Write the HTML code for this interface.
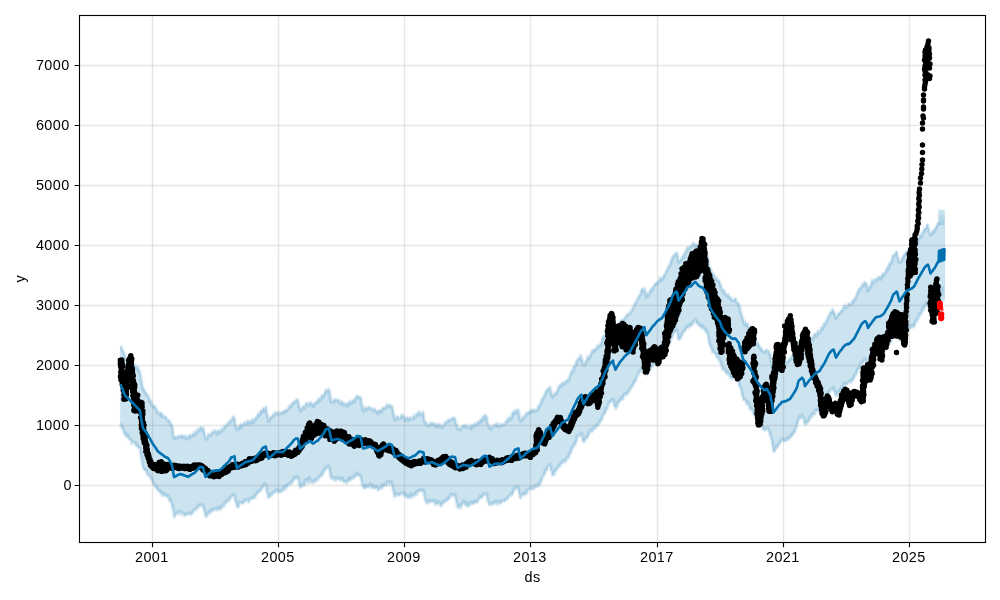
<!DOCTYPE html><html><head><meta charset="utf-8"><title>forecast</title><style>
html,body{margin:0;padding:0;background:#fff}svg{display:block;will-change:transform}text{font-family:"Liberation Sans",sans-serif;font-size:14.4px;fill:#000;letter-spacing:0.4px}
</style></head><body>
<svg width="1000" height="600" viewBox="0 0 1000 600">
<rect width="1000" height="600" fill="#fff"/>
<clipPath id="c"><rect x="79.5" y="15.5" width="906.0" height="527.0"/></clipPath>
<g clip-path="url(#c)">
<path d="M120.5,347.4 120.8,345.4 121,346.3 121.2,344.9 121.5,349.7 121.8,349.5 122,348.1 122.2,350 122.5,351.5 122.8,351.2 123,351.5 123.2,350.7 123.5,351.6 123.8,353.2 124,355 124.2,353.5 124.5,353.9 124.8,358.1 125,356.9 125.2,360.4 125.5,359.2 125.8,359.5 126,360.1 126.2,358.7 126.5,359 126.8,357.1 127,357.7 127.2,359.6 127.5,360.9 127.8,361 128,362.5 128.2,360.4 128.5,360.6 128.8,362.1 129,361.3 129.2,361.7 129.5,360.7 129.8,363.3 130,360.9 130.2,363.4 130.5,361.7 130.8,365.7 131,363.4 131.2,365.4 131.5,362.1 131.8,363.5 132,366.1 132.2,364.2 132.5,365.9 132.8,365.1 133,362.8 133.2,365.9 133.5,366.4 133.8,364.8 134,367.2 134.2,365.5 134.5,364.9 134.8,365.8 135,365 135.2,369.3 135.5,365.1 135.8,368.6 136,369.1 136.2,365.7 136.5,366.3 136.8,369.3 137,368.2 137.2,369.5 137.5,370.3 137.8,368.1 138,366.9 138.2,365.4 138.5,370.2 138.8,369.9 139,372 139.2,371.8 139.5,369.7 139.8,373.6 140,373 140.2,374.6 140.5,373.9 140.8,376.8 141,378.5 141.2,380 141.5,380.4 141.8,383.6 142,384.6 142.2,386.1 142.5,386.4 142.8,390.1 143,389.9 143.2,386.1 143.5,388.6 143.8,389.4 144,391.1 144.2,389.9 144.5,390.4 144.8,390.6 145,393 145.2,392.3 145.5,392.5 145.8,392.6 146,394.5 146.2,393.4 146.5,392.2 146.8,395.3 147,393.9 147.2,395.5 147.5,395.8 147.8,397.1 148,397.2 148.2,395.6 148.5,396.5 148.8,395.8 149,400.2 149.2,399.3 149.5,401.3 149.8,400 150,398.6 150.2,403.3 150.5,401.4 150.8,401.2 151,401.5 151.2,403.5 151.5,404.5 151.8,402.9 152,406.5 152.2,404.7 152.5,404.9 152.8,407.7 153,406.7 153.2,405.1 153.5,403.8 153.8,407 154,408.2 154.2,407.6 154.5,405.9 154.8,406.2 155,405.6 155.2,407.7 155.5,408.8 155.8,409.4 156,407.7 156.2,409.4 156.5,410.3 156.8,409.6 157,410.6 157.2,414.1 157.5,412.2 157.8,413.4 158,412.2 158.2,412.9 158.5,410.9 158.8,413.1 159,414.8 159.2,416.3 159.5,415.6 159.8,415.1 160,413.9 160.2,412.6 160.5,412.7 160.8,414.6 161,413.8 161.2,416.9 161.5,414.4 161.8,413 162,413.6 162.2,412.9 162.5,413.7 162.8,417.2 163,415.9 163.2,416.7 163.5,418.1 163.8,418.4 164,416.2 164.2,418.5 164.5,417.3 164.8,416.9 165,417.6 165.2,415.3 165.5,416.3 165.8,417.3 166,418.4 166.2,417.5 166.5,418.2 166.8,420 167,420.9 167.2,420.4 167.5,421.3 167.8,419.4 168,419.6 168.2,420.9 168.5,420.5 168.8,420.2 169,422.9 169.2,420.6 169.5,420.1 169.8,422.4 170,424.6 170.2,422.8 170.5,424.6 170.8,423 171,423.5 171.2,424 171.5,425.5 171.8,428.6 172,424.6 172.2,428.9 172.5,426.4 172.8,429.8 173,433.6 173.2,435.7 173.5,436.6 173.8,435.2 174,438.7 174.2,436.6 174.5,440.9 174.8,437.2 175,437.7 175.2,436.2 175.5,437.2 175.8,436.4 176,439.3 176.2,437.8 176.5,438.9 176.8,437 177,436.9 177.2,438.8 177.5,436 177.8,435 178,437.9 178.2,435.7 178.5,436.2 178.8,437.5 179,435.2 179.2,437.5 179.5,435.8 179.8,438.6 180,438.3 180.2,436.1 180.5,436.5 180.8,435.5 181,436.5 181.2,437.3 181.5,434.5 181.8,437.9 182,435.6 182.2,436.3 182.5,434.8 182.8,439.4 183,436.7 183.2,437 183.5,435.9 183.8,438.1 184,434 184.2,436.4 184.5,438.9 184.8,436 185,436.7 185.2,437.8 185.5,436.3 185.8,437.7 186,439.3 186.2,438.2 186.5,437.9 186.8,436.5 187,437.3 187.2,437.6 187.5,440 187.8,439.6 188,438.4 188.2,435.4 188.5,439.1 188.8,439 189,436.7 189.2,435.2 189.5,435.6 189.8,437.3 190,434 190.2,434.6 190.5,435.9 190.8,437.6 191,436.4 191.2,436.3 191.5,435.8 191.8,438.5 192,437.2 192.2,435.2 192.5,433.1 192.8,433.9 193,435.7 193.2,434.2 193.5,435.5 193.8,434 194,433.1 194.2,433.6 194.5,434.2 194.8,433.2 195,434 195.2,436.7 195.5,431.6 195.8,432.1 196,434.2 196.2,432.8 196.5,432.1 196.8,430.4 197,431.7 197.2,431.3 197.5,431.9 197.8,430.7 198,432.3 198.2,429.4 198.5,430.3 198.8,428.6 199,429.4 199.2,430.3 199.5,430.8 199.8,428.2 200,430.2 200.2,427.6 200.5,426.5 200.8,427.7 201,426.2 201.2,428.1 201.5,429.2 201.8,429.4 202,431.2 202.2,430 202.5,429.6 202.8,426.9 203,428.3 203.2,427.2 203.5,429.7 203.8,431.1 204,432.5 204.2,431.3 204.5,432.5 204.8,434.8 205,436.5 205.2,437.1 205.5,439.2 205.8,440.1 206,439.5 206.2,438.9 206.5,437.6 206.8,437.6 207,437.8 207.2,437.8 207.5,436.8 207.8,435.7 208,435 208.2,435.5 208.5,434.4 208.8,435.1 209,435.7 209.2,435.2 209.5,434.6 209.8,436.2 210,435.9 210.2,434.8 210.5,434.2 210.8,437.3 211,433.3 211.2,433.8 211.5,434.3 211.8,432.2 212,433 212.2,434.5 212.5,432.8 212.8,432.6 213,432.7 213.2,432.3 213.5,433.1 213.8,431.3 214,430.6 214.2,431.1 214.5,432.1 214.8,431.3 215,432 215.2,429.2 215.5,433.9 215.8,435.7 216,434 216.2,431.4 216.5,430.3 216.8,432.5 217,431.7 217.2,434.6 217.5,432.7 217.8,433.9 218,433.8 218.2,429.1 218.5,431.8 218.8,430.3 219,429.4 219.2,430.8 219.5,431.7 219.8,433.6 220,430.7 220.2,433.9 220.5,435.2 220.8,432.8 221,432.1 221.2,430.8 221.5,428.6 221.8,430.1 222,429.2 222.2,429.4 222.5,431.9 222.8,429.8 223,429.6 223.2,431.1 223.5,427.5 223.8,427.6 224,427.8 224.2,426.7 224.5,427.6 224.8,426 225,428.3 225.2,427.7 225.5,426.9 225.8,425.7 226,427.2 226.2,427.3 226.5,424.4 226.8,425.7 227,425.6 227.2,424.4 227.5,425.5 227.8,424.6 228,422 228.2,423.2 228.5,421.9 228.8,423.4 229,421.2 229.2,423.1 229.5,422.4 229.8,422.9 230,421.2 230.2,419.1 230.5,422.6 230.8,419.7 231,421.4 231.2,420.1 231.5,420.5 231.8,422.1 232,420 232.2,421.1 232.5,417.3 232.8,419.6 233,417.5 233.2,416.9 233.5,417.3 233.8,418.2 234,420.2 234.2,416.2 234.5,418.6 234.8,417.7 235,424 235.2,422.9 235.5,424.8 235.8,424.7 236,427.1 236.2,428.7 236.5,428 236.8,429.1 237,427.8 237.2,429.3 237.5,429.6 237.8,427.6 238,429.4 238.2,425.5 238.5,426.1 238.8,427.1 239,428.1 239.2,428 239.5,427.2 239.8,426.5 240,427 240.2,425 240.5,423.6 240.8,424.3 241,429.2 241.2,424.4 241.5,426.7 241.8,428.1 242,426.2 242.2,424.3 242.5,425.3 242.8,426.3 243,426.5 243.2,423.4 243.5,425 243.8,423.9 244,424.8 244.2,425 244.5,422.7 244.8,421.2 245,423.4 245.2,425.1 245.5,423.8 245.8,423.4 246,426.3 246.2,422.1 246.5,424.7 246.8,422.9 247,423.5 247.2,422.7 247.5,423.6 247.8,420.1 248,421.4 248.2,420.8 248.5,424.2 248.8,422.4 249,422.9 249.2,420.4 249.5,421.1 249.8,422.8 250,421.2 250.2,422.5 250.5,422.8 250.8,422.1 251,420.7 251.2,423.6 251.5,422.3 251.8,423 252,418.7 252.2,418.7 252.5,417.6 252.8,420.1 253,423.3 253.2,423.4 253.5,421.9 253.8,421.1 254,420.8 254.2,419.1 254.5,420 254.8,419.7 255,416.7 255.2,418.7 255.5,420.5 255.8,418.1 256,418.5 256.2,418 256.5,418.2 256.8,419.4 257,416.8 257.2,415.1 257.5,412.4 257.8,415.7 258,414.1 258.2,413.8 258.5,416.3 258.8,415.4 259,411.8 259.2,415.5 259.5,415.2 259.8,413.7 260,414.8 260.2,411.1 260.5,410.8 260.8,410.4 261,410.7 261.2,412.8 261.5,410 261.8,410.3 262,410.7 262.2,411.7 262.5,410.2 262.8,411 263,408.4 263.2,407.6 263.5,408.4 263.8,409.1 264,408.4 264.2,410.5 264.5,412.9 264.8,409.3 265,409.5 265.2,410.5 265.5,407.4 265.8,406.9 266,406.2 266.2,408.1 266.5,412.8 266.8,413.4 267,414.7 267.2,416.7 267.5,416.6 267.8,414.5 268,417.9 268.2,419.7 268.5,422.1 268.8,420.7 269,420 269.2,420 269.5,417.7 269.8,419.2 270,417.8 270.2,418.7 270.5,416.6 270.8,417.1 271,416.2 271.2,416.1 271.5,418.3 271.8,416.8 272,417.7 272.2,415.5 272.5,416.7 272.8,414 273,415 273.2,414.5 273.5,415.9 273.8,415.6 274,415.4 274.2,416.1 274.5,414.4 274.8,413.8 275,413.6 275.2,412.8 275.5,412.8 275.8,413.7 276,412.5 276.2,413.6 276.5,414.5 276.8,414.2 277,412.7 277.2,411.6 277.5,413.3 277.8,413.3 278,415 278.2,413 278.5,412.8 278.8,413.5 279,411.9 279.2,412.9 279.5,415.7 279.8,415.8 280,414.5 280.2,413.8 280.5,412.1 280.8,413.8 281,413.1 281.2,413.2 281.5,412 281.8,412.5 282,412.1 282.2,412.6 282.5,414.1 282.8,412.8 283,410.5 283.2,411.5 283.5,410.9 283.8,411.9 284,413 284.2,412.1 284.5,410.3 284.8,411.4 285,410.1 285.2,409.3 285.5,409.4 285.8,410.1 286,412.9 286.2,409.3 286.5,412.3 286.8,412.1 287,410 287.2,410.1 287.5,409.3 287.8,409.8 288,409.8 288.2,408.2 288.5,408.7 288.8,408.4 289,406.9 289.2,406.4 289.5,406.1 289.8,406.9 290,405.4 290.2,407.2 290.5,406.5 290.8,404.7 291,408.2 291.2,404.2 291.5,404.3 291.8,405.6 292,402.3 292.2,403.1 292.5,401.7 292.8,402.3 293,403.2 293.2,403.7 293.5,404.3 293.8,403.5 294,403.6 294.2,402.5 294.5,401 294.8,402.9 295,400.7 295.2,400.4 295.5,402.9 295.8,401.6 296,400.6 296.2,401.3 296.5,401.5 296.8,398.7 297,400.2 297.2,398.8 297.5,400.3 297.8,399.2 298,402.3 298.2,402.6 298.5,402.4 298.8,404.8 299,404.5 299.2,406.8 299.5,408.3 299.8,408.9 300,408 300.2,410.4 300.5,411.9 300.8,410.9 301,411.2 301.2,407.4 301.5,409.6 301.8,408.3 302,409.4 302.2,409.4 302.5,409.2 302.8,407.1 303,407.7 303.2,405.7 303.5,405.1 303.8,407.5 304,407.1 304.2,405.6 304.5,407 304.8,407.2 305,408.2 305.2,406.7 305.5,405.9 305.8,402.1 306,403.8 306.2,404.3 306.5,404.2 306.8,404.2 307,403.4 307.2,405.9 307.5,405.5 307.8,403.6 308,403 308.2,407.3 308.5,404.6 308.8,406.1 309,406.3 309.2,402 309.5,403.5 309.8,402.7 310,403.8 310.2,403.6 310.5,405.2 310.8,403.2 311,402.5 311.2,404.5 311.5,403.3 311.8,403.8 312,407.3 312.2,403.8 312.5,404.5 312.8,405.7 313,404.8 313.2,403.7 313.5,407 313.8,403.9 314,403.3 314.2,403.3 314.5,402.8 314.8,402.9 315,404.4 315.2,407 315.5,404.7 315.8,404.4 316,401.1 316.2,402.4 316.5,400.4 316.8,403 317,401.9 317.2,402.4 317.5,402 317.8,401.2 318,399.8 318.2,401.8 318.5,398.4 318.8,397.8 319,398.6 319.2,398.6 319.5,400.3 319.8,401.6 320,400.3 320.2,399.9 320.5,399.4 320.8,399.9 321,395.9 321.2,398.1 321.5,395.9 321.8,395 322,396 322.2,395.6 322.5,397.3 322.8,398.4 323,394.1 323.2,396.3 323.5,398.2 323.8,396.3 324,396.9 324.2,394.9 324.5,392.5 324.8,392.4 325,394.3 325.2,394.3 325.5,391.3 325.8,391 326,390.8 326.2,388.2 326.5,390.3 326.8,393 327,393.8 327.2,390.6 327.5,392.6 327.8,389.4 328,389 328.2,387.2 328.5,391.2 328.8,389.5 329,392.8 329.2,390.2 329.5,392.5 329.8,391.2 330,396.6 330.2,395.7 330.5,397.4 330.8,396.4 331,401.6 331.2,402.6 331.5,401.5 331.8,402.1 332,402.3 332.2,402.9 332.5,401.6 332.8,403.6 333,401 333.2,400.5 333.5,400.7 333.8,398.2 334,400.5 334.2,402.5 334.5,401.2 334.8,399.4 335,400.7 335.2,397.7 335.5,399.9 335.8,401 336,401.3 336.2,399.5 336.5,401.7 336.8,402.6 337,399.6 337.2,401 337.5,398.2 337.8,397.9 338,401.3 338.2,400.7 338.5,400.8 338.8,399.8 339,400.4 339.2,402.6 339.5,404.5 339.8,402.8 340,400.8 340.2,404.4 340.5,403.4 340.8,403.4 341,402.6 341.2,405.1 341.5,402.2 341.8,402.7 342,399.6 342.2,401.7 342.5,402.4 342.8,404.1 343,404.9 343.2,403.2 343.5,405.9 343.8,402.2 344,403 344.2,404 344.5,402.2 344.8,404.7 345,405.1 345.2,404.3 345.5,407.2 345.8,405.1 346,405.6 346.2,404.1 346.5,403.3 346.8,404.8 347,405.1 347.2,404.3 347.5,405.3 347.8,401 348,403 348.2,402.6 348.5,407 348.8,403.7 349,402.8 349.2,401 349.5,403.6 349.8,402.2 350,403.3 350.2,400.3 350.5,403.6 350.8,402 351,402.1 351.2,403.6 351.5,402.5 351.8,402.9 352,403.2 352.2,402.1 352.5,400.5 352.8,400.8 353,400 353.2,401.4 353.5,401.8 353.8,400.7 354,403.2 354.2,398.9 354.5,400.5 354.8,402.8 355,399.8 355.2,397.5 355.5,400.4 355.8,398.5 356,396.2 356.2,398.5 356.5,396.2 356.8,395.3 357,396.4 357.2,395.6 357.5,395.1 357.8,396.5 358,396.2 358.2,397.7 358.5,397.6 358.8,398.6 359,397.1 359.2,396 359.5,396 359.8,397.3 360,399.5 360.2,398.6 360.5,396.7 360.8,398.8 361,398.6 361.2,402.6 361.5,402 361.8,404.6 362,405.5 362.2,405.7 362.5,408.1 362.8,407.9 363,410.6 363.2,412.3 363.5,416.3 363.8,412 364,410.1 364.2,407.7 364.5,409.3 364.8,406.3 365,407.8 365.2,409.7 365.5,407.7 365.8,411 366,410.2 366.2,408.2 366.5,408.4 366.8,407.6 367,407.4 367.2,409.2 367.5,409 367.8,408.3 368,408.3 368.2,407.4 368.5,408.7 368.8,406.1 369,407.6 369.2,409.1 369.5,409.2 369.8,407.4 370,408 370.2,410.3 370.5,410.8 370.8,406.7 371,408 371.2,408.9 371.5,410.2 371.8,407.8 372,409.9 372.2,409 372.5,412.7 372.8,410.2 373,409.4 373.2,409.2 373.5,410.7 373.8,410 374,407.6 374.2,409.6 374.5,408.4 374.8,409.8 375,409.6 375.2,409.6 375.5,410.5 375.8,410.2 376,412.1 376.2,412.4 376.5,411.2 376.8,410.5 377,413.4 377.2,410.3 377.5,410.7 377.8,414.2 378,414.3 378.2,414.2 378.5,411.9 378.8,409.8 379,410.3 379.2,411.6 379.5,409.9 379.8,410 380,409.6 380.2,410.4 380.5,413.5 380.8,412.8 381,410.6 381.2,410.5 381.5,410.5 381.8,411.2 382,408.3 382.2,409.1 382.5,406.3 382.8,407.2 383,409.1 383.2,409.7 383.5,407.2 383.8,407.6 384,409.5 384.2,407.9 384.5,407.6 384.8,408.5 385,407.6 385.2,408.3 385.5,408 385.8,406.6 386,407.4 386.2,407.2 386.5,405.1 386.8,405 387,407 387.2,403.6 387.5,406.5 387.8,405.4 388,405.3 388.2,406.6 388.5,407 388.8,407.5 389,404.9 389.2,404.7 389.5,404.8 389.8,407.8 390,406.8 390.2,404.8 390.5,405.8 390.8,405.6 391,406.7 391.2,407.1 391.5,409.8 391.8,404.7 392,408.1 392.2,407.1 392.5,407.7 392.8,409.7 393,410.5 393.2,412.5 393.5,414.8 393.8,412.5 394,417.1 394.2,416.5 394.5,420.8 394.8,420 395,421.3 395.2,420.1 395.5,420.3 395.8,418.6 396,416.9 396.2,418.3 396.5,417.7 396.8,419.7 397,414.8 397.2,417.3 397.5,419 397.8,416.3 398,417.7 398.2,420.6 398.5,419.5 398.8,416.5 399,419.4 399.2,419.4 399.5,419.2 399.8,418.9 400,418.6 400.2,417 400.5,417.2 400.8,418.2 401,416.8 401.2,418.3 401.5,415.5 401.8,413 402,415.6 402.2,416.4 402.5,416.3 402.8,415.8 403,414.8 403.2,418.3 403.5,416.2 403.8,418.4 404,417.3 404.2,416.3 404.5,419.7 404.8,415.6 405,418.6 405.2,421.1 405.5,419.8 405.8,420.6 406,419 406.2,418 406.5,420.8 406.8,417.4 407,417.4 407.2,416.8 407.5,417.8 407.8,420.1 408,420.3 408.2,419.7 408.5,419 408.8,420.2 409,416.7 409.2,418 409.5,418 409.8,417.2 410,418.5 410.2,417.5 410.5,417.3 410.8,420.6 411,419.4 411.2,420 411.5,418.7 411.8,419.9 412,419.4 412.2,419.7 412.5,420.9 412.8,417.3 413,417.6 413.2,416.9 413.5,412.8 413.8,415.8 414,418 414.2,418.6 414.5,416.6 414.8,418.3 415,418.1 415.2,415.8 415.5,417.8 415.8,418 416,415.9 416.2,413.6 416.5,416.2 416.8,414.1 417,413.7 417.2,414.3 417.5,413.6 417.8,415.7 418,415.5 418.2,415.6 418.5,414 418.8,411.3 419,411.7 419.2,413.4 419.5,412.3 419.8,416.9 420,413.2 420.2,413 420.5,415.4 420.8,414.7 421,413.5 421.2,412.9 421.5,413.9 421.8,414.6 422,414.8 422.2,413.3 422.5,413.9 422.8,414.1 423,414.1 423.2,410 423.5,413.5 423.8,414.2 424,418.6 424.2,419.9 424.5,421.7 424.8,422.1 425,421.8 425.2,422.7 425.5,425.3 425.8,422.7 426,424.2 426.2,425.6 426.5,424.2 426.8,421.4 427,424.7 427.2,424.2 427.5,425.1 427.8,426.9 428,426.3 428.2,425.6 428.5,427.1 428.8,426.1 429,425.2 429.2,425 429.5,425 429.8,424.5 430,424.5 430.2,424.8 430.5,423 430.8,422 431,424.9 431.2,423 431.5,423.3 431.8,423.2 432,423.4 432.2,423.6 432.5,423.8 432.8,423 433,425.4 433.2,423.6 433.5,425.5 433.8,421.4 434,422 434.2,424.9 434.5,424.3 434.8,424.5 435,426.4 435.2,424.8 435.5,426.5 435.8,423.7 436,425.3 436.2,424.5 436.5,425.4 436.8,425.9 437,423.8 437.2,426.9 437.5,424.7 437.8,423.4 438,423.6 438.2,428.6 438.5,426.3 438.8,425.3 439,424.8 439.2,423.9 439.5,426.4 439.8,424.4 440,427.7 440.2,426.1 440.5,424.3 440.8,428.1 441,426.4 441.2,426.2 441.5,428.1 441.8,425.5 442,426.9 442.2,425.6 442.5,425.2 442.8,427.3 443,426 443.2,427.5 443.5,426.5 443.8,424.7 444,424.9 444.2,424.4 444.5,423 444.8,424.5 445,423.2 445.2,424.3 445.5,421.9 445.8,422.7 446,422.6 446.2,420.9 446.5,421.2 446.8,421 447,422.6 447.2,420.8 447.5,422.4 447.8,423.7 448,421.8 448.2,418.8 448.5,420.5 448.8,421.4 449,419.6 449.2,421.1 449.5,420.7 449.8,420.9 450,420.4 450.2,419.9 450.5,419.6 450.8,419.5 451,419.7 451.2,419.5 451.5,418.5 451.8,418.9 452,419.2 452.2,416.6 452.5,417.7 452.8,417.7 453,418.4 453.2,418.4 453.5,418.6 453.8,418.2 454,420.4 454.2,419.8 454.5,417 454.8,418.7 455,417.3 455.2,421.4 455.5,421.4 455.8,422.8 456,423.7 456.2,423.7 456.5,424.2 456.8,427.5 457,427.1 457.2,429.2 457.5,430.4 457.8,427.4 458,430.2 458.2,428.9 458.5,429.4 458.8,427.3 459,429.5 459.2,429.1 459.5,428 459.8,431.7 460,429.6 460.2,428.8 460.5,429.4 460.8,429.6 461,429.1 461.2,427.7 461.5,428.4 461.8,428.8 462,425.5 462.2,426.3 462.5,425.5 462.8,426.5 463,428 463.2,426.9 463.5,424.7 463.8,425.6 464,427.1 464.2,425.1 464.5,425.5 464.8,426.4 465,424.2 465.2,427.8 465.5,427 465.8,426.8 466,424.4 466.2,424.8 466.5,425.5 466.8,427.2 467,427.3 467.2,427.4 467.5,429.4 467.8,428.8 468,426.1 468.2,426.1 468.5,428.9 468.8,426.3 469,428.3 469.2,428.5 469.5,425.8 469.8,426.1 470,426.4 470.2,425.6 470.5,426.2 470.8,427.7 471,429.3 471.2,426.7 471.5,425.9 471.8,424.9 472,424.4 472.2,428.7 472.5,424.6 472.8,426.3 473,427.4 473.2,424.5 473.5,426.6 473.8,427 474,423.9 474.2,424.9 474.5,422.9 474.8,424.5 475,424 475.2,424.6 475.5,426.5 475.8,425.8 476,426.9 476.2,426.1 476.5,423.9 476.8,424.8 477,424.2 477.2,420.8 477.5,424.1 477.8,422.5 478,422.8 478.2,421.3 478.5,422.7 478.8,423.2 479,422.3 479.2,422.4 479.5,419.3 479.8,423.3 480,420.5 480.2,419.4 480.5,421.2 480.8,420.4 481,421.2 481.2,418.5 481.5,419.9 481.8,418.4 482,422.2 482.2,419.6 482.5,420.5 482.8,416.1 483,418 483.2,416.8 483.5,419.5 483.8,420.2 484,416.6 484.2,416.3 484.5,415.5 484.8,414.6 485,415.2 485.2,414.5 485.5,414.2 485.8,416.7 486,417.9 486.2,415.8 486.5,416.7 486.8,417.4 487,419.1 487.2,420 487.5,423.4 487.8,424.6 488,424.7 488.2,423.8 488.5,426.8 488.8,427.5 489,425.8 489.2,427.1 489.5,429.8 489.8,427.4 490,428.9 490.2,428.6 490.5,427.8 490.8,428.5 491,426.7 491.2,427.4 491.5,424.9 491.8,429.8 492,429 492.2,428.9 492.5,427.9 492.8,428.5 493,428.5 493.2,427.9 493.5,427.5 493.8,424.8 494,426.1 494.2,424.7 494.5,423.9 494.8,423.9 495,425.8 495.2,426.6 495.5,423.5 495.8,427.4 496,426.7 496.2,424.2 496.5,423.8 496.8,424.9 497,426.8 497.2,425.7 497.5,424.3 497.8,425.4 498,421.7 498.2,424.6 498.5,426.6 498.8,426.2 499,427.2 499.2,426.8 499.5,427 499.8,426.2 500,424.7 500.2,425.1 500.5,425 500.8,426.5 501,426.8 501.2,425.1 501.5,423.7 501.8,423.9 502,424.7 502.2,426.7 502.5,425.3 502.8,424.9 503,423.9 503.2,425.9 503.5,425 503.8,424.4 504,424.3 504.2,425.9 504.5,423.3 504.8,425.6 505,425.1 505.2,423.6 505.5,424.1 505.8,422.2 506,420.7 506.2,421.2 506.5,420.4 506.8,422.2 507,421.3 507.2,421.3 507.5,420.9 507.8,415.5 508,420.3 508.2,418 508.5,420.9 508.8,419.1 509,419.9 509.2,421 509.5,416.8 509.8,418.7 510,417.9 510.2,415.6 510.5,418.9 510.8,418.3 511,417.6 511.2,416.9 511.5,421.5 511.8,416.4 512,413.4 512.2,413.2 512.5,412.6 512.8,413.1 513,414.1 513.2,413.3 513.5,414.5 513.8,412.1 514,410 514.2,410.5 514.5,411.3 514.8,413.1 515,412.9 515.2,412 515.5,412.8 515.8,413.2 516,414.5 516.2,410.3 516.5,410.7 516.8,411.2 517,409.2 517.2,410.7 517.5,410.6 517.8,409.6 518,410.7 518.2,411.3 518.5,411.6 518.8,413.1 519,414.7 519.2,418.5 519.5,415.2 519.8,418 520,419.9 520.2,420.2 520.5,422 520.8,420.5 521,420.4 521.2,420.2 521.5,418.5 521.8,419.5 522,419.7 522.2,418.9 522.5,418.4 522.8,416.1 523,417.9 523.2,419.2 523.5,419.3 523.8,418.9 524,416.1 524.2,419.2 524.5,416.5 524.8,416.9 525,418.9 525.2,414.9 525.5,416.7 525.8,415.3 526,414.1 526.2,412.8 526.5,414.3 526.8,413 527,414.7 527.2,414.8 527.5,411.5 527.8,412.5 528,412.7 528.2,411.6 528.5,411.6 528.8,413.3 529,413.1 529.2,411.5 529.5,412.2 529.8,412.7 530,409.7 530.2,409.9 530.5,413.4 530.8,413.4 531,409.9 531.2,410.1 531.5,412.1 531.8,410 532,411 532.2,410.6 532.5,411.7 532.8,407.7 533,407.9 533.2,409 533.5,412 533.8,410.8 534,409.1 534.2,411.8 534.5,411.7 534.8,410.2 535,409.9 535.2,410.9 535.5,412 535.8,410.7 536,411 536.2,410.2 536.5,409.6 536.8,409.3 537,411 537.2,410.3 537.5,409.2 537.8,409.3 538,407.3 538.2,407.5 538.5,405 538.8,408.2 539,406.7 539.2,405.7 539.5,404.8 539.8,406.7 540,405.8 540.2,403.5 540.5,402.6 540.8,403.4 541,402.3 541.2,404.2 541.5,399.5 541.8,398.3 542,399.5 542.2,399.5 542.5,399.5 542.8,400.2 543,401.5 543.2,397.9 543.5,397 543.8,395 544,397.3 544.2,397.9 544.5,396.3 544.8,397 545,394 545.2,394.5 545.5,392.8 545.8,391.2 546,391.9 546.2,390.5 546.5,389.5 546.8,391.3 547,391.7 547.2,392.7 547.5,389.9 547.8,389.3 548,387.9 548.2,390.2 548.5,389.2 548.8,387.7 549,389.1 549.2,388.8 549.5,385.5 549.8,388.5 550,387.4 550.2,388 550.5,389 550.8,392.8 551,393.6 551.2,395 551.5,392.3 551.8,394 552,396.8 552.2,395 552.5,396.4 552.8,394.4 553,398.3 553.2,396.6 553.5,395.7 553.8,395.4 554,394.6 554.2,394.3 554.5,395 554.8,392.8 555,394.9 555.2,392.7 555.5,392.2 555.8,394.9 556,393.3 556.2,394.3 556.5,393.2 556.8,390.2 557,393 557.2,390 557.5,392.4 557.8,388.5 558,387.5 558.2,389.5 558.5,389 558.8,387.9 559,385.7 559.2,388 559.5,384.8 559.8,385.7 560,384.9 560.2,385 560.5,386.1 560.8,384.6 561,386.4 561.2,386.9 561.5,383.4 561.8,383.3 562,383.5 562.2,383.1 562.5,384.3 562.8,381.6 563,384.8 563.2,384.5 563.5,383 563.8,381.2 564,383 564.2,382.4 564.5,383.8 564.8,383.2 565,384.5 565.2,383.3 565.5,385.1 565.8,379.6 566,380.5 566.2,382.1 566.5,379.5 566.8,382.3 567,379.7 567.2,381.1 567.5,379.5 567.8,380 568,381.1 568.2,380.6 568.5,380.2 568.8,382.3 569,378.5 569.2,376.2 569.5,377.8 569.8,377.1 570,377 570.2,377.1 570.5,373.1 570.8,374.9 571,374.4 571.2,372.4 571.5,372.2 571.8,367.6 572,370.6 572.2,373.6 572.5,369.2 572.8,370.8 573,372 573.2,372.4 573.5,372.5 573.8,366.8 574,367.6 574.2,368 574.5,365.3 574.8,367 575,369.1 575.2,367.7 575.5,366.1 575.8,361.4 576,363.6 576.2,363.4 576.5,361.4 576.8,361.3 577,364.8 577.2,360.5 577.5,359.1 577.8,360.3 578,359.2 578.2,358.8 578.5,358.7 578.8,359.4 579,358.7 579.2,357.3 579.5,359.2 579.8,360 580,357.5 580.2,358.2 580.5,356.4 580.8,354.5 581,356.5 581.2,359.1 581.5,358.4 581.8,359.4 582,361.5 582.2,360.3 582.5,360 582.8,363.1 583,363.6 583.2,365 583.5,365.4 583.8,365.7 584,364.4 584.2,365.5 584.5,365.7 584.8,364 585,364.5 585.2,360.6 585.5,361.5 585.8,363.9 586,364 586.2,361.8 586.5,361 586.8,359.2 587,360.6 587.2,360 587.5,356 587.8,357.7 588,358.2 588.2,358.7 588.5,357.3 588.8,359.3 589,356.5 589.2,360.1 589.5,357.7 589.8,355.3 590,357.7 590.2,357.1 590.5,354.6 590.8,357.9 591,353.4 591.2,354.1 591.5,354.3 591.8,349.2 592,353.4 592.2,352.2 592.5,352.4 592.8,350.6 593,351.9 593.2,349.7 593.5,349.6 593.8,350.1 594,348.9 594.2,352.4 594.5,349 594.8,349.9 595,350.3 595.2,349.9 595.5,350.2 595.8,349.6 596,348.1 596.2,348 596.5,348.6 596.8,348.8 597,348 597.2,345.8 597.5,344 597.8,349.5 598,348.3 598.2,347.5 598.5,347.5 598.8,346.3 599,345.5 599.2,345.9 599.5,345.6 599.8,344.8 600,343.5 600.2,344.4 600.5,344.9 600.8,343.7 601,344.4 601.2,342 601.5,343.1 601.8,341.8 602,338.9 602.2,337.4 602.5,339.5 602.8,337.4 603,338.5 603.2,336.8 603.5,337.6 603.8,336 604,334.5 604.2,336.2 604.5,335.9 604.8,336.8 605,335 605.2,334.9 605.5,335.6 605.8,335 606,333.6 606.2,333.1 606.5,331.6 606.8,331.2 607,330.7 607.2,329.8 607.5,328.9 607.8,328.7 608,331.4 608.2,328.3 608.5,328 608.8,326.8 609,326.3 609.2,325.8 609.5,324.2 609.8,323.5 610,326.8 610.2,324.4 610.5,326.4 610.8,326 611,326.8 611.2,326.8 611.5,324.5 611.8,322.8 612,321.9 612.2,322.2 612.5,323.1 612.8,320.4 613,322.9 613.2,325.3 613.5,327 613.8,326.7 614,328.2 614.2,327.5 614.5,327.8 614.8,326.2 615,329 615.2,332.2 615.5,331.8 615.8,332 616,329.5 616.2,331.6 616.5,328 616.8,329.5 617,328.1 617.2,326.2 617.5,328.5 617.8,327 618,327.1 618.2,327 618.5,325.9 618.8,325 619,325.5 619.2,323.7 619.5,323.7 619.8,322.2 620,320.5 620.2,321.1 620.5,320.8 620.8,321.4 621,322.7 621.2,319 621.5,321.6 621.8,319 622,320.8 622.2,321.6 622.5,319.2 622.8,319.6 623,321.7 623.2,320.9 623.5,320 623.8,318.6 624,322.2 624.2,319.1 624.5,318.1 624.8,320.5 625,318.4 625.2,316.5 625.5,318.2 625.8,316.9 626,317.4 626.2,316.8 626.5,315.1 626.8,317.5 627,316.2 627.2,314.2 627.5,313.9 627.8,315.5 628,313.7 628.2,314 628.5,314.6 628.8,314.1 629,312.1 629.2,314.9 629.5,315.1 629.8,314.7 630,315.3 630.2,313.1 630.5,312.9 630.8,313.2 631,310.4 631.2,312.9 631.5,312.8 631.8,311.5 632,312.1 632.2,310.2 632.5,307.4 632.8,309.8 633,308.7 633.2,308.7 633.5,307.7 633.8,308.5 634,306.7 634.2,304.5 634.5,305.4 634.8,305.2 635,302.9 635.2,302.9 635.5,302.6 635.8,301.9 636,302.5 636.2,302.8 636.5,303.4 636.8,301.9 637,301 637.2,300.6 637.5,300.4 637.8,297.8 638,298.8 638.2,298.1 638.5,297.3 638.8,296.8 639,296.4 639.2,296.2 639.5,294.4 639.8,296 640,294.9 640.2,294.9 640.5,294.9 640.8,294.2 641,291.3 641.2,290.7 641.5,288.7 641.8,288 642,288.5 642.2,292.7 642.5,288.2 642.8,290.8 643,291.9 643.2,289.3 643.5,291.7 643.8,291.8 644,290.1 644.2,291.7 644.5,289 644.8,289.9 645,292.2 645.2,291.7 645.5,291.7 645.8,292.9 646,298.5 646.2,295.7 646.5,296.9 646.8,295.6 647,296 647.2,294.8 647.5,293.9 647.8,292.4 648,292.5 648.2,293.7 648.5,295.4 648.8,297.1 649,295.4 649.2,296 649.5,293.6 649.8,292.1 650,289.8 650.2,291.1 650.5,288.5 650.8,290.9 651,293 651.2,290.6 651.5,290.8 651.8,288.3 652,287.3 652.2,288.6 652.5,288.9 652.8,290.3 653,290.6 653.2,286.5 653.5,286.5 653.8,286.3 654,285.5 654.2,284.1 654.5,285.6 654.8,285.8 655,285.5 655.2,283.1 655.5,284.1 655.8,281.7 656,285 656.2,282.6 656.5,283.5 656.8,282.9 657,282.5 657.2,281.7 657.5,280.6 657.8,284.8 658,282.7 658.2,282.4 658.5,284.4 658.8,281.3 659,281.5 659.2,279.8 659.5,280.2 659.8,278.7 660,279.3 660.2,279.5 660.5,281 660.8,281.4 661,276.6 661.2,278.3 661.5,278.1 661.8,278.7 662,277 662.2,280.4 662.5,278.3 662.8,278.9 663,278.2 663.2,276.1 663.5,276.9 663.8,274.5 664,275.1 664.2,275.2 664.5,275 664.8,274.7 665,274.1 665.2,276.5 665.5,273.9 665.8,271.4 666,271.7 666.2,271 666.5,271 666.8,269.9 667,269 667.2,271.6 667.5,269.1 667.8,268.1 668,267.6 668.2,267 668.5,268.5 668.8,267.4 669,268.3 669.2,263.1 669.5,266.7 669.8,266.8 670,267.1 670.2,264.3 670.5,261.9 670.8,264.6 671,262.3 671.2,259.5 671.5,259.7 671.8,260.7 672,260.2 672.2,259 672.5,256.2 672.8,259.9 673,255 673.2,256 673.5,254.2 673.8,257.5 674,256.3 674.2,256.7 674.5,255.6 674.8,255.2 675,255.2 675.2,252.2 675.5,255.4 675.8,254.8 676,252.7 676.2,253.8 676.5,253.7 676.8,255.1 677,253.4 677.2,254.3 677.5,255.6 677.8,256.5 678,259.7 678.2,261.9 678.5,262.4 678.8,261.9 679,262.1 679.2,261.3 679.5,260.8 679.8,261 680,260.6 680.2,260.5 680.5,261.3 680.8,258.1 681,261.4 681.2,257.8 681.5,260 681.8,258.4 682,259.3 682.2,257.4 682.5,255.6 682.8,257.5 683,256.2 683.2,256.6 683.5,256.9 683.8,258.2 684,257 684.2,255.4 684.5,252.2 684.8,253.3 685,253.6 685.2,255.4 685.5,253.1 685.8,252 686,253 686.2,250.7 686.5,250.1 686.8,249.6 687,246.9 687.2,249.6 687.5,248.6 687.8,247.5 688,246.5 688.2,248.6 688.5,250.5 688.8,247.9 689,247.3 689.2,249 689.5,246.3 689.8,245.2 690,247.2 690.2,246.6 690.5,246.8 690.8,246.1 691,246.9 691.2,245.9 691.5,245 691.8,245 692,246.4 692.2,246.8 692.5,246.8 692.8,245.9 693,240.4 693.2,242.7 693.5,243.7 693.8,244.8 694,242.9 694.2,246.7 694.5,245.1 694.8,243.8 695,244.7 695.2,244.8 695.5,245 695.8,247.1 696,245.7 696.2,244.2 696.5,244.9 696.8,245.4 697,244 697.2,246.8 697.5,244 697.8,247.8 698,246.9 698.2,244.4 698.5,245.3 698.8,246.1 699,244.6 699.2,244.2 699.5,246.8 699.8,249.9 700,245.8 700.2,248.6 700.5,248.2 700.8,248.5 701,248.6 701.2,249.1 701.5,250.9 701.8,250.4 702,248.4 702.2,251.7 702.5,248.3 702.8,250.8 703,250.3 703.2,251.8 703.5,251.1 703.8,252.2 704,251.4 704.2,253.1 704.5,252.9 704.8,255.7 705,252.8 705.2,255.7 705.5,254.7 705.8,254 706,252.7 706.2,254.2 706.5,252.3 706.8,253 707,255.9 707.2,252.9 707.5,256.4 707.8,257.2 708,259.7 708.2,261.3 708.5,263.6 708.8,263.9 709,264.9 709.2,266.4 709.5,268.9 709.8,270.2 710,271.4 710.2,270.4 710.5,269.6 710.8,267.6 711,270.8 711.2,271.9 711.5,271.2 711.8,273.4 712,274.4 712.2,273.2 712.5,274.8 712.8,274.4 713,272.4 713.2,274.4 713.5,274.7 713.8,276.1 714,274.6 714.2,275.6 714.5,275.4 714.8,277.1 715,277.5 715.2,278.7 715.5,278.6 715.8,278 716,278.7 716.2,279.2 716.5,279.9 716.8,281.8 717,276.9 717.2,280 717.5,280.8 717.8,282 718,279.4 718.2,281.5 718.5,282.5 718.8,281.2 719,279.7 719.2,281.9 719.5,281.1 719.8,283.8 720,282.6 720.2,287 720.5,286 720.8,285.3 721,286.1 721.2,285.8 721.5,288.5 721.8,290.8 722,289.5 722.2,291.2 722.5,289 722.8,290.7 723,293.3 723.2,288.7 723.5,292 723.8,292.2 724,289.4 724.2,290.9 724.5,292.5 724.8,294.7 725,292.8 725.2,292.8 725.5,294.4 725.8,294.4 726,295.3 726.2,295 726.5,297 726.8,294.8 727,297.8 727.2,295 727.5,294.1 727.8,295.7 728,295.9 728.2,293.3 728.5,296.5 728.8,294.9 729,295.9 729.2,298.3 729.5,296.5 729.8,298.2 730,297.4 730.2,300.5 730.5,298.1 730.8,296.9 731,297.4 731.2,298.2 731.5,300.2 731.8,300.5 732,301.5 732.2,300.3 732.5,300.1 732.8,300.6 733,300.3 733.2,301.1 733.5,301.7 733.8,301.5 734,299.5 734.2,297.8 734.5,299 734.8,300.5 735,297 735.2,299.3 735.5,300.2 735.8,298.9 736,298.8 736.2,302.9 736.5,303 736.8,301.5 737,304 737.2,304.5 737.5,301.7 737.8,306.7 738,302.4 738.2,303.5 738.5,302.6 738.8,304.3 739,302.8 739.2,306.7 739.5,308.5 739.8,307.9 740,308.2 740.2,311.7 740.5,309.9 740.8,313.2 741,312.6 741.2,314.2 741.5,314.8 741.8,315.7 742,316.3 742.2,316.3 742.5,317.4 742.8,319.5 743,319.9 743.2,319.3 743.5,320.5 743.8,321.3 744,322.9 744.2,324.1 744.5,324.9 744.8,323.5 745,323.8 745.2,321.7 745.5,320.1 745.8,324.1 746,322.6 746.2,323.9 746.5,323.9 746.8,326.5 747,324.2 747.2,325.6 747.5,324.1 747.8,323 748,323.7 748.2,327.3 748.5,328.4 748.8,329 749,330.5 749.2,328.7 749.5,329.5 749.8,329.9 750,331.2 750.2,330.9 750.5,330.2 750.8,333.7 751,328.9 751.2,331.8 751.5,332.2 751.8,332.2 752,331.3 752.2,333 752.5,333.3 752.8,333.2 753,335.1 753.2,335.3 753.5,335.5 753.8,337.4 754,335.5 754.2,337.9 754.5,337.3 754.8,339.2 755,339.3 755.2,339.6 755.5,338.3 755.8,338.8 756,339.6 756.2,341.5 756.5,342.9 756.8,344 757,342.6 757.2,344 757.5,342.5 757.8,342.4 758,344.8 758.2,345.3 758.5,344.2 758.8,343.9 759,346.9 759.2,345.4 759.5,344.5 759.8,349.8 760,347.8 760.2,347.7 760.5,349.5 760.8,347.9 761,351.1 761.2,347.4 761.5,348.1 761.8,350 762,349.7 762.2,352.7 762.5,349 762.8,350.2 763,351.5 763.2,351.8 763.5,352.3 763.8,351.5 764,354.2 764.2,351.1 764.5,352 764.8,352.9 765,351.5 765.2,351.6 765.5,351.1 765.8,350.5 766,349.6 766.2,350.1 766.5,348.7 766.8,351.1 767,348.6 767.2,353.1 767.5,352.8 767.8,352.3 768,350.7 768.2,350.4 768.5,352.7 768.8,352.3 769,353.6 769.2,352.9 769.5,355.4 769.8,353.2 770,354.4 770.2,352.8 770.5,355.2 770.8,360 771,360.2 771.2,361.2 771.5,363.8 771.8,363.7 772,365.9 772.2,362.4 772.5,367.1 772.8,369.2 773,368.8 773.2,371.3 773.5,375.7 773.8,373 774,373.2 774.2,374.3 774.5,372.6 774.8,373.1 775,371.1 775.2,372.7 775.5,373.8 775.8,372.9 776,369.4 776.2,372.7 776.5,371.7 776.8,369.3 777,371 777.2,365.9 777.5,370.4 777.8,367.5 778,370.6 778.2,368.4 778.5,366.4 778.8,367.7 779,367.6 779.2,367.6 779.5,367.9 779.8,365.3 780,366.8 780.2,367 780.5,365.6 780.8,364 781,363.3 781.2,364.7 781.5,364.4 781.8,362.1 782,361.2 782.2,364.3 782.5,360.7 782.8,362.7 783,361.4 783.2,360.2 783.5,362.5 783.8,362.1 784,364.3 784.2,365.4 784.5,362.5 784.8,363.5 785,363.1 785.2,360.7 785.5,360.3 785.8,363.4 786,361 786.2,361.6 786.5,361.6 786.8,362.1 787,361.6 787.2,363 787.5,363.3 787.8,361.1 788,359.8 788.2,361.6 788.5,359.7 788.8,360 789,361.5 789.2,362.1 789.5,359.7 789.8,358.1 790,360.6 790.2,356.6 790.5,358.2 790.8,360.7 791,359.4 791.2,356.6 791.5,356 791.8,358.9 792,357.2 792.2,356 792.5,356.7 792.8,355.5 793,353.9 793.2,357.3 793.5,355 793.8,353.9 794,352.8 794.2,354.3 794.5,352.7 794.8,354.1 795,352.6 795.2,353.8 795.5,351.5 795.8,350.7 796,348.7 796.2,349.5 796.5,351.5 796.8,353.5 797,347.1 797.2,345.8 797.5,346.7 797.8,346.4 798,344.4 798.2,344.6 798.5,341.5 798.8,342.2 799,343.3 799.2,343.9 799.5,341.4 799.8,341 800,341.6 800.2,342.2 800.5,341.2 800.8,339.6 801,340.9 801.2,341.5 801.5,339.4 801.8,338.5 802,340.8 802.2,341 802.5,342 802.8,341.2 803,340.4 803.2,340.8 803.5,340.1 803.8,341.2 804,342.9 804.2,344.2 804.5,347.4 804.8,345.4 805,347.7 805.2,346.5 805.5,349 805.8,347.5 806,346.7 806.2,347.7 806.5,346.1 806.8,344.8 807,346.5 807.2,344.6 807.5,344.9 807.8,343.6 808,343.8 808.2,343.6 808.5,342.7 808.8,344.3 809,342.8 809.2,342.9 809.5,341.4 809.8,339.9 810,338.8 810.2,340.6 810.5,341.3 810.8,339.3 811,340.1 811.2,340.7 811.5,337.5 811.8,337.8 812,337.4 812.2,340.8 812.5,340.2 812.8,338.5 813,336.3 813.2,337.4 813.5,338 813.8,335.5 814,334.4 814.2,335.6 814.5,333.6 814.8,335.4 815,336.1 815.2,334 815.5,333.5 815.8,334.6 816,334.6 816.2,335 816.5,336 816.8,335.1 817,332.7 817.2,332 817.5,332.8 817.8,333.1 818,332.9 818.2,330.3 818.5,333.2 818.8,333.3 819,332.5 819.2,332.9 819.5,333.1 819.8,334 820,330.3 820.2,331.9 820.5,330.6 820.8,329.6 821,330.3 821.2,329 821.5,326.8 821.8,328 822,328.9 822.2,327 822.5,329.7 822.8,328.5 823,328.2 823.2,326.9 823.5,327.3 823.8,324.1 824,324 824.2,327.1 824.5,324.7 824.8,323.8 825,321.8 825.2,323.9 825.5,322.9 825.8,323.5 826,323.5 826.2,322.6 826.5,320.7 826.8,319.7 827,320.3 827.2,319.3 827.5,320.5 827.8,316.9 828,317.1 828.2,316.3 828.5,319.1 828.8,315.1 829,316.8 829.2,317.2 829.5,314.6 829.8,315 830,310.8 830.2,312.8 830.5,311.3 830.8,313.7 831,313.4 831.2,311.8 831.5,313.4 831.8,312.1 832,310.4 832.2,309.9 832.5,308.1 832.8,310.5 833,314.2 833.2,311.6 833.5,312.4 833.8,311.5 834,313.4 834.2,313.4 834.5,313.3 834.8,312.2 835,314.6 835.2,317.8 835.5,317.1 835.8,319.1 836,318 836.2,315.4 836.5,317.3 836.8,316.9 837,315.5 837.2,315.4 837.5,316.1 837.8,314.8 838,315.9 838.2,314.9 838.5,311.8 838.8,314.2 839,313.3 839.2,312.8 839.5,314.1 839.8,312.9 840,314.1 840.2,314.7 840.5,313.5 840.8,310.6 841,310.9 841.2,312.1 841.5,310.5 841.8,309.8 842,310.6 842.2,311.1 842.5,310.5 842.8,310.7 843,308.4 843.2,308.3 843.5,307.5 843.8,307.2 844,304.7 844.2,307 844.5,305.7 844.8,308.4 845,307.9 845.2,307.7 845.5,306.9 845.8,305.8 846,308.1 846.2,306.7 846.5,307.4 846.8,305.3 847,305.4 847.2,306.5 847.5,307.9 847.8,305.4 848,307.8 848.2,308 848.5,302.5 848.8,304.4 849,303.6 849.2,304.9 849.5,304.2 849.8,304.4 850,305.4 850.2,305.2 850.5,304.5 850.8,304.3 851,304.3 851.2,303.7 851.5,303.8 851.8,302.5 852,302.7 852.2,299.9 852.5,302 852.8,303.4 853,301.7 853.2,299.9 853.5,303 853.8,300.6 854,297 854.2,299.8 854.5,300.2 854.8,299.2 855,300 855.2,299.2 855.5,298.5 855.8,295.7 856,295.9 856.2,296.5 856.5,296.2 856.8,293.6 857,293.6 857.2,294.4 857.5,291 857.8,290.5 858,292.3 858.2,292.3 858.5,290.7 858.8,287.8 859,290.1 859.2,288.1 859.5,290.2 859.8,288.9 860,288.9 860.2,288.8 860.5,286.9 860.8,288.4 861,288.9 861.2,287.9 861.5,288.8 861.8,286 862,287.6 862.2,286.3 862.5,284 862.8,284.4 863,283.5 863.2,283.8 863.5,284.9 863.8,286.2 864,283.8 864.2,283.6 864.5,280.9 864.8,282.8 865,284 865.2,284.1 865.5,284 865.8,283.2 866,283 866.2,284.3 866.5,282.9 866.8,283.7 867,287.5 867.2,286.7 867.5,291.6 867.8,288.9 868,291.5 868.2,288.5 868.5,289.2 868.8,286.9 869,287.4 869.2,286.4 869.5,286.2 869.8,287.7 870,289.2 870.2,286.3 870.5,287.2 870.8,285.4 871,284.6 871.2,287 871.5,281.3 871.8,282.6 872,280.1 872.2,280.8 872.5,279.9 872.8,285.7 873,282.2 873.2,284.8 873.5,284.1 873.8,281.6 874,282.3 874.2,283.5 874.5,281.3 874.8,281 875,281.1 875.2,278.3 875.5,278.9 875.8,280.1 876,280.3 876.2,278.6 876.5,279.5 876.8,279.3 877,278.7 877.2,279.2 877.5,278.6 877.8,278.9 878,277.2 878.2,277.5 878.5,278.7 878.8,275.8 879,277.8 879.2,276.7 879.5,276.6 879.8,278.6 880,277.3 880.2,277.3 880.5,277.7 880.8,278.3 881,281.2 881.2,274.8 881.5,276.8 881.8,275.8 882,276.7 882.2,274.9 882.5,272.6 882.8,277.6 883,274.6 883.2,275.6 883.5,273.6 883.8,273.6 884,274 884.2,275 884.5,274.4 884.8,272.5 885,273.8 885.2,272.6 885.5,272.7 885.8,272.1 886,272 886.2,269.7 886.5,269.5 886.8,269.2 887,268.5 887.2,267.1 887.5,269.9 887.8,267 888,268.9 888.2,268.5 888.5,270.1 888.8,264.5 889,268.4 889.2,264.2 889.5,262.7 889.8,264.4 890,267 890.2,264.6 890.5,262.1 890.8,262.7 891,264.5 891.2,260.7 891.5,261.7 891.8,260.5 892,262.2 892.2,257.8 892.5,258.6 892.8,255.7 893,255.2 893.2,257.1 893.5,256.5 893.8,253.5 894,256.3 894.2,256.3 894.5,254.7 894.8,255.7 895,255.5 895.2,253.9 895.5,253.2 895.8,252.5 896,252.7 896.2,251 896.5,252.2 896.8,250.8 897,253.7 897.2,255.1 897.5,255 897.8,258.3 898,260.6 898.2,260.7 898.5,258.1 898.8,262.1 899,261.6 899.2,261.9 899.5,261.9 899.8,262.1 900,263.7 900.2,262.5 900.5,261.2 900.8,260.4 901,260.3 901.2,261.1 901.5,262.4 901.8,258.6 902,259.7 902.2,258.6 902.5,257.1 902.8,257.6 903,257.2 903.2,254.8 903.5,255.3 903.8,258 904,256.5 904.2,256.3 904.5,254.6 904.8,254.2 905,254.6 905.2,252.8 905.5,251.9 905.8,253.3 906,254.5 906.2,251.9 906.5,254.1 906.8,253.2 907,250.9 907.2,251.7 907.5,251.4 907.8,252.1 908,252.3 908.2,250 908.5,250.1 908.8,252.4 909,250.7 909.2,250.5 909.5,250.5 909.8,252.2 910,249.1 910.2,252.1 910.5,249.8 910.8,251.8 911,252.5 911.2,248.9 911.5,250.8 911.8,249.8 912,249.8 912.2,250.2 912.5,248.9 912.8,248.1 913,249.3 913.2,248.7 913.5,246.5 913.8,245.1 914,249.5 914.2,247.8 914.5,246.9 914.8,245.2 915,245.6 915.2,246.2 915.5,244.3 915.8,247.2 916,245.3 916.2,245.7 916.5,243.9 916.8,243.2 917,242.4 917.2,242.8 917.5,241.3 917.8,240.4 918,240.2 918.2,239.8 918.5,241.4 918.8,239.3 919,238 919.2,238.3 919.5,239.2 919.8,235.9 920,236 920.2,234.9 920.5,235.2 920.8,235.8 921,235.2 921.2,236.6 921.5,237.3 921.8,236.4 922,235.1 922.2,234.5 922.5,232.8 922.8,232.5 923,233.7 923.2,230.5 923.5,231.3 923.8,228.6 924,230.4 924.2,229.9 924.5,229.3 924.8,230.7 925,228.4 925.2,228.2 925.5,228.2 925.8,227.7 926,230.2 926.2,227.4 926.5,227.4 926.8,224.7 927,225.2 927.2,225.1 927.5,224.7 927.8,224.3 928,225.7 928.2,228 928.5,228.9 928.8,229.8 929,230.4 929.2,234.9 929.5,234.5 929.8,233.8 930,234.6 930.2,233.6 930.5,235.1 930.8,235.1 931,234.6 931.2,233.1 931.5,232.8 931.8,234 932,233.2 932.2,229.7 932.5,231.8 932.8,233.5 933,231.5 933.2,232.8 933.5,230.4 933.8,232.6 934,229.6 934.2,229 934.5,229.8 934.8,232.7 935,228.7 935.2,227.4 935.5,229 935.8,228.2 936,229.7 936.2,225.8 936.5,225.2 936.8,226.1 937,226.3 937.2,225.7 937.5,226.2 937.8,222.6 938,223 938.2,223.1 938.5,223.3 938.5,208.6 938.7,224.6 938.9,209.3 939.1,224.6 939.3,210 939.5,224.3 939.7,209.6 939.9,223.8 940.1,210.1 940.3,224.1 940.5,210.1 940.7,223.6 940.9,210.6 941.1,223.9 941.3,210.5 941.5,224.2 941.7,210.1 941.9,224.4 942.1,210.2 942.3,224.5 942.5,210.6 942.7,224.9 942.9,210.2 943.1,225.5 943.3,209.4 943.5,225.3 943.7,209.8 943.9,223.6 944.1,210.1 944.3,224.4 944.5,210.8 944.7,224.2 L944.7,287.1 944.5,301.1 944.3,287.5 944.1,301.2 943.9,286.2 943.7,301.8 943.5,287.8 943.3,301.3 943.1,286.7 942.9,301.4 942.7,286.7 942.5,300.7 942.3,287 942.1,301.1 941.9,286.6 941.7,302.6 941.5,286.4 941.3,301.4 941.1,286.3 940.9,301.3 940.7,287.4 940.5,301.6 940.3,287.1 940.1,300.5 939.9,287 939.7,302.5 939.5,287.9 939.3,300.9 939.1,287.3 938.9,300.3 938.7,287.1 938.5,301.5 938.5,300.4 938.2,300.2 938,300.9 937.8,302.4 937.5,301.6 937.2,305 937,303 936.8,305.7 936.5,303.1 936.2,305.6 936,305 935.8,304.2 935.5,304.3 935.2,301.7 935,301.8 934.8,304.4 934.5,303.8 934.2,306.9 934,307.6 933.8,308.6 933.5,306 933.2,307.5 933,309.5 932.8,308.9 932.5,309.2 932.2,308.9 932,311.2 931.8,310.6 931.5,310.1 931.2,308.1 931,308.6 930.8,311.4 930.5,313.3 930.2,312.3 930,312.6 929.8,310.9 929.5,308.3 929.2,309.2 929,306.8 928.8,309.2 928.5,309.4 928.2,305.6 928,303.1 927.8,302.8 927.5,302.5 927.2,303.5 927,302.4 926.8,305.6 926.5,303.8 926.2,303.2 926,303 925.8,304.5 925.5,305.2 925.2,306.2 925,306.2 924.8,305.9 924.5,309.1 924.2,305.6 924,310.6 923.8,307.8 923.5,308 923.2,307.6 923,309.6 922.8,309.2 922.5,310.9 922.2,311.3 922,307.8 921.8,311.5 921.5,310.2 921.2,314.7 921,312.1 920.8,313.8 920.5,313.3 920.2,313.5 920,313.9 919.8,313.4 919.5,315 919.2,315 919,314.8 918.8,316.6 918.5,318.4 918.2,319.1 918,318.8 917.8,316.6 917.5,316.6 917.2,316.2 917,317.5 916.8,319.5 916.5,320 916.2,322.2 916,322.2 915.8,321.7 915.5,319.8 915.2,321.4 915,321.7 914.8,325.7 914.5,326.4 914.2,325.3 914,327.8 913.8,327 913.5,323.8 913.2,325.9 913,328.7 912.8,326.7 912.5,326.7 912.2,325.2 912,324.8 911.8,327.1 911.5,325.6 911.2,326.8 911,328 910.8,329 910.5,327.1 910.2,328.1 910,327.5 909.8,324.4 909.5,328.4 909.2,326.7 909,328 908.8,330.5 908.5,329.4 908.2,329.1 908,328.1 907.8,328 907.5,326.5 907.2,328.9 907,327 906.8,329.3 906.5,330.1 906.2,329.7 906,330.2 905.8,330.6 905.5,332 905.2,330.9 905,332.3 904.8,335.1 904.5,331.8 904.2,334.6 904,335.1 903.8,334 903.5,332.8 903.2,333.6 903,334 902.8,336.1 902.5,334.4 902.2,336.2 902,335.2 901.8,338.8 901.5,335.7 901.2,335.1 901,337.8 900.8,339.1 900.5,338.2 900.2,338.7 900,338.1 899.8,340.5 899.5,340.5 899.2,339 899,339.1 898.8,338.5 898.5,337.1 898.2,332 898,332.4 897.8,332.6 897.5,331.7 897.2,330.4 897,331.8 896.8,332.7 896.5,329.5 896.2,329.8 896,331.9 895.8,329.4 895.5,331.4 895.2,332.9 895,333.1 894.8,332.6 894.5,331.3 894.2,333.2 894,330.5 893.8,330.9 893.5,333.3 893.2,332.7 893,333.2 892.8,332 892.5,336.2 892.2,337.5 892,336.7 891.8,338.5 891.5,339.3 891.2,340.9 891,339.9 890.8,340.9 890.5,343.8 890.2,341.9 890,340.8 889.8,342.6 889.5,341.7 889.2,343.1 889,341.4 888.8,343.7 888.5,342.7 888.2,344.6 888,347.5 887.8,346.7 887.5,345.7 887.2,346.6 887,347.5 886.8,347.7 886.5,347.4 886.2,345.8 886,347.8 885.8,349.6 885.5,348.2 885.2,348.7 885,350.3 884.8,349.8 884.5,350.2 884.2,351.4 884,351.6 883.8,350.9 883.5,352.3 883.2,351.9 883,353 882.8,353.4 882.5,351.2 882.2,353 882,354.1 881.8,355.7 881.5,352.1 881.2,353.1 881,352.7 880.8,352 880.5,356.3 880.2,355.2 880,354.3 879.8,357.2 879.5,355.4 879.2,354.1 879,352.3 878.8,355.3 878.5,356.2 878.2,352.5 878,353.2 877.8,353.7 877.5,354.6 877.2,355 877,354.6 876.8,354.6 876.5,354.9 876.2,351.8 876,351.5 875.8,352.1 875.5,355 875.2,356.4 875,357.1 874.8,357.3 874.5,358.1 874.2,358.4 874,357 873.8,357.6 873.5,356.9 873.2,361.3 873,356.4 872.8,359.9 872.5,357.2 872.2,360.2 872,360.4 871.8,360.9 871.5,362.8 871.2,360.9 871,362.2 870.8,364.7 870.5,365.1 870.2,362.3 870,360.7 869.8,364.5 869.5,362.3 869.2,365.1 869,364.4 868.8,365.5 868.5,367.6 868.2,362.9 868,366.6 867.8,367.1 867.5,363.1 867.2,364.3 867,362.1 866.8,361.6 866.5,361.1 866.2,363.4 866,363.6 865.8,362.6 865.5,357.5 865.2,359.4 865,358.9 864.8,357.4 864.5,360.8 864.2,361.2 864,357.2 863.8,360.7 863.5,363.5 863.2,362.5 863,360.5 862.8,361.6 862.5,360.7 862.2,365.4 862,363.2 861.8,362.8 861.5,363.6 861.2,363.3 861,364.7 860.8,363.6 860.5,364.9 860.2,365 860,367.3 859.8,367.9 859.5,367.4 859.2,367.4 859,368 858.8,368.7 858.5,369.7 858.2,369.4 858,368.5 857.8,369 857.5,369.2 857.2,368.6 857,371.3 856.8,372.7 856.5,372.2 856.2,375.1 856,370.8 855.8,372.2 855.5,372.6 855.2,374.5 855,374.8 854.8,377.1 854.5,375.9 854.2,380.6 854,375.3 853.8,380.4 853.5,378.6 853.2,375.6 853,378.6 852.8,382.1 852.5,378.9 852.2,379.3 852,378.9 851.8,381.1 851.5,380.8 851.2,380.6 851,381.8 850.8,383.8 850.5,380.5 850.2,381.3 850,378.6 849.8,381.5 849.5,379.9 849.2,381.6 849,381.7 848.8,381.8 848.5,383.4 848.2,380.4 848,381.8 847.8,383.6 847.5,384.9 847.2,384 847,384.3 846.8,383.4 846.5,383 846.2,384.4 846,383.9 845.8,383.3 845.5,383.6 845.2,386.3 845,385.8 844.8,383.7 844.5,384.5 844.2,381.7 844,384.6 843.8,384.8 843.5,384 843.2,386.6 843,387.1 842.8,389.1 842.5,385.5 842.2,387.2 842,389.9 841.8,385.9 841.5,385.3 841.2,390.8 841,388.1 840.8,390.4 840.5,388.7 840.2,390.7 840,390.2 839.8,393 839.5,391.3 839.2,390.3 839,388.4 838.8,394.2 838.5,392.9 838.2,390.9 838,393.8 837.8,391.2 837.5,393.2 837.2,392.7 837,394.7 836.8,394.2 836.5,394.5 836.2,395.4 836,394.3 835.8,395.9 835.5,392.3 835.2,393 835,390.7 834.8,392.3 834.5,391.7 834.2,393.1 834,391.3 833.8,390.2 833.5,387.1 833.2,388.2 833,385.6 832.8,389.1 832.5,390 832.2,390.3 832,389.9 831.8,387.6 831.5,387.2 831.2,386.5 831,389.7 830.8,389.9 830.5,388.5 830.2,392.6 830,389.9 829.8,391.4 829.5,392.1 829.2,390 829,394.1 828.8,392.7 828.5,393.4 828.2,393.8 828,391.6 827.8,394.4 827.5,395.9 827.2,397.7 827,395.5 826.8,395.7 826.5,398 826.2,396.5 826,400 825.8,397.9 825.5,398.8 825.2,401.5 825,402.2 824.8,401.1 824.5,399.7 824.2,403.3 824,400.9 823.8,403.6 823.5,402.3 823.2,402.8 823,402.9 822.8,405.4 822.5,404.3 822.2,406.6 822,405.8 821.8,404.8 821.5,406.1 821.2,405.4 821,407.1 820.8,406.7 820.5,407.7 820.2,408.3 820,409.3 819.8,408 819.5,410.8 819.2,412.8 819,411.4 818.8,408.8 818.5,411.8 818.2,411.3 818,412.3 817.8,408.8 817.5,409.8 817.2,409.7 817,409.2 816.8,410.1 816.5,411.6 816.2,411.3 816,409.5 815.8,410.5 815.5,409.3 815.2,411.1 815,411.2 814.8,414 814.5,413.3 814.2,411.8 814,416.2 813.8,414 813.5,413.7 813.2,415.4 813,414.1 812.8,413.6 812.5,414.1 812.2,412.7 812,416.4 811.8,417.8 811.5,415.8 811.2,414.8 811,419.2 810.8,415.6 810.5,415.3 810.2,415.9 810,417.7 809.8,415.1 809.5,419 809.2,420.9 809,419.8 808.8,422.6 808.5,420.5 808.2,419.8 808,419.5 807.8,420.6 807.5,422.7 807.2,421.8 807,422.9 806.8,423.4 806.5,422.4 806.2,423.4 806,422.3 805.8,421.3 805.5,423.6 805.2,425.1 805,424.7 804.8,424.2 804.5,423.5 804.2,422 804,421.5 803.8,418.8 803.5,415.8 803.2,414.5 803,419 802.8,417.6 802.5,415.1 802.2,415.9 802,413.6 801.8,415.3 801.5,416.6 801.2,418.8 801,417.7 800.8,418.3 800.5,417.2 800.2,419.2 800,415.7 799.8,417.1 799.5,416.9 799.2,418.6 799,418.1 798.8,417.8 798.5,420.4 798.2,420.4 798,422.2 797.8,422.4 797.5,423.6 797.2,423.9 797,425.4 796.8,425.9 796.5,427.7 796.2,426.1 796,428.4 795.8,427.8 795.5,428.4 795.2,430.1 795,430.5 794.8,432.1 794.5,432.3 794.2,432 794,433.5 793.8,434.7 793.5,431.8 793.2,431.4 793,434.3 792.8,435.7 792.5,433.5 792.2,436.5 792,433.8 791.8,436.1 791.5,436.5 791.2,437.6 791,433.8 790.8,436.6 790.5,436.3 790.2,437 790,436.4 789.8,436.5 789.5,437.9 789.2,437.4 789,436.9 788.8,438.6 788.5,440.6 788.2,439.8 788,437.1 787.8,440.4 787.5,439 787.2,436.9 787,438.1 786.8,437.4 786.5,439.2 786.2,442 786,439.3 785.8,440.6 785.5,441.3 785.2,440.8 785,441.7 784.8,441.6 784.5,440.2 784.2,438.2 784,438.5 783.8,442.2 783.5,441.5 783.2,437.3 783,437.1 782.8,437.3 782.5,440.6 782.2,439.6 782,438.8 781.8,438.8 781.5,438.5 781.2,438.5 781,439 780.8,444.1 780.5,443.5 780.2,441.6 780,442.4 779.8,440.7 779.5,443.3 779.2,444.1 779,444 778.8,444.6 778.5,447.3 778.2,445.1 778,445.8 777.8,443.2 777.5,445.8 777.2,447.5 777,446.2 776.8,447.9 776.5,449.3 776.2,446.6 776,447 775.8,448.8 775.5,448.4 775.2,448.6 775,451.9 774.8,451.8 774.5,449.5 774.2,450.8 774,449.9 773.8,452.8 773.5,451.6 773.2,450.2 773,447.3 772.8,445.8 772.5,445.2 772.2,444.7 772,439.5 771.8,439.3 771.5,440 771.2,439.5 771,437.1 770.8,436.5 770.5,434.7 770.2,432.9 770,435.7 769.8,431.3 769.5,435.4 769.2,431.1 769,431.3 768.8,429.5 768.5,430.2 768.2,430.1 768,427.3 767.8,427 767.5,428.9 767.2,428 767,428.7 766.8,428 766.5,429.1 766.2,428.9 766,429.9 765.8,429.6 765.5,429.7 765.2,431.5 765,429.1 764.8,430.4 764.5,428.5 764.2,427.9 764,430.7 763.8,429.9 763.5,429.9 763.2,428.2 763,425.6 762.8,430.6 762.5,426.7 762.2,426.2 762,426.6 761.8,424.1 761.5,425.8 761.2,426.2 761,426.8 760.8,427.2 760.5,426.6 760.2,425.7 760,424.9 759.8,425.7 759.5,421.7 759.2,423.6 759,422.5 758.8,422.5 758.5,421.6 758.2,421.8 758,420 757.8,420.8 757.5,420.4 757.2,420.3 757,419 756.8,418.6 756.5,420.2 756.2,420.8 756,419 755.8,417.8 755.5,418.2 755.2,416.8 755,417 754.8,416.5 754.5,413.6 754.2,415.1 754,412.2 753.8,415.4 753.5,410.5 753.2,409.7 753,413.8 752.8,411.8 752.5,409.4 752.2,409.3 752,408.4 751.8,408.5 751.5,410 751.2,409.5 751,408.5 750.8,407 750.5,408.5 750.2,408.1 750,410.5 749.8,407.9 749.5,406.5 749.2,407 749,404 748.8,403.8 748.5,401.4 748.2,401.9 748,404.9 747.8,404.4 747.5,402.2 747.2,403.9 747,400.8 746.8,404.5 746.5,404.5 746.2,402.2 746,401.7 745.8,400.6 745.5,399.4 745.2,399.6 745,400.9 744.8,398.5 744.5,400.7 744.2,398.6 744,400.7 743.8,398.2 743.5,401.2 743.2,397.8 743,398.1 742.8,394.5 742.5,396 742.2,394.8 742,393.7 741.8,393.1 741.5,391.7 741.2,387.2 741,386.1 740.8,387.8 740.5,385.1 740.2,386.8 740,388.4 739.8,387.5 739.5,386.4 739.2,385.5 739,381.4 738.8,381.2 738.5,380.9 738.2,380 738,378.7 737.8,378 737.5,379.1 737.2,378.7 737,381.1 736.8,378.8 736.5,380.8 736.2,378.5 736,378.7 735.8,377.6 735.5,377.9 735.2,377.6 735,376.6 734.8,376.1 734.5,376.2 734.2,376 734,377.2 733.8,377.4 733.5,376.8 733.2,376 733,376 732.8,378.8 732.5,378.7 732.2,375.6 732,377.7 731.8,375.9 731.5,377.9 731.2,377.9 731,376.7 730.8,378.3 730.5,378.3 730.2,377.7 730,376.9 729.8,372.9 729.5,374.6 729.2,376.7 729,372.7 728.8,374.3 728.5,374.1 728.2,372.4 728,372.7 727.8,374.7 727.5,370 727.2,373.4 727,371.2 726.8,374.3 726.5,373.6 726.2,372.3 726,369.8 725.8,370.9 725.5,373.7 725.2,370.5 725,368.8 724.8,372.5 724.5,368.8 724.2,370.2 724,368.6 723.8,370.2 723.5,367.6 723.2,368.9 723,367 722.8,369.2 722.5,368.9 722.2,369.3 722,367 721.8,364.6 721.5,365.6 721.2,363.8 721,365.5 720.8,363.1 720.5,363.2 720.2,361.1 720,356 719.8,359 719.5,361.1 719.2,357.3 719,359.1 718.8,361.3 718.5,357.3 718.2,356.8 718,358.1 717.8,356.4 717.5,357.7 717.2,356.8 717,356.9 716.8,356.7 716.5,353.9 716.2,356.1 716,353.7 715.8,352.5 715.5,354.4 715.2,353.9 715,355.1 714.8,352.3 714.5,353.1 714.2,352.7 714,351 713.8,351.9 713.5,352.3 713.2,350.4 713,351.3 712.8,350.8 712.5,352.5 712.2,350.4 712,349.7 711.8,348.6 711.5,346.7 711.2,349 711,347 710.8,347.9 710.5,344.6 710.2,347.3 710,343.7 709.8,343.5 709.5,344.5 709.2,343.5 709,340.9 708.8,340 708.5,337.5 708.2,336.2 708,333.5 707.8,335.2 707.5,331.6 707.2,332.4 707,329.9 706.8,328.7 706.5,333.4 706.2,328.9 706,332.1 705.8,331.2 705.5,331.6 705.2,328 705,330.7 704.8,328.7 704.5,328.9 704.2,328.8 704,328.3 703.8,326.8 703.5,327.4 703.2,327.5 703,326.1 702.8,328.1 702.5,329.8 702.2,326.9 702,326.4 701.8,327.5 701.5,329.9 701.2,326.6 701,326.8 700.8,326.4 700.5,324.5 700.2,325.8 700,326.4 699.8,324.8 699.5,324.8 699.2,327 699,326.2 698.8,323.9 698.5,323.4 698.2,325.2 698,323.4 697.8,321.8 697.5,323.7 697.2,322.5 697,322.9 696.8,323.3 696.5,323.1 696.2,323.7 696,320.3 695.8,318.3 695.5,319.9 695.2,318 695,319.8 694.8,320.9 694.5,318.3 694.2,323.1 694,322.2 693.8,320.7 693.5,320.3 693.2,322.8 693,324.4 692.8,321.8 692.5,323 692.2,324.7 692,322.3 691.8,321.8 691.5,327.1 691.2,324.8 691,325.1 690.8,326.7 690.5,323.9 690.2,326.5 690,326.9 689.8,323.6 689.5,325.1 689.2,325.9 689,325.8 688.8,327.3 688.5,327.5 688.2,326.2 688,325.8 687.8,326.9 687.5,326.4 687.2,327.9 687,327.5 686.8,325.1 686.5,329.8 686.2,329.1 686,327.2 685.8,328.4 685.5,328.6 685.2,330.7 685,330.3 684.8,329.5 684.5,331.7 684.2,332 684,331.7 683.8,332.3 683.5,330.5 683.2,331.1 683,333.4 682.8,333.4 682.5,332.5 682.2,335.9 682,335.2 681.8,335.8 681.5,337 681.2,336.8 681,337.7 680.8,335.4 680.5,338.4 680.2,338.1 680,340.4 679.8,339.6 679.5,339.1 679.2,339.1 679,336.8 678.8,338.7 678.5,339.4 678.2,338.7 678,337.6 677.8,334.7 677.5,332.6 677.2,332.3 677,330 676.8,331.3 676.5,330.6 676.2,328.9 676,329.1 675.8,331.6 675.5,330.5 675.2,330.6 675,331.7 674.8,332.1 674.5,331.7 674.2,332.2 674,330.8 673.8,333.3 673.5,332.7 673.2,333.5 673,334 672.8,335 672.5,337.1 672.2,336.2 672,336.7 671.8,338.7 671.5,336.6 671.2,336.7 671,338 670.8,340.1 670.5,341.2 670.2,337.9 670,340.4 669.8,341.1 669.5,343.1 669.2,341.9 669,345.5 668.8,344.4 668.5,345.7 668.2,343.8 668,344.2 667.8,346.4 667.5,345 667.2,349.4 667,349.6 666.8,350.6 666.5,352.2 666.2,349.7 666,349.5 665.8,348.3 665.5,350.7 665.2,350.2 665,353.1 664.8,352.5 664.5,352.1 664.2,353.3 664,353.3 663.8,350.8 663.5,353.4 663.2,354.1 663,354.8 662.8,353.6 662.5,357.1 662.2,355 662,359.2 661.8,354.9 661.5,354.9 661.2,356.1 661,355.5 660.8,357 660.5,359.2 660.2,357.2 660,359.2 659.8,359.9 659.5,357.6 659.2,356.8 659,356.7 658.8,357.6 658.5,358.9 658.2,357.9 658,360.6 657.8,359 657.5,357.8 657.2,360.1 657,360.1 656.8,357.2 656.5,359.8 656.2,359.6 656,360.1 655.8,361 655.5,359.3 655.2,362.4 655,362 654.8,362.6 654.5,362.1 654.2,362.4 654,362.7 653.8,366 653.5,364.1 653.2,364.4 653,365.1 652.8,365.2 652.5,365.8 652.2,365.6 652,368.2 651.8,367.1 651.5,368.3 651.2,366.4 651,366.7 650.8,370.3 650.5,366.3 650.2,367.8 650,368.3 649.8,367.8 649.5,368.7 649.2,370.6 649,368.5 648.8,371.4 648.5,370.9 648.2,368.2 648,372.5 647.8,372.5 647.5,370.8 647.2,371.5 647,377.2 646.8,372.8 646.5,374 646.2,370.8 646,372 645.8,370.2 645.5,371.7 645.2,367.8 645,367.7 644.8,368 644.5,365.4 644.2,366.1 644,366.2 643.8,367 643.5,366.9 643.2,365.8 643,367.7 642.8,368.5 642.5,367 642.2,366.8 642,368.1 641.8,369.4 641.5,368.9 641.2,371.5 641,368.7 640.8,369.7 640.5,371.3 640.2,371 640,369 639.8,372.5 639.5,370.7 639.2,373 639,372.6 638.8,373.1 638.5,373.7 638.2,374.1 638,373.2 637.8,374.3 637.5,373.4 637.2,374.9 637,376.7 636.8,377.3 636.5,376.7 636.2,380.5 636,380.8 635.8,380.1 635.5,380 635.2,379 635,380.7 634.8,381 634.5,382.8 634.2,381.9 634,383.9 633.8,384.4 633.5,384.7 633.2,381.1 633,383.6 632.8,383.5 632.5,386.6 632.2,386.6 632,386.4 631.8,385.9 631.5,386.5 631.2,387 631,388.7 630.8,387.8 630.5,387.5 630.2,388.4 630,391 629.8,389.2 629.5,389.9 629.2,390.4 629,391.3 628.8,392 628.5,391.3 628.2,392.1 628,391.6 627.8,392 627.5,393.4 627.2,393.2 627,394.3 626.8,394.3 626.5,395.4 626.2,392.6 626,395.1 625.8,392.9 625.5,393.6 625.2,396 625,395.2 624.8,394.2 624.5,392.5 624.2,393.1 624,395.1 623.8,397.9 623.5,396.1 623.2,396.7 623,399.7 622.8,395 622.5,399.8 622.2,400.2 622,399.1 621.8,398.6 621.5,398.1 621.2,396.4 621,399.2 620.8,401.8 620.5,401.1 620.2,398 620,399.5 619.8,397.9 619.5,401.3 619.2,400.6 619,403.1 618.8,402.5 618.5,403 618.2,403.2 618,403.5 617.8,404.6 617.5,405.5 617.2,404 617,401.7 616.8,407.5 616.5,407.3 616.2,405 616,407.7 615.8,406.9 615.5,407.2 615.2,407.2 615,405.6 614.8,405.6 614.5,405.6 614.2,406.3 614,401.8 613.8,405.4 613.5,401 613.2,400.3 613,399.3 612.8,400.4 612.5,401.4 612.2,399.5 612,399.7 611.8,399.2 611.5,400.1 611.2,401 611,401.9 610.8,400.5 610.5,402.3 610.2,402.6 610,399.6 609.8,401.6 609.5,401.6 609.2,402.6 609,404.2 608.8,402.9 608.5,403 608.2,404.1 608,405.7 607.8,406 607.5,405.8 607.2,409.6 607,409 606.8,408.2 606.5,411.9 606.2,407.6 606,408.6 605.8,408.8 605.5,410.6 605.2,411.8 605,413.1 604.8,412.8 604.5,414.4 604.2,413.1 604,414.2 603.8,413.5 603.5,413.9 603.2,414.9 603,416.5 602.8,415 602.5,415.9 602.2,418.5 602,417.7 601.8,418.5 601.5,420.3 601.2,419.1 601,422.1 600.8,420.9 600.5,420.1 600.2,420.9 600,423.8 599.8,423.2 599.5,422.2 599.2,422.5 599,419.5 598.8,421.3 598.5,422 598.2,425.3 598,425.2 597.8,426.2 597.5,423.5 597.2,425 597,425.1 596.8,424.5 596.5,427.9 596.2,425.5 596,424.7 595.8,426 595.5,428.3 595.2,425.9 595,427.2 594.8,425.4 594.5,426.1 594.2,429.2 594,428.4 593.8,426.8 593.5,428.6 593.2,429.9 593,429.5 592.8,428.5 592.5,431.9 592.2,430.7 592,432.8 591.8,429.7 591.5,432.5 591.2,430.7 591,430.5 590.8,428.9 590.5,429.9 590.2,430.7 590,431.5 589.8,432.9 589.5,429.2 589.2,432.3 589,433.6 588.8,435.7 588.5,435.2 588.2,434.4 588,436.7 587.8,436.5 587.5,435 587.2,435.9 587,438.6 586.8,438.2 586.5,437.9 586.2,437.3 586,436.1 585.8,436.9 585.5,438.3 585.2,439.8 585,439.4 584.8,440.9 584.5,442 584.2,440.9 584,440.6 583.8,441.5 583.5,441.5 583.2,440.8 583,439.8 582.8,440 582.5,441.4 582.2,436.1 582,435.6 581.8,434.1 581.5,432.6 581.2,432.7 581,433.3 580.8,430.4 580.5,435.1 580.2,436 580,436.4 579.8,435.2 579.5,433.7 579.2,434 579,435.8 578.8,436.1 578.5,434.3 578.2,435.1 578,434.2 577.8,435.7 577.5,436 577.2,436.8 577,435.7 576.8,439.8 576.5,442 576.2,441.6 576,441.4 575.8,443.1 575.5,445.7 575.2,441.6 575,441.5 574.8,442.1 574.5,444.9 574.2,445.1 574,443.8 573.8,444.3 573.5,446.6 573.2,446.7 573,445.9 572.8,446.3 572.5,448.3 572.2,448.6 572,448.6 571.8,445.7 571.5,451.9 571.2,449.7 571,452.3 570.8,452.2 570.5,454.4 570.2,453.4 570,452.5 569.8,453.6 569.5,454.6 569.2,454.7 569,459.4 568.8,456.6 568.5,455.6 568.2,456.1 568,457.6 567.8,455 567.5,457.9 567.2,457.4 567,457.2 566.8,459.7 566.5,456 566.2,461.2 566,459.4 565.8,457.1 565.5,462 565.2,462.6 565,460.7 564.8,464.6 564.5,458.7 564.2,461.5 564,460.5 563.8,460.5 563.5,459.5 563.2,460.9 563,460.7 562.8,462.7 562.5,462.7 562.2,463.8 562,462.9 561.8,464 561.5,462.2 561.2,463.6 561,463.5 560.8,463.8 560.5,464 560.2,466.3 560,466.7 559.8,467.2 559.5,465.6 559.2,464 559,465.8 558.8,463.9 558.5,467.7 558.2,464.8 558,468.1 557.8,466.1 557.5,467.2 557.2,466.9 557,468.4 556.8,470.4 556.5,469.2 556.2,469.2 556,471.9 555.8,470.8 555.5,468.3 555.2,471.9 555,471.7 554.8,470.4 554.5,472.5 554.2,474.6 554,471.1 553.8,472.2 553.5,475.3 553.2,474.4 553,473.5 552.8,474.4 552.5,473.7 552.2,475.8 552,472.1 551.8,470.3 551.5,468.9 551.2,470.7 551,470.5 550.8,469.4 550.5,466.1 550.2,466.2 550,465 549.8,462.4 549.5,464.2 549.2,465.2 549,465.8 548.8,465.8 548.5,466.2 548.2,466.1 548,465.7 547.8,465.7 547.5,468.5 547.2,469.3 547,470.7 546.8,471.3 546.5,470 546.2,469.8 546,469.5 545.8,471.7 545.5,468.5 545.2,470 545,473.2 544.8,473.7 544.5,473.4 544.2,473.9 544,473 543.8,474.9 543.5,474.1 543.2,476.5 543,475.1 542.8,476.9 542.5,475.1 542.2,476.4 542,478.7 541.8,480.9 541.5,480.2 541.2,480.6 541,482.2 540.8,479 540.5,481.1 540.2,485.7 540,484.6 539.8,483.3 539.5,483.2 539.2,484.1 539,485.3 538.8,484.6 538.5,484.8 538.2,485.2 538,487.6 537.8,487.7 537.5,485 537.2,483.5 537,484.8 536.8,485.8 536.5,485 536.2,485.8 536,486 535.8,485.3 535.5,487.4 535.2,485.1 535,485.7 534.8,488.5 534.5,489.4 534.2,486.8 534,490 533.8,487.2 533.5,487.7 533.2,486 533,487.6 532.8,488.8 532.5,485.4 532.2,489.3 532,486 531.8,488.2 531.5,489.7 531.2,488.1 531,488.3 530.8,489.6 530.5,487 530.2,489.3 530,486.8 529.8,488.3 529.5,487.6 529.2,489.2 529,488.6 528.8,489.9 528.5,489.4 528.2,489.9 528,489.3 527.8,488.1 527.5,491.3 527.2,489.1 527,495.1 526.8,492.5 526.5,491.6 526.2,494 526,491.1 525.8,493.5 525.5,493.8 525.2,494.5 525,496.3 524.8,497.5 524.5,493.5 524.2,492.3 524,494.2 523.8,494 523.5,495 523.2,494.6 523,495.1 522.8,495.1 522.5,494.4 522.2,493.3 522,492.4 521.8,495.4 521.5,493.9 521.2,495.6 521,494.6 520.8,499.2 520.5,497.7 520.2,494.4 520,497.6 519.8,495.5 519.5,492.9 519.2,493.6 519,493.1 518.8,489.2 518.5,487.6 518.2,486 518,487.3 517.8,488.6 517.5,487.8 517.2,488.8 517,489.2 516.8,488.5 516.5,486 516.2,487.7 516,489 515.8,488.7 515.5,487.1 515.2,485.6 515,485.5 514.8,488.8 514.5,490.1 514.2,486.9 514,487.9 513.8,490.3 513.5,490.9 513.2,491 513,491.4 512.8,494.7 512.5,495.7 512.2,492.6 512,492.8 511.8,492.2 511.5,493.4 511.2,494.9 511,495.2 510.8,495.2 510.5,496.2 510.2,492.6 510,495.6 509.8,496 509.5,492.9 509.2,495.8 509,496 508.8,495.6 508.5,497.3 508.2,496.9 508,498.3 507.8,496.9 507.5,499.7 507.2,498.9 507,496.1 506.8,497.7 506.5,498.8 506.2,499.5 506,499.7 505.8,499.3 505.5,500.1 505.2,498.9 505,501.3 504.8,502.1 504.5,500.7 504.2,500.7 504,500.7 503.8,501.1 503.5,501.1 503.2,500.1 503,500.2 502.8,499.7 502.5,500.2 502.2,501.1 502,502 501.8,502 501.5,501.5 501.2,502.3 501,503.6 500.8,502.9 500.5,504 500.2,502.4 500,503.3 499.8,502.3 499.5,500.3 499.2,502.7 499,502.5 498.8,499.7 498.5,502.8 498.2,504 498,502.6 497.8,503.1 497.5,500.8 497.2,501.7 497,501.1 496.8,503.3 496.5,504.4 496.2,503.6 496,503.3 495.8,502.2 495.5,500.1 495.2,500 495,502.1 494.8,504.6 494.5,502.8 494.2,503.2 494,503.2 493.8,504 493.5,503.7 493.2,501 493,503.1 492.8,503 492.5,504.6 492.2,504 492,504.1 491.8,505.1 491.5,505.7 491.2,503.1 491,502.8 490.8,502.1 490.5,503.5 490.2,503.3 490,502.8 489.8,502 489.5,505.3 489.2,504.5 489,505.4 488.8,505.1 488.5,502.1 488.2,502.3 488,499.8 487.8,498.7 487.5,500.9 487.2,495.9 487,494.9 486.8,491.9 486.5,495.1 486.2,493 486,495.3 485.8,493.4 485.5,494.2 485.2,495.3 485,494.9 484.8,496 484.5,492.7 484.2,493.6 484,494.9 483.8,496.1 483.5,491.7 483.2,496.3 483,495.2 482.8,492.3 482.5,495.9 482.2,495.5 482,497.9 481.8,495.4 481.5,497.8 481.2,497.8 481,497.3 480.8,496.7 480.5,497.7 480.2,498.2 480,495.8 479.8,495.2 479.5,497.6 479.2,499 479,498.7 478.8,499.4 478.5,498.7 478.2,499.9 478,500 477.8,502.9 477.5,504.3 477.2,501.4 477,502.7 476.8,500.2 476.5,502.4 476.2,503.1 476,500.4 475.8,501.4 475.5,503.3 475.2,501.3 475,502.6 474.8,501.5 474.5,504 474.2,502.6 474,500.8 473.8,504.2 473.5,501.5 473.2,503 473,503.6 472.8,503.2 472.5,503.7 472.2,504.5 472,500.9 471.8,503 471.5,502.8 471.2,504.2 471,503 470.8,502.9 470.5,504.1 470.2,501.9 470,502.9 469.8,503.7 469.5,504.5 469.2,505.2 469,506.2 468.8,506.6 468.5,505.2 468.2,505.4 468,505.1 467.8,507 467.5,506.5 467.2,504.8 467,501.7 466.8,503.2 466.5,504.2 466.2,505.7 466,502.6 465.8,506.3 465.5,505 465.2,504.4 465,504.7 464.8,503.4 464.5,502.7 464.2,502.4 464,500 463.8,501 463.5,500.9 463.2,502.5 463,503.1 462.8,503.5 462.5,504.6 462.2,504.6 462,503.8 461.8,505.2 461.5,503.4 461.2,508 461,506 460.8,506.2 460.5,506.4 460.2,508.1 460,506 459.8,505.5 459.5,504 459.2,507 459,506 458.8,507.2 458.5,505.8 458.2,508.6 458,503.3 457.8,506 457.5,506.8 457.2,506.5 457,503.5 456.8,502.4 456.5,501.6 456.2,500.8 456,498.6 455.8,499.5 455.5,497.5 455.2,493 455,493.3 454.8,496 454.5,495.8 454.2,492.8 454,494.8 453.8,497.4 453.5,495.6 453.2,496 453,494.5 452.8,493.3 452.5,494.7 452.2,494.9 452,495.1 451.8,495.8 451.5,495.3 451.2,494.6 451,494.4 450.8,492.2 450.5,494.8 450.2,497.1 450,496.1 449.8,497.2 449.5,498.6 449.2,496.6 449,496.5 448.8,500.8 448.5,499.8 448.2,498.8 448,497.4 447.8,500.4 447.5,500.7 447.2,500.2 447,501.1 446.8,499.6 446.5,499.3 446.2,500.2 446,500.1 445.8,500.4 445.5,502.4 445.2,499.6 445,501.2 444.8,501.2 444.5,502.9 444.2,501.9 444,500.8 443.8,502.1 443.5,503 443.2,502.8 443,503.1 442.8,503.9 442.5,501.5 442.2,504.7 442,501.8 441.8,505.6 441.5,504.1 441.2,503.5 441,503.2 440.8,505.4 440.5,507.2 440.2,505.5 440,504 439.8,501.7 439.5,502.2 439.2,501.5 439,503.3 438.8,502.5 438.5,501.3 438.2,505 438,504 437.8,504 437.5,503.7 437.2,503.7 437,503.4 436.8,502.4 436.5,503.4 436.2,503 436,502.9 435.8,505.3 435.5,503.4 435.2,503.1 435,503.5 434.8,502.3 434.5,498.4 434.2,501.2 434,500 433.8,500.5 433.5,502.2 433.2,501.8 433,502.9 432.8,501.7 432.5,502.1 432.2,500.4 432,500.2 431.8,502.1 431.5,500.9 431.2,500.9 431,502.1 430.8,502.4 430.5,500.1 430.2,500.4 430,500 429.8,499.1 429.5,503.2 429.2,503.4 429,502.3 428.8,501.6 428.5,500.6 428.2,500.2 428,500.4 427.8,501.4 427.5,502 427.2,503.1 427,503.3 426.8,502.5 426.5,500.3 426.2,502.4 426,500.5 425.8,503.2 425.5,500.9 425.2,500.3 425,497 424.8,498.1 424.5,496.1 424.2,493.8 424,494 423.8,492.1 423.5,489.8 423.2,490.4 423,491.2 422.8,490.1 422.5,491.3 422.2,490.2 422,492.7 421.8,490 421.5,488.6 421.2,491.4 421,487.5 420.8,489.7 420.5,490.3 420.2,491 420,491.4 419.8,490.4 419.5,490.8 419.2,489.1 419,491.9 418.8,491 418.5,490.5 418.2,490.9 418,495.1 417.8,490 417.5,490.2 417.2,493.2 417,492.3 416.8,492.8 416.5,491.3 416.2,492.3 416,496.2 415.8,494 415.5,494 415.2,494.2 415,494.9 414.8,494.9 414.5,493 414.2,495.1 414,493 413.8,494.7 413.5,495.5 413.2,496.1 413,495.1 412.8,496.3 412.5,496.8 412.2,496.2 412,496.4 411.8,497 411.5,495.1 411.2,494.7 411,492.9 410.8,494.2 410.5,494.9 410.2,498.3 410,497.4 409.8,497.2 409.5,499.6 409.2,495.3 409,496.8 408.8,496.6 408.5,498.3 408.2,497.4 408,498.3 407.8,498.1 407.5,497.1 407.2,499.1 407,496.9 406.8,495.3 406.5,496.6 406.2,496.1 406,498 405.8,495.3 405.5,495.4 405.2,496.3 405,496.2 404.8,494.4 404.5,494.5 404.2,495 404,492.1 403.8,492.8 403.5,493.6 403.2,493.7 403,493.8 402.8,493.6 402.5,492.9 402.2,493.4 402,493.9 401.8,492.5 401.5,494.1 401.2,493.4 401,493.2 400.8,493.8 400.5,493.2 400.2,494 400,494 399.8,493.6 399.5,495.3 399.2,495.6 399,494.5 398.8,494.1 398.5,494.4 398.2,493.5 398,496.4 397.8,493.8 397.5,494.7 397.2,496.9 397,494 396.8,492.8 396.5,494 396.2,494.7 396,491.4 395.8,494 395.5,494.4 395.2,495.1 395,496 394.8,496 394.5,497.4 394.2,492.1 394,494.3 393.8,492.7 393.5,491.8 393.2,489.6 393,491.1 392.8,487.3 392.5,487 392.2,482.1 392,483.3 391.8,483.3 391.5,485.5 391.2,482.5 391,481.8 390.8,482.6 390.5,482.6 390.2,481.7 390,481.6 389.8,484.5 389.5,484 389.2,483.4 389,481.1 388.8,480.8 388.5,481.5 388.2,481.6 388,481.2 387.8,481.2 387.5,482.7 387.2,482.3 387,486.1 386.8,485.5 386.5,484.4 386.2,484 386,486.5 385.8,484.9 385.5,483.6 385.2,484.8 385,484.2 384.8,485 384.5,486.3 384.2,483.3 384,482.6 383.8,488.3 383.5,485.9 383.2,484.3 383,488.1 382.8,483.7 382.5,487.9 382.2,483.8 382,484.8 381.8,486.5 381.5,486 381.2,489.8 381,487.3 380.8,488.2 380.5,487.3 380.2,487.7 380,488.7 379.8,487.6 379.5,488.5 379.2,488.7 379,491.2 378.8,488.3 378.5,489.6 378.2,487.4 378,489 377.8,490.5 377.5,488.7 377.2,486.3 377,487.8 376.8,487.9 376.5,486.5 376.2,488.1 376,487.6 375.8,485.9 375.5,487.4 375.2,487.4 375,488.6 374.8,487.7 374.5,489.3 374.2,488.5 374,487.7 373.8,488.1 373.5,486.1 373.2,486.6 373,486.2 372.8,487.1 372.5,485 372.2,487.8 372,487.8 371.8,488.7 371.5,486.2 371.2,488 371,486 370.8,482.7 370.5,485.1 370.2,482.6 370,484.1 369.8,485.7 369.5,483.5 369.2,486.8 369,487.2 368.8,487.5 368.5,486.7 368.2,487.4 368,486.6 367.8,487.3 367.5,485.1 367.2,488.2 367,488.2 366.8,485.9 366.5,486.1 366.2,486.4 366,486.4 365.8,487.6 365.5,488.5 365.2,486 365,488.3 364.8,489 364.5,489.7 364.2,488.8 364,487.7 363.8,485.7 363.5,488.2 363.2,486.1 363,487 362.8,485.4 362.5,486.5 362.2,481.5 362,482.7 361.8,481.5 361.5,480.7 361.2,479.2 361,478.1 360.8,476.5 360.5,475.7 360.2,476.9 360,474.9 359.8,476 359.5,474.3 359.2,475 359,474.4 358.8,476.3 358.5,475.6 358.2,476 358,475.8 357.8,472.9 357.5,474.8 357.2,474.7 357,474.4 356.8,474.2 356.5,477.3 356.2,473.6 356,473.6 355.8,474.3 355.5,477.5 355.2,476.2 355,475.1 354.8,476.2 354.5,477.4 354.2,476.5 354,473.4 353.8,475.6 353.5,479.1 353.2,478 353,479.2 352.8,477.9 352.5,476.9 352.2,476.5 352,476.1 351.8,478.8 351.5,479.7 351.2,477.3 351,479.7 350.8,477.9 350.5,479.1 350.2,479.1 350,477.4 349.8,481.3 349.5,480.3 349.2,479.7 349,476.2 348.8,481.2 348.5,481.5 348.2,480.9 348,479.1 347.8,483 347.5,479.8 347.2,481.9 347,482.3 346.8,481 346.5,482.4 346.2,481.6 346,482.5 345.8,481.6 345.5,482.2 345.2,481 345,481.8 344.8,482.2 344.5,482.4 344.2,479.4 344,479.2 343.8,482.1 343.5,482 343.2,481.4 343,476.3 342.8,478.4 342.5,479.5 342.2,479.5 342,476.9 341.8,479.9 341.5,481 341.2,480.3 341,478 340.8,479 340.5,481 340.2,478.8 340,480.1 339.8,480.3 339.5,478.9 339.2,477.6 339,480.2 338.8,478.6 338.5,480 338.2,478.1 338,480 337.8,475.4 337.5,476 337.2,479.1 337,478.3 336.8,478 336.5,478.9 336.2,481 336,482.3 335.8,479.9 335.5,477.4 335.2,477.8 335,478.9 334.8,477.3 334.5,480.3 334.2,482 334,478.3 333.8,477.3 333.5,478 333.2,479 333,475.4 332.8,477 332.5,475.6 332.2,477.8 332,479 331.8,480 331.5,477.8 331.2,477.7 331,477.8 330.8,477.3 330.5,475.8 330.2,473.1 330,470.6 329.8,471.3 329.5,470 329.2,467.8 329,468.5 328.8,463.8 328.5,466.3 328.2,466.7 328,466.2 327.8,466.6 327.5,468 327.2,467.6 327,465.8 326.8,466.5 326.5,464.3 326.2,467.9 326,471.1 325.8,469.6 325.5,468.5 325.2,469.9 325,468.6 324.8,469.9 324.5,470.7 324.2,470.3 324,470.3 323.8,470.6 323.5,474.3 323.2,470.3 323,472.8 322.8,473.4 322.5,471.8 322.2,474.3 322,475.6 321.8,474 321.5,476.9 321.2,475.9 321,475.8 320.8,474.2 320.5,475.2 320.2,476.3 320,475.5 319.8,476 319.5,477.9 319.2,478.1 319,476.5 318.8,477 318.5,478.5 318.2,476.7 318,476.6 317.8,477.1 317.5,478.8 317.2,479.8 317,480 316.8,479.7 316.5,478.2 316.2,479.3 316,478.7 315.8,481.5 315.5,480.6 315.2,480.1 315,483.5 314.8,482.6 314.5,480 314.2,480.1 314,481 313.8,482.1 313.5,479.8 313.2,483.1 313,481.3 312.8,481.2 312.5,481.2 312.2,484.2 312,481.8 311.8,482.5 311.5,479.6 311.2,481 311,480.2 310.8,483.3 310.5,481.9 310.2,480 310,479.5 309.8,479.4 309.5,480 309.2,475.7 309,479 308.8,479.9 308.5,482.4 308.2,482.8 308,481.8 307.8,477.7 307.5,480.8 307.2,480.1 307,480.4 306.8,483.7 306.5,479.7 306.2,481.1 306,480.4 305.8,480.4 305.5,480.4 305.2,478.8 305,481.1 304.8,484.1 304.5,486.4 304.2,486.5 304,484.5 303.8,484.4 303.5,485 303.2,482.5 303,483.1 302.8,482 302.5,484.8 302.2,484.6 302,487.5 301.8,485.8 301.5,486.5 301.2,485.3 301,485.2 300.8,486.3 300.5,486.2 300.2,486.1 300,488.9 299.8,486.4 299.5,485.2 299.2,484.9 299,480.8 298.8,480.8 298.5,479.7 298.2,478.5 298,476.4 297.8,478.6 297.5,479.1 297.2,477.2 297,477.6 296.8,478.9 296.5,478.3 296.2,476.5 296,477.7 295.8,479 295.5,476.4 295.2,479.3 295,478 294.8,477.2 294.5,478.1 294.2,479.4 294,477.1 293.8,478.7 293.5,480.3 293.2,479.1 293,483 292.8,480.5 292.5,481.9 292.2,480.7 292,481.6 291.8,483.2 291.5,483.4 291.2,483 291,481.8 290.8,482.5 290.5,481.8 290.2,484.3 290,485.8 289.8,481.4 289.5,483.8 289.2,485.4 289,483.5 288.8,483.7 288.5,483.6 288.2,484.4 288,486.4 287.8,483.3 287.5,487.1 287.2,488 287,484.7 286.8,485.6 286.5,486.4 286.2,487.4 286,484.5 285.8,487.9 285.5,486.9 285.2,489.1 285,489 284.8,486.7 284.5,487.8 284.2,486.2 284,488.6 283.8,491.4 283.5,487.1 283.2,489.5 283,487 282.8,490.1 282.5,491.5 282.2,490.1 282,487.9 281.8,489.9 281.5,490.6 281.2,490.8 281,491.1 280.8,490.4 280.5,491.8 280.2,493.4 280,492.4 279.8,491.2 279.5,490.9 279.2,491.3 279,492.7 278.8,491.4 278.5,491.6 278.2,490.6 278,490.6 277.8,490.4 277.5,492.2 277.2,490 277,491.6 276.8,490.5 276.5,489.2 276.2,490.7 276,489.4 275.8,490.5 275.5,489.8 275.2,492.4 275,491.3 274.8,491.8 274.5,491.9 274.2,490.6 274,492.6 273.8,492.1 273.5,492.2 273.2,492.8 273,493.6 272.8,493.7 272.5,493.7 272.2,494.4 272,496.1 271.8,494.5 271.5,495.5 271.2,492.7 271,495.6 270.8,497 270.5,493.9 270.2,494.5 270,495.4 269.8,494.7 269.5,497.3 269.2,496.9 269,497 268.8,498.2 268.5,496.9 268.2,497.1 268,496.6 267.8,494.8 267.5,492.7 267.2,492.2 267,492.2 266.8,491.6 266.5,489 266.2,486.1 266,485.3 265.8,484.5 265.5,485.4 265.2,484.7 265,483.6 264.8,484.2 264.5,484.8 264.2,482.8 264,486.3 263.8,487.7 263.5,485.1 263.2,485.3 263,484.3 262.8,486.1 262.5,486.7 262.2,488.1 262,488.9 261.8,487.6 261.5,489.4 261.2,487 261,490.2 260.8,490.3 260.5,489.3 260.2,490.9 260,489.7 259.8,489.4 259.5,491.8 259.2,490.3 259,492.3 258.8,491.1 258.5,491.4 258.2,492.9 258,493 257.8,489.6 257.5,492.4 257.2,493.7 257,494.8 256.8,494.1 256.5,493.2 256.2,494.4 256,494.6 255.8,494.5 255.5,496.1 255.2,495.1 255,497.7 254.8,498.4 254.5,499.6 254.2,496.7 254,497.2 253.8,497.3 253.5,494.8 253.2,499.7 253,497 252.8,496.9 252.5,496.8 252.2,499.2 252,498.3 251.8,499.1 251.5,499.2 251.2,497.6 251,497.1 250.8,497.4 250.5,498.3 250.2,499.4 250,499.8 249.8,499.1 249.5,499.2 249.2,501.2 249,501.3 248.8,500.6 248.5,501.8 248.2,502.3 248,498.3 247.8,500.6 247.5,498.6 247.2,498.5 247,500.7 246.8,499.2 246.5,499.7 246.2,500.9 246,499.4 245.8,500.6 245.5,499.5 245.2,502.1 245,500.2 244.8,502.4 244.5,499.7 244.2,501.1 244,501 243.8,505.2 243.5,501.3 243.2,503.2 243,503.3 242.8,503.6 242.5,501.4 242.2,503.5 242,501.6 241.8,503.1 241.5,502.4 241.2,503 241,503 240.8,502 240.5,503.5 240.2,502.5 240,503 239.8,503.9 239.5,502.2 239.2,504.5 239,502.3 238.8,506.1 238.5,507.3 238.2,506.1 238,508 237.8,506.2 237.5,507 237.2,506 237,506 236.8,505.2 236.5,504.8 236.2,503.2 236,502 235.8,503 235.5,501.8 235.2,500.3 235,501.4 234.8,497.5 234.5,495.8 234.2,494.3 234,494.8 233.8,492.1 233.5,493.4 233.2,495.3 233,496 232.8,495.9 232.5,495.4 232.2,496.4 232,496.2 231.8,495.2 231.5,495.8 231.2,497.6 231,498 230.8,499.5 230.5,494.4 230.2,497.4 230,494.6 229.8,497.7 229.5,499.4 229.2,498.4 229,498.7 228.8,500.9 228.5,501.2 228.2,501.3 228,500.6 227.8,500.9 227.5,500.8 227.2,501 227,501.6 226.8,501.7 226.5,499.7 226.2,501.3 226,503 225.8,503.5 225.5,503.5 225.2,505.1 225,503.2 224.8,500.4 224.5,502.6 224.2,504.2 224,504.4 223.8,506.1 223.5,505.3 223.2,505.6 223,506 222.8,506 222.5,506.5 222.2,505.8 222,507.7 221.8,505.7 221.5,506.6 221.2,504.8 221,506.7 220.8,509.7 220.5,508.8 220.2,509.6 220,507.2 219.8,509 219.5,509.1 219.2,510.5 219,507.2 218.8,509.1 218.5,508.5 218.2,508.1 218,505.3 217.8,507.3 217.5,510.2 217.2,508 217,509 216.8,508.9 216.5,510.1 216.2,508.2 216,508.1 215.8,508.1 215.5,509.6 215.2,507.9 215,507.1 214.8,509.6 214.5,508.2 214.2,508.5 214,510.1 213.8,509.4 213.5,509.9 213.2,508.6 213,511.1 212.8,509.2 212.5,512.2 212.2,509.5 212,508.2 211.8,511.2 211.5,508.9 211.2,512 211,512.7 210.8,512 210.5,511.4 210.2,512.1 210,510.6 209.8,513.3 209.5,509.9 209.2,511.5 209,513.4 208.8,512.9 208.5,513.2 208.2,514.3 208,513.8 207.8,516.8 207.5,514.6 207.2,513.6 207,514.4 206.8,512.9 206.5,513.1 206.2,516.7 206,516.5 205.8,516.9 205.5,515.3 205.2,515.1 205,514.7 204.8,511.6 204.5,508.9 204.2,510.2 204,510.9 203.8,508.9 203.5,508.2 203.2,506 203,507 202.8,508 202.5,503.7 202.2,505.6 202,504.7 201.8,506.3 201.5,504.3 201.2,502.5 201,506.1 200.8,504.2 200.5,506.6 200.2,504.6 200,505.9 199.8,505.5 199.5,506.3 199.2,504.4 199,505.6 198.8,506 198.5,506 198.2,508.3 198,508.1 197.8,508.6 197.5,508 197.2,507 197,506.3 196.8,509.9 196.5,509.1 196.2,505.4 196,507.6 195.8,509.7 195.5,509.4 195.2,509.4 195,509.1 194.8,508.7 194.5,508.6 194.2,509.4 194,511.4 193.8,511.4 193.5,510 193.2,511.8 193,511.3 192.8,512.7 192.5,513 192.2,513.2 192,510.6 191.8,515.3 191.5,514.2 191.2,512.1 191,514.9 190.8,512.4 190.5,513.8 190.2,514.3 190,513.6 189.8,511.6 189.5,514.5 189.2,513.9 189,512.5 188.8,512.4 188.5,513.3 188.2,513.8 188,513.1 187.8,514.4 187.5,515.5 187.2,514.4 187,513 186.8,515.1 186.5,512.5 186.2,515.4 186,513.4 185.8,514.6 185.5,515.4 185.2,513.8 185,516.1 184.8,514.9 184.5,515.4 184.2,515.9 184,512.7 183.8,512.4 183.5,512.7 183.2,512.8 183,512.7 182.8,514.7 182.5,512.1 182.2,514.4 182,513.5 181.8,512.5 181.5,510.9 181.2,512.8 181,510.9 180.8,510.5 180.5,511.2 180.2,511.2 180,509.6 179.8,513.1 179.5,511.7 179.2,512.3 179,514.5 178.8,514.8 178.5,513 178.2,511.7 178,511.1 177.8,511.3 177.5,511.7 177.2,512.3 177,514.1 176.8,512.5 176.5,511.3 176.2,514.3 176,512.3 175.8,512.7 175.5,516.3 175.2,514.6 175,514.7 174.8,515 174.5,515.5 174.2,518.2 174,515.5 173.8,512.5 173.5,511.7 173.2,507.8 173,509.9 172.8,506.2 172.5,507.8 172.2,507.7 172,503.9 171.8,503.7 171.5,502.5 171.2,501.5 171,502.1 170.8,499.2 170.5,500.9 170.2,498.4 170,498.4 169.8,501.9 169.5,500.3 169.2,501.3 169,496.5 168.8,497.1 168.5,495.2 168.2,496 168,496.2 167.8,494.9 167.5,497 167.2,496.3 167,496.3 166.8,495.1 166.5,497.1 166.2,495.8 166,494.5 165.8,495.7 165.5,494.1 165.2,495.8 165,492.6 164.8,496.3 164.5,495.1 164.2,495.6 164,493.8 163.8,493.4 163.5,493.2 163.2,494.8 163,495.5 162.8,495.9 162.5,493.8 162.2,492.7 162,490.9 161.8,494.1 161.5,492.9 161.2,491.2 161,493.5 160.8,493.1 160.5,492.4 160.2,489.5 160,492.4 159.8,490.3 159.5,490.7 159.2,489.5 159,492.2 158.8,491.3 158.5,490.6 158.2,489.6 158,487.2 157.8,491.2 157.5,490.4 157.2,489.6 157,487.9 156.8,485.7 156.5,487.7 156.2,487.9 156,487 155.8,488.2 155.5,486.9 155.2,484.4 155,485.6 154.8,485.6 154.5,482.6 154.2,484 154,484.4 153.8,485.1 153.5,484.5 153.2,482.7 153,483.1 152.8,483.4 152.5,482.4 152.2,482.1 152,481.5 151.8,478.3 151.5,480 151.2,478.7 151,478.4 150.8,475.6 150.5,476.2 150.2,477.3 150,474 149.8,476.1 149.5,475.9 149.2,474 149,476.3 148.8,474.7 148.5,475.4 148.2,474.9 148,473.8 147.8,474 147.5,474.2 147.2,474 147,469.8 146.8,472.4 146.5,469.7 146.2,472.3 146,472.4 145.8,469.7 145.5,470.1 145.2,468.1 145,470.6 144.8,470 144.5,470.1 144.2,470.3 144,468.4 143.8,468 143.5,468.9 143.2,466.9 143,465.3 142.8,464.1 142.5,464.9 142.2,461.6 142,460.1 141.8,459.2 141.5,456.7 141.2,459.1 141,458 140.8,453.7 140.5,452.5 140.2,449.7 140,447.3 139.8,448.3 139.5,447.7 139.2,447.1 139,446.8 138.8,447.4 138.5,448.5 138.2,448.2 138,447.6 137.8,446.9 137.5,443.3 137.2,445.2 137,446.9 136.8,441.9 136.5,446.8 136.2,444.7 136,446.8 135.8,444.5 135.5,442.5 135.2,445.7 135,444.1 134.8,443 134.5,441.6 134.2,442.6 134,442.9 133.8,440.5 133.5,440.9 133.2,442.5 133,442.2 132.8,441.1 132.5,442.5 132.2,442.1 132,443.5 131.8,441.5 131.5,440.5 131.2,440.7 131,440.3 130.8,440.6 130.5,438.1 130.2,440.2 130,440.1 129.8,438 129.5,440.6 129.2,438.3 129,437.8 128.8,438.4 128.5,436.9 128.2,435.8 128,434.1 127.8,435.1 127.5,437.2 127.2,437.9 127,437.6 126.8,434.8 126.5,435.7 126.2,434.2 126,433.7 125.8,434.3 125.5,434.9 125.2,436.6 125,434.6 124.8,434 124.5,434.4 124.2,432.4 124,432.2 123.8,431 123.5,429.7 123.2,429.3 123,428.1 122.8,427.5 122.5,425.9 122.2,428.6 122,426 121.8,429.7 121.5,427.7 121.2,427.5 121,424.1 120.8,423.7 120.5,423.7Z" fill="#0072B2" fill-opacity="0.2" stroke="#0072B2" stroke-opacity="0.08" stroke-width="1.2" stroke-linejoin="round"/>
<path d="M938.7,210H944.7V225H938.7Z M938.7,287H944.7V301H938.7Z" fill="#0072B2" fill-opacity="0.13"/>
<path d="M120.5,346.7 120.9,347 121.3,347.3 121.7,348.6 122.1,349.9 122.5,350.3 122.9,350.8 123.3,351.9 123.7,353 124.1,354.1 124.5,355.3 124.9,357.5 125.3,359.3 125.7,358.5 126.1,357.7 126.5,358.1 126.9,358.4 127.3,358.8 127.7,359.2 128.1,359.8 128.5,360.4 128.9,361.1 129.3,361.9 129.7,362.1 130.1,362.3 130.5,363.5 130.9,364.8 131.3,364.3 131.7,363.9 132.1,364.8 132.5,365.8 132.9,365.7 133.3,365.5 133.7,366.1 134.1,366.6 134.5,366.1 134.9,365.6 135.3,366.6 135.7,367.6 136.1,368 136.5,368.4 136.9,368.8 137.3,369.1 137.7,368.6 138.1,368.2 138.5,369.9 138.9,371.7 139.3,371.5 139.7,371.4 140.1,372.4 140.5,375.4 140.9,378.4 141.3,380.8 141.7,382.8 142.1,384.8 142.5,387.1 142.9,389.4 143.3,389.5 143.7,389.3 144.1,390 144.5,390.8 144.9,391.9 145.3,393 145.7,393.5 146.1,394 146.5,394.3 146.9,394.6 147.3,395.1 147.7,395.6 148.1,396.1 148.5,396.7 148.9,397.8 149.3,398.9 149.7,400.2 150.1,401.5 150.5,401.2 150.9,401 151.3,402.9 151.7,404.8 152.1,405.2 152.5,405.5 152.9,405.5 153.3,405.5 153.7,406.7 154.1,407.9 154.5,407.4 154.9,407 155.3,407.5 155.7,408 156.1,408.8 156.5,409.6 156.9,410.6 157.3,411.6 157.7,412.2 158.1,412.8 158.5,413 158.9,413.2 159.3,413.8 159.7,414.4 160.1,413.6 160.5,412.9 160.9,414.4 161.3,415.9 161.7,415.3 162.1,414.8 162.5,415.4 162.9,416 163.3,416.5 163.7,416.9 164.1,416.8 164.5,416.8 164.9,417 165.3,417.1 165.7,417.4 166.1,417.8 166.5,418.4 166.9,419 167.3,419.5 167.7,419.9 168.1,420.2 168.5,420.9 168.9,420.9 169.3,420.9 169.7,421.7 170.1,422.5 170.5,423.1 170.9,423.7 171.3,425.1 171.7,426.4 172.1,426.4 172.5,427.7 172.9,431.5 173.3,435.4 173.7,437 174.1,438 174.5,437.7 174.9,437.3 175.3,437.7 175.7,438 176.1,438.1 176.5,438.2 176.9,437.7 177.3,437.2 177.7,437.3 178.1,437.4 178.5,436.8 178.9,436.2 179.3,436.5 179.7,436.8 180.1,436.6 180.5,436.8 180.9,436.3 181.3,435.8 181.7,436.7 182.1,437.5 182.5,437.1 182.9,436.6 183.3,436.7 183.7,436.8 184.1,436.5 184.5,436.2 184.9,436.6 185.3,437 185.7,437.6 186.1,438.3 186.5,437.5 186.9,436.6 187.3,437.7 187.7,438.7 188.1,438.6 188.5,438.2 188.9,437.9 189.3,437.7 189.7,436.3 190.1,435 190.5,435.7 190.9,436.4 191.3,436.5 191.7,436.6 192.1,435.7 192.5,434.8 192.9,435 193.3,435.1 193.7,433.8 194.1,432.4 194.5,433.5 194.9,434.7 195.3,433.7 195.7,432.6 196.1,432.9 196.5,433.1 196.9,431.5 197.3,429.8 197.7,430.5 198.1,431.1 198.5,430.1 198.9,429.2 199.3,429.3 199.7,429.6 200.1,428.5 200.5,427.8 200.9,428 201.3,428.2 201.7,429.5 202.1,430.9 202.5,429.6 202.9,428.2 203.3,428.3 203.7,431 204.1,432.7 204.5,434.5 204.9,435.6 205.3,436.8 205.7,438.4 206.1,439 206.5,438.9 206.9,438.8 207.3,437.3 207.7,435.8 208.1,435 208.5,434.2 208.9,435.1 209.3,436 209.7,435.6 210.1,435.3 210.5,434.8 210.9,434.3 211.3,434 211.7,433.8 212.1,432.6 212.5,431.7 212.9,431.9 213.3,432.2 213.7,431.6 214.1,431 214.5,430.9 214.9,430.9 215.3,431.9 215.7,432.9 216.1,432.1 216.5,431.3 216.9,432.6 217.3,433.9 217.7,432.8 218.1,431.8 218.5,431.4 218.9,431.1 219.3,431.7 219.7,432.3 220.1,432.6 220.5,432.6 220.9,431.7 221.3,430.7 221.7,429.5 222.1,428.4 222.5,428.7 222.9,429 223.3,429.1 223.7,429.2 224.1,428 224.5,426.7 224.9,426.2 225.3,425.7 225.7,426.1 226.1,426.5 226.5,425.8 226.9,425 227.3,424 227.7,423.1 228.1,423 228.5,423 228.9,422.4 229.3,421.9 229.7,421.7 230.1,421.3 230.5,420.4 230.9,419.7 231.3,419.6 231.7,419.8 232.1,419.5 232.5,419.2 232.9,418.1 233.3,416.9 233.7,417.7 234.1,418.5 234.5,418.6 234.9,422.3 235.3,423.6 235.7,424.9 236.1,426.7 236.5,428.5 236.9,429.3 237.3,428.8 237.7,428.3 238.1,427.9 238.5,428.5 238.9,429 239.3,427.9 239.7,426.7 240.1,425.9 240.5,425.2 240.9,426.3 241.3,427.5 241.7,426.4 242.1,425.3 242.5,425.3 242.9,425.2 243.3,424.4 243.7,423.6 244.1,423.4 244.5,423.2 244.9,423 245.3,422.9 245.7,423.1 246.1,423.3 246.5,423.5 246.9,423.7 247.3,422.4 247.7,421.1 248.1,422.3 248.5,423.6 248.9,422.6 249.3,421.6 249.7,421.5 250.1,421.4 250.5,422.1 250.9,422.8 251.3,422.3 251.7,421.8 252.1,421.1 252.5,420.3 252.9,421.7 253.3,422.8 253.7,421.1 254.1,419.5 254.5,419.5 254.9,419.6 255.3,419.1 255.7,418.6 256.1,418.7 256.5,418.8 256.9,417.5 257.3,416.2 257.7,416.4 258.1,416.6 258.5,415.3 258.9,414.1 259.3,414.5 259.7,414.9 260.1,413.6 260.5,412.3 260.9,412.1 261.3,411.6 261.7,411.7 262.1,412 262.5,410.7 262.9,409.4 263.3,409.2 263.7,409 264.1,409.8 264.5,410.6 264.9,409.7 265.3,408.7 265.7,408.1 266.1,407.4 266.5,412.2 266.9,414.5 267.3,415.2 267.7,415.9 268.1,418.6 268.5,421.2 268.9,420.9 269.3,420.6 269.7,419.4 270.1,418.3 270.5,417.9 270.9,417.5 271.3,417.5 271.7,417.5 272.1,417.1 272.5,416.6 272.9,415.8 273.3,415 273.7,415.4 274.1,415.7 274.5,414.2 274.9,412.6 275.3,413 275.7,413.4 276.1,413.1 276.5,413.1 276.9,413.2 277.3,413.3 277.7,413.5 278.1,413.8 278.5,413.1 278.9,412.4 279.3,413.2 279.7,414 280.1,413.7 280.5,413.3 280.9,413.1 281.3,412.9 281.7,412.6 282.1,412.3 282.5,412.4 282.9,412.4 283.3,412.8 283.7,413.1 284.1,412.1 284.5,411.1 284.9,411.1 285.3,411.2 285.7,411.2 286.1,411.2 286.5,410.8 286.9,410.4 287.3,410.2 287.7,410 288.1,408.8 288.5,407.5 288.9,406.7 289.3,406 289.7,406.5 290.1,407 290.5,406.3 290.9,405.5 291.3,405.5 291.7,405.5 292.1,404.5 292.5,403.6 292.9,403.5 293.3,403.3 293.7,402.6 294.1,402 294.5,401.6 294.9,401.5 295.3,401.2 295.7,400.8 296.1,400.4 296.5,400.5 296.9,400.5 297.3,400.3 297.7,400.1 298.1,401.2 298.5,403.5 298.9,405.8 299.3,407 299.7,408.3 300.1,410.7 300.5,411.3 300.9,410.2 301.3,409 301.7,409.1 302.1,409.3 302.5,408.4 302.9,407.6 303.3,407.2 303.7,406.8 304.1,407.5 304.5,408.1 304.9,406.7 305.3,405.3 305.7,404.5 306.1,403.8 306.5,403.8 306.9,403.8 307.3,403.7 307.7,403.7 308.1,404.5 308.5,405.4 308.9,404.3 309.3,403.1 309.7,403.2 310.1,403.4 310.5,402.9 310.9,402.3 311.3,403.3 311.7,404.2 312.1,404.7 312.5,405.2 312.9,406 313.3,406.4 313.7,405.1 314.1,403.7 314.5,404.1 314.9,404.4 315.3,404 315.7,403.7 316.1,402.8 316.5,402 316.9,402.2 317.3,402.4 317.7,402.1 318.1,401.6 318.5,400.2 318.9,398.8 319.3,399.6 319.7,400.5 320.1,400 320.5,399.5 320.9,398.5 321.3,397.6 321.7,396.7 322.1,395.8 322.5,396.6 322.9,397.4 323.3,396.3 323.7,395.3 324.1,395.2 324.5,394.4 324.9,393.6 325.3,393.1 325.7,391.6 326.1,390.3 326.5,390.8 326.9,391.3 327.3,390.7 327.7,390.1 328.1,390.1 328.5,390.1 328.9,390 329.3,389.8 329.7,393.3 330.1,395.3 330.5,397.7 330.9,400.1 331.3,401.6 331.7,402.1 332.1,401.8 332.5,401.6 332.9,401.4 333.3,401.3 333.7,401.4 334.1,401.6 334.5,400.9 334.9,400.3 335.3,400.3 335.7,400.4 336.1,400.5 336.5,400.6 336.9,400.2 337.3,400.1 337.7,400.4 338.1,400.7 338.5,400.6 338.9,400.5 339.3,401.8 339.7,403.1 340.1,402.9 340.5,402.7 340.9,402.5 341.3,402.2 341.7,402.1 342.1,402 342.5,403.3 342.9,404.6 343.3,404.1 343.7,403.6 344.1,403.7 344.5,403.8 344.9,404.3 345.3,404.7 345.7,405 346.1,405.2 346.5,405.5 346.9,405.7 347.3,404.9 347.7,404 348.1,404.7 348.5,405.4 348.9,403.9 349.3,402.3 349.7,402.8 350.1,403.2 350.5,402.2 350.9,401.2 351.3,402.3 351.7,403.3 352.1,402.1 352.5,400.9 352.9,400.7 353.3,400.6 353.7,400.8 354.1,400.9 354.5,400.8 354.9,400.7 355.3,399.4 355.7,398 356.1,397.7 356.5,397.6 356.9,396.8 357.3,396.2 357.7,396.9 358.1,397.7 358.5,397.7 358.9,397.7 359.3,397.7 359.7,397.7 360.1,397.6 360.5,397.6 360.9,397.8 361.3,401.7 361.7,403.5 362.1,405.2 362.5,407.7 362.9,410.2 363.3,411 363.7,411.3 364.1,409.7 364.5,408 364.9,408.7 365.3,409.4 365.7,409.1 366.1,408.8 366.5,409.1 366.9,409.4 367.3,408.6 367.7,407.9 368.1,408.1 368.5,408.3 368.9,407.8 369.3,407.3 369.7,407.9 370.1,408.7 370.5,408.6 370.9,408.6 371.3,408.7 371.7,408.8 372.1,409.3 372.5,409.7 372.9,409.7 373.3,409.6 373.7,409.3 374.1,408.9 374.5,410.1 374.9,411.3 375.3,411.4 375.7,411.5 376.1,411.5 376.5,411.5 376.9,412.3 377.3,413 377.7,413.3 378.1,413.5 378.5,412.3 378.9,411 379.3,410.9 379.7,410.8 380.1,411.6 380.5,412.5 380.9,412.2 381.3,411.9 381.7,410.7 382.1,409.5 382.5,409.1 382.9,408.6 383.3,408.7 383.7,408.7 384.1,408.5 384.5,408.3 384.9,407.6 385.3,406.8 385.7,407.3 386.1,407.7 386.5,406.8 386.9,405.9 387.3,405.5 387.7,405.1 388.1,405.7 388.5,406.5 388.9,405.7 389.3,405 389.7,405.4 390.1,405.8 390.5,406.3 390.9,406.7 391.3,406.9 391.7,407.1 392.1,406.7 392.5,408.6 392.9,410.7 393.3,412.8 393.7,414.3 394.1,415.8 394.5,418.9 394.9,419.9 395.3,419.3 395.7,418.7 396.1,417.8 396.5,416.9 396.9,417.3 397.3,417.6 397.7,417.8 398.1,418 398.5,417.8 398.9,417.6 399.3,418.1 399.7,418.6 400.1,418.2 400.5,417.9 400.9,416.9 401.3,415.9 401.7,416 402.1,416.2 402.5,415.9 402.9,415.6 403.3,416.6 403.7,417.5 404.1,417.7 404.5,417.9 404.9,419.3 405.3,420.7 405.7,419.8 406.1,418.9 406.5,418.2 406.9,417.4 407.3,418.3 407.7,419.2 408.1,419.7 408.5,419.9 408.9,419.1 409.3,418.3 409.7,418.3 410.1,418.3 410.5,418.4 410.9,418.4 411.3,418.6 411.7,418.7 412.1,418.3 412.5,417.9 412.9,417.4 413.3,416.9 413.7,417.5 414.1,418.1 414.5,417.3 414.9,416.6 415.3,416.2 415.7,415.9 416.1,415.1 416.5,414.3 416.9,414.2 417.3,414.1 417.7,414.4 418.1,414.6 418.5,413.2 418.9,411.8 419.3,412.4 419.7,413.2 420.1,413.6 420.5,414 420.9,413.6 421.3,413.2 421.7,413.5 422.1,413.9 422.5,413.4 422.9,412.9 423.3,414 423.7,415.2 424.1,419.2 424.5,420.6 424.9,421.7 425.3,422.8 425.7,423.4 426.1,423.6 426.5,423.8 426.9,424 427.3,424.8 427.7,425.6 428.1,425.8 428.5,426 428.9,425.3 429.3,424.5 429.7,424.8 430.1,425.2 430.5,424.2 430.9,423.3 431.3,423.3 431.7,423.4 432.1,423.5 432.5,423.8 432.9,424.1 433.3,424.5 433.7,423.9 434.1,423.2 434.5,424.5 434.9,425.8 435.3,426.2 435.7,426.5 436.1,425.6 436.5,424.7 436.9,424.8 437.3,424.9 437.7,425.9 438.1,426.8 438.5,426.4 438.9,425.9 439.3,425.1 439.7,424.4 440.1,425.8 440.5,427.2 440.9,426.9 441.3,426.4 441.7,425.9 442.1,425.3 442.5,426.2 442.9,427 443.3,425.9 443.7,424.7 444.1,424 444.5,423.3 444.9,423.4 445.3,423.5 445.7,422.7 446.1,421.9 446.5,421.7 446.9,421.6 447.3,421.8 447.7,421.9 448.1,421.1 448.5,420.3 448.9,420 449.3,419.7 449.7,420.3 450.1,420.8 450.5,419.9 450.9,419.1 451.3,418.9 451.7,418.9 452.1,418.7 452.5,418.6 452.9,418.7 453.3,418.7 453.7,419.2 454.1,419.7 454.5,419.1 454.9,418.5 455.3,419.4 455.7,423.2 456.1,423.7 456.5,424.2 456.9,426.3 457.3,428.4 457.7,428.7 458.1,427.9 458.5,428.2 458.9,428.4 459.3,428.6 459.7,428.8 460.1,429 460.5,429.2 460.9,428 461.3,426.8 461.7,426.9 462.1,427 462.5,426.6 462.9,426.2 463.3,426 463.7,425.9 464.1,425.8 464.5,425.6 464.9,426.3 465.3,426.9 465.7,426.1 466.1,425.4 466.5,426.3 466.9,427.2 467.3,427.2 467.7,427.2 468.1,426.9 468.5,426.7 468.9,426.6 469.3,426.5 469.7,426.4 470.1,426.2 470.5,427.4 470.9,428.7 471.3,427 471.7,425.3 472.1,426.4 472.5,427.5 472.9,426.8 473.3,426.2 473.7,425.5 474.1,424.8 474.5,424.2 474.9,423.7 475.3,424.4 475.7,425.2 476.1,425.3 476.5,425.3 476.9,423.9 477.3,422.4 477.7,422.4 478.1,422.3 478.5,422.6 478.9,422.9 479.3,422.2 479.7,421.6 480.1,422 480.5,422.4 480.9,420.9 481.3,419.4 481.7,419.6 482.1,419.4 482.5,418.1 482.9,416.9 483.3,418.1 483.7,419.5 484.1,418.2 484.5,416.9 484.9,416.2 485.3,415.6 485.7,416.5 486.1,417.4 486.5,417.4 486.9,417.4 487.3,421.2 487.7,423.5 488.1,423.9 488.5,424.3 488.9,425.9 489.3,427.5 489.7,428.4 490.1,428.4 490.5,428.6 490.9,428.9 491.3,427.9 491.7,426.9 492.1,427.2 492.5,427.5 492.9,427 493.3,426.6 493.7,426 494.1,425.4 494.5,425.4 494.9,425.3 495.3,425.2 495.7,425.2 496.1,424.8 496.5,424.4 496.9,425.3 497.3,426.3 497.7,425.1 498.1,424 498.5,425.1 498.9,426.3 499.3,426.2 499.7,426.1 500.1,425.6 500.5,425.1 500.9,424.8 501.3,424.5 501.7,424.8 502.1,424.9 502.5,424.9 502.9,424.9 503.3,424.7 503.7,424.5 504.1,424 504.5,423.5 504.9,423.5 505.3,423.5 505.7,422.5 506.1,421.5 506.5,421.5 506.9,421.6 507.3,420.4 507.7,419.3 508.1,420 508.5,420.6 508.9,419.9 509.3,419.2 509.7,418.5 510.1,417.9 510.5,418.1 510.9,418.4 511.3,417.8 511.7,417.1 512.1,415.1 512.5,413.1 512.9,413.9 513.3,414.7 513.7,412.9 514.1,411.4 514.5,411.7 514.9,412.2 515.3,412.5 515.7,413.1 516.1,411.6 516.5,410.2 516.9,410.3 517.3,410.5 517.7,410.2 518.1,410 518.5,410.1 518.9,414 519.3,415.7 519.7,417.4 520.1,419.3 520.5,421.2 520.9,419.8 521.3,418.4 521.7,419.2 522.1,419.9 522.5,418.4 522.9,416.9 523.3,417.1 523.7,417.3 524.1,417.3 524.5,417.4 524.9,416.8 525.3,416.2 525.7,415.1 526.1,414 526.5,413.7 526.9,413.5 527.3,413.3 527.7,413.1 528.1,413.1 528.5,413 528.9,413.3 529.3,413.6 529.7,412.2 530.1,410.9 530.5,411.4 530.9,412 531.3,411.8 531.7,411.6 532.1,411.3 532.5,411 532.9,410.7 533.3,410.6 533.7,411 534.1,411.4 534.5,410.8 534.9,410.3 535.3,410.4 535.7,410.5 536.1,410.3 536.5,410.1 536.9,410.6 537.3,410.7 537.7,408.4 538.1,406.1 538.5,407 538.9,407.8 539.3,406.5 539.7,405.2 540.1,404.6 540.5,404 540.9,403.1 541.3,402 541.7,400.8 542.1,399.5 542.5,399.3 542.9,399.2 543.3,398.2 543.7,397.2 544.1,396.9 544.5,396.6 544.9,394.6 545.3,392.3 545.7,392.4 546.1,392.8 546.5,391.6 546.9,390.7 547.3,390.2 547.7,389.7 548.1,389.2 548.5,388.7 548.9,388.4 549.3,388 549.7,387.6 550.1,387.8 550.5,389.5 550.9,391.3 551.3,392.9 551.7,394.6 552.1,396 552.5,397.3 552.9,396.2 553.3,395.1 553.7,395.1 554.1,395.1 554.5,394.3 554.9,393.4 555.3,393.4 555.7,393.3 556.1,393.5 556.5,393.7 556.9,392.6 557.3,391.5 557.7,390.5 558.1,389.6 558.5,388.4 558.9,387.3 559.3,386.8 559.7,386.4 560.1,385.7 560.5,385 560.9,385.6 561.3,386.1 561.7,384.9 562.1,383.8 562.5,383.9 562.9,384 563.3,383.5 563.7,382.9 564.1,383 564.5,383.1 564.9,383.5 565.3,383.8 565.7,382.7 566.1,381.5 566.5,381.4 566.9,381.3 567.3,380.9 567.7,380.4 568.1,380.8 568.5,380.7 568.9,378.9 569.3,377.2 569.7,376.2 570.1,375.3 570.5,374.2 570.9,373.2 571.3,372.3 571.7,371.4 572.1,371.4 572.5,371.4 572.9,371.6 573.3,371.7 573.7,369.3 574.1,366.9 574.5,367 574.9,367.1 575.3,365.9 575.7,364.8 576.1,363.4 576.5,361.8 576.9,361.1 577.3,360.7 577.7,360 578.1,359.4 578.5,358.8 578.9,358.2 579.3,358.9 579.7,359.7 580.1,357.6 580.5,355.5 580.9,356 581.3,356.7 581.7,359.3 582.1,360.8 582.5,361.8 582.9,362.8 583.3,364.6 583.7,365.3 584.1,365 584.5,364.7 584.9,363.7 585.3,362.7 585.7,362.2 586.1,361.7 586.5,361.2 586.9,360.6 587.3,358.8 587.7,356.9 588.1,357.8 588.5,358.8 588.9,358.5 589.3,358.2 589.7,357 590.1,355.8 590.5,355.4 590.9,355 591.3,353.5 591.7,352 592.1,352.2 592.5,352.4 592.9,351.7 593.3,351 593.7,350.7 594.1,350.4 594.5,350.7 594.9,351 595.3,349.8 595.7,348.6 596.1,348.5 596.5,348.5 596.9,347.4 597.3,346.3 597.7,346.8 598.1,347.3 598.5,347.1 598.9,346.9 599.3,346.2 599.7,345.6 600.1,345.1 600.5,344.2 600.9,344.4 601.3,344.6 601.7,342.2 602.1,339.9 602.5,339 602.9,338.1 603.3,337.2 603.7,336.4 604.1,336.3 604.5,336.3 604.9,335.7 605.3,335.3 605.7,333.8 606.1,332.2 606.5,331 606.9,329.8 607.3,329.2 607.7,328.6 608.1,328.4 608.5,328.3 608.9,326.7 609.3,325.3 609.7,325.9 610.1,326.6 610.5,326.1 610.9,325.6 611.3,324.5 611.7,323.5 612.1,323.3 612.5,323.1 612.9,322.9 613.3,325.4 613.7,326.9 614.1,328.4 614.5,328.4 614.9,328.4 615.3,330.5 615.7,331.7 616.1,330.4 616.5,329 616.9,328.2 617.3,327.3 617.7,327 618.1,326.8 618.5,325.9 618.9,325.1 619.3,324.1 619.7,323.1 620.1,322.2 620.5,321.5 620.9,321.3 621.3,321.1 621.7,321.7 622.1,322.3 622.5,322 622.9,321.8 623.3,320.7 623.7,319.6 624.1,319.4 624.5,319.2 624.9,317.9 625.3,316.8 625.7,316.7 626.1,316.6 626.5,316.4 626.9,316.2 627.3,315.3 627.7,314.4 628.1,314.1 628.5,313.8 628.9,314 629.3,314.1 629.7,313.6 630.1,313 630.5,311.9 630.9,310.8 631.3,310.7 631.7,310.6 632.1,309.6 632.5,308.5 632.9,308.3 633.3,308.1 633.7,306.9 634.1,305.7 634.5,304.8 634.9,303.9 635.3,303.4 635.7,302.8 636.1,301.9 636.5,301 636.9,300 637.3,299 637.7,298.4 638.1,297.7 638.5,297.5 638.9,297.3 639.3,296.5 639.7,295.4 640.1,294.9 640.5,294.5 640.9,292.5 641.3,290.7 641.7,290.8 642.1,290.9 642.5,290.5 642.9,290 643.3,289.9 643.7,289.6 644.1,289 644.5,288.3 644.9,291.3 645.3,292.4 645.7,294.2 646.1,296 646.5,296.9 646.9,296.1 647.3,295 647.7,293.8 648.1,294.4 648.5,295 648.9,294.3 649.3,293.6 649.7,292.3 650.1,291.1 650.5,291.2 650.9,291.2 651.3,290 651.7,288.7 652.1,289.1 652.5,289.4 652.9,288.3 653.3,287.2 653.7,286.5 654.1,285.8 654.5,285.5 654.9,285.2 655.3,284.5 655.7,283.9 656.1,283.8 656.5,283.8 656.9,283.3 657.3,282.9 657.7,282.6 658.1,282.3 658.5,281.7 658.9,281.2 659.3,279.5 659.7,277.8 660.1,279.2 660.5,280.6 660.9,279.5 661.3,278.3 661.7,279 662.1,279.6 662.5,279.3 662.9,279 663.3,278 663.7,276.9 664.1,275.9 664.5,275 664.9,274.4 665.3,273.7 665.7,273 666.1,272.2 666.5,271.2 666.9,270.2 667.3,269.4 667.7,268.6 668.1,267.6 668.5,266.7 668.9,266.8 669.3,267 669.7,265.6 670.1,264.3 670.5,264 670.9,263.5 671.3,261.5 671.7,259.5 672.1,258.4 672.5,257.4 672.9,256.5 673.3,256 673.7,255.8 674.1,255.7 674.5,255.4 674.9,255.1 675.3,254.4 675.7,253.7 676.1,252.9 676.5,253.3 676.9,252.9 677.3,254.5 677.7,257.9 678.1,261.2 678.5,262.6 678.9,261.2 679.3,260.7 679.7,260.1 680.1,260.4 680.5,260.7 680.9,259.9 681.3,259.2 681.7,258.5 682.1,257.7 682.5,256.7 682.9,255.8 683.3,256.4 683.7,257.1 684.1,255.6 684.5,254.1 684.9,253.6 685.3,253 685.7,252.1 686.1,251.2 686.5,250 686.9,248.9 687.3,248.3 687.7,247.7 688.1,248 688.5,248.7 688.9,248.6 689.3,248.4 689.7,248 690.1,247.6 690.5,247 690.9,246.5 691.3,246 691.7,245.5 692.1,245.5 692.5,245.6 692.9,244.7 693.3,243.7 693.7,244.3 694.1,245 694.5,244.7 694.9,244.3 695.3,245.3 695.7,246.5 696.1,246.1 696.5,245.6 696.9,245.4 697.3,245.1 697.7,245.4 698.1,245.7 698.5,245 698.9,244.3 699.3,245.8 699.7,247.3 700.1,247.7 700.5,248.1 700.9,248.8 701.3,249.5 701.7,249.6 702.1,249.6 702.5,249.8 702.9,250 703.3,250.3 703.7,250.7 704.1,251.5 704.5,252.3 704.9,253.3 705.3,254.3 705.7,253.7 706.1,253.2 706.5,254.1 706.9,254.9 707.3,254.7 707.7,257.1 708.1,260 708.5,263 708.9,264.8 709.3,266.7 709.7,268.4 710.1,269.9 710.5,269.7 710.9,269.6 711.3,270.9 711.7,272.3 712.1,272.8 712.5,273.4 712.9,274.2 713.3,274.9 713.7,275.3 714.1,275.7 714.5,276.5 714.9,277.3 715.3,277.4 715.7,277.5 716.1,278.6 716.5,279.6 716.9,279.9 717.3,280.1 717.7,280.4 718.1,280.7 718.5,281.3 718.9,281.9 719.3,282.3 719.7,282.7 720.1,284 720.5,285.7 720.9,286.4 721.3,287.2 721.7,288.6 722.1,289.9 722.5,290.1 722.9,290.3 723.3,290.4 723.7,290.4 724.1,292 724.5,293.6 724.9,293.3 725.3,292.8 725.7,294 726.1,295.2 726.5,295.5 726.9,295.8 727.3,295.2 727.7,294.7 728.1,295.4 728.5,296.1 728.9,296.7 729.3,297.3 729.7,297.6 730.1,297.9 730.5,298.1 730.9,298.3 731.3,299.4 731.7,300.4 732.1,300.1 732.5,299.8 732.9,300.3 733.3,300.7 733.7,300.5 734.1,299.9 734.5,299.9 734.9,300.1 735.3,299.8 735.7,299.5 736.1,300.3 736.5,301.2 736.9,302.1 737.3,302.9 737.7,303.3 738.1,303.6 738.5,303.9 738.9,304.3 739.3,306.7 739.7,307.3 740.1,309 740.5,311 740.9,312.5 741.3,314.1 741.7,315.3 742.1,316.7 742.5,318 742.9,319.4 743.3,320.8 743.7,321.9 744.1,323.3 744.5,324.7 744.9,324 745.3,323.2 745.7,324 746.1,324.8 746.5,325.4 746.9,325.9 747.3,325.1 747.7,324.3 748.1,326.1 748.5,327.9 748.9,328.1 749.3,328.3 749.7,329.9 750.1,331.4 750.5,331.3 750.9,331.1 751.3,331.5 751.7,331.9 752.1,332.8 752.5,333.9 752.9,334.9 753.3,335.9 753.7,336.4 754.1,337 754.5,338 754.9,339.1 755.3,339.4 755.7,339.6 756.1,340.9 756.5,342 756.9,343 757.3,344 757.7,345.1 758.1,346.2 758.5,346.1 758.9,346.1 759.3,346.5 759.7,346.8 760.1,347.8 760.5,348.6 760.9,349 761.3,349.4 761.7,350.1 762.1,350.9 762.5,351 762.9,351.2 763.3,351.1 763.7,351.1 764.1,351.6 764.5,351.8 764.9,351.9 765.3,352 765.7,351.4 766.1,351 766.5,350.7 766.9,350.7 767.3,350.6 767.7,350.9 768.1,351.1 768.5,351.2 768.9,352.6 769.3,354 769.7,354.2 770.1,354.3 770.5,356 770.9,360.4 771.3,362.1 771.7,363.7 772.1,364.8 772.5,366.5 772.9,370 773.3,373.4 773.7,374.4 774.1,374 774.5,373.1 774.9,372.2 775.3,372.4 775.7,372.6 776.1,372.1 776.5,371.7 776.9,369.8 777.3,367.8 777.7,368.3 778.1,368.8 778.5,368.1 778.9,367.4 779.3,366.9 779.7,366.5 780.1,366.2 780.5,366 780.9,364.8 781.3,363.6 781.7,363.2 782.1,362.9 782.5,362.7 782.9,362.5 783.3,362.5 783.7,362.4 784.1,362.6 784.5,362.8 784.9,362.1 785.3,361.4 785.7,361.5 786.1,361.5 786.5,362 786.9,362.6 787.3,362.1 787.7,361.6 788.1,361.6 788.5,361.6 788.9,360.4 789.3,359.1 789.7,359.4 790.1,359.6 790.5,359.1 790.9,358.7 791.3,358.3 791.7,358 792.1,357.1 792.5,356.2 792.9,356.3 793.3,356.4 793.7,355.3 794.1,354.3 794.5,353.7 794.9,353.2 795.3,352.4 795.7,351.6 796.1,351.1 796.5,350.6 796.9,349.3 797.3,346.9 797.7,345.9 798.1,345.2 798.5,343.6 798.9,342.4 799.3,341.9 799.7,341.4 800.1,341 800.5,340.6 800.9,340.5 801.3,340.4 801.7,340.3 802.1,340.2 802.5,340.9 802.9,341.3 803.3,341.4 803.7,342.2 804.1,344.2 804.5,346.1 804.9,347.5 805.3,347.2 805.7,347.2 806.1,347.2 806.5,346.1 806.9,345 807.3,343.6 807.7,342.1 808.1,343.1 808.5,344.2 808.9,343.1 809.3,342 809.7,340.9 810.1,339.8 810.5,339.8 810.9,339.7 811.3,339 811.7,338.2 812.1,339 812.5,339.9 812.9,338.7 813.3,337.5 813.7,336.1 814.1,334.7 814.5,335.1 814.9,335.6 815.3,334.9 815.7,334.2 816.1,335 816.5,335.8 816.9,334.2 817.3,332.7 817.7,331.9 818.1,331.1 818.5,331.9 818.9,332.7 819.3,332.3 819.7,331.9 820.1,331.5 820.5,330.8 820.9,329.3 821.3,327.9 821.7,328.3 822.1,328.8 822.5,328.7 822.9,328.6 823.3,326.3 823.7,324 824.1,324.7 824.5,325.4 824.9,323.9 825.3,322.4 825.7,322.9 826.1,323.4 826.5,321.8 826.9,320.1 827.3,319 827.7,317.9 828.1,317.7 828.5,317.4 828.9,316.2 829.3,315.3 829.7,314.3 830.1,313.3 830.5,313.4 830.9,313.6 831.3,312.7 831.7,311.8 832.1,310.9 832.5,309.9 832.9,311.3 833.3,312.6 833.7,311.2 834.1,312.5 834.5,313.6 834.9,314.8 835.3,316.6 835.7,318.3 836.1,318.3 836.5,316.8 836.9,316.3 837.3,315.8 837.7,315.6 838.1,315.4 838.5,314.8 838.9,314.2 839.3,313.8 839.7,313.5 840.1,313.4 840.5,313.4 840.9,312.1 841.3,310.9 841.7,310.8 842.1,310.7 842.5,310.2 842.9,309.8 843.3,308.5 843.7,307.2 844.1,307.3 844.5,307.4 844.9,306.3 845.3,305.5 845.7,306.3 846.1,307.1 846.5,306.7 846.9,306.3 847.3,305.9 847.7,305.6 848.1,304.9 848.5,304.1 848.9,304.6 849.3,305.1 849.7,304.6 850.1,304 850.5,304.2 850.9,304.4 851.3,303.5 851.7,302.7 852.1,301.9 852.5,301.1 852.9,301.4 853.3,301.7 853.7,301.1 854.1,300.5 854.5,299.5 854.9,298.4 855.3,298.4 855.7,298.4 856.1,296.9 856.5,295.4 856.9,294.5 857.3,293.7 857.7,293 858.1,292.4 858.5,291.3 858.9,290.2 859.3,289.7 859.7,289.1 860.1,288.4 860.5,287.5 860.9,287.4 861.3,287.4 861.7,286.8 862.1,286.4 862.5,285.2 862.9,284.1 863.3,284.5 863.7,285 864.1,283.9 864.5,282.8 864.9,282.6 865.3,283.1 865.7,283.8 866.1,284.4 866.5,284.5 866.9,285.7 867.3,288.2 867.7,290.6 868.1,290.5 868.5,289 868.9,287.7 869.3,286.5 869.7,287 870.1,287.5 870.5,286.2 870.9,284.8 871.3,284.2 871.7,283.7 872.1,281.9 872.5,280.2 872.9,281.5 873.3,282.8 873.7,282.2 874.1,281.6 874.5,281.1 874.9,280.6 875.3,280.2 875.7,279.8 876.1,279.7 876.5,280 876.9,279.1 877.3,278.3 877.7,278.7 878.1,279.1 878.5,278.3 878.9,277.5 879.3,277.6 879.7,277.7 880.1,278.2 880.5,278.6 880.9,278 881.3,277.4 881.7,276.3 882.1,275.2 882.5,275.7 882.9,276.2 883.3,275.6 883.7,275.1 884.1,274.4 884.5,273.4 884.9,273.3 885.3,273.1 885.7,272 886.1,271 886.5,269.7 886.9,268.5 887.3,268 887.7,267.5 888.1,268.1 888.5,268.7 888.9,266.4 889.3,264.2 889.7,264.2 890.1,264.3 890.5,263.7 890.9,263.1 891.3,262.4 891.7,261.2 892.1,259 892.5,257 892.9,256.4 893.3,255.9 893.7,255.7 894.1,255.5 894.5,255.5 894.9,255.4 895.3,254.5 895.7,253.5 896.1,252.9 896.5,252.3 896.9,253.6 897.3,255.5 897.7,257.1 898.1,258.7 898.5,259.9 898.9,261.1 899.3,262.1 899.7,262.1 900.1,262 900.5,261.8 900.9,261 901.3,260.3 901.7,260 902.1,259.7 902.5,258.1 902.9,256.5 903.3,256.6 903.7,256.6 904.1,256 904.5,255.3 904.9,254.3 905.3,253.3 905.7,253.4 906.1,253.4 906.5,252.8 906.9,252.2 907.3,251.7 907.7,251.4 908.1,251.6 908.5,251.8 908.9,250.8 909.3,249.9 909.7,250.3 910.1,250.8 910.5,250.9 910.9,250.9 911.3,250.6 911.7,250.2 912.1,250.2 912.5,250.2 912.9,248.9 913.3,247.5 913.7,247 914.1,246.5 914.5,246.5 914.9,246.5 915.3,245.9 915.7,245.2 916.1,245.2 916.5,245.2 916.9,243.8 917.3,242.4 917.7,240.9 918.1,239.5 918.5,239.6 918.9,239.7 919.3,238.2 919.7,236.8 920.1,235.8 920.5,234.8 920.9,235.9 921.3,237.1 921.7,235.3 922.1,233.6 922.5,233.2 922.9,232.8 923.3,231.9 923.7,231 924.1,230.8 924.5,230.8 924.9,229.6 925.3,228.5 925.7,228.6 926.1,228.5 926.5,227.2 926.9,225.9 927.3,225.4 927.7,224.9 928.1,225.8 928.5,229.1 928.9,230.5 929.3,232 929.7,233 930.1,234 930.5,235.3 930.9,234.7 931.3,234.1 931.7,233.5 932.1,232.6 932.5,231.7 932.9,232.2 933.3,232.7 933.7,231.7 934.1,230.8 934.5,230.2 934.9,229.6 935.3,228.8 935.7,228 936.1,227.6 936.5,227.2 936.9,226.2 937.3,225.2 937.7,224.5 938.1,223.9 938.5,222.3 M120.5,423.2 120.9,424.9 121.3,426.7 121.7,426.5 122.1,426.3 122.5,427.4 122.9,428.6 123.3,430.1 123.7,431.5 124.1,432.6 124.5,433.6 124.9,434.5 125.3,434.9 125.7,434.3 126.1,433.6 126.5,435 126.9,436.4 127.3,436 127.7,435.6 128.1,436.2 128.5,436.8 128.9,437.8 129.3,438.8 129.7,438.8 130.1,438.8 130.5,439.7 130.9,440.6 131.3,442.1 131.7,443.5 132.1,442.9 132.5,442.2 132.9,442.6 133.3,443 133.7,442.6 134.1,442.3 134.5,442.8 134.9,443.3 135.3,443.5 135.7,443.7 136.1,444.4 136.5,445 136.9,445.2 137.3,445.3 137.7,445.9 138.1,446.5 138.5,447.1 138.9,447.7 139.3,447.8 139.7,447.8 140.1,448.7 140.5,451.5 140.9,454.5 141.3,456.8 141.7,459.6 142.1,462.4 142.5,464.2 142.9,466.1 143.3,467.4 143.7,468.4 144.1,469 144.5,469.5 144.9,469.5 145.3,469.4 145.7,470.4 146.1,471.4 146.5,471.1 146.9,470.7 147.3,472.9 147.7,475.1 148.1,475.3 148.5,475.5 148.9,475.6 149.3,475.7 149.7,476.1 150.1,476.4 150.5,477.8 150.9,479.3 151.3,479 151.7,478.8 152.1,480 152.5,481 152.9,482.3 153.3,483.6 153.7,483.9 154.1,484.2 154.5,484.6 154.9,484.9 155.3,486.2 155.7,487.4 156.1,487.1 156.5,486.8 156.9,488 157.3,489.2 157.7,489.5 158.1,489.6 158.5,489.8 158.9,489.9 159.3,490.8 159.7,491.7 160.1,491.3 160.5,491 160.9,492.6 161.3,494.2 161.7,493.3 162.1,492.5 162.5,494 162.9,495.4 163.3,494.3 163.7,493.2 164.1,494.3 164.5,495.4 164.9,494.9 165.3,494.3 165.7,494.4 166.1,494.5 166.5,495.3 166.9,496.2 167.3,496.6 167.7,497 168.1,496.4 168.5,496.2 168.9,498 169.3,499.8 169.7,499.6 170.1,499.5 170.5,500.6 170.9,501.7 171.3,502.5 171.7,503.3 172.1,504.5 172.5,507 172.9,508.4 173.3,509.7 173.7,513.6 174.1,516.9 174.5,516.2 174.9,515.6 175.3,514.9 175.7,514.3 176.1,513.8 176.5,513.3 176.9,512.8 177.3,512.3 177.7,512.3 178.1,512.2 178.5,512.9 178.9,513.5 179.3,512.9 179.7,512.3 180.1,511.9 180.5,511.7 180.9,512.1 181.3,512.5 181.7,513.5 182.1,514.6 182.5,513.9 182.9,513.2 183.3,513.2 183.7,513.2 184.1,514.2 184.5,515.2 184.9,515 185.3,514.7 185.7,514.7 186.1,514.6 186.5,514.4 186.9,514.3 187.3,514 187.7,513.7 188.1,513.9 188.5,513.8 188.9,513.9 189.3,514 189.7,513.9 190.1,513.7 190.5,513.8 190.9,513.8 191.3,513.6 191.7,513.5 192.1,513.1 192.5,512.7 192.9,512.5 193.3,512.2 193.7,511.4 194.1,510.6 194.5,509.9 194.9,509.1 195.3,509.5 195.7,509.8 196.1,509.1 196.5,508.5 196.9,508.2 197.3,507.9 197.7,507.6 198.1,507.3 198.5,506.2 198.9,505.3 199.3,505 199.7,504.8 200.1,505 200.5,505.5 200.9,505.7 201.3,505.8 201.7,505.5 202.1,505.3 202.5,505.8 202.9,506.4 203.3,506.1 203.7,508.5 204.1,509.6 204.5,510.8 204.9,512.8 205.3,514.8 205.7,516.2 206.1,516.6 206.5,515.1 206.9,513.6 207.3,514.1 207.7,514.5 208.1,514.2 208.5,514 208.9,513.7 209.3,513.3 209.7,511.9 210.1,510.5 210.5,511.4 210.9,512.3 211.3,511.1 211.7,509.9 212.1,509.4 212.5,509.2 212.9,509.2 213.3,509.1 213.7,509.5 214.1,509.8 214.5,509.5 214.9,509.2 215.3,509 215.7,508.9 216.1,509.5 216.5,510.1 216.9,509.1 217.3,508.2 217.7,508 218.1,507.8 218.5,508.6 218.9,509.4 219.3,509.3 219.7,509.2 220.1,509.2 220.5,509 220.9,507.6 221.3,506.3 221.7,506.9 222.1,507.5 222.5,506.8 222.9,506.1 223.3,506.3 223.7,506.5 224.1,504.8 224.5,503 224.9,503.3 225.3,503.6 225.7,503 226.1,502.4 226.5,501.4 226.9,500.4 227.3,500.4 227.7,500.4 228.1,500.9 228.5,501.3 228.9,500.2 229.3,499.1 229.7,498.4 230.1,497.4 230.5,497.3 230.9,497.4 231.3,496.9 231.7,496.7 232.1,496.6 232.5,496.4 232.9,495.5 233.3,494.6 233.7,494.8 234.1,495 234.5,495.4 234.9,499.4 235.3,500.2 235.7,500.9 236.1,502.4 236.5,503.9 236.9,506.2 237.3,507 237.7,507.1 238.1,507.1 238.5,505.7 238.9,504.2 239.3,503.2 239.7,502.3 240.1,502.5 240.5,502.8 240.9,502.7 241.3,502.6 241.7,502.8 242.1,502.9 242.5,502.9 242.9,503 243.3,502.4 243.7,501.8 244.1,501.2 244.5,500.7 244.9,500.8 245.3,501 245.7,500.4 246.1,499.8 246.5,500.1 246.9,500.4 247.3,500 247.7,499.6 248.1,500.9 248.5,502.3 248.9,501.4 249.3,500.4 249.7,499.5 250.1,498.7 250.5,498.5 250.9,498.3 251.3,498.4 251.7,498.5 252.1,497.8 252.5,497.2 252.9,497.5 253.3,497.5 253.7,497 254.1,496.6 254.5,496.9 254.9,497.1 255.3,496.1 255.7,495 256.1,494.4 256.5,493.8 256.9,493.1 257.3,492.4 257.7,492 258.1,491.6 258.5,491.7 258.9,491.7 259.3,491.2 259.7,490.6 260.1,490.8 260.5,491 260.9,489.9 261.3,488.3 261.7,488.2 262.1,488.3 262.5,487.3 262.9,486.4 263.3,486.1 263.7,485.9 264.1,484.8 264.5,483.8 264.9,484 265.3,484.2 265.7,485 266.1,485.8 266.5,490.2 266.9,492.1 267.3,493.1 267.7,494.2 268.1,496 268.5,497.9 268.9,497 269.3,496.1 269.7,495.8 270.1,495.4 270.5,494.9 270.9,494.5 271.3,494.8 271.7,495.2 272.1,494.6 272.5,493.9 272.9,493.3 273.3,492.7 273.7,492.3 274.1,491.9 274.5,491.9 274.9,492 275.3,491.5 275.7,491.1 276.1,490.3 276.5,489.8 276.9,490.9 277.3,492 277.7,491.4 278.1,490.7 278.5,490.6 278.9,490.5 279.3,491.2 279.7,491.8 280.1,491.6 280.5,491.4 280.9,490.9 281.3,490.4 281.7,490.7 282.1,491 282.5,490.3 282.9,489.5 283.3,489.4 283.7,489.2 284.1,488 284.5,486.9 284.9,488.1 285.3,489.2 285.7,487.4 286.1,485.6 286.5,486.3 286.9,487 287.3,485.9 287.7,484.9 288.1,484.4 288.5,483.9 288.9,483.8 289.3,483.8 289.7,483.5 290.1,483.3 290.5,483.1 290.9,482.8 291.3,482.9 291.7,483 292.1,482 292.5,480.9 292.9,480.5 293.3,480 293.7,478.8 294.1,477.7 294.5,478 294.9,478.5 295.3,478.1 295.7,477.4 296.1,476.9 296.5,476.7 296.9,476.9 297.3,477 297.7,476.9 298.1,477.9 298.5,480 298.9,482 299.3,484.1 299.7,486.1 300.1,487.1 300.5,486.3 300.9,485.9 301.3,485.4 301.7,485.7 302.1,486.1 302.5,484.6 302.9,483.2 303.3,483.3 303.7,483.4 304.1,484.1 304.5,484.7 304.9,482.4 305.3,480.2 305.7,480.7 306.1,481.3 306.5,481.7 306.9,482.1 307.3,480.8 307.7,479.5 308.1,481.1 308.5,482.8 308.9,480.2 309.3,477.6 309.7,479.2 310.1,480.9 310.5,481.3 310.9,481.7 311.3,481.7 311.7,481.7 312.1,481.6 312.5,481.4 312.9,482 313.3,482.1 313.7,481.3 314.1,480.5 314.5,481.1 314.9,481.6 315.3,480.5 315.7,479.4 316.1,479.5 316.5,479.7 316.9,480 317.3,480.3 317.7,479.1 318.1,477.9 318.5,477.7 318.9,477.6 319.3,477.3 319.7,477.1 320.1,475.9 320.5,474.8 320.9,475.4 321.3,476 321.7,475.2 322.1,474.3 322.5,473 322.9,471.7 323.3,471.9 323.7,472 324.1,471.2 324.5,469.8 324.9,468.9 325.3,468.2 325.7,467.9 326.1,467.8 326.5,467.4 326.9,466.9 327.3,467.6 327.7,468.2 328.1,467.4 328.5,466.5 328.9,467.2 329.3,467.8 329.7,470.8 330.1,472.2 330.5,474.6 330.9,476.9 331.3,478.2 331.7,478.5 332.1,478.4 332.5,478.3 332.9,477.9 333.3,477.5 333.7,478.1 334.1,478.8 334.5,478.9 334.9,478.9 335.3,479.3 335.7,479.8 336.1,479.3 336.5,478.8 336.9,478.2 337.3,477.8 337.7,477.7 338.1,477.6 338.5,478 338.9,478.4 339.3,478.4 339.7,478.3 340.1,479.1 340.5,479.9 340.9,479.8 341.3,479.6 341.7,479 342.1,478.3 342.5,478.7 342.9,479.1 343.3,480.3 343.7,481.5 344.1,481.3 344.5,481.2 344.9,481.2 345.3,481.3 345.7,482.2 346.1,483 346.5,482.1 346.9,481.1 347.3,480.9 347.7,480.8 348.1,480.4 348.5,480.1 348.9,479.2 349.3,478.3 349.7,479.3 350.1,480.4 350.5,479.2 350.9,478.1 351.3,478.1 351.7,478.2 352.1,477.8 352.5,477.5 352.9,477.9 353.3,478.3 353.7,477.7 354.1,477.1 354.5,476.8 354.9,476.6 355.3,475.6 355.7,474.5 356.1,474.6 356.5,474.8 356.9,473.9 357.3,473.1 357.7,473.9 358.1,474.8 358.5,475 358.9,475.1 359.3,475 359.7,475 360.1,476 360.5,477 360.9,476.5 361.3,479.5 361.7,481.5 362.1,483.4 362.5,485.1 362.9,486.8 363.3,487.1 363.7,486.8 364.1,487.2 364.5,487.6 364.9,487.5 365.3,487.5 365.7,486.3 366.1,485.1 366.5,486 366.9,486.9 367.3,486.6 367.7,486.2 368.1,486.3 368.5,486.3 368.9,486 369.3,485.6 369.7,484.7 370.1,483.9 370.5,484.2 370.9,484.5 371.3,486 371.7,487.6 372.1,487.1 372.5,486.6 372.9,486.1 373.3,485.6 373.7,486.6 374.1,487.6 374.5,487.5 374.9,487.4 375.3,487 375.7,486.5 376.1,486.6 376.5,486.6 376.9,487.1 377.3,487.7 377.7,488.7 378.1,489.7 378.5,489.3 378.9,488.9 379.3,488.6 379.7,488.3 380.1,488.3 380.5,488.3 380.9,488.2 381.3,488.2 381.7,486.7 382.1,485.3 382.5,485.8 382.9,486.4 383.3,486 383.7,485.5 384.1,485.1 384.5,484.7 384.9,484.8 385.3,484.8 385.7,484.7 386.1,484.6 386.5,484.2 386.9,483.8 387.3,482.9 387.7,481.8 388.1,481.9 388.5,482.2 388.9,483.3 389.3,484.4 389.7,483.2 390.1,481.9 390.5,481.8 390.9,481.6 391.3,482.6 391.7,483.6 392.1,483.9 392.5,486.4 392.9,488.3 393.3,490.2 393.7,491.4 394.1,492.6 394.5,495.4 394.9,496.3 395.3,495.4 395.7,494.4 396.1,494.1 396.5,493.9 396.9,494 397.3,494.1 397.7,494.2 398.1,494.3 398.5,494.5 398.9,494.8 399.3,494.6 399.7,494.5 400.1,494.1 400.5,493.6 400.9,493.9 401.3,494.3 401.7,493.7 402.1,493.3 402.5,494 402.9,494.6 403.3,493.8 403.7,493 404.1,493.2 404.5,493.4 404.9,494.7 405.3,496 405.7,495.3 406.1,494.5 406.5,495.3 406.9,496 407.3,496.4 407.7,496.7 408.1,496.7 408.5,496.3 408.9,496.2 409.3,496 409.7,496.7 410.1,497.4 410.5,495.4 410.9,493.5 411.3,494.8 411.7,496.2 412.1,496.7 412.5,497.1 412.9,495.9 413.3,494.7 413.7,494.6 414.1,494.4 414.5,494.5 414.9,494.7 415.3,494.9 415.7,495 416.1,493.2 416.5,491.5 416.9,491.7 417.3,491.9 417.7,491.4 418.1,490.9 418.5,490.8 418.9,490.8 419.3,490.5 419.7,490.4 420.1,490.7 420.5,490.9 420.9,490.5 421.3,490.1 421.7,490.4 422.1,490.7 422.5,490.5 422.9,490.3 423.3,490.3 423.7,490.4 424.1,494.7 424.5,496.5 424.9,498 425.3,499.5 425.7,500.5 426.1,501.1 426.5,502.2 426.9,503.4 427.3,502.5 427.7,501.6 428.1,500.9 428.5,500.2 428.9,501.3 429.3,502.3 429.7,501.3 430.1,500.4 430.5,500.8 430.9,501.3 431.3,500.9 431.7,500.6 432.1,500.7 432.5,501 432.9,501.1 433.3,501.3 433.7,501.2 434.1,501 434.5,501.5 434.9,502 435.3,503.1 435.7,504.2 436.1,502.5 436.5,500.7 436.9,502 437.3,503.2 437.7,503.6 438.1,503.9 438.5,503.2 438.9,502.6 439.3,502.4 439.7,502.3 440.1,503.9 440.5,505.4 440.9,504.3 441.3,503 441.7,503.8 442.1,504.6 442.5,503.6 442.9,502.6 443.3,502.1 443.7,501.6 444.1,501.5 444.5,501.4 444.9,501.2 445.3,501 445.7,500.9 446.1,500.9 446.5,500.3 446.9,499.7 447.3,499.2 447.7,498.7 448.1,498.3 448.5,498 448.9,498.1 449.3,498.3 449.7,497.7 450.1,497.1 450.5,495.7 450.9,494.4 451.3,494.5 451.7,494.6 452.1,495 452.5,495.4 452.9,495.1 453.3,494.7 453.7,494.9 454.1,495 454.5,494.8 454.9,494.6 455.3,495 455.7,498.3 456.1,500.4 456.5,502.5 456.9,504.5 457.3,506.5 457.7,506.8 458.1,506.2 458.5,506.9 458.9,507.6 459.3,506.4 459.7,505.2 460.1,506.5 460.5,507.7 460.9,506.5 461.3,505.3 461.7,504.9 462.1,504.4 462.5,503.8 462.9,503.1 463.3,502 463.7,501.1 464.1,502.3 464.5,503.6 464.9,503.8 465.3,504 465.7,504.8 466.1,505.7 466.5,504.2 466.9,502.8 467.3,504.4 467.7,505.9 468.1,505 468.5,504.1 468.9,504.6 469.3,505.1 469.7,503.6 470.1,502.2 470.5,503.1 470.9,504.1 471.3,503.7 471.7,503.2 472.1,503.5 472.5,503.7 472.9,503.2 473.3,502.7 473.7,501.9 474.1,501.1 474.5,501.8 474.9,502.6 475.3,502.2 475.7,501.9 476.1,501.6 476.5,501.3 476.9,501.3 477.3,501.2 477.7,500.9 478.1,500.6 478.5,499.7 478.9,498.9 479.3,498 479.7,497 480.1,496.7 480.5,496.3 480.9,497.2 481.3,498.1 481.7,497.5 482.1,496.6 482.5,495.8 482.9,495.1 483.3,494.6 483.7,494.2 484.1,494.4 484.5,494.6 484.9,494.6 485.3,494.6 485.7,494.4 486.1,494.2 486.5,494 486.9,493.9 487.3,498 487.7,500.7 488.1,501.3 488.5,501.8 488.9,502.9 489.3,503.9 489.7,504.2 490.1,503.7 490.5,503.7 490.9,503.8 491.3,504.2 491.7,504.6 492.1,504.4 492.5,504.2 492.9,503.6 493.3,502.9 493.7,502.8 494.1,502.7 494.5,502.4 494.9,502 495.3,501.6 495.7,501.2 496.1,502.3 496.5,503.4 496.9,503 497.3,502.5 497.7,503.5 498.1,504.4 498.5,503 498.9,501.5 499.3,501.8 499.7,502.1 500.1,502.5 500.5,503 500.9,502.5 501.3,502 501.7,501.5 502.1,500.9 502.5,500.8 502.9,500.6 503.3,500.8 503.7,501 504.1,500.8 504.5,500.6 504.9,500 505.3,499.5 505.7,499.7 506.1,499.9 506.5,499.6 506.9,499.3 507.3,498.6 507.7,498 508.1,497.5 508.5,497 508.9,496.4 509.3,495.9 509.7,495.8 510.1,495.7 510.5,495.5 510.9,495.2 511.3,494.4 511.7,493.5 512.1,493.3 512.5,493 512.9,492.2 513.3,491.3 513.7,489.8 514.1,488.4 514.5,487.8 514.9,487.4 515.3,487.8 515.7,488.5 516.1,488.3 516.5,488 516.9,488.4 517.3,488.8 517.7,488.1 518.1,487.3 518.5,487.5 518.9,491.5 519.3,493.3 519.7,495.1 520.1,496.5 520.5,497.9 520.9,496.8 521.3,495.7 521.7,495.5 522.1,495.4 522.5,495.1 522.9,494.9 523.3,494 523.7,493.2 524.1,493.4 524.5,493.7 524.9,493.6 525.3,493.5 525.7,492.4 526.1,491.4 526.5,492.1 526.9,492.9 527.3,491.6 527.7,490.3 528.1,490.1 528.5,489.9 528.9,489.6 529.3,489.3 529.7,488.9 530.1,488.4 530.5,488.7 530.9,488.9 531.3,488.5 531.7,488 532.1,488.5 532.5,489 532.9,488.3 533.3,487.7 533.7,487.6 534.1,487.5 534.5,487.1 534.9,486.7 535.3,486.1 535.7,485.5 536.1,486 536.5,486.5 536.9,486.1 537.3,485.3 537.7,485.5 538.1,485.7 538.5,484.7 538.9,483.6 539.3,483.8 539.7,483.9 540.1,482.9 540.5,481.9 540.9,481.4 541.3,480.6 541.7,479.5 542.1,478.4 542.5,477.5 542.9,476.7 543.3,476.1 543.7,475.4 544.1,474.7 544.5,474 544.9,472.1 545.3,470 545.7,469.4 546.1,469 546.5,469.3 546.9,469.8 547.3,468.3 547.7,466.8 548.1,466.4 548.5,466.1 548.9,465.6 549.3,465.1 549.7,464.5 550.1,464.6 550.5,467.2 550.9,469.8 551.3,470.7 551.7,471.7 552.1,473.2 552.5,474.8 552.9,474.9 553.3,475.1 553.7,474.8 554.1,474.6 554.5,472.5 554.9,470.4 555.3,470.8 555.7,471.1 556.1,470.3 556.5,469.6 556.9,469 557.3,468.3 557.7,467.8 558.1,467.3 558.5,466.5 558.9,465.7 559.3,465.9 559.7,466.1 560.1,465.1 560.5,464.1 560.9,463.4 561.3,462.8 561.7,462.6 562.1,462.6 562.5,462.2 562.9,461.8 563.3,461.4 563.7,460.9 564.1,460.6 564.5,460.3 564.9,460.7 565.3,461.2 565.7,460.4 566.1,459.6 566.5,459.1 566.9,458.6 567.3,458 567.7,457.4 568.1,457.2 568.5,456.6 568.9,455.4 569.3,454.1 569.7,453.8 570.1,453.4 570.5,452.5 570.9,451.7 571.3,449.8 571.7,447.8 572.1,447.9 572.5,448 572.9,447.5 573.3,447 573.7,446 574.1,445 574.5,443.6 574.9,442.3 575.3,442.5 575.7,442.7 576.1,441.1 576.5,439.2 576.9,437.9 577.3,436.8 577.7,436.2 578.1,435.7 578.5,435.7 578.9,435.8 579.3,435.8 579.7,435.9 580.1,435.5 580.5,435.2 580.9,434.3 581.3,433.5 581.7,435.6 582.1,436.4 582.5,438.1 582.9,439.8 583.3,441.1 583.7,441.4 584.1,441 584.5,440.7 584.9,439.4 585.3,438 585.7,438.2 586.1,438.4 586.5,438 586.9,437.6 587.3,436.6 587.7,435.6 588.1,435.2 588.5,434.8 588.9,433.6 589.3,432.3 589.7,431.4 590.1,430.6 590.5,430.6 590.9,430.5 591.3,430.9 591.7,431.3 592.1,430.9 592.5,430.4 592.9,429.4 593.3,428.3 593.7,428.6 594.1,429 594.5,427.9 594.9,426.8 595.3,427.2 595.7,427.7 596.1,426.8 596.5,426.1 596.9,425.3 597.3,424.6 597.7,424.9 598.1,425.1 598.5,424.1 598.9,423.1 599.3,422.8 599.7,422.4 600.1,421.7 600.5,420.5 600.9,420.3 601.3,420.1 601.7,419 602.1,417.9 602.5,416.9 602.9,416 603.3,414.9 603.7,413.8 604.1,413.6 604.5,413.5 604.9,411.7 605.3,410.1 605.7,409.2 606.1,408.3 606.5,408.4 606.9,408.6 607.3,407.9 607.7,407.2 608.1,405.9 608.5,404.6 608.9,403 609.3,401.6 609.7,401.6 610.1,401.7 610.5,401.8 610.9,401.9 611.3,401.2 611.7,400.4 612.1,400.7 612.5,400.9 612.9,399.3 613.3,400.5 613.7,402.6 614.1,404.6 614.5,405.2 614.9,405.7 615.3,407.7 615.7,408.9 616.1,407.6 616.5,406.3 616.9,406.1 617.3,405.9 617.7,404.5 618.1,403.1 618.5,402.1 618.9,401.1 619.3,400.5 619.7,400 620.1,399.6 620.5,399.4 620.9,398.7 621.3,398 621.7,398.5 622.1,399.1 622.5,398.6 622.9,398.2 623.3,397.3 623.7,396.3 624.1,395.2 624.5,394.2 624.9,394.1 625.3,394.2 625.7,393.6 626.1,393 626.5,393.6 626.9,394.3 627.3,393.5 627.7,392.6 628.1,392.4 628.5,392.1 628.9,391.4 629.3,390.7 629.7,389.7 630.1,388.5 630.5,388.3 630.9,388.1 631.3,387.2 631.7,386.3 632.1,386.2 632.5,386.1 632.9,385.2 633.3,384.3 633.7,383.2 634.1,382 634.5,381.4 634.9,380.8 635.3,381 635.7,381.1 636.1,379.2 636.5,377.3 636.9,376.5 637.3,375.8 637.7,375.4 638.1,374.9 638.5,373.9 638.9,373 639.3,372.3 639.7,371.4 640.1,371 640.5,370.8 640.9,370.7 641.3,370.7 641.7,368.7 642.1,366.7 642.5,367.1 642.9,367.4 643.3,367 643.7,366.4 644.1,366.1 644.5,365.6 644.9,368.6 645.3,369.7 645.7,370.9 646.1,372 646.5,373.8 646.9,373.9 647.3,372.7 647.7,371.4 648.1,371.1 648.5,370.7 648.9,370.2 649.3,369.7 649.7,369.2 650.1,368.7 650.5,368 650.9,367.3 651.3,367.3 651.7,367.3 652.1,366.3 652.5,365.4 652.9,365 653.3,364.6 653.7,364 654.1,363.4 654.5,362.5 654.9,361.6 655.3,361.2 655.7,360.8 656.1,360.2 656.5,359.7 656.9,359.7 657.3,360 657.7,359.3 658.1,358.6 658.5,358.2 658.9,357.7 659.3,358 659.7,358.3 660.1,358.2 660.5,358 660.9,356.7 661.3,355.4 661.7,356.7 662.1,357.9 662.5,356.4 662.9,355 663.3,354.3 663.7,353.6 664.1,353.4 664.5,353.3 664.9,352.2 665.3,351 665.7,349.9 666.1,348.8 666.5,349.2 666.9,349.7 667.3,347.4 667.7,345.1 668.1,344.8 668.5,344.4 668.9,344 669.3,343.7 669.7,342 670.1,340.4 670.5,340 670.9,339.6 671.3,338.3 671.7,337.1 672.1,336.7 672.5,336.5 672.9,334.3 673.3,332.3 673.7,332.3 674.1,332.2 674.5,332.1 674.9,332 675.3,331.3 675.7,330.6 676.1,329.6 676.5,329.8 676.9,330.2 677.3,332.6 677.7,334.7 678.1,336.8 678.5,339.2 678.9,338.9 679.3,338.6 679.7,338.4 680.1,337.8 680.5,337.2 680.9,336.4 681.3,335.6 681.7,335.1 682.1,334.5 682.5,333.3 682.9,332.1 683.3,332 683.7,331.8 684.1,331.4 684.5,330.9 684.9,330.1 685.3,329.2 685.7,328.8 686.1,328.4 686.5,327.4 686.9,326.4 687.3,326.9 687.7,327.3 688.1,327.1 688.5,327.3 688.9,326 689.3,324.7 689.7,324.9 690.1,325.2 690.5,324.7 690.9,324.3 691.3,324.6 691.7,324.9 692.1,324.1 692.5,323.3 692.9,322.7 693.3,322.1 693.7,321.5 694.1,321 694.5,320.7 694.9,320.4 695.3,320.1 695.7,320.1 696.1,321.2 696.5,322.4 696.9,322.2 697.3,322 697.7,323 698.1,324 698.5,324.3 698.9,324.5 699.3,325.2 699.7,325.8 700.1,325.5 700.5,325.2 700.9,325.9 701.3,326.6 701.7,325.9 702.1,325.2 702.5,326.1 702.9,327 703.3,327.1 703.7,327.3 704.1,328.1 704.5,328.9 704.9,329.5 705.3,330 705.7,331 706.1,332 706.5,331.3 706.9,330.5 707.3,331.7 707.7,335.6 708.1,336.4 708.5,337.2 708.9,340.4 709.3,343.6 709.7,344.2 710.1,344.4 710.5,345.6 710.9,346.7 711.3,347.2 711.7,347.6 712.1,349.8 712.5,352.1 712.9,351.5 713.3,350.7 713.7,351.8 714.1,353 714.5,353.2 714.9,353.4 715.3,353.3 715.7,353.3 716.1,354.4 716.5,355.6 716.9,356.5 717.3,357.5 717.7,357.6 718.1,357.8 718.5,358.8 718.9,359.9 719.3,359.8 719.7,359.8 720.1,360.6 720.5,362 720.9,363 721.3,364.1 721.7,365.6 722.1,366.9 722.5,368.2 722.9,369.4 723.3,369.3 723.7,369.1 724.1,369.6 724.5,370 724.9,370.2 725.3,370.2 725.7,370.6 726.1,370.9 726.5,372.3 726.9,373.7 727.3,373 727.7,372.2 728.1,372.7 728.5,373.2 728.9,373.9 729.3,374.7 729.7,375 730.1,375.2 730.5,376.7 730.9,378.2 731.3,376.4 731.7,374.6 732.1,376 732.5,377.4 732.9,377.7 733.3,378 733.7,377.3 734.1,376.3 734.5,376.2 734.9,376.3 735.3,376.9 735.7,377.5 736.1,378.6 736.5,379.7 736.9,379.1 737.3,378.6 737.7,378.8 738.1,379.1 738.5,380.9 738.9,382.6 739.3,385.5 739.7,386.7 740.1,386.9 740.5,387.5 740.9,388.2 741.3,388.8 741.7,392 742.1,395.2 742.5,396.1 742.9,396.9 743.3,398.3 743.7,399.4 744.1,399.4 744.5,399.4 744.9,399.8 745.3,400.2 745.7,400.6 746.1,401.1 746.5,402.5 746.9,403.9 747.3,404.4 747.7,404.9 748.1,403.8 748.5,402.8 748.9,404 749.3,405.1 749.7,406.9 750.1,408.7 750.5,408.4 750.9,408 751.3,408.2 751.7,408.3 752.1,409.6 752.5,411.1 752.9,411.9 753.3,412.7 753.7,413.5 754.1,414.4 754.5,415.1 754.9,415.7 755.3,416.7 755.7,417.6 756.1,418.3 756.5,418.8 756.9,419.7 757.3,420.6 757.7,420.6 758.1,420.7 758.5,421.4 758.9,422.2 759.3,422.8 759.7,423.5 760.1,424.6 760.5,425.7 760.9,425.8 761.3,425.8 761.7,426 762.1,426.3 762.5,427 762.9,427.7 763.3,428.1 763.7,428.5 764.1,429.2 764.5,429.6 764.9,429.4 765.3,429.3 765.7,429.3 766.1,429.3 766.5,428.9 766.9,428.7 767.3,428.5 767.7,428.6 768.1,429.2 768.5,429.8 768.9,431.1 769.3,432.4 769.7,433 770.1,433.6 770.5,434.1 770.9,437.2 771.3,438.3 771.7,439.4 772.1,441.1 772.5,443.4 772.9,446.7 773.3,450.1 773.7,451.2 774.1,450.9 774.5,450.4 774.9,449.9 775.3,448.4 775.7,446.9 776.1,447.4 776.5,447.9 776.9,446.7 777.3,445.5 777.7,445.3 778.1,445.2 778.5,444.8 778.9,444.4 779.3,443.4 779.7,442.4 780.1,442 780.5,441.7 780.9,440.5 781.3,439.4 781.7,439.5 782.1,439.6 782.5,439.2 782.9,438.7 783.3,439.6 783.7,440.5 784.1,440.2 784.5,439.9 784.9,440.2 785.3,440.5 785.7,440.1 786.1,439.8 786.5,439.1 786.9,438.5 787.3,438.7 787.7,439 788.1,438.4 788.5,437.9 788.9,438.1 789.3,438.4 789.7,438.1 790.1,437.6 790.5,436.4 790.9,435.3 791.3,435.1 791.7,435 792.1,434.4 792.5,433.8 792.9,433 793.3,432.3 793.7,432.2 794.1,432.2 794.5,431.9 794.9,431.7 795.3,430 795.7,428.3 796.1,427.5 796.5,426.7 796.9,425 797.3,422.3 797.7,421.6 798.1,421 798.5,419.6 798.9,418.5 799.3,417.4 799.7,416.3 800.1,417.1 800.5,417.9 800.9,417.7 801.3,417.5 801.7,416.5 802.1,415.6 802.5,416.5 802.9,417.1 803.3,417.2 803.7,418 804.1,420.5 804.5,423 804.9,423.7 805.3,422.7 805.7,422.8 806.1,422.8 806.5,423.3 806.9,423.8 807.3,422.4 807.7,421 808.1,420.7 808.5,420.4 808.9,419.6 809.3,418.8 809.7,417.8 810.1,416.8 810.5,416.9 810.9,416.9 811.3,416.6 811.7,416.3 812.1,415.2 812.5,414.1 812.9,414.2 813.3,414.3 813.7,414.3 814.1,414.2 814.5,413.6 814.9,413.1 815.3,411.6 815.7,410.2 816.1,410.2 816.5,410.2 816.9,409.7 817.3,409.2 817.7,410.1 818.1,411.1 818.5,410.7 818.9,410.2 819.3,410 819.7,409.8 820.1,408.8 820.5,407.4 820.9,406.5 821.3,405.7 821.7,405.6 822.1,405.5 822.5,404.8 822.9,404.2 823.3,403.1 823.7,401.9 824.1,401.7 824.5,401.5 824.9,401 825.3,400.5 825.7,399.5 826.1,398.5 826.5,397.1 826.9,395.8 827.3,394.5 827.7,393.2 828.1,393.2 828.5,393.2 828.9,392.4 829.3,392 829.7,391.3 830.1,390.6 830.5,390 830.9,389.6 831.3,389.1 831.7,388.6 832.1,388.9 832.5,389.2 832.9,388.5 833.3,387.8 833.7,387.5 834.1,389.9 834.5,390.7 834.9,391.5 835.3,393 835.7,394.5 836.1,395.6 836.5,395.4 836.9,394.3 837.3,393.1 837.7,392.4 838.1,391.7 838.5,391.5 838.9,391.4 839.3,391.4 839.7,391.5 840.1,390.5 840.5,389.5 840.9,389.6 841.3,389.6 841.7,388.4 842.1,387.2 842.5,386.6 842.9,386 843.3,384.9 843.7,383.9 844.1,383.8 844.5,383.6 844.9,384 845.3,384.7 845.7,384.1 846.1,383.4 846.5,383.5 846.9,383.5 847.3,383.4 847.7,383.2 848.1,382.8 848.5,382.3 848.9,382.1 849.3,381.9 849.7,381.9 850.1,381.8 850.5,381.6 850.9,381.3 851.3,380.7 851.7,380.2 852.1,379.7 852.5,379.2 852.9,378.6 853.3,378 853.7,377.1 854.1,376.2 854.5,375.9 854.9,375.7 855.3,374.6 855.7,373.5 856.1,373.5 856.5,373.6 856.9,371.3 857.3,369.1 857.7,369.1 858.1,369.1 858.5,369.6 858.9,370.1 859.3,368.1 859.7,366.2 860.1,365 860.5,363.6 860.9,363.3 861.3,363.1 861.7,363.1 862.1,363.2 862.5,362.2 862.9,361.2 863.3,361.1 863.7,361.1 864.1,360.5 864.5,359.9 864.9,359.3 865.3,359.5 865.7,361.4 866.1,363.4 866.5,362.4 866.9,362.5 867.3,363.7 867.7,364.9 868.1,365.9 868.5,365.3 868.9,365.1 869.3,364.9 869.7,364.3 870.1,363.7 870.5,363.3 870.9,362.8 871.3,362 871.7,361.1 872.1,359.8 872.5,358.6 872.9,359 873.3,359.4 873.7,358.5 874.1,357.6 874.5,357.1 874.9,356.6 875.3,355.6 875.7,354.5 876.1,354.6 876.5,354.9 876.9,354.8 877.3,354.7 877.7,354.9 878.1,355.2 878.5,354.5 878.9,353.8 879.3,354.5 879.7,355.1 880.1,355 880.5,354.7 880.9,353.9 881.3,353 881.7,352.9 882.1,352.9 882.5,352.5 882.9,352.1 883.3,352.5 883.7,353 884.1,351.1 884.5,348.8 884.9,349.1 885.3,349.4 885.7,348.1 886.1,346.8 886.5,346.7 886.9,346.5 887.3,346.4 887.7,346.3 888.1,344.9 888.5,343.5 888.9,343.1 889.3,342.7 889.7,341.5 890.1,340.3 890.5,340.8 890.9,341.3 891.3,340.1 891.7,338.4 892.1,337.2 892.5,336.1 892.9,334 893.3,332 893.7,331.6 894.1,331.4 894.5,332.1 894.9,332.7 895.3,331.8 895.7,330.9 896.1,330.5 896.5,330.2 896.9,330.7 897.3,331.9 897.7,332.7 898.1,333.6 898.5,336 898.9,338.4 899.3,339.6 899.7,339.7 900.1,339.3 900.5,338.9 900.9,337.7 901.3,336.6 901.7,336.5 902.1,336.4 902.5,335.2 902.9,334 903.3,334.2 903.7,334.4 904.1,333.9 904.5,333.5 904.9,332.8 905.3,332.2 905.7,331.4 906.1,330.7 906.5,330.2 906.9,329.7 907.3,328 907.7,326.3 908.1,327.7 908.5,329.2 908.9,328.5 909.3,327.9 909.7,327.9 910.1,327.9 910.5,327.6 910.9,327.3 911.3,326.5 911.7,325.7 912.1,325.7 912.5,325.8 912.9,326 913.3,326.2 913.7,326.2 914.1,326.1 914.5,324.4 914.9,322.8 915.3,321.9 915.7,321 916.1,321.3 916.5,321.6 916.9,319.8 917.3,318 917.7,318.6 918.1,319.2 918.5,317.6 918.9,316 919.3,314.9 919.7,313.7 920.1,313.9 920.5,314 920.9,313.6 921.3,313.2 921.7,311.1 922.1,309.1 922.5,309.8 922.9,310.6 923.3,308.9 923.7,307.2 924.1,307.3 924.5,307.5 924.9,306.1 925.3,304.9 925.7,304.1 926.1,303 926.5,303.6 926.9,304.3 927.3,304.2 927.7,304 928.1,304.2 928.5,306.7 928.9,308 929.3,309.2 929.7,310.2 930.1,311.2 930.5,312.2 930.9,311.3 931.3,310.6 931.7,309.9 932.1,309.5 932.5,309.1 932.9,308.3 933.3,307.5 933.7,307.2 934.1,307 934.5,305.4 934.9,303.8 935.3,304.4 935.7,304.9 936.1,304 936.5,303.2 936.9,303.6 937.3,304 937.7,302.5 938.1,300.9 938.5,299.6" fill="none" stroke="#0072B2" stroke-opacity="0.08" stroke-width="4.4" stroke-linejoin="round"/>
<path d="M120.5,346.7 120.9,347 121.3,347.3 121.7,348.6 122.1,349.9 122.5,350.3 122.9,350.8 123.3,351.9 123.7,353 124.1,354.1 124.5,355.3 124.9,357.5 125.3,359.3 125.7,358.5 126.1,357.7 126.5,358.1 126.9,358.4 127.3,358.8 127.7,359.2 128.1,359.8 128.5,360.4 128.9,361.1 129.3,361.9 129.7,362.1 130.1,362.3 130.5,363.5 130.9,364.8 131.3,364.3 131.7,363.9 132.1,364.8 132.5,365.8 132.9,365.7 133.3,365.5 133.7,366.1 134.1,366.6 134.5,366.1 134.9,365.6 135.3,366.6 135.7,367.6 136.1,368 136.5,368.4 136.9,368.8 137.3,369.1 137.7,368.6 138.1,368.2 138.5,369.9 138.9,371.7 139.3,371.5 139.7,371.4 140.1,372.4 140.5,375.4 140.9,378.4 141.3,380.8 141.7,382.8 142.1,384.8 142.5,387.1 142.9,389.4 143.3,389.5 143.7,389.3 144.1,390 144.5,390.8 144.9,391.9 145.3,393 145.7,393.5 146.1,394 146.5,394.3 146.9,394.6 147.3,395.1 147.7,395.6 148.1,396.1 148.5,396.7 148.9,397.8 149.3,398.9 149.7,400.2 150.1,401.5 150.5,401.2 150.9,401 151.3,402.9 151.7,404.8 152.1,405.2 152.5,405.5 152.9,405.5 153.3,405.5 153.7,406.7 154.1,407.9 154.5,407.4 154.9,407 155.3,407.5 155.7,408 156.1,408.8 156.5,409.6 156.9,410.6 157.3,411.6 157.7,412.2 158.1,412.8 158.5,413 158.9,413.2 159.3,413.8 159.7,414.4 160.1,413.6 160.5,412.9 160.9,414.4 161.3,415.9 161.7,415.3 162.1,414.8 162.5,415.4 162.9,416 163.3,416.5 163.7,416.9 164.1,416.8 164.5,416.8 164.9,417 165.3,417.1 165.7,417.4 166.1,417.8 166.5,418.4 166.9,419 167.3,419.5 167.7,419.9 168.1,420.2 168.5,420.9 168.9,420.9 169.3,420.9 169.7,421.7 170.1,422.5 170.5,423.1 170.9,423.7 171.3,425.1 171.7,426.4 172.1,426.4 172.5,427.7 172.9,431.5 173.3,435.4 173.7,437 174.1,438 174.5,437.7 174.9,437.3 175.3,437.7 175.7,438 176.1,438.1 176.5,438.2 176.9,437.7 177.3,437.2 177.7,437.3 178.1,437.4 178.5,436.8 178.9,436.2 179.3,436.5 179.7,436.8 180.1,436.6 180.5,436.8 180.9,436.3 181.3,435.8 181.7,436.7 182.1,437.5 182.5,437.1 182.9,436.6 183.3,436.7 183.7,436.8 184.1,436.5 184.5,436.2 184.9,436.6 185.3,437 185.7,437.6 186.1,438.3 186.5,437.5 186.9,436.6 187.3,437.7 187.7,438.7 188.1,438.6 188.5,438.2 188.9,437.9 189.3,437.7 189.7,436.3 190.1,435 190.5,435.7 190.9,436.4 191.3,436.5 191.7,436.6 192.1,435.7 192.5,434.8 192.9,435 193.3,435.1 193.7,433.8 194.1,432.4 194.5,433.5 194.9,434.7 195.3,433.7 195.7,432.6 196.1,432.9 196.5,433.1 196.9,431.5 197.3,429.8 197.7,430.5 198.1,431.1 198.5,430.1 198.9,429.2 199.3,429.3 199.7,429.6 200.1,428.5 200.5,427.8 200.9,428 201.3,428.2 201.7,429.5 202.1,430.9 202.5,429.6 202.9,428.2 203.3,428.3 203.7,431 204.1,432.7 204.5,434.5 204.9,435.6 205.3,436.8 205.7,438.4 206.1,439 206.5,438.9 206.9,438.8 207.3,437.3 207.7,435.8 208.1,435 208.5,434.2 208.9,435.1 209.3,436 209.7,435.6 210.1,435.3 210.5,434.8 210.9,434.3 211.3,434 211.7,433.8 212.1,432.6 212.5,431.7 212.9,431.9 213.3,432.2 213.7,431.6 214.1,431 214.5,430.9 214.9,430.9 215.3,431.9 215.7,432.9 216.1,432.1 216.5,431.3 216.9,432.6 217.3,433.9 217.7,432.8 218.1,431.8 218.5,431.4 218.9,431.1 219.3,431.7 219.7,432.3 220.1,432.6 220.5,432.6 220.9,431.7 221.3,430.7 221.7,429.5 222.1,428.4 222.5,428.7 222.9,429 223.3,429.1 223.7,429.2 224.1,428 224.5,426.7 224.9,426.2 225.3,425.7 225.7,426.1 226.1,426.5 226.5,425.8 226.9,425 227.3,424 227.7,423.1 228.1,423 228.5,423 228.9,422.4 229.3,421.9 229.7,421.7 230.1,421.3 230.5,420.4 230.9,419.7 231.3,419.6 231.7,419.8 232.1,419.5 232.5,419.2 232.9,418.1 233.3,416.9 233.7,417.7 234.1,418.5 234.5,418.6 234.9,422.3 235.3,423.6 235.7,424.9 236.1,426.7 236.5,428.5 236.9,429.3 237.3,428.8 237.7,428.3 238.1,427.9 238.5,428.5 238.9,429 239.3,427.9 239.7,426.7 240.1,425.9 240.5,425.2 240.9,426.3 241.3,427.5 241.7,426.4 242.1,425.3 242.5,425.3 242.9,425.2 243.3,424.4 243.7,423.6 244.1,423.4 244.5,423.2 244.9,423 245.3,422.9 245.7,423.1 246.1,423.3 246.5,423.5 246.9,423.7 247.3,422.4 247.7,421.1 248.1,422.3 248.5,423.6 248.9,422.6 249.3,421.6 249.7,421.5 250.1,421.4 250.5,422.1 250.9,422.8 251.3,422.3 251.7,421.8 252.1,421.1 252.5,420.3 252.9,421.7 253.3,422.8 253.7,421.1 254.1,419.5 254.5,419.5 254.9,419.6 255.3,419.1 255.7,418.6 256.1,418.7 256.5,418.8 256.9,417.5 257.3,416.2 257.7,416.4 258.1,416.6 258.5,415.3 258.9,414.1 259.3,414.5 259.7,414.9 260.1,413.6 260.5,412.3 260.9,412.1 261.3,411.6 261.7,411.7 262.1,412 262.5,410.7 262.9,409.4 263.3,409.2 263.7,409 264.1,409.8 264.5,410.6 264.9,409.7 265.3,408.7 265.7,408.1 266.1,407.4 266.5,412.2 266.9,414.5 267.3,415.2 267.7,415.9 268.1,418.6 268.5,421.2 268.9,420.9 269.3,420.6 269.7,419.4 270.1,418.3 270.5,417.9 270.9,417.5 271.3,417.5 271.7,417.5 272.1,417.1 272.5,416.6 272.9,415.8 273.3,415 273.7,415.4 274.1,415.7 274.5,414.2 274.9,412.6 275.3,413 275.7,413.4 276.1,413.1 276.5,413.1 276.9,413.2 277.3,413.3 277.7,413.5 278.1,413.8 278.5,413.1 278.9,412.4 279.3,413.2 279.7,414 280.1,413.7 280.5,413.3 280.9,413.1 281.3,412.9 281.7,412.6 282.1,412.3 282.5,412.4 282.9,412.4 283.3,412.8 283.7,413.1 284.1,412.1 284.5,411.1 284.9,411.1 285.3,411.2 285.7,411.2 286.1,411.2 286.5,410.8 286.9,410.4 287.3,410.2 287.7,410 288.1,408.8 288.5,407.5 288.9,406.7 289.3,406 289.7,406.5 290.1,407 290.5,406.3 290.9,405.5 291.3,405.5 291.7,405.5 292.1,404.5 292.5,403.6 292.9,403.5 293.3,403.3 293.7,402.6 294.1,402 294.5,401.6 294.9,401.5 295.3,401.2 295.7,400.8 296.1,400.4 296.5,400.5 296.9,400.5 297.3,400.3 297.7,400.1 298.1,401.2 298.5,403.5 298.9,405.8 299.3,407 299.7,408.3 300.1,410.7 300.5,411.3 300.9,410.2 301.3,409 301.7,409.1 302.1,409.3 302.5,408.4 302.9,407.6 303.3,407.2 303.7,406.8 304.1,407.5 304.5,408.1 304.9,406.7 305.3,405.3 305.7,404.5 306.1,403.8 306.5,403.8 306.9,403.8 307.3,403.7 307.7,403.7 308.1,404.5 308.5,405.4 308.9,404.3 309.3,403.1 309.7,403.2 310.1,403.4 310.5,402.9 310.9,402.3 311.3,403.3 311.7,404.2 312.1,404.7 312.5,405.2 312.9,406 313.3,406.4 313.7,405.1 314.1,403.7 314.5,404.1 314.9,404.4 315.3,404 315.7,403.7 316.1,402.8 316.5,402 316.9,402.2 317.3,402.4 317.7,402.1 318.1,401.6 318.5,400.2 318.9,398.8 319.3,399.6 319.7,400.5 320.1,400 320.5,399.5 320.9,398.5 321.3,397.6 321.7,396.7 322.1,395.8 322.5,396.6 322.9,397.4 323.3,396.3 323.7,395.3 324.1,395.2 324.5,394.4 324.9,393.6 325.3,393.1 325.7,391.6 326.1,390.3 326.5,390.8 326.9,391.3 327.3,390.7 327.7,390.1 328.1,390.1 328.5,390.1 328.9,390 329.3,389.8 329.7,393.3 330.1,395.3 330.5,397.7 330.9,400.1 331.3,401.6 331.7,402.1 332.1,401.8 332.5,401.6 332.9,401.4 333.3,401.3 333.7,401.4 334.1,401.6 334.5,400.9 334.9,400.3 335.3,400.3 335.7,400.4 336.1,400.5 336.5,400.6 336.9,400.2 337.3,400.1 337.7,400.4 338.1,400.7 338.5,400.6 338.9,400.5 339.3,401.8 339.7,403.1 340.1,402.9 340.5,402.7 340.9,402.5 341.3,402.2 341.7,402.1 342.1,402 342.5,403.3 342.9,404.6 343.3,404.1 343.7,403.6 344.1,403.7 344.5,403.8 344.9,404.3 345.3,404.7 345.7,405 346.1,405.2 346.5,405.5 346.9,405.7 347.3,404.9 347.7,404 348.1,404.7 348.5,405.4 348.9,403.9 349.3,402.3 349.7,402.8 350.1,403.2 350.5,402.2 350.9,401.2 351.3,402.3 351.7,403.3 352.1,402.1 352.5,400.9 352.9,400.7 353.3,400.6 353.7,400.8 354.1,400.9 354.5,400.8 354.9,400.7 355.3,399.4 355.7,398 356.1,397.7 356.5,397.6 356.9,396.8 357.3,396.2 357.7,396.9 358.1,397.7 358.5,397.7 358.9,397.7 359.3,397.7 359.7,397.7 360.1,397.6 360.5,397.6 360.9,397.8 361.3,401.7 361.7,403.5 362.1,405.2 362.5,407.7 362.9,410.2 363.3,411 363.7,411.3 364.1,409.7 364.5,408 364.9,408.7 365.3,409.4 365.7,409.1 366.1,408.8 366.5,409.1 366.9,409.4 367.3,408.6 367.7,407.9 368.1,408.1 368.5,408.3 368.9,407.8 369.3,407.3 369.7,407.9 370.1,408.7 370.5,408.6 370.9,408.6 371.3,408.7 371.7,408.8 372.1,409.3 372.5,409.7 372.9,409.7 373.3,409.6 373.7,409.3 374.1,408.9 374.5,410.1 374.9,411.3 375.3,411.4 375.7,411.5 376.1,411.5 376.5,411.5 376.9,412.3 377.3,413 377.7,413.3 378.1,413.5 378.5,412.3 378.9,411 379.3,410.9 379.7,410.8 380.1,411.6 380.5,412.5 380.9,412.2 381.3,411.9 381.7,410.7 382.1,409.5 382.5,409.1 382.9,408.6 383.3,408.7 383.7,408.7 384.1,408.5 384.5,408.3 384.9,407.6 385.3,406.8 385.7,407.3 386.1,407.7 386.5,406.8 386.9,405.9 387.3,405.5 387.7,405.1 388.1,405.7 388.5,406.5 388.9,405.7 389.3,405 389.7,405.4 390.1,405.8 390.5,406.3 390.9,406.7 391.3,406.9 391.7,407.1 392.1,406.7 392.5,408.6 392.9,410.7 393.3,412.8 393.7,414.3 394.1,415.8 394.5,418.9 394.9,419.9 395.3,419.3 395.7,418.7 396.1,417.8 396.5,416.9 396.9,417.3 397.3,417.6 397.7,417.8 398.1,418 398.5,417.8 398.9,417.6 399.3,418.1 399.7,418.6 400.1,418.2 400.5,417.9 400.9,416.9 401.3,415.9 401.7,416 402.1,416.2 402.5,415.9 402.9,415.6 403.3,416.6 403.7,417.5 404.1,417.7 404.5,417.9 404.9,419.3 405.3,420.7 405.7,419.8 406.1,418.9 406.5,418.2 406.9,417.4 407.3,418.3 407.7,419.2 408.1,419.7 408.5,419.9 408.9,419.1 409.3,418.3 409.7,418.3 410.1,418.3 410.5,418.4 410.9,418.4 411.3,418.6 411.7,418.7 412.1,418.3 412.5,417.9 412.9,417.4 413.3,416.9 413.7,417.5 414.1,418.1 414.5,417.3 414.9,416.6 415.3,416.2 415.7,415.9 416.1,415.1 416.5,414.3 416.9,414.2 417.3,414.1 417.7,414.4 418.1,414.6 418.5,413.2 418.9,411.8 419.3,412.4 419.7,413.2 420.1,413.6 420.5,414 420.9,413.6 421.3,413.2 421.7,413.5 422.1,413.9 422.5,413.4 422.9,412.9 423.3,414 423.7,415.2 424.1,419.2 424.5,420.6 424.9,421.7 425.3,422.8 425.7,423.4 426.1,423.6 426.5,423.8 426.9,424 427.3,424.8 427.7,425.6 428.1,425.8 428.5,426 428.9,425.3 429.3,424.5 429.7,424.8 430.1,425.2 430.5,424.2 430.9,423.3 431.3,423.3 431.7,423.4 432.1,423.5 432.5,423.8 432.9,424.1 433.3,424.5 433.7,423.9 434.1,423.2 434.5,424.5 434.9,425.8 435.3,426.2 435.7,426.5 436.1,425.6 436.5,424.7 436.9,424.8 437.3,424.9 437.7,425.9 438.1,426.8 438.5,426.4 438.9,425.9 439.3,425.1 439.7,424.4 440.1,425.8 440.5,427.2 440.9,426.9 441.3,426.4 441.7,425.9 442.1,425.3 442.5,426.2 442.9,427 443.3,425.9 443.7,424.7 444.1,424 444.5,423.3 444.9,423.4 445.3,423.5 445.7,422.7 446.1,421.9 446.5,421.7 446.9,421.6 447.3,421.8 447.7,421.9 448.1,421.1 448.5,420.3 448.9,420 449.3,419.7 449.7,420.3 450.1,420.8 450.5,419.9 450.9,419.1 451.3,418.9 451.7,418.9 452.1,418.7 452.5,418.6 452.9,418.7 453.3,418.7 453.7,419.2 454.1,419.7 454.5,419.1 454.9,418.5 455.3,419.4 455.7,423.2 456.1,423.7 456.5,424.2 456.9,426.3 457.3,428.4 457.7,428.7 458.1,427.9 458.5,428.2 458.9,428.4 459.3,428.6 459.7,428.8 460.1,429 460.5,429.2 460.9,428 461.3,426.8 461.7,426.9 462.1,427 462.5,426.6 462.9,426.2 463.3,426 463.7,425.9 464.1,425.8 464.5,425.6 464.9,426.3 465.3,426.9 465.7,426.1 466.1,425.4 466.5,426.3 466.9,427.2 467.3,427.2 467.7,427.2 468.1,426.9 468.5,426.7 468.9,426.6 469.3,426.5 469.7,426.4 470.1,426.2 470.5,427.4 470.9,428.7 471.3,427 471.7,425.3 472.1,426.4 472.5,427.5 472.9,426.8 473.3,426.2 473.7,425.5 474.1,424.8 474.5,424.2 474.9,423.7 475.3,424.4 475.7,425.2 476.1,425.3 476.5,425.3 476.9,423.9 477.3,422.4 477.7,422.4 478.1,422.3 478.5,422.6 478.9,422.9 479.3,422.2 479.7,421.6 480.1,422 480.5,422.4 480.9,420.9 481.3,419.4 481.7,419.6 482.1,419.4 482.5,418.1 482.9,416.9 483.3,418.1 483.7,419.5 484.1,418.2 484.5,416.9 484.9,416.2 485.3,415.6 485.7,416.5 486.1,417.4 486.5,417.4 486.9,417.4 487.3,421.2 487.7,423.5 488.1,423.9 488.5,424.3 488.9,425.9 489.3,427.5 489.7,428.4 490.1,428.4 490.5,428.6 490.9,428.9 491.3,427.9 491.7,426.9 492.1,427.2 492.5,427.5 492.9,427 493.3,426.6 493.7,426 494.1,425.4 494.5,425.4 494.9,425.3 495.3,425.2 495.7,425.2 496.1,424.8 496.5,424.4 496.9,425.3 497.3,426.3 497.7,425.1 498.1,424 498.5,425.1 498.9,426.3 499.3,426.2 499.7,426.1 500.1,425.6 500.5,425.1 500.9,424.8 501.3,424.5 501.7,424.8 502.1,424.9 502.5,424.9 502.9,424.9 503.3,424.7 503.7,424.5 504.1,424 504.5,423.5 504.9,423.5 505.3,423.5 505.7,422.5 506.1,421.5 506.5,421.5 506.9,421.6 507.3,420.4 507.7,419.3 508.1,420 508.5,420.6 508.9,419.9 509.3,419.2 509.7,418.5 510.1,417.9 510.5,418.1 510.9,418.4 511.3,417.8 511.7,417.1 512.1,415.1 512.5,413.1 512.9,413.9 513.3,414.7 513.7,412.9 514.1,411.4 514.5,411.7 514.9,412.2 515.3,412.5 515.7,413.1 516.1,411.6 516.5,410.2 516.9,410.3 517.3,410.5 517.7,410.2 518.1,410 518.5,410.1 518.9,414 519.3,415.7 519.7,417.4 520.1,419.3 520.5,421.2 520.9,419.8 521.3,418.4 521.7,419.2 522.1,419.9 522.5,418.4 522.9,416.9 523.3,417.1 523.7,417.3 524.1,417.3 524.5,417.4 524.9,416.8 525.3,416.2 525.7,415.1 526.1,414 526.5,413.7 526.9,413.5 527.3,413.3 527.7,413.1 528.1,413.1 528.5,413 528.9,413.3 529.3,413.6 529.7,412.2 530.1,410.9 530.5,411.4 530.9,412 531.3,411.8 531.7,411.6 532.1,411.3 532.5,411 532.9,410.7 533.3,410.6 533.7,411 534.1,411.4 534.5,410.8 534.9,410.3 535.3,410.4 535.7,410.5 536.1,410.3 536.5,410.1 536.9,410.6 537.3,410.7 537.7,408.4 538.1,406.1 538.5,407 538.9,407.8 539.3,406.5 539.7,405.2 540.1,404.6 540.5,404 540.9,403.1 541.3,402 541.7,400.8 542.1,399.5 542.5,399.3 542.9,399.2 543.3,398.2 543.7,397.2 544.1,396.9 544.5,396.6 544.9,394.6 545.3,392.3 545.7,392.4 546.1,392.8 546.5,391.6 546.9,390.7 547.3,390.2 547.7,389.7 548.1,389.2 548.5,388.7 548.9,388.4 549.3,388 549.7,387.6 550.1,387.8 550.5,389.5 550.9,391.3 551.3,392.9 551.7,394.6 552.1,396 552.5,397.3 552.9,396.2 553.3,395.1 553.7,395.1 554.1,395.1 554.5,394.3 554.9,393.4 555.3,393.4 555.7,393.3 556.1,393.5 556.5,393.7 556.9,392.6 557.3,391.5 557.7,390.5 558.1,389.6 558.5,388.4 558.9,387.3 559.3,386.8 559.7,386.4 560.1,385.7 560.5,385 560.9,385.6 561.3,386.1 561.7,384.9 562.1,383.8 562.5,383.9 562.9,384 563.3,383.5 563.7,382.9 564.1,383 564.5,383.1 564.9,383.5 565.3,383.8 565.7,382.7 566.1,381.5 566.5,381.4 566.9,381.3 567.3,380.9 567.7,380.4 568.1,380.8 568.5,380.7 568.9,378.9 569.3,377.2 569.7,376.2 570.1,375.3 570.5,374.2 570.9,373.2 571.3,372.3 571.7,371.4 572.1,371.4 572.5,371.4 572.9,371.6 573.3,371.7 573.7,369.3 574.1,366.9 574.5,367 574.9,367.1 575.3,365.9 575.7,364.8 576.1,363.4 576.5,361.8 576.9,361.1 577.3,360.7 577.7,360 578.1,359.4 578.5,358.8 578.9,358.2 579.3,358.9 579.7,359.7 580.1,357.6 580.5,355.5 580.9,356 581.3,356.7 581.7,359.3 582.1,360.8 582.5,361.8 582.9,362.8 583.3,364.6 583.7,365.3 584.1,365 584.5,364.7 584.9,363.7 585.3,362.7 585.7,362.2 586.1,361.7 586.5,361.2 586.9,360.6 587.3,358.8 587.7,356.9 588.1,357.8 588.5,358.8 588.9,358.5 589.3,358.2 589.7,357 590.1,355.8 590.5,355.4 590.9,355 591.3,353.5 591.7,352 592.1,352.2 592.5,352.4 592.9,351.7 593.3,351 593.7,350.7 594.1,350.4 594.5,350.7 594.9,351 595.3,349.8 595.7,348.6 596.1,348.5 596.5,348.5 596.9,347.4 597.3,346.3 597.7,346.8 598.1,347.3 598.5,347.1 598.9,346.9 599.3,346.2 599.7,345.6 600.1,345.1 600.5,344.2 600.9,344.4 601.3,344.6 601.7,342.2 602.1,339.9 602.5,339 602.9,338.1 603.3,337.2 603.7,336.4 604.1,336.3 604.5,336.3 604.9,335.7 605.3,335.3 605.7,333.8 606.1,332.2 606.5,331 606.9,329.8 607.3,329.2 607.7,328.6 608.1,328.4 608.5,328.3 608.9,326.7 609.3,325.3 609.7,325.9 610.1,326.6 610.5,326.1 610.9,325.6 611.3,324.5 611.7,323.5 612.1,323.3 612.5,323.1 612.9,322.9 613.3,325.4 613.7,326.9 614.1,328.4 614.5,328.4 614.9,328.4 615.3,330.5 615.7,331.7 616.1,330.4 616.5,329 616.9,328.2 617.3,327.3 617.7,327 618.1,326.8 618.5,325.9 618.9,325.1 619.3,324.1 619.7,323.1 620.1,322.2 620.5,321.5 620.9,321.3 621.3,321.1 621.7,321.7 622.1,322.3 622.5,322 622.9,321.8 623.3,320.7 623.7,319.6 624.1,319.4 624.5,319.2 624.9,317.9 625.3,316.8 625.7,316.7 626.1,316.6 626.5,316.4 626.9,316.2 627.3,315.3 627.7,314.4 628.1,314.1 628.5,313.8 628.9,314 629.3,314.1 629.7,313.6 630.1,313 630.5,311.9 630.9,310.8 631.3,310.7 631.7,310.6 632.1,309.6 632.5,308.5 632.9,308.3 633.3,308.1 633.7,306.9 634.1,305.7 634.5,304.8 634.9,303.9 635.3,303.4 635.7,302.8 636.1,301.9 636.5,301 636.9,300 637.3,299 637.7,298.4 638.1,297.7 638.5,297.5 638.9,297.3 639.3,296.5 639.7,295.4 640.1,294.9 640.5,294.5 640.9,292.5 641.3,290.7 641.7,290.8 642.1,290.9 642.5,290.5 642.9,290 643.3,289.9 643.7,289.6 644.1,289 644.5,288.3 644.9,291.3 645.3,292.4 645.7,294.2 646.1,296 646.5,296.9 646.9,296.1 647.3,295 647.7,293.8 648.1,294.4 648.5,295 648.9,294.3 649.3,293.6 649.7,292.3 650.1,291.1 650.5,291.2 650.9,291.2 651.3,290 651.7,288.7 652.1,289.1 652.5,289.4 652.9,288.3 653.3,287.2 653.7,286.5 654.1,285.8 654.5,285.5 654.9,285.2 655.3,284.5 655.7,283.9 656.1,283.8 656.5,283.8 656.9,283.3 657.3,282.9 657.7,282.6 658.1,282.3 658.5,281.7 658.9,281.2 659.3,279.5 659.7,277.8 660.1,279.2 660.5,280.6 660.9,279.5 661.3,278.3 661.7,279 662.1,279.6 662.5,279.3 662.9,279 663.3,278 663.7,276.9 664.1,275.9 664.5,275 664.9,274.4 665.3,273.7 665.7,273 666.1,272.2 666.5,271.2 666.9,270.2 667.3,269.4 667.7,268.6 668.1,267.6 668.5,266.7 668.9,266.8 669.3,267 669.7,265.6 670.1,264.3 670.5,264 670.9,263.5 671.3,261.5 671.7,259.5 672.1,258.4 672.5,257.4 672.9,256.5 673.3,256 673.7,255.8 674.1,255.7 674.5,255.4 674.9,255.1 675.3,254.4 675.7,253.7 676.1,252.9 676.5,253.3 676.9,252.9 677.3,254.5 677.7,257.9 678.1,261.2 678.5,262.6 678.9,261.2 679.3,260.7 679.7,260.1 680.1,260.4 680.5,260.7 680.9,259.9 681.3,259.2 681.7,258.5 682.1,257.7 682.5,256.7 682.9,255.8 683.3,256.4 683.7,257.1 684.1,255.6 684.5,254.1 684.9,253.6 685.3,253 685.7,252.1 686.1,251.2 686.5,250 686.9,248.9 687.3,248.3 687.7,247.7 688.1,248 688.5,248.7 688.9,248.6 689.3,248.4 689.7,248 690.1,247.6 690.5,247 690.9,246.5 691.3,246 691.7,245.5 692.1,245.5 692.5,245.6 692.9,244.7 693.3,243.7 693.7,244.3 694.1,245 694.5,244.7 694.9,244.3 695.3,245.3 695.7,246.5 696.1,246.1 696.5,245.6 696.9,245.4 697.3,245.1 697.7,245.4 698.1,245.7 698.5,245 698.9,244.3 699.3,245.8 699.7,247.3 700.1,247.7 700.5,248.1 700.9,248.8 701.3,249.5 701.7,249.6 702.1,249.6 702.5,249.8 702.9,250 703.3,250.3 703.7,250.7 704.1,251.5 704.5,252.3 704.9,253.3 705.3,254.3 705.7,253.7 706.1,253.2 706.5,254.1 706.9,254.9 707.3,254.7 707.7,257.1 708.1,260 708.5,263 708.9,264.8 709.3,266.7 709.7,268.4 710.1,269.9 710.5,269.7 710.9,269.6 711.3,270.9 711.7,272.3 712.1,272.8 712.5,273.4 712.9,274.2 713.3,274.9 713.7,275.3 714.1,275.7 714.5,276.5 714.9,277.3 715.3,277.4 715.7,277.5 716.1,278.6 716.5,279.6 716.9,279.9 717.3,280.1 717.7,280.4 718.1,280.7 718.5,281.3 718.9,281.9 719.3,282.3 719.7,282.7 720.1,284 720.5,285.7 720.9,286.4 721.3,287.2 721.7,288.6 722.1,289.9 722.5,290.1 722.9,290.3 723.3,290.4 723.7,290.4 724.1,292 724.5,293.6 724.9,293.3 725.3,292.8 725.7,294 726.1,295.2 726.5,295.5 726.9,295.8 727.3,295.2 727.7,294.7 728.1,295.4 728.5,296.1 728.9,296.7 729.3,297.3 729.7,297.6 730.1,297.9 730.5,298.1 730.9,298.3 731.3,299.4 731.7,300.4 732.1,300.1 732.5,299.8 732.9,300.3 733.3,300.7 733.7,300.5 734.1,299.9 734.5,299.9 734.9,300.1 735.3,299.8 735.7,299.5 736.1,300.3 736.5,301.2 736.9,302.1 737.3,302.9 737.7,303.3 738.1,303.6 738.5,303.9 738.9,304.3 739.3,306.7 739.7,307.3 740.1,309 740.5,311 740.9,312.5 741.3,314.1 741.7,315.3 742.1,316.7 742.5,318 742.9,319.4 743.3,320.8 743.7,321.9 744.1,323.3 744.5,324.7 744.9,324 745.3,323.2 745.7,324 746.1,324.8 746.5,325.4 746.9,325.9 747.3,325.1 747.7,324.3 748.1,326.1 748.5,327.9 748.9,328.1 749.3,328.3 749.7,329.9 750.1,331.4 750.5,331.3 750.9,331.1 751.3,331.5 751.7,331.9 752.1,332.8 752.5,333.9 752.9,334.9 753.3,335.9 753.7,336.4 754.1,337 754.5,338 754.9,339.1 755.3,339.4 755.7,339.6 756.1,340.9 756.5,342 756.9,343 757.3,344 757.7,345.1 758.1,346.2 758.5,346.1 758.9,346.1 759.3,346.5 759.7,346.8 760.1,347.8 760.5,348.6 760.9,349 761.3,349.4 761.7,350.1 762.1,350.9 762.5,351 762.9,351.2 763.3,351.1 763.7,351.1 764.1,351.6 764.5,351.8 764.9,351.9 765.3,352 765.7,351.4 766.1,351 766.5,350.7 766.9,350.7 767.3,350.6 767.7,350.9 768.1,351.1 768.5,351.2 768.9,352.6 769.3,354 769.7,354.2 770.1,354.3 770.5,356 770.9,360.4 771.3,362.1 771.7,363.7 772.1,364.8 772.5,366.5 772.9,370 773.3,373.4 773.7,374.4 774.1,374 774.5,373.1 774.9,372.2 775.3,372.4 775.7,372.6 776.1,372.1 776.5,371.7 776.9,369.8 777.3,367.8 777.7,368.3 778.1,368.8 778.5,368.1 778.9,367.4 779.3,366.9 779.7,366.5 780.1,366.2 780.5,366 780.9,364.8 781.3,363.6 781.7,363.2 782.1,362.9 782.5,362.7 782.9,362.5 783.3,362.5 783.7,362.4 784.1,362.6 784.5,362.8 784.9,362.1 785.3,361.4 785.7,361.5 786.1,361.5 786.5,362 786.9,362.6 787.3,362.1 787.7,361.6 788.1,361.6 788.5,361.6 788.9,360.4 789.3,359.1 789.7,359.4 790.1,359.6 790.5,359.1 790.9,358.7 791.3,358.3 791.7,358 792.1,357.1 792.5,356.2 792.9,356.3 793.3,356.4 793.7,355.3 794.1,354.3 794.5,353.7 794.9,353.2 795.3,352.4 795.7,351.6 796.1,351.1 796.5,350.6 796.9,349.3 797.3,346.9 797.7,345.9 798.1,345.2 798.5,343.6 798.9,342.4 799.3,341.9 799.7,341.4 800.1,341 800.5,340.6 800.9,340.5 801.3,340.4 801.7,340.3 802.1,340.2 802.5,340.9 802.9,341.3 803.3,341.4 803.7,342.2 804.1,344.2 804.5,346.1 804.9,347.5 805.3,347.2 805.7,347.2 806.1,347.2 806.5,346.1 806.9,345 807.3,343.6 807.7,342.1 808.1,343.1 808.5,344.2 808.9,343.1 809.3,342 809.7,340.9 810.1,339.8 810.5,339.8 810.9,339.7 811.3,339 811.7,338.2 812.1,339 812.5,339.9 812.9,338.7 813.3,337.5 813.7,336.1 814.1,334.7 814.5,335.1 814.9,335.6 815.3,334.9 815.7,334.2 816.1,335 816.5,335.8 816.9,334.2 817.3,332.7 817.7,331.9 818.1,331.1 818.5,331.9 818.9,332.7 819.3,332.3 819.7,331.9 820.1,331.5 820.5,330.8 820.9,329.3 821.3,327.9 821.7,328.3 822.1,328.8 822.5,328.7 822.9,328.6 823.3,326.3 823.7,324 824.1,324.7 824.5,325.4 824.9,323.9 825.3,322.4 825.7,322.9 826.1,323.4 826.5,321.8 826.9,320.1 827.3,319 827.7,317.9 828.1,317.7 828.5,317.4 828.9,316.2 829.3,315.3 829.7,314.3 830.1,313.3 830.5,313.4 830.9,313.6 831.3,312.7 831.7,311.8 832.1,310.9 832.5,309.9 832.9,311.3 833.3,312.6 833.7,311.2 834.1,312.5 834.5,313.6 834.9,314.8 835.3,316.6 835.7,318.3 836.1,318.3 836.5,316.8 836.9,316.3 837.3,315.8 837.7,315.6 838.1,315.4 838.5,314.8 838.9,314.2 839.3,313.8 839.7,313.5 840.1,313.4 840.5,313.4 840.9,312.1 841.3,310.9 841.7,310.8 842.1,310.7 842.5,310.2 842.9,309.8 843.3,308.5 843.7,307.2 844.1,307.3 844.5,307.4 844.9,306.3 845.3,305.5 845.7,306.3 846.1,307.1 846.5,306.7 846.9,306.3 847.3,305.9 847.7,305.6 848.1,304.9 848.5,304.1 848.9,304.6 849.3,305.1 849.7,304.6 850.1,304 850.5,304.2 850.9,304.4 851.3,303.5 851.7,302.7 852.1,301.9 852.5,301.1 852.9,301.4 853.3,301.7 853.7,301.1 854.1,300.5 854.5,299.5 854.9,298.4 855.3,298.4 855.7,298.4 856.1,296.9 856.5,295.4 856.9,294.5 857.3,293.7 857.7,293 858.1,292.4 858.5,291.3 858.9,290.2 859.3,289.7 859.7,289.1 860.1,288.4 860.5,287.5 860.9,287.4 861.3,287.4 861.7,286.8 862.1,286.4 862.5,285.2 862.9,284.1 863.3,284.5 863.7,285 864.1,283.9 864.5,282.8 864.9,282.6 865.3,283.1 865.7,283.8 866.1,284.4 866.5,284.5 866.9,285.7 867.3,288.2 867.7,290.6 868.1,290.5 868.5,289 868.9,287.7 869.3,286.5 869.7,287 870.1,287.5 870.5,286.2 870.9,284.8 871.3,284.2 871.7,283.7 872.1,281.9 872.5,280.2 872.9,281.5 873.3,282.8 873.7,282.2 874.1,281.6 874.5,281.1 874.9,280.6 875.3,280.2 875.7,279.8 876.1,279.7 876.5,280 876.9,279.1 877.3,278.3 877.7,278.7 878.1,279.1 878.5,278.3 878.9,277.5 879.3,277.6 879.7,277.7 880.1,278.2 880.5,278.6 880.9,278 881.3,277.4 881.7,276.3 882.1,275.2 882.5,275.7 882.9,276.2 883.3,275.6 883.7,275.1 884.1,274.4 884.5,273.4 884.9,273.3 885.3,273.1 885.7,272 886.1,271 886.5,269.7 886.9,268.5 887.3,268 887.7,267.5 888.1,268.1 888.5,268.7 888.9,266.4 889.3,264.2 889.7,264.2 890.1,264.3 890.5,263.7 890.9,263.1 891.3,262.4 891.7,261.2 892.1,259 892.5,257 892.9,256.4 893.3,255.9 893.7,255.7 894.1,255.5 894.5,255.5 894.9,255.4 895.3,254.5 895.7,253.5 896.1,252.9 896.5,252.3 896.9,253.6 897.3,255.5 897.7,257.1 898.1,258.7 898.5,259.9 898.9,261.1 899.3,262.1 899.7,262.1 900.1,262 900.5,261.8 900.9,261 901.3,260.3 901.7,260 902.1,259.7 902.5,258.1 902.9,256.5 903.3,256.6 903.7,256.6 904.1,256 904.5,255.3 904.9,254.3 905.3,253.3 905.7,253.4 906.1,253.4 906.5,252.8 906.9,252.2 907.3,251.7 907.7,251.4 908.1,251.6 908.5,251.8 908.9,250.8 909.3,249.9 909.7,250.3 910.1,250.8 910.5,250.9 910.9,250.9 911.3,250.6 911.7,250.2 912.1,250.2 912.5,250.2 912.9,248.9 913.3,247.5 913.7,247 914.1,246.5 914.5,246.5 914.9,246.5 915.3,245.9 915.7,245.2 916.1,245.2 916.5,245.2 916.9,243.8 917.3,242.4 917.7,240.9 918.1,239.5 918.5,239.6 918.9,239.7 919.3,238.2 919.7,236.8 920.1,235.8 920.5,234.8 920.9,235.9 921.3,237.1 921.7,235.3 922.1,233.6 922.5,233.2 922.9,232.8 923.3,231.9 923.7,231 924.1,230.8 924.5,230.8 924.9,229.6 925.3,228.5 925.7,228.6 926.1,228.5 926.5,227.2 926.9,225.9 927.3,225.4 927.7,224.9 928.1,225.8 928.5,229.1 928.9,230.5 929.3,232 929.7,233 930.1,234 930.5,235.3 930.9,234.7 931.3,234.1 931.7,233.5 932.1,232.6 932.5,231.7 932.9,232.2 933.3,232.7 933.7,231.7 934.1,230.8 934.5,230.2 934.9,229.6 935.3,228.8 935.7,228 936.1,227.6 936.5,227.2 936.9,226.2 937.3,225.2 937.7,224.5 938.1,223.9 938.5,222.3 M120.5,423.2 120.9,424.9 121.3,426.7 121.7,426.5 122.1,426.3 122.5,427.4 122.9,428.6 123.3,430.1 123.7,431.5 124.1,432.6 124.5,433.6 124.9,434.5 125.3,434.9 125.7,434.3 126.1,433.6 126.5,435 126.9,436.4 127.3,436 127.7,435.6 128.1,436.2 128.5,436.8 128.9,437.8 129.3,438.8 129.7,438.8 130.1,438.8 130.5,439.7 130.9,440.6 131.3,442.1 131.7,443.5 132.1,442.9 132.5,442.2 132.9,442.6 133.3,443 133.7,442.6 134.1,442.3 134.5,442.8 134.9,443.3 135.3,443.5 135.7,443.7 136.1,444.4 136.5,445 136.9,445.2 137.3,445.3 137.7,445.9 138.1,446.5 138.5,447.1 138.9,447.7 139.3,447.8 139.7,447.8 140.1,448.7 140.5,451.5 140.9,454.5 141.3,456.8 141.7,459.6 142.1,462.4 142.5,464.2 142.9,466.1 143.3,467.4 143.7,468.4 144.1,469 144.5,469.5 144.9,469.5 145.3,469.4 145.7,470.4 146.1,471.4 146.5,471.1 146.9,470.7 147.3,472.9 147.7,475.1 148.1,475.3 148.5,475.5 148.9,475.6 149.3,475.7 149.7,476.1 150.1,476.4 150.5,477.8 150.9,479.3 151.3,479 151.7,478.8 152.1,480 152.5,481 152.9,482.3 153.3,483.6 153.7,483.9 154.1,484.2 154.5,484.6 154.9,484.9 155.3,486.2 155.7,487.4 156.1,487.1 156.5,486.8 156.9,488 157.3,489.2 157.7,489.5 158.1,489.6 158.5,489.8 158.9,489.9 159.3,490.8 159.7,491.7 160.1,491.3 160.5,491 160.9,492.6 161.3,494.2 161.7,493.3 162.1,492.5 162.5,494 162.9,495.4 163.3,494.3 163.7,493.2 164.1,494.3 164.5,495.4 164.9,494.9 165.3,494.3 165.7,494.4 166.1,494.5 166.5,495.3 166.9,496.2 167.3,496.6 167.7,497 168.1,496.4 168.5,496.2 168.9,498 169.3,499.8 169.7,499.6 170.1,499.5 170.5,500.6 170.9,501.7 171.3,502.5 171.7,503.3 172.1,504.5 172.5,507 172.9,508.4 173.3,509.7 173.7,513.6 174.1,516.9 174.5,516.2 174.9,515.6 175.3,514.9 175.7,514.3 176.1,513.8 176.5,513.3 176.9,512.8 177.3,512.3 177.7,512.3 178.1,512.2 178.5,512.9 178.9,513.5 179.3,512.9 179.7,512.3 180.1,511.9 180.5,511.7 180.9,512.1 181.3,512.5 181.7,513.5 182.1,514.6 182.5,513.9 182.9,513.2 183.3,513.2 183.7,513.2 184.1,514.2 184.5,515.2 184.9,515 185.3,514.7 185.7,514.7 186.1,514.6 186.5,514.4 186.9,514.3 187.3,514 187.7,513.7 188.1,513.9 188.5,513.8 188.9,513.9 189.3,514 189.7,513.9 190.1,513.7 190.5,513.8 190.9,513.8 191.3,513.6 191.7,513.5 192.1,513.1 192.5,512.7 192.9,512.5 193.3,512.2 193.7,511.4 194.1,510.6 194.5,509.9 194.9,509.1 195.3,509.5 195.7,509.8 196.1,509.1 196.5,508.5 196.9,508.2 197.3,507.9 197.7,507.6 198.1,507.3 198.5,506.2 198.9,505.3 199.3,505 199.7,504.8 200.1,505 200.5,505.5 200.9,505.7 201.3,505.8 201.7,505.5 202.1,505.3 202.5,505.8 202.9,506.4 203.3,506.1 203.7,508.5 204.1,509.6 204.5,510.8 204.9,512.8 205.3,514.8 205.7,516.2 206.1,516.6 206.5,515.1 206.9,513.6 207.3,514.1 207.7,514.5 208.1,514.2 208.5,514 208.9,513.7 209.3,513.3 209.7,511.9 210.1,510.5 210.5,511.4 210.9,512.3 211.3,511.1 211.7,509.9 212.1,509.4 212.5,509.2 212.9,509.2 213.3,509.1 213.7,509.5 214.1,509.8 214.5,509.5 214.9,509.2 215.3,509 215.7,508.9 216.1,509.5 216.5,510.1 216.9,509.1 217.3,508.2 217.7,508 218.1,507.8 218.5,508.6 218.9,509.4 219.3,509.3 219.7,509.2 220.1,509.2 220.5,509 220.9,507.6 221.3,506.3 221.7,506.9 222.1,507.5 222.5,506.8 222.9,506.1 223.3,506.3 223.7,506.5 224.1,504.8 224.5,503 224.9,503.3 225.3,503.6 225.7,503 226.1,502.4 226.5,501.4 226.9,500.4 227.3,500.4 227.7,500.4 228.1,500.9 228.5,501.3 228.9,500.2 229.3,499.1 229.7,498.4 230.1,497.4 230.5,497.3 230.9,497.4 231.3,496.9 231.7,496.7 232.1,496.6 232.5,496.4 232.9,495.5 233.3,494.6 233.7,494.8 234.1,495 234.5,495.4 234.9,499.4 235.3,500.2 235.7,500.9 236.1,502.4 236.5,503.9 236.9,506.2 237.3,507 237.7,507.1 238.1,507.1 238.5,505.7 238.9,504.2 239.3,503.2 239.7,502.3 240.1,502.5 240.5,502.8 240.9,502.7 241.3,502.6 241.7,502.8 242.1,502.9 242.5,502.9 242.9,503 243.3,502.4 243.7,501.8 244.1,501.2 244.5,500.7 244.9,500.8 245.3,501 245.7,500.4 246.1,499.8 246.5,500.1 246.9,500.4 247.3,500 247.7,499.6 248.1,500.9 248.5,502.3 248.9,501.4 249.3,500.4 249.7,499.5 250.1,498.7 250.5,498.5 250.9,498.3 251.3,498.4 251.7,498.5 252.1,497.8 252.5,497.2 252.9,497.5 253.3,497.5 253.7,497 254.1,496.6 254.5,496.9 254.9,497.1 255.3,496.1 255.7,495 256.1,494.4 256.5,493.8 256.9,493.1 257.3,492.4 257.7,492 258.1,491.6 258.5,491.7 258.9,491.7 259.3,491.2 259.7,490.6 260.1,490.8 260.5,491 260.9,489.9 261.3,488.3 261.7,488.2 262.1,488.3 262.5,487.3 262.9,486.4 263.3,486.1 263.7,485.9 264.1,484.8 264.5,483.8 264.9,484 265.3,484.2 265.7,485 266.1,485.8 266.5,490.2 266.9,492.1 267.3,493.1 267.7,494.2 268.1,496 268.5,497.9 268.9,497 269.3,496.1 269.7,495.8 270.1,495.4 270.5,494.9 270.9,494.5 271.3,494.8 271.7,495.2 272.1,494.6 272.5,493.9 272.9,493.3 273.3,492.7 273.7,492.3 274.1,491.9 274.5,491.9 274.9,492 275.3,491.5 275.7,491.1 276.1,490.3 276.5,489.8 276.9,490.9 277.3,492 277.7,491.4 278.1,490.7 278.5,490.6 278.9,490.5 279.3,491.2 279.7,491.8 280.1,491.6 280.5,491.4 280.9,490.9 281.3,490.4 281.7,490.7 282.1,491 282.5,490.3 282.9,489.5 283.3,489.4 283.7,489.2 284.1,488 284.5,486.9 284.9,488.1 285.3,489.2 285.7,487.4 286.1,485.6 286.5,486.3 286.9,487 287.3,485.9 287.7,484.9 288.1,484.4 288.5,483.9 288.9,483.8 289.3,483.8 289.7,483.5 290.1,483.3 290.5,483.1 290.9,482.8 291.3,482.9 291.7,483 292.1,482 292.5,480.9 292.9,480.5 293.3,480 293.7,478.8 294.1,477.7 294.5,478 294.9,478.5 295.3,478.1 295.7,477.4 296.1,476.9 296.5,476.7 296.9,476.9 297.3,477 297.7,476.9 298.1,477.9 298.5,480 298.9,482 299.3,484.1 299.7,486.1 300.1,487.1 300.5,486.3 300.9,485.9 301.3,485.4 301.7,485.7 302.1,486.1 302.5,484.6 302.9,483.2 303.3,483.3 303.7,483.4 304.1,484.1 304.5,484.7 304.9,482.4 305.3,480.2 305.7,480.7 306.1,481.3 306.5,481.7 306.9,482.1 307.3,480.8 307.7,479.5 308.1,481.1 308.5,482.8 308.9,480.2 309.3,477.6 309.7,479.2 310.1,480.9 310.5,481.3 310.9,481.7 311.3,481.7 311.7,481.7 312.1,481.6 312.5,481.4 312.9,482 313.3,482.1 313.7,481.3 314.1,480.5 314.5,481.1 314.9,481.6 315.3,480.5 315.7,479.4 316.1,479.5 316.5,479.7 316.9,480 317.3,480.3 317.7,479.1 318.1,477.9 318.5,477.7 318.9,477.6 319.3,477.3 319.7,477.1 320.1,475.9 320.5,474.8 320.9,475.4 321.3,476 321.7,475.2 322.1,474.3 322.5,473 322.9,471.7 323.3,471.9 323.7,472 324.1,471.2 324.5,469.8 324.9,468.9 325.3,468.2 325.7,467.9 326.1,467.8 326.5,467.4 326.9,466.9 327.3,467.6 327.7,468.2 328.1,467.4 328.5,466.5 328.9,467.2 329.3,467.8 329.7,470.8 330.1,472.2 330.5,474.6 330.9,476.9 331.3,478.2 331.7,478.5 332.1,478.4 332.5,478.3 332.9,477.9 333.3,477.5 333.7,478.1 334.1,478.8 334.5,478.9 334.9,478.9 335.3,479.3 335.7,479.8 336.1,479.3 336.5,478.8 336.9,478.2 337.3,477.8 337.7,477.7 338.1,477.6 338.5,478 338.9,478.4 339.3,478.4 339.7,478.3 340.1,479.1 340.5,479.9 340.9,479.8 341.3,479.6 341.7,479 342.1,478.3 342.5,478.7 342.9,479.1 343.3,480.3 343.7,481.5 344.1,481.3 344.5,481.2 344.9,481.2 345.3,481.3 345.7,482.2 346.1,483 346.5,482.1 346.9,481.1 347.3,480.9 347.7,480.8 348.1,480.4 348.5,480.1 348.9,479.2 349.3,478.3 349.7,479.3 350.1,480.4 350.5,479.2 350.9,478.1 351.3,478.1 351.7,478.2 352.1,477.8 352.5,477.5 352.9,477.9 353.3,478.3 353.7,477.7 354.1,477.1 354.5,476.8 354.9,476.6 355.3,475.6 355.7,474.5 356.1,474.6 356.5,474.8 356.9,473.9 357.3,473.1 357.7,473.9 358.1,474.8 358.5,475 358.9,475.1 359.3,475 359.7,475 360.1,476 360.5,477 360.9,476.5 361.3,479.5 361.7,481.5 362.1,483.4 362.5,485.1 362.9,486.8 363.3,487.1 363.7,486.8 364.1,487.2 364.5,487.6 364.9,487.5 365.3,487.5 365.7,486.3 366.1,485.1 366.5,486 366.9,486.9 367.3,486.6 367.7,486.2 368.1,486.3 368.5,486.3 368.9,486 369.3,485.6 369.7,484.7 370.1,483.9 370.5,484.2 370.9,484.5 371.3,486 371.7,487.6 372.1,487.1 372.5,486.6 372.9,486.1 373.3,485.6 373.7,486.6 374.1,487.6 374.5,487.5 374.9,487.4 375.3,487 375.7,486.5 376.1,486.6 376.5,486.6 376.9,487.1 377.3,487.7 377.7,488.7 378.1,489.7 378.5,489.3 378.9,488.9 379.3,488.6 379.7,488.3 380.1,488.3 380.5,488.3 380.9,488.2 381.3,488.2 381.7,486.7 382.1,485.3 382.5,485.8 382.9,486.4 383.3,486 383.7,485.5 384.1,485.1 384.5,484.7 384.9,484.8 385.3,484.8 385.7,484.7 386.1,484.6 386.5,484.2 386.9,483.8 387.3,482.9 387.7,481.8 388.1,481.9 388.5,482.2 388.9,483.3 389.3,484.4 389.7,483.2 390.1,481.9 390.5,481.8 390.9,481.6 391.3,482.6 391.7,483.6 392.1,483.9 392.5,486.4 392.9,488.3 393.3,490.2 393.7,491.4 394.1,492.6 394.5,495.4 394.9,496.3 395.3,495.4 395.7,494.4 396.1,494.1 396.5,493.9 396.9,494 397.3,494.1 397.7,494.2 398.1,494.3 398.5,494.5 398.9,494.8 399.3,494.6 399.7,494.5 400.1,494.1 400.5,493.6 400.9,493.9 401.3,494.3 401.7,493.7 402.1,493.3 402.5,494 402.9,494.6 403.3,493.8 403.7,493 404.1,493.2 404.5,493.4 404.9,494.7 405.3,496 405.7,495.3 406.1,494.5 406.5,495.3 406.9,496 407.3,496.4 407.7,496.7 408.1,496.7 408.5,496.3 408.9,496.2 409.3,496 409.7,496.7 410.1,497.4 410.5,495.4 410.9,493.5 411.3,494.8 411.7,496.2 412.1,496.7 412.5,497.1 412.9,495.9 413.3,494.7 413.7,494.6 414.1,494.4 414.5,494.5 414.9,494.7 415.3,494.9 415.7,495 416.1,493.2 416.5,491.5 416.9,491.7 417.3,491.9 417.7,491.4 418.1,490.9 418.5,490.8 418.9,490.8 419.3,490.5 419.7,490.4 420.1,490.7 420.5,490.9 420.9,490.5 421.3,490.1 421.7,490.4 422.1,490.7 422.5,490.5 422.9,490.3 423.3,490.3 423.7,490.4 424.1,494.7 424.5,496.5 424.9,498 425.3,499.5 425.7,500.5 426.1,501.1 426.5,502.2 426.9,503.4 427.3,502.5 427.7,501.6 428.1,500.9 428.5,500.2 428.9,501.3 429.3,502.3 429.7,501.3 430.1,500.4 430.5,500.8 430.9,501.3 431.3,500.9 431.7,500.6 432.1,500.7 432.5,501 432.9,501.1 433.3,501.3 433.7,501.2 434.1,501 434.5,501.5 434.9,502 435.3,503.1 435.7,504.2 436.1,502.5 436.5,500.7 436.9,502 437.3,503.2 437.7,503.6 438.1,503.9 438.5,503.2 438.9,502.6 439.3,502.4 439.7,502.3 440.1,503.9 440.5,505.4 440.9,504.3 441.3,503 441.7,503.8 442.1,504.6 442.5,503.6 442.9,502.6 443.3,502.1 443.7,501.6 444.1,501.5 444.5,501.4 444.9,501.2 445.3,501 445.7,500.9 446.1,500.9 446.5,500.3 446.9,499.7 447.3,499.2 447.7,498.7 448.1,498.3 448.5,498 448.9,498.1 449.3,498.3 449.7,497.7 450.1,497.1 450.5,495.7 450.9,494.4 451.3,494.5 451.7,494.6 452.1,495 452.5,495.4 452.9,495.1 453.3,494.7 453.7,494.9 454.1,495 454.5,494.8 454.9,494.6 455.3,495 455.7,498.3 456.1,500.4 456.5,502.5 456.9,504.5 457.3,506.5 457.7,506.8 458.1,506.2 458.5,506.9 458.9,507.6 459.3,506.4 459.7,505.2 460.1,506.5 460.5,507.7 460.9,506.5 461.3,505.3 461.7,504.9 462.1,504.4 462.5,503.8 462.9,503.1 463.3,502 463.7,501.1 464.1,502.3 464.5,503.6 464.9,503.8 465.3,504 465.7,504.8 466.1,505.7 466.5,504.2 466.9,502.8 467.3,504.4 467.7,505.9 468.1,505 468.5,504.1 468.9,504.6 469.3,505.1 469.7,503.6 470.1,502.2 470.5,503.1 470.9,504.1 471.3,503.7 471.7,503.2 472.1,503.5 472.5,503.7 472.9,503.2 473.3,502.7 473.7,501.9 474.1,501.1 474.5,501.8 474.9,502.6 475.3,502.2 475.7,501.9 476.1,501.6 476.5,501.3 476.9,501.3 477.3,501.2 477.7,500.9 478.1,500.6 478.5,499.7 478.9,498.9 479.3,498 479.7,497 480.1,496.7 480.5,496.3 480.9,497.2 481.3,498.1 481.7,497.5 482.1,496.6 482.5,495.8 482.9,495.1 483.3,494.6 483.7,494.2 484.1,494.4 484.5,494.6 484.9,494.6 485.3,494.6 485.7,494.4 486.1,494.2 486.5,494 486.9,493.9 487.3,498 487.7,500.7 488.1,501.3 488.5,501.8 488.9,502.9 489.3,503.9 489.7,504.2 490.1,503.7 490.5,503.7 490.9,503.8 491.3,504.2 491.7,504.6 492.1,504.4 492.5,504.2 492.9,503.6 493.3,502.9 493.7,502.8 494.1,502.7 494.5,502.4 494.9,502 495.3,501.6 495.7,501.2 496.1,502.3 496.5,503.4 496.9,503 497.3,502.5 497.7,503.5 498.1,504.4 498.5,503 498.9,501.5 499.3,501.8 499.7,502.1 500.1,502.5 500.5,503 500.9,502.5 501.3,502 501.7,501.5 502.1,500.9 502.5,500.8 502.9,500.6 503.3,500.8 503.7,501 504.1,500.8 504.5,500.6 504.9,500 505.3,499.5 505.7,499.7 506.1,499.9 506.5,499.6 506.9,499.3 507.3,498.6 507.7,498 508.1,497.5 508.5,497 508.9,496.4 509.3,495.9 509.7,495.8 510.1,495.7 510.5,495.5 510.9,495.2 511.3,494.4 511.7,493.5 512.1,493.3 512.5,493 512.9,492.2 513.3,491.3 513.7,489.8 514.1,488.4 514.5,487.8 514.9,487.4 515.3,487.8 515.7,488.5 516.1,488.3 516.5,488 516.9,488.4 517.3,488.8 517.7,488.1 518.1,487.3 518.5,487.5 518.9,491.5 519.3,493.3 519.7,495.1 520.1,496.5 520.5,497.9 520.9,496.8 521.3,495.7 521.7,495.5 522.1,495.4 522.5,495.1 522.9,494.9 523.3,494 523.7,493.2 524.1,493.4 524.5,493.7 524.9,493.6 525.3,493.5 525.7,492.4 526.1,491.4 526.5,492.1 526.9,492.9 527.3,491.6 527.7,490.3 528.1,490.1 528.5,489.9 528.9,489.6 529.3,489.3 529.7,488.9 530.1,488.4 530.5,488.7 530.9,488.9 531.3,488.5 531.7,488 532.1,488.5 532.5,489 532.9,488.3 533.3,487.7 533.7,487.6 534.1,487.5 534.5,487.1 534.9,486.7 535.3,486.1 535.7,485.5 536.1,486 536.5,486.5 536.9,486.1 537.3,485.3 537.7,485.5 538.1,485.7 538.5,484.7 538.9,483.6 539.3,483.8 539.7,483.9 540.1,482.9 540.5,481.9 540.9,481.4 541.3,480.6 541.7,479.5 542.1,478.4 542.5,477.5 542.9,476.7 543.3,476.1 543.7,475.4 544.1,474.7 544.5,474 544.9,472.1 545.3,470 545.7,469.4 546.1,469 546.5,469.3 546.9,469.8 547.3,468.3 547.7,466.8 548.1,466.4 548.5,466.1 548.9,465.6 549.3,465.1 549.7,464.5 550.1,464.6 550.5,467.2 550.9,469.8 551.3,470.7 551.7,471.7 552.1,473.2 552.5,474.8 552.9,474.9 553.3,475.1 553.7,474.8 554.1,474.6 554.5,472.5 554.9,470.4 555.3,470.8 555.7,471.1 556.1,470.3 556.5,469.6 556.9,469 557.3,468.3 557.7,467.8 558.1,467.3 558.5,466.5 558.9,465.7 559.3,465.9 559.7,466.1 560.1,465.1 560.5,464.1 560.9,463.4 561.3,462.8 561.7,462.6 562.1,462.6 562.5,462.2 562.9,461.8 563.3,461.4 563.7,460.9 564.1,460.6 564.5,460.3 564.9,460.7 565.3,461.2 565.7,460.4 566.1,459.6 566.5,459.1 566.9,458.6 567.3,458 567.7,457.4 568.1,457.2 568.5,456.6 568.9,455.4 569.3,454.1 569.7,453.8 570.1,453.4 570.5,452.5 570.9,451.7 571.3,449.8 571.7,447.8 572.1,447.9 572.5,448 572.9,447.5 573.3,447 573.7,446 574.1,445 574.5,443.6 574.9,442.3 575.3,442.5 575.7,442.7 576.1,441.1 576.5,439.2 576.9,437.9 577.3,436.8 577.7,436.2 578.1,435.7 578.5,435.7 578.9,435.8 579.3,435.8 579.7,435.9 580.1,435.5 580.5,435.2 580.9,434.3 581.3,433.5 581.7,435.6 582.1,436.4 582.5,438.1 582.9,439.8 583.3,441.1 583.7,441.4 584.1,441 584.5,440.7 584.9,439.4 585.3,438 585.7,438.2 586.1,438.4 586.5,438 586.9,437.6 587.3,436.6 587.7,435.6 588.1,435.2 588.5,434.8 588.9,433.6 589.3,432.3 589.7,431.4 590.1,430.6 590.5,430.6 590.9,430.5 591.3,430.9 591.7,431.3 592.1,430.9 592.5,430.4 592.9,429.4 593.3,428.3 593.7,428.6 594.1,429 594.5,427.9 594.9,426.8 595.3,427.2 595.7,427.7 596.1,426.8 596.5,426.1 596.9,425.3 597.3,424.6 597.7,424.9 598.1,425.1 598.5,424.1 598.9,423.1 599.3,422.8 599.7,422.4 600.1,421.7 600.5,420.5 600.9,420.3 601.3,420.1 601.7,419 602.1,417.9 602.5,416.9 602.9,416 603.3,414.9 603.7,413.8 604.1,413.6 604.5,413.5 604.9,411.7 605.3,410.1 605.7,409.2 606.1,408.3 606.5,408.4 606.9,408.6 607.3,407.9 607.7,407.2 608.1,405.9 608.5,404.6 608.9,403 609.3,401.6 609.7,401.6 610.1,401.7 610.5,401.8 610.9,401.9 611.3,401.2 611.7,400.4 612.1,400.7 612.5,400.9 612.9,399.3 613.3,400.5 613.7,402.6 614.1,404.6 614.5,405.2 614.9,405.7 615.3,407.7 615.7,408.9 616.1,407.6 616.5,406.3 616.9,406.1 617.3,405.9 617.7,404.5 618.1,403.1 618.5,402.1 618.9,401.1 619.3,400.5 619.7,400 620.1,399.6 620.5,399.4 620.9,398.7 621.3,398 621.7,398.5 622.1,399.1 622.5,398.6 622.9,398.2 623.3,397.3 623.7,396.3 624.1,395.2 624.5,394.2 624.9,394.1 625.3,394.2 625.7,393.6 626.1,393 626.5,393.6 626.9,394.3 627.3,393.5 627.7,392.6 628.1,392.4 628.5,392.1 628.9,391.4 629.3,390.7 629.7,389.7 630.1,388.5 630.5,388.3 630.9,388.1 631.3,387.2 631.7,386.3 632.1,386.2 632.5,386.1 632.9,385.2 633.3,384.3 633.7,383.2 634.1,382 634.5,381.4 634.9,380.8 635.3,381 635.7,381.1 636.1,379.2 636.5,377.3 636.9,376.5 637.3,375.8 637.7,375.4 638.1,374.9 638.5,373.9 638.9,373 639.3,372.3 639.7,371.4 640.1,371 640.5,370.8 640.9,370.7 641.3,370.7 641.7,368.7 642.1,366.7 642.5,367.1 642.9,367.4 643.3,367 643.7,366.4 644.1,366.1 644.5,365.6 644.9,368.6 645.3,369.7 645.7,370.9 646.1,372 646.5,373.8 646.9,373.9 647.3,372.7 647.7,371.4 648.1,371.1 648.5,370.7 648.9,370.2 649.3,369.7 649.7,369.2 650.1,368.7 650.5,368 650.9,367.3 651.3,367.3 651.7,367.3 652.1,366.3 652.5,365.4 652.9,365 653.3,364.6 653.7,364 654.1,363.4 654.5,362.5 654.9,361.6 655.3,361.2 655.7,360.8 656.1,360.2 656.5,359.7 656.9,359.7 657.3,360 657.7,359.3 658.1,358.6 658.5,358.2 658.9,357.7 659.3,358 659.7,358.3 660.1,358.2 660.5,358 660.9,356.7 661.3,355.4 661.7,356.7 662.1,357.9 662.5,356.4 662.9,355 663.3,354.3 663.7,353.6 664.1,353.4 664.5,353.3 664.9,352.2 665.3,351 665.7,349.9 666.1,348.8 666.5,349.2 666.9,349.7 667.3,347.4 667.7,345.1 668.1,344.8 668.5,344.4 668.9,344 669.3,343.7 669.7,342 670.1,340.4 670.5,340 670.9,339.6 671.3,338.3 671.7,337.1 672.1,336.7 672.5,336.5 672.9,334.3 673.3,332.3 673.7,332.3 674.1,332.2 674.5,332.1 674.9,332 675.3,331.3 675.7,330.6 676.1,329.6 676.5,329.8 676.9,330.2 677.3,332.6 677.7,334.7 678.1,336.8 678.5,339.2 678.9,338.9 679.3,338.6 679.7,338.4 680.1,337.8 680.5,337.2 680.9,336.4 681.3,335.6 681.7,335.1 682.1,334.5 682.5,333.3 682.9,332.1 683.3,332 683.7,331.8 684.1,331.4 684.5,330.9 684.9,330.1 685.3,329.2 685.7,328.8 686.1,328.4 686.5,327.4 686.9,326.4 687.3,326.9 687.7,327.3 688.1,327.1 688.5,327.3 688.9,326 689.3,324.7 689.7,324.9 690.1,325.2 690.5,324.7 690.9,324.3 691.3,324.6 691.7,324.9 692.1,324.1 692.5,323.3 692.9,322.7 693.3,322.1 693.7,321.5 694.1,321 694.5,320.7 694.9,320.4 695.3,320.1 695.7,320.1 696.1,321.2 696.5,322.4 696.9,322.2 697.3,322 697.7,323 698.1,324 698.5,324.3 698.9,324.5 699.3,325.2 699.7,325.8 700.1,325.5 700.5,325.2 700.9,325.9 701.3,326.6 701.7,325.9 702.1,325.2 702.5,326.1 702.9,327 703.3,327.1 703.7,327.3 704.1,328.1 704.5,328.9 704.9,329.5 705.3,330 705.7,331 706.1,332 706.5,331.3 706.9,330.5 707.3,331.7 707.7,335.6 708.1,336.4 708.5,337.2 708.9,340.4 709.3,343.6 709.7,344.2 710.1,344.4 710.5,345.6 710.9,346.7 711.3,347.2 711.7,347.6 712.1,349.8 712.5,352.1 712.9,351.5 713.3,350.7 713.7,351.8 714.1,353 714.5,353.2 714.9,353.4 715.3,353.3 715.7,353.3 716.1,354.4 716.5,355.6 716.9,356.5 717.3,357.5 717.7,357.6 718.1,357.8 718.5,358.8 718.9,359.9 719.3,359.8 719.7,359.8 720.1,360.6 720.5,362 720.9,363 721.3,364.1 721.7,365.6 722.1,366.9 722.5,368.2 722.9,369.4 723.3,369.3 723.7,369.1 724.1,369.6 724.5,370 724.9,370.2 725.3,370.2 725.7,370.6 726.1,370.9 726.5,372.3 726.9,373.7 727.3,373 727.7,372.2 728.1,372.7 728.5,373.2 728.9,373.9 729.3,374.7 729.7,375 730.1,375.2 730.5,376.7 730.9,378.2 731.3,376.4 731.7,374.6 732.1,376 732.5,377.4 732.9,377.7 733.3,378 733.7,377.3 734.1,376.3 734.5,376.2 734.9,376.3 735.3,376.9 735.7,377.5 736.1,378.6 736.5,379.7 736.9,379.1 737.3,378.6 737.7,378.8 738.1,379.1 738.5,380.9 738.9,382.6 739.3,385.5 739.7,386.7 740.1,386.9 740.5,387.5 740.9,388.2 741.3,388.8 741.7,392 742.1,395.2 742.5,396.1 742.9,396.9 743.3,398.3 743.7,399.4 744.1,399.4 744.5,399.4 744.9,399.8 745.3,400.2 745.7,400.6 746.1,401.1 746.5,402.5 746.9,403.9 747.3,404.4 747.7,404.9 748.1,403.8 748.5,402.8 748.9,404 749.3,405.1 749.7,406.9 750.1,408.7 750.5,408.4 750.9,408 751.3,408.2 751.7,408.3 752.1,409.6 752.5,411.1 752.9,411.9 753.3,412.7 753.7,413.5 754.1,414.4 754.5,415.1 754.9,415.7 755.3,416.7 755.7,417.6 756.1,418.3 756.5,418.8 756.9,419.7 757.3,420.6 757.7,420.6 758.1,420.7 758.5,421.4 758.9,422.2 759.3,422.8 759.7,423.5 760.1,424.6 760.5,425.7 760.9,425.8 761.3,425.8 761.7,426 762.1,426.3 762.5,427 762.9,427.7 763.3,428.1 763.7,428.5 764.1,429.2 764.5,429.6 764.9,429.4 765.3,429.3 765.7,429.3 766.1,429.3 766.5,428.9 766.9,428.7 767.3,428.5 767.7,428.6 768.1,429.2 768.5,429.8 768.9,431.1 769.3,432.4 769.7,433 770.1,433.6 770.5,434.1 770.9,437.2 771.3,438.3 771.7,439.4 772.1,441.1 772.5,443.4 772.9,446.7 773.3,450.1 773.7,451.2 774.1,450.9 774.5,450.4 774.9,449.9 775.3,448.4 775.7,446.9 776.1,447.4 776.5,447.9 776.9,446.7 777.3,445.5 777.7,445.3 778.1,445.2 778.5,444.8 778.9,444.4 779.3,443.4 779.7,442.4 780.1,442 780.5,441.7 780.9,440.5 781.3,439.4 781.7,439.5 782.1,439.6 782.5,439.2 782.9,438.7 783.3,439.6 783.7,440.5 784.1,440.2 784.5,439.9 784.9,440.2 785.3,440.5 785.7,440.1 786.1,439.8 786.5,439.1 786.9,438.5 787.3,438.7 787.7,439 788.1,438.4 788.5,437.9 788.9,438.1 789.3,438.4 789.7,438.1 790.1,437.6 790.5,436.4 790.9,435.3 791.3,435.1 791.7,435 792.1,434.4 792.5,433.8 792.9,433 793.3,432.3 793.7,432.2 794.1,432.2 794.5,431.9 794.9,431.7 795.3,430 795.7,428.3 796.1,427.5 796.5,426.7 796.9,425 797.3,422.3 797.7,421.6 798.1,421 798.5,419.6 798.9,418.5 799.3,417.4 799.7,416.3 800.1,417.1 800.5,417.9 800.9,417.7 801.3,417.5 801.7,416.5 802.1,415.6 802.5,416.5 802.9,417.1 803.3,417.2 803.7,418 804.1,420.5 804.5,423 804.9,423.7 805.3,422.7 805.7,422.8 806.1,422.8 806.5,423.3 806.9,423.8 807.3,422.4 807.7,421 808.1,420.7 808.5,420.4 808.9,419.6 809.3,418.8 809.7,417.8 810.1,416.8 810.5,416.9 810.9,416.9 811.3,416.6 811.7,416.3 812.1,415.2 812.5,414.1 812.9,414.2 813.3,414.3 813.7,414.3 814.1,414.2 814.5,413.6 814.9,413.1 815.3,411.6 815.7,410.2 816.1,410.2 816.5,410.2 816.9,409.7 817.3,409.2 817.7,410.1 818.1,411.1 818.5,410.7 818.9,410.2 819.3,410 819.7,409.8 820.1,408.8 820.5,407.4 820.9,406.5 821.3,405.7 821.7,405.6 822.1,405.5 822.5,404.8 822.9,404.2 823.3,403.1 823.7,401.9 824.1,401.7 824.5,401.5 824.9,401 825.3,400.5 825.7,399.5 826.1,398.5 826.5,397.1 826.9,395.8 827.3,394.5 827.7,393.2 828.1,393.2 828.5,393.2 828.9,392.4 829.3,392 829.7,391.3 830.1,390.6 830.5,390 830.9,389.6 831.3,389.1 831.7,388.6 832.1,388.9 832.5,389.2 832.9,388.5 833.3,387.8 833.7,387.5 834.1,389.9 834.5,390.7 834.9,391.5 835.3,393 835.7,394.5 836.1,395.6 836.5,395.4 836.9,394.3 837.3,393.1 837.7,392.4 838.1,391.7 838.5,391.5 838.9,391.4 839.3,391.4 839.7,391.5 840.1,390.5 840.5,389.5 840.9,389.6 841.3,389.6 841.7,388.4 842.1,387.2 842.5,386.6 842.9,386 843.3,384.9 843.7,383.9 844.1,383.8 844.5,383.6 844.9,384 845.3,384.7 845.7,384.1 846.1,383.4 846.5,383.5 846.9,383.5 847.3,383.4 847.7,383.2 848.1,382.8 848.5,382.3 848.9,382.1 849.3,381.9 849.7,381.9 850.1,381.8 850.5,381.6 850.9,381.3 851.3,380.7 851.7,380.2 852.1,379.7 852.5,379.2 852.9,378.6 853.3,378 853.7,377.1 854.1,376.2 854.5,375.9 854.9,375.7 855.3,374.6 855.7,373.5 856.1,373.5 856.5,373.6 856.9,371.3 857.3,369.1 857.7,369.1 858.1,369.1 858.5,369.6 858.9,370.1 859.3,368.1 859.7,366.2 860.1,365 860.5,363.6 860.9,363.3 861.3,363.1 861.7,363.1 862.1,363.2 862.5,362.2 862.9,361.2 863.3,361.1 863.7,361.1 864.1,360.5 864.5,359.9 864.9,359.3 865.3,359.5 865.7,361.4 866.1,363.4 866.5,362.4 866.9,362.5 867.3,363.7 867.7,364.9 868.1,365.9 868.5,365.3 868.9,365.1 869.3,364.9 869.7,364.3 870.1,363.7 870.5,363.3 870.9,362.8 871.3,362 871.7,361.1 872.1,359.8 872.5,358.6 872.9,359 873.3,359.4 873.7,358.5 874.1,357.6 874.5,357.1 874.9,356.6 875.3,355.6 875.7,354.5 876.1,354.6 876.5,354.9 876.9,354.8 877.3,354.7 877.7,354.9 878.1,355.2 878.5,354.5 878.9,353.8 879.3,354.5 879.7,355.1 880.1,355 880.5,354.7 880.9,353.9 881.3,353 881.7,352.9 882.1,352.9 882.5,352.5 882.9,352.1 883.3,352.5 883.7,353 884.1,351.1 884.5,348.8 884.9,349.1 885.3,349.4 885.7,348.1 886.1,346.8 886.5,346.7 886.9,346.5 887.3,346.4 887.7,346.3 888.1,344.9 888.5,343.5 888.9,343.1 889.3,342.7 889.7,341.5 890.1,340.3 890.5,340.8 890.9,341.3 891.3,340.1 891.7,338.4 892.1,337.2 892.5,336.1 892.9,334 893.3,332 893.7,331.6 894.1,331.4 894.5,332.1 894.9,332.7 895.3,331.8 895.7,330.9 896.1,330.5 896.5,330.2 896.9,330.7 897.3,331.9 897.7,332.7 898.1,333.6 898.5,336 898.9,338.4 899.3,339.6 899.7,339.7 900.1,339.3 900.5,338.9 900.9,337.7 901.3,336.6 901.7,336.5 902.1,336.4 902.5,335.2 902.9,334 903.3,334.2 903.7,334.4 904.1,333.9 904.5,333.5 904.9,332.8 905.3,332.2 905.7,331.4 906.1,330.7 906.5,330.2 906.9,329.7 907.3,328 907.7,326.3 908.1,327.7 908.5,329.2 908.9,328.5 909.3,327.9 909.7,327.9 910.1,327.9 910.5,327.6 910.9,327.3 911.3,326.5 911.7,325.7 912.1,325.7 912.5,325.8 912.9,326 913.3,326.2 913.7,326.2 914.1,326.1 914.5,324.4 914.9,322.8 915.3,321.9 915.7,321 916.1,321.3 916.5,321.6 916.9,319.8 917.3,318 917.7,318.6 918.1,319.2 918.5,317.6 918.9,316 919.3,314.9 919.7,313.7 920.1,313.9 920.5,314 920.9,313.6 921.3,313.2 921.7,311.1 922.1,309.1 922.5,309.8 922.9,310.6 923.3,308.9 923.7,307.2 924.1,307.3 924.5,307.5 924.9,306.1 925.3,304.9 925.7,304.1 926.1,303 926.5,303.6 926.9,304.3 927.3,304.2 927.7,304 928.1,304.2 928.5,306.7 928.9,308 929.3,309.2 929.7,310.2 930.1,311.2 930.5,312.2 930.9,311.3 931.3,310.6 931.7,309.9 932.1,309.5 932.5,309.1 932.9,308.3 933.3,307.5 933.7,307.2 934.1,307 934.5,305.4 934.9,303.8 935.3,304.4 935.7,304.9 936.1,304 936.5,303.2 936.9,303.6 937.3,304 937.7,302.5 938.1,300.9 938.5,299.6" fill="none" stroke="#0072B2" stroke-opacity="0.10" stroke-width="2.2" stroke-linejoin="round"/>
<path d="M152.5,15.5V542.5M278.5,15.5V542.5M404.5,15.5V542.5M530.5,15.5V542.5M657.5,15.5V542.5M783.5,15.5V542.5M909.5,15.5V542.5" stroke="#808080" stroke-opacity="0.2" stroke-width="1.39" fill="none"/>
<path d="M79.5,485.5H985.5M79.5,425.5H985.5M79.5,365.5H985.5M79.5,305.5H985.5M79.5,245.5H985.5M79.5,185.5H985.5M79.5,125.5H985.5M79.5,65.5H985.5" stroke="#808080" stroke-opacity="0.2" stroke-width="1.39" fill="none"/>
<path d="M120.3,360.2h0M120.3,363.7h0M120.6,361.5h0M120.6,366.1h0M120.5,364.1h0M121.7,360h0M120.8,367h0M121.5,370.9h0M121.7,363.4h0M121,366.5h0M120.4,376.4h0M121.2,379.8h0M121.1,366.1h0M120.9,372.7h0M120.8,371.7h0M120.9,379.8h0M122.3,364.8h0M122,363.9h0M121.2,370.8h0M121,377.1h0M122.4,376.7h0M121,363h0M121.6,369.8h0M121.8,368.8h0M122.3,375.3h0M122,362.2h0M121.5,362.3h0M121.8,371.6h0M122.2,374.3h0M121.3,364.5h0M122,368.1h0M121.4,376.6h0M121.6,379.6h0M122.5,371.6h0M122.8,366.3h0M122.8,372h0M122.7,379.6h0M122.2,382.9h0M122.6,375.6h0M122.5,377.7h0M122.8,386h0M123.2,389.8h0M122.2,380.5h0M122.3,383.9h0M123.6,390.7h0M123.2,376.9h0M123,376h0M123,383h0M123.5,390h0M123.5,389.3h0M122.6,373.8h0M123,382h0M123.7,380.9h0M123.4,387.7h0M123.3,373h0M123.1,380.3h0M123.9,387.2h0M123.4,386.8h0M123.8,378.2h0M123.4,382h0M124.3,390h0M124.3,391.2h0M123.7,385h0M123.4,386.5h0M123,379.7h0M123.4,382.4h0M124.6,395.1h0M123.5,380.3h0M124.3,388.4h0M124.4,387.9h0M124,395h0M124.8,380.8h0M124.4,379.8h0M124.8,386.4h0M124.4,393.6h0M124.4,392.7h0M123.8,399.3h0M125.1,386h0M125.4,384.9h0M124.5,391.7h0M124.9,399h0M124.8,397.7h0M125.2,383.1h0M124.8,390.7h0M125,389.7h0M125.4,396.7h0M124.8,382.8h0M125.2,381.7h0M124.9,388.7h0M124.8,396.6h0M124.5,394.8h0M124.8,381h0M125.5,387.7h0M125.2,385.5h0M124.8,393.1h0M125.5,377.6h0M125.2,398.9h0M125.9,382.5h0M126.3,391h0M125.8,389.6h0M125.7,399.1h0M125.5,380.6h0M126.1,379.6h0M125.3,388.2h0M125.8,397.1h0M125.5,395.4h0M125.6,378.1h0M125.5,386.9h0M125.5,385.1h0M126.4,393.4h0M125.2,376.8h0M126,374.4h0M126,382.9h0M126.3,390.5h0M126,387.8h0M126.5,394.8h0M126.1,381.2h0M127,387.9h0M126.8,380.3h0M126,381h0M126.1,373.9h0M126.5,372.4h0M126.3,382.2h0M126.6,374.2h0M127,376.8h0M126.9,383.5h0M127.3,386.5h0M126.8,378.4h0M127.2,380h0M126.7,372.2h0M127.2,374.7h0M125.9,382.1h0M127.1,376.2h0M127.4,378h0M126.8,384.5h0M127.7,372.5h0M127.1,379.5h0M127.4,379.3h0M127.6,370.4h0M128,370.9h0M127.5,378.2h0M128,379.9h0M127.6,372h0M128.8,373.8h0M128.4,364.7h0M128.2,368.3h0M127.6,376.1h0M128.3,377.3h0M127.9,370h0M128.4,371.7h0M128.4,379.4h0M128.5,365.9h0M128.9,373.4h0M128.9,375.1h0M128.6,367.8h0M129.1,368.8h0M128.8,376.7h0M128.7,376.2h0M128,368h0M129,367.5h0M129.5,377h0M128.6,360.4h0M130.3,370.9h0M129.4,362.4h0M129.2,363.8h0M130,371.9h0M129.6,374.1h0M129.7,365.5h0M129.9,367.3h0M129.4,359h0M130.3,359.8h0M129.2,369.3h0M129.7,371.6h0M130.1,362.5h0M129.7,364.5h0M130,373.2h0M130.4,356.6h0M131,358.1h0M130.5,359.9h0M129.6,366.1h0M129.9,371.1h0M130.3,362.1h0M130.3,365.3h0M130.9,356.7h0M129.7,359.6h0M131,368.7h0M131,370.9h0M131.3,361.8h0M130.7,363.8h0M130.8,374.4h0M130.8,355.8h0M131.2,366.1h0M130.8,368.3h0M131.8,358.8h0M131.6,360.3h0M131.4,370.3h0M130.9,373.3h0M130.8,364.2h0M131,368.2h0M131.9,376.1h0M131.5,363.9h0M131.4,372.5h0M131.4,377.2h0M131,367.3h0M130.8,372.7h0M132.1,381.7h0M131.7,385.7h0M132.6,372.9h0M132.2,379.8h0M131.6,379.9h0M131.1,387.3h0M132.4,371.9h0M132.1,371.9h0M132.6,379.5h0M132,388.1h0M132.7,386.3h0M132.4,369.8h0M132.3,378.3h0M132.7,376.9h0M134.8,385h0M132.1,369.2h0M132.2,368.3h0M133.2,376h0M133,383.7h0M132.4,382.5h0M132.6,391.5h0M131.6,375.1h0M132.7,374.5h0M133.1,382.1h0M132.7,389.5h0M132.8,388.8h0M134,384.5h0M133.3,375.7h0M133.4,380.5h0M133.5,393.9h0M132.8,385.1h0M133.4,388.6h0M132.9,395.8h0M133.6,382.3h0M134.6,404.2h0M134.3,388.3h0M133.9,395.7h0M134.6,395.9h0M133.7,405.1h0M134.6,387.4h0M133.3,387h0M134.4,395.7h0M133.9,404.3h0M133.3,385.8h0M134.4,395.1h0M134.8,394.4h0M133.7,401.6h0M133.8,410.2h0M134.3,387.5h0M133.9,382.7h0M134.4,390.9h0M133.7,398.8h0M134.6,406h0M134.2,402.5h0M134.2,409.4h0M134.7,387.1h0M133.7,395.2h0M134.9,393h0M133.5,402.2h0M134.2,410.8h0M135.3,410.7h0M134.3,393.9h0M135,402.2h0M135,402.6h0M134.9,409.8h0M135.2,395.8h0M134.6,397.7h0M135.3,405.8h0M135,408.6h0M134.2,401.3h0M134.7,403.3h0M135.1,394.7h0M134.9,404.1h0M134.9,405.6h0M135.5,397.5h0M135.8,398.8h0M135.1,407.8h0M135.2,409.1h0M136.3,401.2h0M134.1,403.4h0M135,411.1h0M135.9,397.3h0M135.6,405.6h0M135.7,406h0M135.7,399.4h0M135.8,406.8h0M136.3,408h0M136,401.6h0M136.2,403.7h0M135.7,396.4h0M136.4,397.3h0M136.7,405.3h0M136.3,406.9h0M136.1,399.8h0M136.7,401.5h0M137,408.6h0M137.8,395.1h0M136.8,403.4h0M137.3,399.1h0M136.9,401.9h0M137.4,407h0M137.9,408.8h0M137,405.2h0M138.1,401.5h0M137.7,407.4h0M137.8,404.1h0M137.6,410.7h0M137.8,405.7h0M138,402h0M138.2,405.7h0M138.2,403.4h0M138.2,401.3h0M138.5,404.8h0M138.4,403.4h0M138.5,406.2h0M138.6,404.6h0M138.7,403h0M139.1,405.2h0M139.1,403.4h0M139.3,402.1h0M139.5,404.2h0M139.8,402.6h0M139.5,404.7h0M139.9,403.4h0M140,402.2h0M140.2,405h0M140.1,403.6h0M140.4,408.2h0M141.1,406.4h0M142.1,403.2h0M139.7,409.9h0M141,406.6h0M140.7,412.5h0M141.5,402.5h0M140.9,408.6h0M140.8,411h0M140.7,404.9h0M139.3,407.2h0M141.6,413.8h0M140.6,417.4h0M141.5,409.2h0M140.9,412.1h0M141.4,404.6h0M141.7,407.3h0M141.6,414.7h0M141.1,418.1h0M141.9,409.9h0M141.6,412.7h0M141.5,421.8h0M142.2,406.7h0M141.5,416.1h0M141.4,419.4h0M142.9,411h0M142.4,413.1h0M141.9,422.4h0M141.3,425.3h0M141.9,416.5h0M142.2,419.9h0M141.4,428.3h0M142.9,414.3h0M142,423.6h0M142.6,426.3h0M142.4,417.7h0M141.6,420.5h0M142.2,429.6h0M142.6,432.2h0M142.6,424.1h0M142.6,427.2h0M142.3,419.1h0M143.1,422.1h0M142.7,430.1h0M142.2,432.7h0M144.1,425.1h0M143.5,428.1h0M143,435.3h0M143.5,423.5h0M143.5,430.9h0M143.6,433.5h0M143.2,427h0M143.8,428.9h0M143.6,436h0M143.2,438.6h0M143.9,431.7h0M143.6,434.4h0M143.6,431.1h0M143.1,436.8h0M144.2,438.8h0M145.1,433.3h0M144.6,435.2h0M144,440.8h0M144.7,443.3h0M144.7,437.3h0M144,439.4h0M144.4,434h0M143.6,435.4h0M144.2,442.7h0M145.1,440h0M145.9,436.3h0M145.2,443.5h0M145.4,440.8h0M145.7,446.6h0M146.1,444.3h0M145.4,441.5h0M145.7,447.7h0M146.7,444.7h0M145.8,442.3h0M146.8,448.1h0M147,445.1h0M145.8,451.4h0M146.4,448.5h0M146.2,445.8h0M147.4,451.7h0M147,448.6h0M147.8,454.8h0M146.9,452.1h0M146.7,449.2h0M147,454.8h0M147.3,452.3h0M147.3,449.8h0M147.7,455.2h0M148,453.1h0M148,457.6h0M148.1,455.6h0M148.2,457.9h0M148.3,456.2h0M148.5,454.4h0M148.8,458.3h0M149,456.5h0M149.1,459.9h0M148.9,456.1h0M149.1,460.8h0M149.3,458.8h0M149.5,462.3h0M149.6,460.9h0M149.5,459.1h0M149.9,462.5h0M149.9,460.7h0M150.1,459.7h0M150.2,461.2h0M150.3,465.2h0M150.5,462.8h0M150.7,461.4h0M150.6,464.3h0M150.9,463.1h0M150.9,465.8h0M151.2,464.8h0M151.4,462.6h0M151.4,466h0M151.4,464.8h0M151.9,466.5h0M152,466.9h0M151.8,466h0M152.1,464.3h0M152.3,467.3h0M152.5,466.3h0M152.5,464.1h0M152.7,467.4h0M152.9,465.7h0M153,467.8h0M153,467.1h0M153.3,466.7h0M153.4,468h0M153.6,468.5h0M153.8,467.3h0M154,466h0M153.9,468.5h0M154.1,466.5h0M154.1,464.6h0M154.2,467.2h0M154.4,465.8h0M154.3,467.9h0M154.6,466.2h0M155,465h0M154.8,466.6h0M155,465.4h0M155,468.1h0M155.4,466h0M155.5,465.2h0M155.4,467h0M155.7,464.8h0M155.8,466.8h0M156.1,465.7h0M156.2,469.1h0M156.3,467h0M156.4,465.8h0M156.7,468.9h0M156.6,465h0M156.8,468.4h0M157.1,467.1h0M157,469.4h0M157,468.4h0M157.4,466.5h0M157.4,469.5h0M157.6,468.4h0M157.6,470.5h0M157.7,469.3h0M158.1,467.6h0M158.1,470.7h0M158.1,468.2h0M158.4,465.1h0M158.5,468.9h0M158.6,466.8h0M158.6,469.8h0M158.7,467.5h0M158.8,464.6h0M159,468.5h0M159.3,465.1h0M159.1,462.5h0M159.4,466.3h0M159.5,463.9h0M159.5,466.8h0M159.6,464.7h0M159.6,462.1h0M160.1,465.3h0M160.2,463.9h0M160.2,466.9h0M160.3,465.5h0M160.7,467.6h0M160.8,465.4h0M161.2,461.7h0M160.9,467.9h0M160.7,470.4h0M161.1,468.2h0M161.4,465.9h0M161.6,469.9h0M161.6,468.1h0M161.7,471.4h0M162.1,469.6h0M162.1,468.2h0M162,470.6h0M162.2,469h0M162.3,466.6h0M162.3,469.8h0M162.8,470.9h0M162.9,468.4h0M163,465.3h0M163.1,469h0M163.3,466.1h0M163.5,463.8h0M163.3,467.1h0M163.5,464.8h0M163.5,467.4h0M163.8,465.7h0M164,463.9h0M164,466.6h0M164.2,464.9h0M164.4,468.3h0M164.5,466.2h0M164.5,464.2h0M164.7,467.8h0M164.8,466.2h0M165,464.4h0M165,466.3h0M165.4,470.9h0M165.2,468h0M165.5,466.7h0M165.8,469.4h0M165.9,468.1h0M165.9,470.7h0M165.9,469.3h0M166.2,467.4h0M166.2,469.8h0M166.5,468.5h0M166.5,466.9h0M166.8,469.3h0M166.7,467.5h0M167,469.8h0M166.8,467.9h0M167.2,465.6h0M167.3,468.6h0M167.2,466.4h0M167.5,464.5h0M167.5,467.1h0M167.8,465.6h0M168,467.2h0M168,466.1h0M168,464.9h0M168.3,466.2h0M168.2,465.4h0M168.4,465.7h0M168.8,464.8h0M168.9,466.4h0M168.8,465.7h0M168.7,465.2h0M169.3,467.3h0M169.5,466.3h0M169.6,465h0M169.9,467.2h0M169.9,466h0M170.1,466.4h0M170.3,467.4h0M170.5,466.9h0M170.6,466.4h0M170.7,467.3h0M170.8,467h0M171,467.6h0M171.1,467.3h0M171.2,466.3h0M171.3,468.3h0M171.7,467.3h0M171.6,466h0M171.8,467.6h0M171.8,467h0M172.2,467.2h0M172.2,466.2h0M172.4,467.6h0M172.7,467h0M172.4,467.9h0M172.7,466.9h0M172.9,468.2h0M173.1,465.4h0M173.5,467.6h0M173.5,466.7h0M173.7,466.6h0M174.2,467.3h0M173.9,466.6h0M174.2,465.2h0M174.2,466.8h0M174.3,466.2h0M174.5,465.7h0M175,466.5h0M175,467.4h0M175.2,466.6h0M175.4,466.3h0M175.3,466.4h0M175.8,466h0M175.7,466.6h0M176,467h0M176.1,466.6h0M176.5,465.8h0M176.5,467.6h0M176.6,466.3h0M176.7,466.2h0M177.1,466.9h0M176.9,466.3h0M176.9,467.7h0M177.5,467.5h0M177.3,466.5h0M177.8,466.9h0M177.9,466.3h0M178,467.2h0M178.1,466.1h0M178.4,467.1h0M178.6,466.5h0M178.4,468.5h0M178.5,466.9h0M178.7,466.7h0M178.9,467.1h0M179.3,467.3h0M179.3,466.3h0M179.6,467.1h0M179.8,466.9h0M179.9,466.4h0M180.3,468.2h0M180.3,467.1h0M180.3,466.4h0M180.7,466.9h0M180.7,466.2h0M180.9,467.2h0M181,466.7h0M181.1,467.3h0M181.4,466.8h0M181.5,467.1h0M181.6,467.8h0M182,466.8h0M182.1,468h0M181.9,467.2h0M182.3,467h0M182.4,467.4h0M182.6,467.2h0M182.5,467.8h0M183,467.3h0M182.9,467h0M183.1,467.6h0M183.3,467.8h0M183.6,467.8h0M183.5,467h0M183.7,467.6h0M184,467.4h0M184,466.2h0M183.8,467.5h0M184.3,468h0M184.4,467.6h0M184.4,467.2h0M184.5,468.6h0M184.6,467.4h0M185,467.6h0M185.3,468.1h0M185.5,467.5h0M185.4,466.8h0M185.8,467h0M185.9,468.5h0M186,466.6h0M186.2,468.6h0M186.4,467.4h0M186.5,468h0M186.8,467.4h0M186.8,467.7h0M187.2,467.9h0M187.2,467.3h0M187.4,466.2h0M187.5,468h0M187.6,467.2h0M187.8,467.7h0M187.8,467.1h0M188.3,467.9h0M188.4,467.5h0M188.5,467.2h0M188.7,467.8h0M188.8,467.4h0M189,467.1h0M189,467.5h0M189.2,467.3h0M189.2,468h0M189.6,467.3h0M189.6,467.6h0M189.9,467.3h0M189.8,469.4h0M190,467.6h0M190.2,467.7h0M190.5,467.3h0M190.8,467.6h0M190.8,467.1h0M191.5,467.6h0M191.2,467.1h0M191.5,466.7h0M191.8,467.3h0M192,466.2h0M192,467.1h0M192.2,466.8h0M192.4,467.4h0M192.4,466.5h0M192.7,467.4h0M192.6,466.8h0M193,468.2h0M193.3,466.8h0M193.1,466.3h0M193.4,467.8h0M193.5,466.8h0M193.8,466.4h0M193.9,466.6h0M194.1,465h0M194.1,466.9h0M194.4,466.2h0M194.5,467.1h0M194.5,466.6h0M194.9,466.7h0M194.9,466.3h0M195.2,466h0M195.4,467h0M195.6,466.4h0M195.6,465.8h0M196,467.5h0M196.3,466.3h0M196.2,464.9h0M196,466.6h0M196.7,465.7h0M196.6,466.3h0M197.1,466h0M197,466.4h0M197.2,465.8h0M197.5,466.2h0M197.9,465.7h0M197.9,467h0M198,465.9h0M198,465h0M198.3,466.2h0M198.3,465.8h0M198.7,466.8h0M198.6,465.1h0M198.9,466h0M199.1,466.1h0M199.3,465.3h0M199.4,466.1h0M199.6,465.6h0M199.6,464.9h0M199.9,466.2h0M200,465.4h0M200.1,466.4h0M200.4,465.9h0M200.4,465.4h0M200.5,466.3h0M200.5,465.7h0M200.8,466.9h0M200.9,466.2h0M200.8,465.4h0M201.1,466.8h0M201.1,466.2h0M201.3,465.5h0M201.5,466.4h0M201.6,467.9h0M201.9,466.8h0M202.1,466.1h0M202.2,467.5h0M202.4,466.1h0M202.6,467.6h0M202.6,466.7h0M202.6,467.9h0M202.6,467.4h0M203,467.1h0M203,468.1h0M203.1,467.3h0M203.1,470h0M203.3,468h0M203.4,467.3h0M203.5,469.1h0M203.6,468h0M203.9,467.4h0M204.1,468.5h0M204.1,470.5h0M204.4,468.6h0M204.3,467.8h0M204.5,469.4h0M204.8,468.7h0M204.7,468.2h0M205,469.6h0M205.3,470.4h0M205.3,469.3h0M205.4,468.7h0M205.6,470.6h0M205.7,468.8h0M205.9,472h0M206.1,470.1h0M205.9,469.3h0M206.1,471h0M206.3,470.2h0M206.3,469.6h0M206.6,471h0M206.6,470.2h0M206.8,471.9h0M207,471.1h0M206.9,470.5h0M207.1,471.8h0M207.1,471.2h0M207.3,472.5h0M207.6,471.9h0M207.6,470.5h0M208,473h0M207.9,470.4h0M208.1,472.9h0M208,472h0M208.5,473.6h0M208.5,472.9h0M208.7,472.1h0M208.6,473.6h0M208.8,472.9h0M208.8,472.5h0M209.2,473.8h0M209.1,472.7h0M209.4,475.5h0M209.5,473.8h0M209.4,472.5h0M209.7,474.9h0M209.8,473.8h0M209.8,474.6h0M210.2,473.8h0M210.1,475.9h0M210.4,474.4h0M210.5,473.6h0M210.7,475h0M210.8,474.5h0M211.2,474.9h0M211.4,474.4h0M211.2,475.1h0M211.5,475.6h0M211.8,474.8h0M211.8,475.8h0M211.9,475.2h0M212.1,474.6h0M212.2,475.5h0M212.5,474.8h0M212.4,475.8h0M212.6,475.6h0M212.7,475.2h0M212.9,475.7h0M213,474.9h0M213.1,476h0M213.4,475.4h0M213.3,476.4h0M213.4,475.8h0M213.8,476.2h0M214.1,475.6h0M213.9,476.7h0M214.1,475.9h0M214.4,476.4h0M214.3,475.8h0M214.6,475h0M214.8,476.1h0M214.8,475h0M214.7,476.4h0M215.1,475.7h0M215.3,475.2h0M215.3,475.8h0M215.4,475.3h0M215.5,474.8h0M215.6,475.8h0M215.9,475.3h0M215.8,475.7h0M216.4,474.9h0M216.5,475.7h0M216.5,475.1h0M216.6,475.4h0M216.6,474.3h0M217.1,475.5h0M217,475.2h0M217.3,474.7h0M217.5,475.8h0M217.6,475.1h0M217.6,474.8h0M217.9,475.3h0M217.8,474.8h0M218.1,476.3h0M218.3,475.1h0M218.4,474.4h0M218.6,475.2h0M218.4,474.8h0M218.6,473.5h0M218.8,474.9h0M219.1,476.5h0M219.2,474.7h0M219.2,474.4h0M219.6,474.4h0M219.7,474.1h0M220,474.6h0M220,473.9h0M220.2,474.3h0M220.3,473.3h0M220.3,474.7h0M220.7,473.6h0M220.7,474.2h0M220.9,472.8h0M221,474.3h0M221.3,473.1h0M221.5,474.1h0M221.5,473.3h0M221.6,474.4h0M221.6,473.4h0M221.9,472.3h0M222,473.5h0M222.3,472.9h0M222.3,470.8h0M222.6,473.4h0M222.5,471.8h0M223.1,473.1h0M223.3,472.3h0M223.6,471.5h0M223.4,472.7h0M223.8,472h0M224,472.3h0M223.9,471.6h0M224.1,472.7h0M224.3,471.8h0M224.4,470.8h0M224.6,471.9h0M224.8,471.4h0M224.7,472.7h0M224.7,470.1h0M225.1,471.8h0M225.1,471.1h0M225.3,470.6h0M225.6,471.3h0M225.5,470.6h0M225.7,472.4h0M225.9,470.9h0M225.9,469.6h0M226.1,471.3h0M226.3,470.3h0M226.3,469.7h0M226.6,470.7h0M226.7,469.9h0M226.9,470.3h0M227.2,469.5h0M227.4,471.4h0M227.5,469.7h0M227.3,468.8h0M227.6,470.8h0M227.7,469.2h0M228,467.4h0M228.3,469.6h0M228.2,468.5h0M228.2,470.9h0M228.2,468.9h0M228.6,468h0M228.7,469.4h0M228.9,468.3h0M229.2,467.3h0M229.3,468.8h0M229.4,468h0M229.7,467.2h0M229.5,468.4h0M229.9,467.5h0M229.8,468.3h0M230.1,466.7h0M230.3,468h0M230.4,467.1h0M230.7,466.6h0M230.8,467.4h0M230.5,466.7h0M231.1,467.9h0M230.8,466.8h0M230.8,466.1h0M231.2,467.8h0M231.3,465.9h0M231.5,467.6h0M231.5,466.9h0M231.7,465.7h0M231.9,467.1h0M232,466.2h0M232,465.3h0M232,466.3h0M232.4,466.9h0M232.5,466.1h0M232.5,464.6h0M232.6,466.4h0M233.1,465.5h0M233.3,466h0M233.2,467.3h0M233.4,465.9h0M233.4,465.4h0M233.8,466.1h0M234.1,465.3h0M234,467.4h0M234.3,465.8h0M234.4,465.6h0M234.3,465.4h0M234.8,466.3h0M234.9,465.8h0M234.9,466.2h0M235,465.8h0M235.2,465.6h0M235.4,465.9h0M235.7,465.6h0M235.9,466.1h0M236.1,465.7h0M236.3,465.4h0M236.5,466.3h0M236.6,465.8h0M237,465.9h0M237.2,465.6h0M237.4,465.7h0M237.3,467.1h0M237.7,464.3h0M237.8,465.9h0M238,465.1h0M238.3,467.1h0M238.1,465.7h0M238.4,465.1h0M238.3,466h0M238.4,465.5h0M238.7,464.9h0M238.7,465.8h0M238.9,465.4h0M239.1,466h0M239.1,465.6h0M239,466.5h0M239.1,465.3h0M239.6,466.2h0M239.7,465.6h0M239.9,465.1h0M240.1,465.9h0M240.2,465.4h0M240.4,464.6h0M240.3,465.6h0M240.5,466h0M240.6,465.3h0M240.9,464.9h0M240.9,465.7h0M241,465.1h0M241.1,464.7h0M241.3,465.6h0M241.6,465.6h0M241.4,465h0M241.9,463.4h0M241.9,465.8h0M242.2,464.5h0M242.1,465.3h0M242.3,464.9h0M242.5,464.5h0M242.6,465h0M242.8,464.5h0M242.7,464.1h0M243,464.8h0M243.2,464.2h0M243,465.1h0M243.3,464.7h0M243.3,463.3h0M243.5,464.6h0M243.6,464.1h0M243.9,462.9h0M243.9,464.9h0M244,463.8h0M244.4,465h0M244.3,464.2h0M244.2,463.6h0M244.4,464.2h0M244.6,463.9h0M244.7,464.4h0M245,463.6h0M244.8,464.8h0M245.4,463.7h0M245.2,461.6h0M245.6,463.9h0M245.3,463.1h0M245.6,464.8h0M245.5,463.4h0M246.1,462.5h0M245.9,463.8h0M246,462.8h0M246.3,463.6h0M246.3,463.1h0M246.5,462.2h0M246.6,463.1h0M247,462.5h0M247.1,461.6h0M246.8,462.8h0M247.2,462.9h0M247.4,462.2h0M247.6,461.6h0M247.7,462.5h0M247.7,461.1h0M248.1,461.9h0M248.1,461h0M248.1,463.2h0M248.5,461.3h0M248.2,460.7h0M248.9,461.5h0M248.7,460.8h0M248.6,462.2h0M248.8,461.1h0M249.1,460.4h0M249.4,461.2h0M249.5,460.6h0M249.4,458.6h0M249.5,460.7h0M249.7,460h0M249.8,461.1h0M250.1,459.8h0M250.1,460.7h0M250.5,459.9h0M250.4,459.7h0M250.7,459.6h0M250.7,460.1h0M251,459.2h0M251.1,459.9h0M251.5,459.7h0M251.4,461.4h0M251.6,459.8h0M252,459.1h0M252.2,459.7h0M252.2,458.7h0M252.4,459.9h0M252.5,459.6h0M252.3,458.9h0M252.7,459.7h0M253.1,460.1h0M253.1,459.6h0M253.2,459.3h0M253.4,458.9h0M253.6,459.6h0M253.8,459.1h0M253.9,460.5h0M254,459.4h0M254.2,458.8h0M254.2,460.1h0M254.2,458.9h0M254.7,458.6h0M254.6,459.5h0M255.1,458.2h0M255,459.4h0M255,459.2h0M255.3,459h0M255.3,459.6h0M255.5,460.8h0M255.6,459.2h0M255.5,458.9h0M256,459.3h0M255.9,458.9h0M256.1,458.4h0M256.3,459.1h0M256.3,458.8h0M256.5,460.4h0M256.6,457.9h0M256.8,459.1h0M256.8,458.7h0M257.1,458.9h0M257.5,458.7h0M257.4,459.2h0M257.6,457.5h0M257.8,459.2h0M257.8,458.2h0M258.1,458.5h0M258.3,457.3h0M258.4,458.8h0M258.4,458.2h0M258.9,457.4h0M258.7,457h0M259,458.8h0M258.9,457.9h0M259,456h0M259.3,458.3h0M259.4,457.5h0M259.8,458.7h0M259.6,457.2h0M259.9,458.8h0M260,457.2h0M260.1,456.3h0M260.4,456.8h0M260.6,458.5h0M260.6,457h0M260.9,456.2h0M261.1,457.4h0M261.1,455.8h0M261.3,457.1h0M261.3,455.2h0M261.7,457h0M261.6,456.2h0M261.6,455.7h0M261.9,457h0M261.9,455.8h0M261.9,457.9h0M262.4,456h0M262.3,455.2h0M262.2,456.3h0M262.6,455.5h0M262.7,455h0M262.9,455.7h0M262.9,454.5h0M263,455.9h0M263.2,455.3h0M263.5,454.8h0M263.3,456.1h0M263.7,455.8h0M263.9,455h0M263.8,454.4h0M263.9,455.5h0M264.3,454.4h0M264.4,453.4h0M264.5,454.7h0M264.8,454.7h0M264.7,454.4h0M265,453.9h0M265.2,454.6h0M265.7,453.3h0M265.3,454.3h0M265.6,453.9h0M265.5,454.7h0M265.9,454.1h0M265.7,453.8h0M265.9,454.5h0M266.3,455h0M266.3,454.5h0M266.2,454h0M266.8,452.8h0M267.1,454.6h0M267,453.8h0M267,454.6h0M267.4,454.4h0M267.6,454h0M268,454.2h0M267.9,454.6h0M268.1,454h0M268.2,455h0M268.3,454.4h0M268.5,454.9h0M268.7,454.3h0M269,454.9h0M268.9,454h0M269.2,454.7h0M269.4,454.4h0M269.4,454h0M269.6,455.1h0M269.5,453.9h0M269.9,455h0M269.8,454.7h0M270,454.2h0M270,455.2h0M270.3,454.7h0M270.4,455.1h0M270.3,454.4h0M270.9,455.6h0M270.9,454.6h0M270.8,454.1h0M270.9,455.2h0M271.4,455.2h0M271.4,454.9h0M271.4,454.4h0M271.6,455.3h0M272,454.8h0M271.9,454.3h0M271.8,455h0M272.2,454.3h0M272.1,455.2h0M272.3,454.9h0M272.7,455h0M272.7,454.8h0M273.1,455.2h0M273.1,454.9h0M273.2,454.3h0M273.4,452.8h0M273.8,455.4h0M273.7,454.5h0M273.7,455.2h0M273.9,454.7h0M274.4,454h0M274.4,454.3h0M274.5,455.4h0M274.7,454.7h0M274.6,454h0M274.9,455.7h0M274.7,454.3h0M275,453.8h0M275.1,454.5h0M275.4,454.2h0M275.3,454.6h0M275.4,453.9h0M275.7,454.4h0M276,454.2h0M275.8,452.9h0M276.3,454.5h0M276.3,454h0M276.4,454.6h0M276.4,453.5h0M276.7,454.2h0M276.8,453.8h0M277,454.1h0M277.2,453.7h0M277.2,455.1h0M277.5,453.7h0M277.9,453.7h0M277.8,454.2h0M278.1,454.3h0M278.2,453.3h0M278.5,454.5h0M278.5,453.7h0M278.5,453h0M278.8,454.2h0M278.8,453.5h0M279,453.9h0M279,453.7h0M279.1,453.1h0M279.7,454.4h0M279.6,453.6h0M280.1,453.3h0M279.7,453.9h0M280.2,452.8h0M280.5,453.8h0M280.4,453.3h0M280.7,453.4h0M280.9,452.1h0M280.8,453.3h0M281.2,455.2h0M281.2,453.4h0M281.4,452.2h0M281.7,453.6h0M281.5,453.2h0M281.8,452.8h0M282,453.8h0M282,452.6h0M282.3,453.2h0M282.4,452.5h0M282.7,452.7h0M282.8,453.1h0M283,452.8h0M283.1,453.3h0M283.1,451.4h0M283.4,452.9h0M283.6,453.7h0M283.8,452.5h0M284.1,454.2h0M284.1,452.7h0M284.4,453.1h0M284.5,452.6h0M284.8,453.4h0M284.5,452.9h0M284.7,452.3h0M285,452.5h0M285.2,453.7h0M285.4,453.2h0M285.4,452.7h0M285.5,454.2h0M285.8,452.9h0M285.7,452.2h0M286,453.4h0M286.2,453.6h0M286.4,453.2h0M286.4,452.7h0M286.7,454.4h0M286.8,453h0M286.6,451.7h0M287,453.4h0M287.1,453.2h0M287,454.5h0M287.3,453.4h0M287.6,454h0M287.5,453.4h0M287.9,453.7h0M287.8,453.4h0M288.1,455.2h0M288.4,453.7h0M288.4,453h0M288.4,454h0M288.6,453.8h0M288.8,455.2h0M289.1,454.1h0M289.1,454.5h0M289.2,453.7h0M289.3,451.9h0M289.5,453.7h0M289.8,455.3h0M289.8,454.2h0M290,453.7h0M290.1,454.6h0M290.1,454.3h0M290.3,454.9h0M290.2,454.6h0M290.5,453.2h0M290.8,455h0M290.7,454.5h0M290.9,453.1h0M291,455h0M291.1,454.5h0M291.3,456.2h0M291.5,454.8h0M291.5,454.2h0M291.8,455.2h0M291.8,455.8h0M292.3,454.4h0M292.4,455.2h0M292.5,454.7h0M292.6,454.2h0M292.8,455.5h0M292.9,454.6h0M293.2,453.9h0M293.3,454.9h0M293.5,453.5h0M293.5,454.2h0M293.6,453h0M293.6,454.8h0M293.8,453.9h0M294.3,453h0M294.2,453.3h0M294.3,454.5h0M294.3,453.9h0M294.6,452.5h0M295,453.2h0M294.9,451.3h0M295.2,453.7h0M295.1,452.3h0M295.3,453.9h0M295.6,453h0M295.6,452.6h0M295.8,453.2h0M295.8,452.5h0M295.7,450.3h0M296,452.8h0M296.3,452h0M296.8,451h0M296.8,452.5h0M297,451.6h0M297.2,452.6h0M297.1,451.8h0M297.1,450.3h0M297.2,452.3h0M297.7,450.9h0M297.5,449.9h0M297.9,451.6h0M297.8,452.4h0M298.2,450.6h0M298.2,449.4h0M298.5,451.1h0M298.7,450.1h0M298.8,448.4h0M299,450.4h0M298.9,449.2h0M299,447.7h0M299.2,449.5h0M299.3,448.3h0M299.7,448.6h0M299.9,446.8h0M299.8,449.4h0M300,447.3h0M300,445.9h0M300.1,448.2h0M300.5,448.3h0M300.6,446.6h0M300.7,444.8h0M300.7,446.9h0M301,445.2h0M301.1,447.7h0M301.1,445.7h0M301.4,443.8h0M301.4,446.1h0M301.5,444.2h0M301.6,442.4h0M301.6,444.7h0M302.1,446.5h0M302.1,443.1h0M302.3,441.2h0M302.4,443.7h0M302.5,441.5h0M302.5,444h0M302.6,441.9h0M302.6,439.4h0M303.1,442.3h0M303.2,439.9h0M303.3,436.5h0M303.3,440.7h0M303.4,438.5h0M303.5,442h0M303.8,439.3h0M303.7,437.4h0M303.9,439.7h0M304.1,438.1h0M304.1,436.5h0M304.4,439h0M304.4,437.1h0M304.7,439.7h0M304.7,438.1h0M304.9,435.5h0M305,439.5h0M305.6,440.1h0M305,436.8h0M305.3,432.9h0M305.2,439.4h0M305.6,435.6h0M305.3,432.4h0M305.9,437h0M306.7,433.6h0M306.3,437.9h0M306.2,434.7h0M306.3,432.2h0M306.4,436.3h0M306.7,433.8h0M306.6,431.7h0M306.9,434.7h0M307.2,431.1h0M306.1,436.1h0M307.2,431.8h0M307.5,436.8h0M307.2,427.9h0M307.9,433h0M307.4,434.5h0M308,428.6h0M307.1,430.1h0M307.9,436.3h0M308.2,437h0M308.2,432.8h0M308.1,427.6h0M308.4,428.4h0M308.1,429.4h0M308.2,427.1h0M308.4,431h0M308.6,428.3h0M308.3,432.9h0M308.7,429.2h0M308.6,424.5h0M308.6,429.5h0M309.3,431.3h0M309,425.6h0M308.3,427h0M309.3,432.4h0M309.3,432.9h0M309.9,428.1h0M309.5,429.3h0M310.1,423.9h0M309.8,425.6h0M309.6,430.8h0M309.2,431.7h0M309.2,426.7h0M308.9,427.8h0M310,433.7h0M309.7,422.9h0M310.3,430.4h0M310.5,425.3h0M310.4,426.4h0M309.6,433.1h0M310.6,435.2h0M310.8,428.7h0M310.2,430.8h0M310.2,423.9h0M310.3,425.9h0M311.6,433.2h0M310.4,436.3h0M310.2,428.2h0M310.5,437.4h0M311,426.7h0M310.7,432.7h0M311.3,434.4h0M311.2,431h0M311,438h0M311.8,433.9h0M311.3,429.3h0M311.6,435.9h0M311.6,432.5h0M311.4,438.4h0M311,434.7h0M311.3,431.5h0M312.2,432.6h0M312.4,429.6h0M312.5,434.2h0M312.5,431.6h0M312.8,436.1h0M313,433.5h0M314.2,429.1h0M313.4,434.6h0M312.5,431h0M313.1,428h0M314.9,429.1h0M313.7,431.5h0M314.1,426.9h0M313.9,432.6h0M314.3,430.1h0M314.4,434.9h0M314.4,432h0M314.7,433.8h0M316.4,431.1h0M314.4,427.1h0M314.9,432.1h0M315.4,427.5h0M315.3,433.1h0M314.7,434.8h0M315.4,428.5h0M315.8,430.1h0M315.6,424.6h0M316,425.6h0M315.4,431.6h0M315.8,433.3h0M315.5,426.6h0M316.2,428.2h0M315.2,434h0M316.9,433.6h0M315.9,429.6h0M316.7,426.3h0M316.5,427.5h0M316.5,424.7h0M316.5,429.2h0M317,426.8h0M316.9,430.6h0M317.5,427.5h0M317.1,422.6h0M316.9,430h0M316.8,423.3h0M317.5,425.3h0M317.6,430.6h0M317.4,421.4h0M317.2,426.4h0M317.1,428h0M317.8,422.6h0M317.6,423.9h0M317.5,428.7h0M317.2,430.3h0M318.2,425.4h0M318.8,422.2h0M318.3,426.5h0M318.2,423.8h0M318.5,429.5h0M318.9,426.4h0M319,422.2h0M319.3,429.6h0M319.8,424.3h0M319.5,426.4h0M319.7,423.7h0M319.7,430h0M319.3,427.1h0M319.5,432.5h0M319.9,429.9h0M319.6,428.1h0M319.7,429.1h0M319.7,433.1h0M320.3,432.3h0M320.4,428.7h0M320.5,425.4h0M320.5,430.7h0M320.4,427.3h0M320.9,431.3h0M320.9,428h0M321.3,425.7h0M321.4,430h0M321.4,427.5h0M321.4,424.5h0M321.6,428.9h0M321.7,426.4h0M322.1,431.7h0M322.1,428.9h0M322.1,426.5h0M322.2,430.2h0M322.7,428.1h0M322.6,431.4h0M322.7,429.2h0M322.8,426.2h0M322.8,430.8h0M323.1,427.7h0M323,425.6h0M323.1,428.3h0M323.3,426.9h0M323.4,431.2h0M323.7,428.7h0M323.9,426.3h0M324.6,431.9h0M324.2,428.7h0M323.9,425.5h0M324.6,431.3h0M324.7,428.1h0M324.6,434.2h0M324.3,430.7h0M324.9,428.5h0M324.9,433.1h0M324.8,431.1h0M325,435.7h0M325.4,432.6h0M325.5,430.9h0M325.3,433.2h0M325.6,431.3h0M325.6,428.5h0M325.9,432.2h0M326,430h0M326,433.1h0M326.2,430.9h0M326.2,429.1h0M326.3,432.3h0M326.5,430.3h0M326.5,433.7h0M326.8,430h0M326.7,435.1h0M327.4,432h0M327.6,428.9h0M327.5,434.6h0M327.8,436.1h0M327.7,433.8h0M328,432.3h0M328,435.6h0M328.3,433.7h0M328.5,431.9h0M328.4,435.1h0M328.4,433.4h0M328.6,435.8h0M328.7,434h0M328.8,431.9h0M329,434.9h0M329.1,432.3h0M329.1,434.8h0M329.6,433.2h0M329.6,430.4h0M329.6,433.6h0M329.8,432.1h0M329.8,430.8h0M330,433.5h0M329.9,432h0M330.3,435.8h0M330.2,433.8h0M330.4,431.2h0M330.7,435.8h0M329.9,439.4h0M329.9,435.7h0M331,432.7h0M331.1,437.6h0M331.1,435.5h0M331.3,432.7h0M331.6,437.2h0M331.5,435.9h0M331.8,437.9h0M332.1,436.4h0M331.9,434.5h0M332.1,437.2h0M332.1,434.9h0M332.5,432.6h0M332.5,436.2h0M332.3,433.9h0M332.5,436.2h0M332.8,434.6h0M332.8,431.9h0M332.9,435.4h0M333.3,434.2h0M333.4,437.1h0M333.4,435.6h0M333.6,433.6h0M333.7,437.2h0M333.9,435.5h0M333.8,433.8h0M334.2,437.9h0M334.2,435.5h0M334.3,441.3h0M334.6,437.8h0M334.5,436h0M334.5,439.5h0M334.7,436.4h0M335.1,439h0M334.9,437.2h0M335.3,439.6h0M335.5,437.5h0M335.6,434h0M335.8,438.6h0M335.4,435.8h0M335.7,439.7h0M335.9,436.7h0M335.8,433.2h0M336,437.2h0M336.2,434.4h0M336.5,431.1h0M336.6,435.2h0M336.9,432.9h0M336.7,435.7h0M337.1,433.8h0M337,430.9h0M337,435.1h0M337.5,433.1h0M337.3,436.2h0M337.7,434.8h0M337.8,432.9h0M337.9,436.4h0M338.1,434.5h0M338,432.6h0M338.1,434.9h0M338.4,438.3h0M338.6,436.5h0M338.4,434.8h0M338.7,438.1h0M338.8,435.8h0M339,433.8h0M339.1,436.7h0M339.4,434h0M339.3,438.2h0M339.5,435h0M339.3,432.1h0M339.8,436.4h0M339.7,433.1h0M340.3,437.6h0M340.1,434.4h0M340,431.8h0M340.3,434.7h0M340.4,432.5h0M340.5,431.2h0M341,434.2h0M340.8,432.5h0M341,436.9h0M341.3,434.4h0M341.7,431.5h0M341.6,436.4h0M341.2,434.1h0M341.6,436.1h0M341.7,433.4h0M341.8,437.8h0M342.1,436h0M342,435h0M342.2,435.8h0M342.6,438.9h0M342.6,436.7h0M342.8,433.7h0M342.9,437.1h0M342.9,435h0M343.2,433.1h0M343.4,435.9h0M343.5,433.6h0M343.4,436.3h0M343.8,434.4h0M343.7,432.1h0M343.9,435.8h0M344,433.9h0M343.9,436.3h0M344.4,435.4h0M344.5,433.7h0M344.6,437.2h0M344.9,435h0M344.5,432.7h0M344.9,437h0M345,435h0M345.1,439.5h0M345.2,437.5h0M345.2,435.4h0M345.6,439.3h0M345.6,437.2h0M345.8,436.2h0M345.8,439h0M345.8,437.6h0M345.8,439.9h0M346.3,438.1h0M346.4,439.7h0M346.5,438.3h0M346.8,440.6h0M346.8,439.2h0M346.7,437.8h0M347.3,438.1h0M347.4,436.8h0M347.3,438.5h0M347.6,437.3h0M347.6,438.8h0M347.9,437.9h0M347.9,437.1h0M347.9,439h0M348.2,440.5h0M348.4,439h0M348.4,437.8h0M348.4,441.7h0M348.9,436.8h0M348.9,441.4h0M349.1,439.1h0M349.2,444h0M349.2,441.1h0M349.4,443.1h0M349.6,441h0M349.8,439.6h0M350,442.1h0M350,441.1h0M350.2,442.8h0M350.3,442.2h0M350.5,439.9h0M350.6,442.9h0M350.6,441.4h0M350.7,443.5h0M350.9,441.9h0M351,440.4h0M351.1,442.3h0M351.3,441h0M351.5,439.1h0M351.4,441.5h0M351.5,440.3h0M351.7,441.5h0M351.6,440.8h0M351.8,440h0M352,442h0M352.2,440.5h0M352.3,439.9h0M352.3,442.3h0M352.7,443.6h0M352.9,441.9h0M352.8,439.6h0M352.9,444.3h0M353.2,441.7h0M353.3,444.9h0M353.6,443.8h0M353.4,442.1h0M353.6,444.5h0M353.9,442.2h0M354,444.4h0M354.3,443.4h0M354.3,446.3h0M354.3,443.9h0M354.5,441.9h0M354.6,444.4h0M354.9,443.1h0M354.7,445.3h0M355,443.6h0M355,441.7h0M355.2,442.2h0M355.8,441.3h0M355.4,442.7h0M355.7,441.4h0M355.9,444.1h0M356,442.2h0M356.2,441.2h0M356.2,442.3h0M356.2,441.6h0M356.4,440.3h0M356.9,443.3h0M356.7,442.3h0M356.9,441.1h0M357.2,443.9h0M357.2,442h0M357.4,444.4h0M357.2,443.3h0M357.6,442.5h0M357.7,443.8h0M357.9,443.2h0M358.1,442h0M358.1,443.6h0M358.5,444h0M358.3,442.8h0M358.6,441.2h0M358.7,443.5h0M359,441.8h0M359.1,445.5h0M359.1,442.6h0M359.3,440.8h0M359.4,443.9h0M359.6,441.2h0M359.6,439.5h0M359.7,441.6h0M360,439.9h0M359.8,442.9h0M359.9,441h0M360.2,439.7h0M360.2,441.4h0M360.2,440.6h0M360.6,439.3h0M360.6,441.5h0M360.6,440.1h0M361.1,442.7h0M361.2,440.3h0M361.4,441.7h0M361.7,443.4h0M361.7,442.3h0M361.7,441.3h0M361.8,443h0M362.1,442.3h0M362,441.4h0M362.2,442.9h0M362.4,442.1h0M362.6,443.1h0M362.3,442.5h0M362.8,441.5h0M362.8,442.7h0M363,442h0M363.1,441.4h0M363.4,442.2h0M363.3,441.5h0M363.5,443.5h0M363.5,441.7h0M363.6,440.6h0M363.8,441.9h0M364,440.6h0M363.9,442.5h0M364.3,441.6h0M364.2,442.2h0M364.5,440.8h0M364.4,440.3h0M364.8,441.2h0M364.9,440.1h0M365,442.2h0M365.2,440.9h0M365.3,439.6h0M365.4,442.1h0M365.4,440.8h0M365.5,442.3h0M365.7,441.3h0M365.7,440.4h0M366.1,442.9h0M366,441.3h0M366.2,440.8h0M366.4,442.2h0M366.4,441.4h0M366.6,442.7h0M366.8,442.1h0M366.8,441.3h0M367,443.3h0M367,441.7h0M367.1,441.1h0M367.5,441.3h0M367.6,443.2h0M367.8,442.5h0M367.9,442.1h0M368,442.4h0M368.1,444.3h0M368.3,442.8h0M368.3,442h0M368.5,444h0M368.6,442.2h0M368.9,440.6h0M368.9,443h0M369,441.5h0M369.4,444h0M369.2,442.2h0M369.5,441.6h0M369.6,442.4h0M369.8,441.9h0M369.9,440.9h0M370.4,442.5h0M370.2,442.1h0M370.4,441.5h0M370.5,443h0M370.7,444h0M370.7,442.8h0M371.1,442.1h0M371.1,443.9h0M371.2,442.7h0M371.2,442.4h0M371.5,443.8h0M371.5,443h0M371.8,445.2h0M371.7,444h0M372,444.6h0M372.3,443.9h0M372.3,445.4h0M372.6,444.6h0M372.6,444h0M372.6,445.3h0M372.8,444.6h0M373,444h0M373.2,445h0M373.2,444.7h0M373.5,445.4h0M373.6,443.9h0M373.6,444.9h0M373.8,444.5h0M374.1,445.2h0M374.2,444.6h0M374.1,446.1h0M374.1,445h0M374.4,444.1h0M374.5,445.6h0M374.6,445.2h0M374.7,446.5h0M374.8,445.9h0M375,445.2h0M375.2,446.7h0M375.3,445.6h0M375.4,444.5h0M375.5,446.7h0M375.8,445.6h0M375.6,447.8h0M376.1,448.5h0M376.4,447h0M376.5,450h0M376.5,448.8h0M376.8,450.1h0M377,448.5h0M377,447.3h0M377.3,448.7h0M377.2,452.1h0M377.4,450.3h0M377.5,448.7h0M377.7,451.8h0M377.7,450.2h0M378,449.4h0M378.1,451.9h0M378.2,450.7h0M378.3,453.6h0M378.3,452h0M378.6,450.4h0M378.6,454.2h0M378.9,451.9h0M378.8,455.4h0M379,453.6h0M379.1,452.2h0M379.3,456.1h0M379.6,453.7h0M379.6,452.1h0M379.7,454.6h0M379.7,455.5h0M379.9,454.3h0M380.1,452.6h0M380.3,454.7h0M380.3,452.9h0M380.7,449.7h0M380.5,453.7h0M380.6,450.8h0M380.8,454.7h0M380.9,452h0M381.1,449h0M381.1,453.3h0M381.4,449.7h0M381.7,450.5h0M381.8,447.2h0M382.1,451h0M382.1,448.1h0M381.9,445.6h0M382.1,448.8h0M382.3,446.3h0M382.6,449.7h0M382.7,447.3h0M382.5,444.9h0M382.6,447.8h0M382.7,446.2h0M383.1,448.1h0M383.2,446.7h0M383.2,444.2h0M383.5,445.5h0M383.4,444h0M383.9,446.1h0M383.9,445.4h0M383.7,447.6h0M384.1,444.9h0M384.2,447.6h0M384.4,446h0M384.5,445.5h0M384.8,447.1h0M384.8,445.8h0M384.8,448.5h0M385.2,446.8h0M385.3,446.2h0M385.5,448.3h0M385.2,448.8h0M385.8,447.8h0M385.7,446.6h0M385.9,448.3h0M386.1,447.6h0M386.1,446.7h0M386.2,447.5h0M386.4,448.8h0M386.7,448.3h0M386.9,446.9h0M386.9,449h0M387,447.7h0M387,449.1h0M387.4,448h0M387.4,450.3h0M387.7,448.9h0M387.9,449.5h0M388,449h0M388.2,450h0M388.4,449.3h0M388.5,449.6h0M388.7,449.1h0M388.9,449.7h0M389.3,449.8h0M389.1,449.5h0M389.2,448h0M389.3,450.4h0M389.6,449.1h0M389.6,451h0M390,449.6h0M389.8,449h0M390.1,450.8h0M390.2,449.4h0M390.2,449.3h0M390.6,449.9h0M390.8,449.5h0M390.8,448.6h0M391.3,450.6h0M391,449.4h0M391.2,448.9h0M391.3,449.7h0M391.5,449.5h0M391.6,449.8h0M391.6,448.1h0M391.9,450.2h0M392,449.5h0M392.2,450.3h0M392.5,450h0M392.6,448.4h0M392.7,450.7h0M392.9,449.9h0M392.8,449.6h0M393,450.6h0M393,449.2h0M393.2,452.2h0M393.4,450.5h0M393.3,449.7h0M393.7,451.5h0M393.7,450.6h0M393.9,453h0M393.9,451.2h0M393.8,449.8h0M394.1,452.5h0M394.4,450.3h0M394.5,452.1h0M394.7,451.1h0M394.7,452.3h0M395,451.8h0M395,452.3h0M395.2,451.7h0M395.4,450.8h0M395.3,452.9h0M395.5,451.6h0M395.6,453.5h0M396,452.5h0M396,450.5h0M396.3,453.3h0M396.2,452h0M396.3,453.9h0M396.7,452.6h0M396.7,454h0M396.8,453.2h0M397,452.1h0M397.1,454.2h0M397.2,453.5h0M397.3,455.9h0M397.4,454.2h0M397.5,453.6h0M397.7,455.1h0M397.8,454.1h0M398.1,455.1h0M398.1,454.4h0M398.3,455.8h0M398.3,455.2h0M398.5,454.4h0M398.5,455.8h0M398.9,454.9h0M398.6,456.9h0M399,456h0M399,454.4h0M399.2,457.4h0M399.4,456.1h0M399.2,454.6h0M399.5,456.9h0M399.7,456.1h0M399.8,458.3h0M399.9,456.9h0M400.2,455.9h0M400.2,457.8h0M400.4,457.1h0M400.3,458.7h0M400.7,457.2h0M400.7,458.6h0M401.2,457.7h0M401.1,455.9h0M401.1,457.2h0M401.2,459.5h0M401.5,458.4h0M401.5,457.2h0M401.8,460.1h0M401.9,457.9h0M402,459.2h0M402.3,460h0M402.7,459.2h0M402.6,458.4h0M402.6,459.8h0M403.1,460.3h0M403.2,459.8h0M403.3,459.1h0M403.4,461.3h0M403.5,458.3h0M403.7,460.6h0M403.8,460h0M404,461.2h0M404.2,460.7h0M404.2,460.2h0M404.5,461.8h0M404.5,460.6h0M404.6,461.3h0M404.9,460.7h0M405,462h0M404.9,461.3h0M404.9,460.1h0M405.1,462.6h0M405.2,461.2h0M405.6,462.9h0M405.6,462h0M405.8,461.6h0M405.8,463.1h0M406.2,462h0M406.1,460.2h0M406.2,462.5h0M406.2,461.6h0M406.4,463h0M406.7,462.5h0M406.8,461.3h0M406.9,463.8h0M407.1,462.2h0M407,463.7h0M407,463h0M407.3,462.7h0M407.6,463h0M407.7,462.4h0M407.8,463.6h0M407.9,462.6h0M408.2,464h0M408.2,463.6h0M408.3,463h0M408.3,464h0M408.5,463.4h0M408.8,462.2h0M408.8,464.1h0M409.2,463.5h0M409.1,464.8h0M409.1,463.9h0M409.2,463.4h0M409.4,465.1h0M409.5,463.9h0M409.5,464.7h0M409.8,464.5h0M409.8,463.7h0M409.9,464.6h0M410.2,465h0M410.5,463.7h0M410.4,464.8h0M410.7,464.3h0M410.7,463.8h0M411,465.3h0M411.2,463.8h0M411.4,465.8h0M411.3,464.2h0M411.4,463.9h0M411.4,464.2h0M411.8,463.9h0M411.7,462.4h0M412.1,463.7h0M412.2,464.6h0M412.5,464h0M412.5,463.5h0M412.4,464.6h0M412.6,463.7h0M412.7,462.7h0M412.8,463.9h0M413,463.5h0M413,463.9h0M413.2,462h0M413.5,463.8h0M413.5,463.2h0M413.7,464.4h0M413.8,462.8h0M414.1,463.8h0M414.1,463.2h0M414.4,461.5h0M414.5,463.3h0M414.6,462.7h0M414.6,463.9h0M414.8,463.2h0M415,462.8h0M415.1,463.5h0M415.1,462.9h0M415.3,462.5h0M415.6,463.2h0M415.7,462.5h0M415.7,462.7h0M416,462.4h0M416,462.8h0M416.4,463.4h0M416.4,462.8h0M416.4,462.4h0M416.7,463.6h0M416.8,462.4h0M416.7,461.9h0M417,463h0M417.1,462.1h0M417.2,462.8h0M417.4,462.3h0M417.7,461.9h0M417.5,461.7h0M417.9,462.7h0M418,462.3h0M418.1,461.6h0M418.2,463.3h0M418.3,461.9h0M418.5,461.6h0M418.5,462.3h0M418.9,462.1h0M419.2,461.1h0M419.1,462.2h0M419.4,461.6h0M419.5,460.9h0M419.6,461.4h0M419.8,462.8h0M420,461.5h0M420.3,461.1h0M420.3,461.6h0M420,461.2h0M420.3,463.4h0M420.7,461.1h0M420.6,461.9h0M420.9,461h0M421,461.8h0M421.1,460.8h0M421.2,461.6h0M421.4,461.1h0M421.6,460.8h0M421.9,461.4h0M421.8,460.4h0M422.2,461.3h0M422.2,460.6h0M422.4,461.3h0M422.6,460.8h0M422.8,460.8h0M422.8,460h0M422.9,461.3h0M423.1,459.7h0M423.1,461h0M423.4,460.4h0M423.7,458.3h0M423.8,460.2h0M423.9,460.6h0M424.1,460h0M424.3,460.5h0M424.4,459.9h0M424.4,462.1h0M424.8,460.3h0M424.7,459.7h0M424.8,460.7h0M425.1,460.1h0M425.1,458.7h0M425,460.6h0M425.4,460h0M425.6,459.7h0M425.7,461h0M426.1,459.9h0M426.3,460.2h0M426.5,459.6h0M426.5,460.5h0M427.1,460.2h0M426.9,459.8h0M426.8,461.1h0M427.4,459.7h0M427.4,460h0M427.8,458.8h0M427.8,460h0M427.9,459.2h0M428,460.3h0M428.1,459.6h0M428.2,460.4h0M428.4,459.8h0M428.8,460.1h0M429,460.2h0M429.2,459.6h0M429.5,459.9h0M429.6,461.5h0M429.9,460.5h0M430.1,459.8h0M430.4,460.6h0M430.1,460.1h0M430.7,461.7h0M430.9,460.5h0M430.9,459.7h0M430.9,461h0M431.2,460.4h0M431,461.7h0M431.2,461.2h0M431.6,461.2h0M431.8,460.2h0M431.8,461.9h0M431.8,460.8h0M432.4,462.5h0M432.5,461.9h0M432.5,461h0M432.6,462.3h0M432.6,461.8h0M432.8,463.1h0M433.1,463.1h0M433.2,462.5h0M433.2,461.9h0M433.5,462.5h0M433.6,464.4h0M433.9,463.1h0M433.8,462.5h0M434,463.7h0M434.3,462.5h0M434.5,463.7h0M434.6,463.3h0M434.6,464h0M434.6,463.6h0M435.3,463.5h0M435.4,465.1h0M435.4,463.9h0M435.6,463.3h0M435.7,464.3h0M435.8,462.7h0M436,464.1h0M436,463h0M436.4,463.2h0M436.5,462.2h0M436.5,464.2h0M436.7,462.5h0M436.8,461.8h0M437,463.2h0M437,462h0M437.2,463.2h0M437.2,462.4h0M437.5,461.6h0M437.5,462.6h0M437.7,461.9h0M437.9,462.1h0M437.8,460.5h0M438,462.2h0M438.3,461.6h0M438.5,460.9h0M438.5,461.8h0M438.7,461h0M438.6,462.3h0M438.8,461.3h0M438.9,460.4h0M439.2,461.7h0M439.2,460.4h0M439.5,461h0M439.6,460.2h0M439.9,460.5h0M439.9,459.6h0M439.8,461.3h0M440.3,460h0M440.4,460.7h0M440.4,460.3h0M440.5,459.5h0M440.9,461.3h0M440.8,459.9h0M441,458.9h0M441.2,459.5h0M441.2,460.4h0M441.5,459.7h0M441.6,458.5h0M441.5,460.1h0M441.8,459.4h0M441.9,460.3h0M441.9,459.5h0M442.2,459h0M442.3,459.9h0M442.6,459h0M442.5,458.3h0M442.7,458.6h0M443,459.7h0M443.1,459h0M442.8,457.1h0M443.4,459.2h0M443.3,458.5h0M443.4,456.6h0M443.7,458.6h0M443.7,458.2h0M444.1,457.7h0M444.2,458.4h0M444.3,457.8h0M444.5,458.5h0M444.8,458.2h0M444.6,457.5h0M444.9,458h0M445.2,457.6h0M445.1,458.5h0M445.3,458h0M445.2,460h0M445.7,458.4h0M445.8,456.5h0M445.6,459.3h0M446,458.4h0M446,460.3h0M446.1,459.2h0M446.4,460.8h0M446.6,459.1h0M446.7,458.1h0M446.7,460.3h0M446.8,460.6h0M447.1,460h0M447.2,458.3h0M447.4,460.7h0M447.5,460.1h0M447.6,459.1h0M447.6,461.2h0M447.9,459.3h0M447.9,462.7h0M448.1,461h0M448.1,459h0M448.4,461.8h0M448.2,460.9h0M448.7,463h0M448.5,461.8h0M448.9,461.2h0M448.9,462.4h0M449.1,461.9h0M449.1,461.3h0M449.3,462.7h0M449.6,461.9h0M449.4,464.2h0M449.6,462.6h0M449.8,464.1h0M449.8,462.6h0M450.2,463.6h0M450.3,463.1h0M450.5,462.1h0M450.7,463.7h0M450.8,461.7h0M450.8,463.9h0M451,463.3h0M451.1,465.3h0M451.3,463.8h0M451.3,462.4h0M451.5,465.2h0M451.7,463.8h0M451.5,462.2h0M451.9,464.7h0M452,463.1h0M452.4,464.3h0M452.4,462.8h0M452.3,464.9h0M452.6,464.3h0M452.6,465.2h0M452.9,464.8h0M453.1,464.2h0M453,466.2h0M453.2,464.8h0M453.1,464.4h0M453.5,465.9h0M453.8,465.3h0M453.8,464.7h0M453.9,465.6h0M454.3,464.4h0M454.3,465.9h0M454.5,465.3h0M454.6,466.6h0M454.6,465.8h0M454.9,464.9h0M455.1,466.1h0M455.3,467.7h0M455.2,466.2h0M455.6,465.7h0M455.6,466.9h0M455.7,465.9h0M455.7,464.9h0M455.9,466.5h0M456.1,465.5h0M456.1,467.1h0M456.3,466.6h0M456.5,465.8h0M456.5,467h0M456.6,466.1h0M456.8,467.3h0M456.7,467h0M457.1,466.5h0M457.2,467.3h0M457.4,466.9h0M457.5,465.8h0M457.5,467.5h0M457.9,467.8h0M457.8,466.8h0M458.1,467.7h0M458.2,467.2h0M458.2,465.6h0M458.6,467.5h0M458.6,467.1h0M458.7,468h0M459.1,467.1h0M459.1,468h0M459.4,468.5h0M459.5,467.3h0M459.9,469h0M459.9,467.8h0M459.9,467h0M459.9,468h0M460.2,467.4h0M460.6,467.3h0M460.6,468.1h0M460.7,467.6h0M461.3,467.1h0M461.3,468.2h0M461.5,467.4h0M461.5,465.8h0M461.7,468.2h0M461.8,467.2h0M461.8,467.6h0M462.2,466.8h0M462.3,467.5h0M462.3,467h0M462.5,465h0M462.7,467.4h0M462.5,466.5h0M463.1,468.6h0M463,466.9h0M463.1,466.1h0M463.1,467h0M463.3,466.5h0M463.4,466.8h0M463.9,466.2h0M464.1,466.8h0M463.8,466.3h0M464,465.6h0M464.3,467.6h0M464.4,466.2h0M464.6,465.3h0M464.9,466.3h0M465,465.4h0M465,465.9h0M465.3,465.3h0M465.3,466.5h0M465.6,465.5h0M465.7,464.4h0M465.7,465.8h0M465.7,464.9h0M466,467.3h0M466,465.3h0M466.1,463.8h0M466.4,465.3h0M466.5,464.6h0M466.5,463.7h0M466.7,465.1h0M466.9,464.1h0M467,464.2h0M467.1,463.4h0M467.3,464.6h0M467.7,463.6h0M467.7,464.8h0M467.6,463.9h0M467.7,462.4h0M468.1,463.9h0M468,463.2h0M468.1,462.5h0M468.3,463.9h0M468.4,462.7h0M468.8,462h0M468.7,463.4h0M469.1,461.6h0M469.3,462.6h0M469.3,461.1h0M469.5,462.5h0M469.4,462.1h0M470,461.2h0M470.1,461.7h0M470.1,462.7h0M470.2,461.9h0M470.2,462.3h0M470.5,461.6h0M470.5,460.9h0M470.6,461.8h0M470.8,461.5h0M471.2,462.7h0M471.2,461.9h0M471.3,460.4h0M471.5,462.1h0M471.8,461.5h0M471.8,462.4h0M471.8,461.9h0M472.2,462.3h0M472.3,463h0M472.5,461.7h0M472.6,462.5h0M472.9,461.8h0M472.7,462.7h0M473.3,462.2h0M473.2,461.7h0M473.4,462.8h0M473.5,462.4h0M473.5,463h0M473.9,462.6h0M473.6,461.9h0M473.8,462.3h0M474,463.4h0M474.2,463h0M474.4,462.5h0M474.6,464.1h0M474.6,462.4h0M475,463.4h0M475.1,462.7h0M475.1,463.4h0M475.5,463h0M475.4,462.5h0M475.5,463.2h0M475.5,462.3h0M475.9,462.7h0M476.1,463.5h0M476.4,462.6h0M476.4,463.3h0M476.6,464.8h0M477.2,463.3h0M477.3,462.9h0M477.3,461.3h0M477.5,463.4h0M477.6,462.8h0M477.9,463h0M477.9,462.7h0M478.2,464.1h0M478.4,463.3h0M478.4,462.8h0M478.7,463.2h0M478.7,463h0M479.1,463h0M479.1,463.2h0M479.5,463h0M479.3,462.5h0M479.5,464.1h0M479.8,462.9h0M479.8,462.3h0M480.2,463.3h0M480.4,462.7h0M480.6,462.1h0M480.9,462.2h0M480.8,464.5h0M481,462.9h0M480.9,461.9h0M481.4,463h0M481.2,462.1h0M481.4,461.7h0M481.5,462.4h0M481.8,461.6h0M481.8,462.7h0M482,462h0M482.2,461.3h0M482.2,461.2h0M482.3,461h0M482.4,461.7h0M482.6,460.9h0M482.9,462.2h0M483,459.4h0M483,461.3h0M483.2,460.9h0M483.4,461.2h0M483.5,459.7h0M483.8,461.5h0M483.8,460.4h0M483.7,459.9h0M484,460.9h0M484.1,459.8h0M484.3,460.9h0M484.6,460.4h0M484.5,459.5h0M484.8,460h0M485,460.8h0M485.1,460.5h0M485.2,459.9h0M485.4,460.2h0M485.6,459.9h0M485.6,459.4h0M485.9,460.2h0M486.2,459.9h0M486.2,458.8h0M486.4,460.7h0M486.3,459.5h0M486.3,459h0M486.9,458.7h0M487,461h0M487.1,459.6h0M487.1,458.8h0M487.2,460h0M487.4,459.4h0M487.7,459.8h0M487.7,459.6h0M487.8,459.1h0M488.1,460h0M488.2,458.9h0M488.2,459.5h0M488.4,459.2h0M488.6,460.6h0M488.6,459.3h0M488.9,458.8h0M488.7,460.2h0M489.4,457.1h0M489.1,459.5h0M489.2,459h0M489.5,459.3h0M489.7,458.4h0M489.9,459h0M490.1,460.6h0M490.3,458.6h0M490.6,459.7h0M490.5,459.3h0M490.6,458.6h0M490.7,459.9h0M490.8,459.1h0M491.1,460.8h0M491.1,459.9h0M491.3,459.5h0M491.4,460.5h0M491.5,459.9h0M491.7,461h0M491.9,459.4h0M492.2,461.1h0M492.2,460.6h0M492.3,458.8h0M492.4,461.1h0M492.6,462h0M492.6,461.2h0M492.7,460.7h0M493,461.2h0M493.2,460.4h0M493.2,461.8h0M493.7,462.4h0M493.8,461.9h0M493.7,461.4h0M494.1,461.6h0M494,463.6h0M494.3,462.5h0M494.4,461.7h0M494.5,462.9h0M495.2,461.9h0M494.6,462.8h0M495.1,462.5h0M494.9,463.4h0M495.4,462.7h0M495.5,463h0M495.8,462.6h0M495.7,462.5h0M496.2,462.9h0M496.4,462.6h0M496.3,462h0M496.7,462.2h0M496.8,462.9h0M496.8,462.5h0M497,461.8h0M497.2,460.3h0M497.6,462.5h0M497.6,461.8h0M497.6,462.8h0M497.8,462.2h0M498,462.6h0M498.4,462.1h0M498.5,461.6h0M498.5,462.5h0M498.7,461.8h0M498.6,461.1h0M499.3,462h0M499.1,461.5h0M499.3,461.2h0M499.6,461.8h0M499.6,461.2h0M499.6,460.6h0M500.1,461.6h0M500.2,461.4h0M500.2,461.9h0M500.6,461.4h0M500.4,460.6h0M500.8,462.8h0M501,460.7h0M501.1,461.4h0M501.4,461h0M501.5,461.4h0M501.7,460.7h0M501.8,461.4h0M502.1,459.7h0M502.2,461.9h0M502.4,460.7h0M502.1,462.6h0M502.4,459.7h0M502.9,461.1h0M502.7,460.6h0M502.7,460.3h0M503.1,461.5h0M503.2,460.2h0M503.3,461.3h0M503.4,460.6h0M503.5,460.2h0M503.7,461.2h0M503.8,460.1h0M503.9,460h0M504.1,460.4h0M504.2,459.6h0M504.3,461.5h0M504.3,460.2h0M504.7,460.3h0M505,459.6h0M505,460.2h0M505.1,459.7h0M505.3,460.6h0M505.5,459.3h0M505.8,460.5h0M505.7,459.7h0M505.9,460.4h0M505.7,459.8h0M506,459.1h0M506.1,460h0M506.3,459.5h0M506.4,458.1h0M506.5,459.9h0M506.9,459.3h0M506.7,460.1h0M506.7,459.6h0M507,460.4h0M507.4,459.3h0M507.5,460.1h0M507.6,459.5h0M507.8,458.9h0M507.8,459.7h0M508.1,457.7h0M508.3,459.6h0M508.5,458.6h0M508.4,460.1h0M508.3,459.3h0M508.7,459h0M508.8,458.6h0M509.1,459.7h0M509.2,458.8h0M509.3,460.1h0M509.5,459h0M509.5,458.6h0M509.6,459.2h0M509.9,459.4h0M510.2,457.5h0M510.3,459.5h0M510.5,458.8h0M510.5,458.1h0M510.7,459.1h0M510.9,458.4h0M510.9,459.9h0M511.1,458.7h0M511.5,458.9h0M511.4,458.6h0M511.5,460.4h0M511.9,458.2h0M511.8,459h0M511.9,458.5h0M512.2,457.1h0M512.2,458.7h0M512.4,457.8h0M512.6,459.4h0M512.6,458.4h0M512.7,458h0M512.9,458.8h0M513.1,458.1h0M513.1,458.5h0M513.5,457.6h0M513.6,458.6h0M513.4,458h0M513.8,457.2h0M513.8,457.7h0M514,458.5h0M514.3,458h0M514.5,457.7h0M514.4,458.2h0M514.6,457h0M514.8,457.8h0M515,457.3h0M515,458.3h0M515.1,457.6h0M515.2,456.9h0M515.6,457.7h0M515.6,457.1h0M516.1,457.1h0M516.1,458.5h0M516.3,457.2h0M516.3,457h0M516.2,457.5h0M516.6,457h0M516.7,457.7h0M516.7,455.5h0M516.9,458h0M517.2,456.9h0M517.2,456.3h0M517.4,457.1h0M517.6,456.5h0M517.7,457.5h0M517.7,456.8h0M518,456.9h0M517.8,456.2h0M518.3,457.5h0M518.3,456.7h0M518.5,455.9h0M518.8,456.3h0M518.7,455.9h0M519.1,455.6h0M519.2,458.1h0M519.3,456.2h0M519.3,454.8h0M519.4,456.4h0M519.6,455.9h0M519.9,457h0M519.8,456.1h0M519.9,455.4h0M520.3,455.8h0M520.4,455.3h0M520.8,455.6h0M520.8,457.1h0M521.1,455.4h0M521.2,455.9h0M521.4,455.7h0M521.4,454.9h0M521.6,455.8h0M521.7,455.3h0M522.2,454.4h0M522,455.6h0M522.3,454.9h0M522.5,455.1h0M522.5,454h0M522.7,455.6h0M522.6,454.9h0M523.1,454.6h0M523.1,455.6h0M523,454h0M523.3,455.9h0M523.2,454.7h0M523.7,454.3h0M523.5,455.3h0M523.8,455.5h0M524.1,454.5h0M524.2,453.4h0M524.2,455.1h0M524.5,454.2h0M524.4,453.5h0M524.8,454.5h0M524.7,454.1h0M524.9,454.6h0M525.2,453.6h0M525.2,454.5h0M525.2,454.1h0M525.4,453.2h0M525.5,454.3h0M525.7,454h0M525.6,455.7h0M526.1,454.3h0M526,453.5h0M526.4,454.8h0M526.3,454h0M526.6,454.5h0M526.9,455.8h0M526.8,454.1h0M526.9,455h0M527.4,454.5h0M527.6,455.4h0M527.4,454.8h0M527.9,454.7h0M527.8,453.5h0M528.2,455h0M528.2,454.2h0M528.4,455.5h0M528.7,454.6h0M528.7,455.2h0M528.9,455h0M528.9,455.6h0M529.2,455.3h0M529.3,454.4h0M529.4,456.6h0M529.5,454.5h0M529.7,455.6h0M529.8,455.1h0M530.1,454.5h0M530.3,455.8h0M530.5,455h0M530.4,457.4h0M530.9,454.5h0M530.9,455.7h0M530.9,454.9h0M531.1,454.2h0M531.3,455.3h0M531.3,454.4h0M531.5,455.1h0M531.6,454.6h0M531.7,453.8h0M532,455h0M532,454h0M532,453.2h0M532.2,454.8h0M532.4,453.7h0M532.7,453.9h0M532.8,453.1h0M533,453.1h0M533.1,454.6h0M533,454h0M533.4,453.7h0M533.6,453.3h0M533.8,452.6h0M533.9,453.6h0M534,453.1h0M534.2,452.3h0M534.4,453.1h0M534.7,451.5h0M534.7,453h0M535.3,451.8h0M535.2,451h0M535.1,452.3h0M535.4,450.5h0M535.6,452.7h0M535.9,451.5h0M535.7,447.5h0M535.8,450.8h0M535.8,445.2h0M536,436.2h0M535.9,445.1h0M536.6,446.8h0M536.3,438.2h0M536.3,440h0M536.7,448.2h0M535.9,449.6h0M536.4,441.4h0M536.5,443.2h0M536.9,433.5h0M536.4,436.5h0M536.8,445.2h0M537.1,447.2h0M538,438.2h0M537.1,439.3h0M537.1,449h0M537.3,450.1h0M538,441.4h0M536.9,443.4h0M536.6,434.1h0M537.7,435.4h0M537.5,443.2h0M537.8,443.1h0M537.2,435.8h0M537.9,435.4h0M537.8,440.9h0M538.1,431.1h0M537.9,435.1h0M537.9,432.3h0M538.1,436.3h0M538.3,433.3h0M538.3,431.2h0M538.5,434.2h0M538.7,431.9h0M538.7,429.7h0M538.9,432.3h0M539.1,431.3h0M539,433.2h0M539.3,431.9h0M539.6,433.2h0M539.6,432.2h0M539.8,436.2h0M539.8,433.8h0M539.9,432h0M540.1,435.6h0M540.4,434h0M540.5,432.6h0M540.3,435.8h0M540.6,434.2h0M540.7,438.3h0M540.8,435.8h0M541.1,438.7h0M541.2,436.2h0M541.1,440.5h0M541.5,436.5h0M541.7,440.2h0M541.7,438.4h0M542,437.1h0M542,440.3h0M542.1,438.6h0M542.4,441.5h0M542.6,440.3h0M542.3,439.3h0M542.4,441.9h0M542.7,440.7h0M543,440h0M542.9,442h0M543.2,443.2h0M543.1,441.9h0M543.7,441.3h0M543.6,442.7h0M543.9,441.8h0M543.8,443.2h0M543.9,442.3h0M544,441.3h0M544.1,442.7h0M544.3,441.4h0M544.4,439.6h0M544.8,442.3h0M544.5,439.9h0M544.7,443.9h0M544.7,440.9h0M544.9,438.1h0M545.3,442.2h0M545.3,439.3h0M545.4,437.2h0M545.5,440h0M545.8,438.2h0M545.7,440.7h0M545.9,438.7h0M545.7,436.3h0M545.9,439.2h0M546.1,437.4h0M546.3,439.7h0M546.5,438h0M546.6,436.9h0M546.6,438.4h0M546.8,437h0M546.9,435.7h0M547.2,437.2h0M547.1,436.1h0M547.3,437.7h0M547.4,436.6h0M547.8,434.5h0M547.8,436.8h0M547.6,435.7h0M547.9,437.6h0M548,436.3h0M548.2,434.6h0M548.4,436.6h0M548.4,435.3h0M548.5,434.1h0M548.9,435.5h0M548.8,434.2h0M549,437.4h0M549,434.6h0M549.3,433.3h0M549.2,435h0M549.5,433.6h0M549.6,431.9h0M549.6,433.9h0M549.7,432.2h0M550,434.1h0M549.8,432.7h0M550.2,430.6h0M550.2,433.7h0M550.2,431.2h0M550.5,435.2h0M550.5,432.1h0M550.6,429.6h0M550.9,433.2h0M551,430.2h0M551.1,428.2h0M551.2,430.9h0M551.4,428.9h0M551.6,431.6h0M551.6,429.4h0M551.6,426.1h0M551.5,430h0M551.9,428h0M552.3,431.3h0M552.1,428.3h0M552.2,426.4h0M552.5,428.8h0M552.3,426.9h0M552.7,425h0M552.6,427.4h0M553,425.9h0M553.1,427.6h0M553.1,426.3h0M553.3,423.5h0M553.4,426.7h0M553.6,424.9h0M553.6,423.1h0M553.8,425.7h0M553.7,423.8h0M554.1,426.2h0M554.1,424.2h0M554.2,422.5h0M554.2,424.6h0M554.5,423.1h0M554.7,423.6h0M554.9,422.1h0M554.9,423.8h0M554.9,422.4h0M555.2,421.3h0M555.3,422.9h0M555.5,421.7h0M555.4,423.4h0M555.5,421.9h0M555.6,420.9h0M555.8,422.4h0M556,421.1h0M556.4,419.8h0M556.4,421.7h0M556.2,419.7h0M556.6,420.5h0M556.8,418.9h0M557,421.6h0M556.9,419.7h0M557,420.8h0M557.2,420.1h0M557.7,418.4h0M557.5,420.5h0M557.7,419.3h0M557.5,417.2h0M557.9,419.9h0M558.2,418.8h0M558.1,420.7h0M558,419.1h0M558.2,418.3h0M558.4,420.2h0M558.6,418.6h0M558.9,421h0M558.9,418.7h0M559.1,419.1h0M559.4,418.4h0M559.3,417.7h0M559.7,419.3h0M559.8,418.9h0M559.7,417.9h0M560.1,420h0M560.3,419h0M560.3,417.5h0M560.4,420.7h0M560.6,418.6h0M560.6,421.9h0M560.7,420.2h0M561.1,420.5h0M561.4,424.8h0M561.3,422.4h0M561.4,420.6h0M561.5,424.1h0M561.6,422.2h0M561.8,423.8h0M562.2,422.5h0M562.3,425h0M562.2,424h0M562.6,422h0M562.6,425.1h0M562.6,424.3h0M562.7,423.2h0M563.1,425.6h0M563,424.6h0M563.1,427.2h0M563.2,425.2h0M563.4,424.7h0M563.5,426.6h0M563.6,425.1h0M563.8,427.9h0M564,426.1h0M563.9,425.5h0M564.2,427.8h0M564.3,426h0M564.3,425.1h0M564.5,427h0M564.7,426.3h0M564.7,427.6h0M564.8,426.9h0M564.7,426.1h0M565.3,427.8h0M565.2,426.9h0M565.3,429.8h0M565.5,427.6h0M565.6,427.1h0M565.8,428.7h0M565.9,427.5h0M565.9,426.7h0M566.2,427.1h0M566.3,429.6h0M566.4,428.5h0M566.5,427.4h0M566.7,429.3h0M566.7,428.5h0M566.9,427h0M567.2,429.3h0M567.2,428.4h0M567.3,429.9h0M567.6,429.3h0M567.6,428.4h0M567.8,429.8h0M567.8,430.7h0M567.9,429.8h0M568.1,429.1h0M568.3,429.3h0M568.4,428.4h0M568.7,429.6h0M568.8,428.6h0M568.8,431.6h0M568.8,429.1h0M568.9,427.1h0M569.4,430h0M569.3,428.2h0M569.3,429.6h0M569.6,428.3h0M569.7,426.7h0M569.8,428.6h0M570,427.2h0M570,425.5h0M570.1,427.8h0M570.5,428.1h0M570.5,426.5h0M570.7,424.2h0M570.7,428.2h0M570.9,424.5h0M571.1,422.3h0M571.1,425.4h0M571.2,422.6h0M571.5,425.9h0M571.7,423.7h0M571.8,421.5h0M571.7,424.4h0M571.9,421.6h0M572.1,424.7h0M572.1,422.6h0M572.3,419.9h0M572.5,423.2h0M572.6,421h0M572.8,419.4h0M572.5,421.2h0M572.7,419.6h0M573.1,422h0M573.1,420h0M573.2,417h0M573.4,420.4h0M573.5,418.7h0M573.5,416.5h0M573.7,419h0M573.9,417.2h0M574,419.5h0M574.1,417.9h0M574.2,416h0M574.3,418.3h0M574.3,416.3h0M574.5,418.9h0M574.7,417h0M574.6,415.1h0M574.9,417.5h0M575.2,415.6h0M575,412.4h0M575.4,416.7h0M575.4,413.9h0M575.3,416.4h0M575.6,415.1h0M575.8,414h0M575.9,415.7h0M576,414.3h0M576.2,415.8h0M576.3,414.9h0M576.3,413.6h0M576.7,414.9h0M576.6,413h0M576.7,414.6h0M577.1,413.1h0M577.1,413.9h0M577.2,413.5h0M577.3,412.7h0M577.4,414.7h0M577.5,412.8h0M577.8,411.5h0M577.6,413.1h0M577.9,411.8h0M578.1,413.6h0M578,411.9h0M578.1,410.3h0M578.4,412.5h0M578.5,410.7h0M578.7,413.4h0M578.5,411.5h0M578.8,409.6h0M579,412.2h0M579,409.8h0M579.3,407.7h0M579.2,410.8h0M579.5,408.3h0M579.7,411.3h0M579.8,408.8h0M579.9,406.7h0M580,409.4h0M580.2,407.2h0M580.3,403.2h0M580.4,408h0M580.4,404.8h0M580.6,407.9h0M580.7,406h0M581,404.2h0M581,406.6h0M581,404.3h0M581.2,407.6h0M581.3,404.8h0M581.5,401.7h0M581.7,406.4h0M581.6,402.9h0M581.9,400.6h0M581.9,404h0M582.1,404.9h0M582.3,402h0M582.3,399.7h0M582.4,403.2h0M582.5,400.9h0M582.5,404.2h0M582.8,401.3h0M582.9,399.7h0M583.2,402h0M583.1,400.1h0M583.4,398.6h0M583.7,401.1h0M583.8,399.4h0M583.7,400.8h0M583.6,399.5h0M583.9,398.5h0M584.2,400h0M584.2,399h0M584.2,397.8h0M584.4,399.8h0M584.6,397.7h0M584.6,399.9h0M584.7,398.8h0M585.3,396.6h0M585.2,399.6h0M585.2,398.1h0M585.2,400.4h0M585.4,398.6h0M585.5,399h0M585.7,398.1h0M585.7,396.7h0M585.9,399h0M586.4,398.2h0M586.2,401.2h0M586.3,399.1h0M586.6,397.8h0M586.5,400h0M586.8,398.8h0M587,402.6h0M587.1,400h0M587.3,398.9h0M587.1,401.4h0M587.4,400.1h0M587.2,398.2h0M587.6,401.9h0M587.9,400.2h0M587.8,403.8h0M587.9,401.4h0M588.2,400.5h0M588,402.5h0M588.3,401.4h0M588.3,399.4h0M588.5,402.2h0M588.7,401h0M588.8,403.2h0M588.9,402.2h0M588.8,399.9h0M589.2,402.5h0M589.4,401.2h0M589.3,403.6h0M589.6,401.8h0M589.7,400.1h0M590.1,402.9h0M589.8,400.7h0M590,398.8h0M590.1,401.4h0M590.2,399.3h0M590.4,401.5h0M590.4,399.8h0M590.6,397.6h0M590.8,400.5h0M590.8,397.8h0M590.9,396.7h0M591,398.7h0M591.1,396.2h0M591.2,399.4h0M591.3,397.4h0M591.6,395.8h0M591.7,397.9h0M591.6,396.5h0M591.9,398.4h0M591.9,397.1h0M592.2,394.8h0M592.3,397.5h0M592.3,396.6h0M592.7,397.4h0M592.8,396.4h0M592.9,398.5h0M593.1,397.4h0M593.2,396.2h0M593.3,399.1h0M593.4,397.3h0M593.4,400.6h0M593.5,398.5h0M593.9,397.6h0M594,399.3h0M594,398.5h0M594,397.1h0M594.2,399.7h0M594.4,400.2h0M594.7,399.3h0M594.6,397.9h0M594.9,399.6h0M594.9,398.2h0M595.1,396.1h0M595.3,398.7h0M595.4,399.7h0M595.6,397.3h0M595.8,394.3h0M595.5,399h0M596.2,394.8h0M595.9,399.4h0M596.8,396h0M596.1,392.8h0M596.4,396.8h0M596.7,394.2h0M596.7,392.3h0M597.4,397.1h0M596.6,394.4h0M597.1,402h0M596.5,396.2h0M597.5,398.3h0M596.6,391.6h0M597.7,393.3h0M597,400.9h0M597.9,395.2h0M597.4,396.6h0M597.4,404.4h0M597.8,407.2h0M597,398.5h0M597.6,400.4h0M599,393.4h0M598.3,395.4h0M597.4,402.2h0M598.5,404.8h0M598.4,398.2h0M598.6,400.2h0M598.1,397.8h0M598.1,403.2h0M598.4,399h0M598.6,404.7h0M598.8,399.8h0M598.5,400.9h0M598.4,395.5h0M599.1,396h0M599.2,401.8h0M598.8,402.1h0M598.8,396.2h0M598.9,397.3h0M599.3,402.4h0M598.5,392.9h0M598.8,397.9h0M598.1,398.5h0M599.2,393.6h0M598.6,394h0M599.2,400.4h0M598.1,394.8h0M600,391h0M600,395.8h0M599.8,391.1h0M600.3,396.5h0M600.1,392.5h0M600.3,388.5h0M601.5,392.9h0M600.3,388.9h0M600.6,384.9h0M600.9,389.8h0M601.1,386.1h0M600.8,391.2h0M601.3,387h0M601.8,382.6h0M601.3,388.5h0M601,383.7h0M601.6,379.1h0M601.8,384.7h0M601.9,379.6h0M602,385.4h0M602.3,381.4h0M603.1,377.4h0M602.6,382.1h0M603.2,378.2h0M603,383.3h0M603.5,379.1h0M603.6,375.1h0M603.3,379.6h0M603.6,375.8h0M603.1,371h0M603.1,376.8h0M604.6,372.6h0M603.3,377.3h0M604.3,373.5h0M603.9,369.7h0M604.6,374.2h0M604.6,370.4h0M605.1,376.7h0M603.9,371.2h0M604.3,367.6h0M605.1,371.8h0M604.6,368.2h0M605.1,364h0M605.7,365.4h0M605.9,370h0M605.4,366.1h0M605.2,362.6h0M605.7,366.7h0M605.6,363h0M605.3,359.9h0M606.6,364.1h0M606.2,359.3h0M606.3,364.6h0M606.1,360.9h0M606.1,356.5h0M606.4,361.8h0M606.7,357.2h0M607.3,362.9h0M606.7,357.5h0M607.5,358.2h0M607,351.2h0M607,352.5h0M606.5,359.4h0M607,360.4h0M607.1,353.2h0M607.1,352.3h0M606.9,360.2h0M608,340.2h0M607.9,347.4h0M607.4,354.3h0M607.5,352.2h0M607.9,334.2h0M606.9,342.9h0M607.7,340.8h0M607.9,349.6h0M607.7,357.9h0M607.9,355.9h0M608.5,338.4h0M608.2,347.4h0M607.6,345.1h0M607.9,354.4h0M607.8,335.7h0M608.2,333.2h0M608.2,342.6h0M608.5,351.9h0M607.6,349.5h0M607.4,331.2h0M608.4,340.2h0M609,337.6h0M608.1,347.5h0M608.4,328.6h0M607.9,325.7h0M608.5,334.6h0M608,344.6h0M608.9,342.1h0M608.6,351.5h0M608.4,331.9h0M607.9,329.4h0M609.2,344.6h0M608.7,351.2h0M608.4,347h0M609,324.4h0M609.9,332.8h0M608.8,333.9h0M609.3,342.6h0M608.6,325.7h0M608.5,322h0M608.8,329.8h0M609.2,336.7h0M609.4,331.3h0M609.2,324.1h0M609.4,325.1h0M608.9,332.1h0M609.3,331.9h0M609,326.3h0M609.4,319.6h0M609.5,320.7h0M609.5,327h0M609.2,327.1h0M610.4,321.5h0M610.8,322h0M609.4,327.1h0M609.9,317.3h0M610.8,322.5h0M610.1,322.6h0M610,318.1h0M609.5,322.1h0M610.3,319h0M610.1,315.5h0M610.4,319.8h0M610.8,316.3h0M610.3,322.1h0M610.9,317.4h0M611.2,314.8h0M611.3,317.8h0M611.2,315.7h0M611.5,313.4h0M611.6,317.9h0M611.5,315.6h0M611.4,322.8h0M612,314.2h0M612.4,321.6h0M612.2,316.5h0M612.4,318.4h0M612.8,324.7h0M612.2,315.2h0M612.6,321h0M612.6,323.9h0M613,317.5h0M612.6,319.3h0M613.1,326.5h0M613.2,329.1h0M613.2,322.1h0M612.3,332.5h0M612.9,320.3h0M613.5,328h0M613.8,332h0M613.1,322.8h0M613.7,325.9h0M612.7,335.9h0M613.2,338.5h0M612.9,329h0M613.4,332.8h0M612.7,339.3h0M614.1,325.7h0M613.9,333h0M614.4,340.3h0M613.1,340.5h0M613.9,326.4h0M613.9,333.3h0M614.9,333.4h0M614.2,341.3h0M614.2,334.4h0M614.6,341.8h0M614.6,342.8h0M614.4,327.4h0M613.9,334.3h0M613.7,334.7h0M613.9,349.8h0M615.2,349.6h0M614.2,341.7h0M614.7,341.5h0M614.1,332.4h0M614.1,335.1h0M614,344.6h0M615.2,347.2h0M615.3,338.7h0M614.9,341h0M614.5,348.4h0M614.3,350.9h0M614.5,344.2h0M615.6,346.4h0M615.5,341.1h0M616.1,341.5h0M614.9,347.2h0M616.2,349.9h0M615.9,342.5h0M616.3,343.5h0M615.8,350.1h0M615.6,336.3h0M615.4,344.8h0M615.7,346.2h0M616,339.6h0M615.4,347.5h0M615.8,340.6h0M616.4,341.2h0M616.3,334.1h0M616.1,334.3h0M615.6,341.9h0M616.5,342.2h0M616,335.6h0M616.4,336.2h0M616.9,342.9h0M616.3,330.4h0M616.8,336.8h0M616.6,337.3h0M616,331.3h0M617.3,338h0M617.5,338.4h0M616.7,332.6h0M616.5,333.6h0M617.6,329.3h0M617.2,334.3h0M617.8,330.5h0M617.5,334.7h0M617.2,331.6h0M618.2,327.2h0M618,332.1h0M618.2,328.7h0M618.1,326.2h0M618.2,329.4h0M618.6,326.5h0M618.5,327.7h0M618.8,326.1h0M618.9,330.1h0M619,327.8h0M619.1,325.6h0M620.3,330.2h0M617.6,333.2h0M619.8,330.1h0M619.5,326.8h0M619.8,332.1h0M620,333.6h0M619.2,328.3h0M619.7,329.8h0M620.2,336.6h0M619.4,340.5h0M620.4,332.9h0M620,335.2h0M620.5,328.4h0M621,331.4h0M620.5,337.7h0M620.5,341h0M620.3,336.2h0M620.7,343.2h0M620,332.1h0M620.1,338.9h0M620.9,340.7h0M620.6,333.8h0M621.4,342.7h0M621.5,344.6h0M620.6,338h0M621,339.9h0M621.5,335.8h0M622,341.5h0M623.1,339.4h0M622.2,346.7h0M622,340h0M621.3,340.9h0M621.8,334.6h0M621,335.4h0M621.6,343.5h0M622.3,336.2h0M621.8,337.2h0M622.3,345.2h0M622.8,329.9h0M622.2,338.4h0M622.6,339.3h0M622.6,330.8h0M622.2,331.5h0M622.5,339.8h0M622.1,342.2h0M622.8,332.4h0M622,333.5h0M622.5,323.4h0M622.7,327.3h0M622.8,334.7h0M622.6,335.7h0M623.1,328.6h0M623,329.7h0M622.8,336.1h0M623,324.4h0M623.4,330.5h0M623.7,331.1h0M623.4,326.1h0M623.7,327h0M624.3,331.3h0M623.6,327.8h0M623.7,324.3h0M623.9,329h0M624.2,326.6h0M624.1,330.5h0M624.4,328.9h0M624.4,326.6h0M624.9,333h0M624.6,330.6h0M623.8,335.4h0M625,326.9h0M624.8,332.7h0M625.3,334.9h0M624.9,329h0M625.3,331.3h0M625.1,338.2h0M625.3,341h0M625.5,333.5h0M625.5,335.9h0M625.8,326.3h0M625.9,329.8h0M625.3,338.5h0M625.4,340.8h0M625.3,332.3h0M625.9,335.3h0M625,343.4h0M625.5,329.9h0M625.3,337.7h0M626.2,340.6h0M627,332.8h0M626.6,343.4h0M626.8,346.9h0M626.8,338.8h0M626.1,341.4h0M625.9,348.5h0M626.7,337.2h0M626.9,343.6h0M626.9,345.6h0M626.4,341.9h0M626.1,349.9h0M626.8,345.2h0M626.9,340.6h0M627.5,346.7h0M627.2,341.6h0M626.9,349.1h0M627.4,336.8h0M627.7,342.9h0M627.9,344h0M627.7,336.8h0M628.3,338.7h0M627.4,339.5h0M627.7,340.8h0M628.1,331.5h0M627.7,334.6h0M627.7,341.5h0M627.8,341.8h0M628.1,334.2h0M628.9,335.6h0M628,342.7h0M628.2,344.5h0M628.5,336.4h0M628.7,336.9h0M628,330.4h0M628.3,331.1h0M628.4,337.3h0M629.3,331.5h0M629.1,332.4h0M628.6,338h0M628.1,328.4h0M628.7,333.9h0M629.2,329.9h0M629.3,335h0M629.4,331.4h0M629.5,328.3h0M629.7,331.8h0M629.8,329.5h0M629.7,327.4h0M629.9,331.3h0M630,329.4h0M630.2,334.2h0M630.5,332h0M630.1,327.8h0M630.6,336h0M630.2,331h0M631.3,333h0M630.9,338.8h0M631.1,341.3h0M629.9,335.1h0M630.9,337.5h0M630.9,331.3h0M630.6,333.6h0M631.3,340.2h0M630.2,342.6h0M631.2,335.7h0M631.5,337.8h0M631.4,345h0M630.8,332.8h0M631.7,340.1h0M632.1,342.8h0M631.4,334.9h0M632.4,337.2h0M630.8,344.5h0M631.5,347.6h0M630.9,339.7h0M631.7,342.4h0M632.6,333.6h0M633.1,338.1h0M632.9,345.1h0M632.3,347.6h0M632.7,340.3h0M631.6,343.1h0M633,348.8h0M633.1,352.1h0M632.7,347.2h0M633.2,344.2h0M632.8,349.7h0M633.1,347.6h0M633.1,345.3h0M633.3,348.8h0M633.2,346h0M632.4,350.6h0M633.9,347h0M634,343.1h0M633.6,344.4h0M634.4,340h0M634.1,345.5h0M634.9,341.2h0M633.8,346.1h0M635.2,342.4h0M634.3,338.2h0M634.3,343.7h0M635,339.3h0M635.4,344.4h0M635.4,339.9h0M634.4,336h0M635.2,340.5h0M635.3,337.3h0M634.6,332.5h0M634.9,337.8h0M635.8,334.9h0M636.6,338.9h0M635.9,335.4h0M636,331.4h0M636.5,337.1h0M636.4,332.8h0M636.5,329.8h0M636.7,333.8h0M636.8,330.7h0M636.9,334.4h0M636.9,331.7h0M637.1,329.5h0M637.3,332.5h0M637.5,330.4h0M637.5,334h0M637.7,330.8h0M637.7,328.9h0M637.9,331.6h0M638.1,329.4h0M638,327.4h0M638.3,328.2h0M638.5,329.9h0M638.5,328.7h0M638.7,328h0M638.9,329.1h0M638.8,328.2h0M638.9,331.1h0M639.3,329.1h0M639.3,327.9h0M639.7,331.2h0M639.6,328.8h0M639.7,328h0M639.7,330.5h0M640,329.1h0M639.8,332h0M640,330.7h0M640.3,328.8h0M640.5,333.2h0M640.5,330.9h0M640.7,328.4h0M640.5,333.4h0M640.7,336.1h0M641.8,333.6h0M641.2,338.3h0M641,332h0M641.9,334.4h0M641.6,340.7h0M641.7,342.8h0M641.4,336.4h0M641.2,338.9h0M641.3,332.8h0M642.2,335.3h0M641.6,341.9h0M641.8,344.2h0M641.8,337.3h0M642.6,339.7h0M641.7,348.2h0M643,342.3h0M642.8,345.2h0M641.8,337.9h0M641.8,340.2h0M642.5,347.8h0M642.9,350.6h0M642,342.1h0M642.4,345.2h0M642.3,337.6h0M642.7,340.2h0M643.2,347.9h0M643.3,351.1h0M643.4,343.2h0M642.5,345.7h0M643.1,354.2h0M642.5,356.6h0M643.8,348.9h0M643.3,351.7h0M643.8,344h0M643.5,347.1h0M643.8,354h0M643.5,356.4h0M643.5,349.8h0M643.8,352.3h0M643.8,358.7h0M642.9,349h0M643.7,355.1h0M644.8,357.6h0M644.5,350.8h0M644.7,352.7h0M644.3,359.6h0M644.2,361.8h0M643.8,355.7h0M644.5,358h0M644.1,352.6h0M644.1,354.9h0M644.2,360.4h0M644.4,363.1h0M644.6,356.4h0M645.3,359.4h0M644.3,367.5h0M644.1,355.2h0M645.2,362.1h0M644.7,364.8h0M645.7,358.2h0M644.5,360.6h0M646.1,369.7h0M644.7,362.9h0M644.6,365.3h0M645.5,357h0M645.4,360.3h0M645.5,368.9h0M645.7,370.9h0M645.3,372h0M646.2,366.5h0M645.9,368.5h0M645.9,363.4h0M646.5,365.2h0M646.2,371h0M646.3,368.6h0M646.4,367.1h0M646.6,370.3h0M647.1,366.7h0M646.6,371.9h0M647.1,367.8h0M647.4,362.3h0M646.8,368.6h0M647.4,369.8h0M646.7,363.5h0M646.8,364.3h0M647.6,369.5h0M647.2,359.3h0M647,364.9h0M647.6,365.8h0M647.4,359.7h0M647,360.4h0M647.1,366.5h0M647.4,368.3h0M647,361.5h0M647.6,355.7h0M648.2,362.9h0M647.4,363.5h0M648.8,357.8h0M648.3,358.6h0M648.2,365.2h0M648,363.8h0M648.9,359h0M648,359.7h0M649.2,355.1h0M648.3,360.2h0M648.7,356.3h0M649.5,353.3h0M649.1,357.1h0M649.1,353.8h0M649.4,354.8h0M649.4,351h0M649.5,355.5h0M649.8,355.7h0M649.9,353.7h0M650.2,352.3h0M650.3,354.8h0M650.4,353.5h0M650.4,350.3h0M650.5,355.8h0M650.7,353.1h0M650.8,356.5h0M651,355.1h0M651.1,352.9h0M651,357.1h0M651.1,353.7h0M651.7,356.8h0M651.7,355.6h0M651.5,358.7h0M651.9,356.2h0M652,352.5h0M652.2,357h0M652.3,354.3h0M653,360h0M652.1,355.2h0M652,351.5h0M653.2,356.9h0M652.7,353.1h0M653,348.3h0M653.4,350.9h0M654,355.7h0M653.4,351.6h0M653.7,347.7h0M653.6,352.4h0M653.8,349.4h0M654,347.2h0M654.2,349.8h0M654.2,347.5h0M654.5,349.8h0M654.4,348.2h0M654.6,346.9h0M654.5,349.2h0M654.8,347.7h0M655,352.8h0M655,349.6h0M655.1,347.1h0M655.2,352.2h0M657.2,349.7h0M654.4,346.6h0M655.7,351.9h0M656.2,349.1h0M655.4,356h0M656.7,352.4h0M655.4,348h0M655.9,355.6h0M656,352.8h0M656.6,360.8h0M657.1,356.2h0M656.3,352.2h0M656.6,360.8h0M656.6,356.8h0M656.6,354h0M656.5,359.9h0M657.6,356.9h0M657.9,363.7h0M657.5,359.6h0M657.7,357.7h0M657.7,361.2h0M658.1,358.9h0M658,354.3h0M658.5,359.9h0M657.7,356.4h0M658.2,362.5h0M658.6,357.3h0M658.4,353.1h0M658.6,358.2h0M659,360.1h0M658.4,352.8h0M659.6,354.6h0M659.2,360.3h0M659,362.2h0M659,355.2h0M659.7,355.9h0M659.1,351.3h0M659.1,357.5h0M659.8,352.7h0M658.4,349.9h0M659.9,353.6h0M659.9,350.5h0M660,354.2h0M660.1,350.8h0M660.3,348.4h0M660.2,351h0M660.6,349.1h0M660.6,351.6h0M660.9,349.7h0M660.7,348.7h0M661,352.6h0M661.1,350.1h0M661.5,347.2h0M661.4,352.7h0M661.9,356.7h0M661.8,352.4h0M661.8,349.3h0M662.2,354.9h0M661.8,352.1h0M662.2,350h0M662.3,354.9h0M662.7,352.1h0M662.4,355.9h0M662.9,354.2h0M662.9,355.9h0M663,352.6h0M663.1,356.7h0M663.3,353.6h0M663.5,350.7h0M663.4,355.7h0M663.7,351.8h0M664,348.5h0M663.9,352.6h0M663.8,351h0M664.4,342.6h0M664.8,348.6h0M664.7,350h0M665,344.3h0M664.4,345.2h0M664.5,351.4h0M665.2,352.7h0M665,345.1h0M665,346.1h0M665,354.5h0M665.2,339.5h0M664.4,348h0M665.8,350.1h0M665.1,342h0M665.6,342.5h0M665.1,350.8h0M665.4,351.3h0M665.4,344.2h0M665.5,337.9h0M666.1,336.3h0M665.5,345.7h0M665.6,347.9h0M666.2,338.8h0M666.3,341.1h0M666.3,350.6h0M665.3,334.4h0M666.7,343.3h0M666.1,342.6h0M666.1,335.4h0M665.1,337.3h0M666.7,344.4h0M666.4,345.1h0M666,331.6h0M666.7,336h0M665.4,343.5h0M666.7,327.3h0M666.4,334.8h0M666.3,342.8h0M667.8,341.8h0M666.4,325.8h0M664.6,333.4h0M667.8,332.2h0M666.4,340.1h0M666.5,325.1h0M666.6,342.6h0M667.2,333.1h0M666.8,335.2h0M667.1,322.2h0M667.4,330.9h0M667.3,339.6h0M667.1,338.5h0M667.6,319.3h0M667.4,328.8h0M667.1,327.4h0M668.6,336.6h0M667.5,318.3h0M667.7,317.3h0M668,325.7h0M668.2,335.6h0M667.8,331.2h0M667.7,315.3h0M667.1,322.6h0M667.9,321.3h0M667.3,329.7h0M666.7,337.5h0M668.3,336h0M667.3,320.6h0M670.1,328.6h0M668,324.9h0M667.9,331.7h0M668.2,310.7h0M667.3,316.8h0M668.6,314h0M668.5,321h0M667.8,328.3h0M668.7,332.6h0M668.3,309.5h0M668.9,317.3h0M668.3,324.4h0M668.8,320.7h0M669.2,328.5h0M667.5,335.8h0M668.5,313.2h0M668.4,307.6h0M668.5,318.1h0M668.9,326.6h0M669.2,325.5h0M668.8,333.9h0M668.7,317h0M669.1,315.4h0M668.3,324.1h0M669.9,331.3h0M669.3,309.3h0M668.6,316.1h0M669.2,324h0M668.7,319.8h0M669.1,326.9h0M668.8,334.3h0M667.8,312.5h0M668.4,309.1h0M668.6,315.5h0M668.9,323.3h0M668.6,331.7h0M669.3,324.7h0M669.1,306.8h0M668.8,316.1h0M668.9,314.3h0M669.3,323.7h0M668.7,306.1h0M669.4,330.3h0M669.3,313.1h0M670.6,321.9h0M669.6,319.3h0M669.1,326.3h0M670,305.1h0M669.8,311.9h0M670.2,307.9h0M669.8,315.3h0M670.1,323.1h0M669.4,329.7h0M670.2,327.5h0M670.2,303.8h0M669.9,311.4h0M670.6,318.8h0M670.3,314.9h0M669.6,330h0M669.8,303.1h0M670.3,312.2h0M670.1,322.6h0M669.8,320.3h0M670.1,329.8h0M670.5,311.2h0M671.2,309.9h0M670.6,319.1h0M670.7,329.4h0M670.7,327.5h0M671.1,305.3h0M671.1,312.3h0M670.9,320.2h0M671.1,316h0M670.9,323.2h0M669.9,300.4h0M670.8,308.8h0M670.9,304h0M670.5,312.2h0M670.4,327.9h0M671.8,301.8h0M671,313h0M670.9,310.9h0M671.2,320.3h0M671.5,327.4h0M670.7,309.7h0M671.3,318.9h0M670.7,317.5h0M670.5,326.3h0M671.5,308.5h0M671.1,306.2h0M671.6,315.8h0M672.3,326.1h0M671,323.6h0M671.5,304.9h0M672.9,314.3h0M672.1,312.9h0M671.5,323.3h0M671.1,303.4h0M671.8,302.5h0M671.8,310.8h0M672,319.7h0M672.3,319.1h0M671.8,300.7h0M671.8,309.5h0M671.5,308.1h0M671.8,316.9h0M672.9,325.8h0M671.9,324.8h0M671.8,306.4h0M671.6,315.3h0M670.9,314.1h0M672.1,305h0M672.2,303.8h0M672.7,312.7h0M672.9,323.1h0M673.5,320.7h0M671.3,302.3h0M672.1,311.3h0M672.7,309.3h0M672.6,317.8h0M673.3,300.8h0M670.7,299.8h0M673,307.9h0M672.6,316.9h0M672.9,315.4h0M673,324.5h0M672.7,306.8h0M672.7,304.6h0M673.1,313.6h0M674,322.9h0M673,321.9h0M672.4,303.3h0M673.3,312.4h0M673.8,311h0M673,321.4h0M672.9,302.2h0M673.2,300.2h0M673.4,309h0M673.7,317.7h0M673.2,316.5h0M674.1,298.7h0M673.1,307.8h0M673.8,305.9h0M673.1,315.3h0M673.5,297.4h0M673.1,322.4h0M673.8,304.8h0M673.7,312h0M673.6,321.5h0M674.2,302.7h0M673.8,302h0M674.1,310.7h0M672.9,319.3h0M674.3,318.1h0M674,300.1h0M673.7,309.3h0M674.4,306.9h0M674.1,316.1h0M674.5,298.7h0M674.1,298.1h0M674.4,305.6h0M673.9,314.2h0M674.5,313.5h0M674.4,296.4h0M674.7,304.6h0M674.6,301.3h0M674.3,310.6h0M675.6,320h0M675,318.7h0M674.1,309.4h0M674.7,308h0M674.9,317h0M675.4,297.5h0M674.5,297.2h0M675.1,316h0M674.7,314h0M675.6,296.3h0M675.6,304.4h0M676,303.2h0M674.9,312.2h0M675.2,293.7h0M675.7,293.7h0M675.9,301.8h0M674.4,311.1h0M675.8,317.6h0M675.7,298.9h0M675.8,296.2h0M675.4,306.8h0M675.3,317.7h0M675.7,314.9h0M675.4,295.8h0M675.8,305.3h0M675,302.8h0M675.7,311.8h0M675.8,294.6h0M675.9,292.9h0M676.2,301.6h0M676.2,311.1h0M675.3,308.9h0M675.6,291.5h0M676.2,300.2h0M676.4,297.1h0M676.2,304.4h0M675.7,311.2h0M675.9,289.1h0M676.8,315h0M676.5,293.6h0M676.5,300.3h0M675.5,307.8h0M676.3,303.9h0M676.6,310.9h0M676.1,289.6h0M676,296.7h0M676.6,293.1h0M676.5,300h0M676.2,307.4h0M676.3,314.2h0M677.8,309.1h0M677.2,289.7h0M677.2,300h0M677.1,298.8h0M676.4,308.4h0M676.5,290.3h0M676.8,288.8h0M677.6,297.5h0M677,306.7h0M676.2,303.8h0M676.6,311h0M676.7,289.2h0M677.2,296.8h0M676.9,293h0M676.4,307.4h0M677.6,285.3h0M677.1,287.9h0M676.6,296.4h0M677.1,303.8h0M676.7,299.1h0M677.9,290h0M676.9,288.5h0M676.1,297.1h0M678.2,306.2h0M677.9,305h0M677.7,285.9h0M677.4,295.9h0M677.5,294h0M677.5,303.1h0M677.4,284.6h0M677.9,311h0M677.2,288.9h0M677.9,296.4h0M677.6,303.8h0M678.2,300.1h0M678.4,307h0M677.1,292h0M678.3,287.7h0M678.2,296h0M678.4,303.1h0M677.9,312.6h0M678.3,304.6h0M678.1,286.9h0M678,294.6h0M678.3,303.5h0M678.5,284.8h0M678.4,284.1h0M679.2,293.3h0M678.1,303.2h0M678.9,300.3h0M678.2,282h0M678.3,291.1h0M679.2,290h0M678.4,299.8h0M679,310h0M678.2,308.1h0M679.2,287.8h0M678.6,298h0M679.2,296.4h0M678.7,305.5h0M678.9,287.3h0M679.8,285.2h0M679,293.8h0M678.7,302h0M678.5,301.9h0M679,283.9h0M678.9,292.6h0M679.2,291.2h0M679.2,300h0M679,281h0M680,280.4h0M678.7,289.3h0M679.4,298.6h0M680.7,297.3h0M679.5,305.3h0M680.1,288h0M678.8,285.7h0M679.4,295.7h0M679.3,304.8h0M679.4,301.6h0M679.7,285h0M678.3,293.1h0M679.7,291.7h0M679.9,299.5h0M679.8,282.1h0M680,282.4h0M679.6,290.6h0M680.4,298.7h0M680.3,296.8h0M680.3,279.2h0M680,288.2h0M679.7,286.9h0M680.8,295.8h0M680.3,278.3h0M680,303.3h0M680,285h0M680.3,294.5h0M680.1,293h0M680.3,301.5h0M681.5,283.1h0M680.4,282.6h0M682,290.2h0M681,299.5h0M681.1,297.8h0M680.3,281.1h0M680.3,289h0M680.7,287.9h0M680.2,295.4h0M681,278.4h0M681.5,276.8h0M680.9,285.2h0M681.2,293.7h0M681.7,292.3h0M681,273.6h0M681.1,283.7h0M681.1,281.8h0M680.6,291.2h0M681.1,301.1h0M681.5,299.4h0M681,281h0M681.9,289.6h0M680.7,287h0M680.6,294.7h0M681.9,278.5h0M681.8,285.9h0M682.1,293.6h0M681.3,276.5h0M681.7,284.6h0M682.1,290.6h0M681.3,273.9h0M682.4,299.5h0M682.1,280.9h0M682.8,289.2h0M682.8,288.1h0M681.6,298h0M681.8,279.8h0M681.7,277.6h0M682,284.9h0M682.3,292.1h0M682.1,291.2h0M682.3,275.4h0M682.3,284h0M681.6,282.7h0M682.3,289.9h0M683.3,271.8h0M681.7,280.2h0M682.6,288.5h0M683,287.3h0M682,268.8h0M682.8,278.9h0M682.2,277.7h0M682.2,286h0M682.7,294.6h0M683,293.7h0M683.1,276.7h0M684.7,284.9h0M683,282.4h0M683.1,290.8h0M682.5,274.7h0M682.7,274h0M681.4,281.1h0M683.2,288.1h0M683.4,287.8h0M684.1,271.4h0M683.3,280.1h0M683.4,277.7h0M683.2,285.9h0M683.8,269.9h0M683.3,268.7h0M681.9,285.5h0M683.7,283.5h0M683.2,291.3h0M683.7,275.1h0M684.1,274h0M684.1,281.7h0M684.1,289.7h0M683.5,287.9h0M683.8,273h0M684.3,280.5h0M684.4,279.3h0M684.5,288h0M682.9,271.8h0M684.5,270.4h0M684.3,277.9h0M684.2,285.7h0M684.3,284.4h0M684.1,268.9h0M684.1,276.2h0M683.9,275.3h0M684.8,282.9h0M684,267.5h0M684.8,289.3h0M684.6,273.4h0M685,282.1h0M684.5,279.9h0M685.1,287.6h0M684.7,272.6h0M685,271.5h0M685.4,278.7h0M684.8,286.3h0M684.5,285.1h0M685.5,277.7h0M684.1,275.8h0M684.8,283.8h0M684.3,268.4h0M684.8,266.8h0M685.1,274.6h0M684.9,282.4h0M685.3,281.3h0M685.8,263.7h0M685.2,273.6h0M685.3,272.1h0M682.8,280.7h0M685.5,285.3h0M685.3,270.9h0M686.3,278.1h0M686.2,277.1h0M685.9,284.6h0M685.8,270.1h0M686.1,268.6h0M684.9,276h0M685.4,283h0M685.9,267.7h0M685.6,274.9h0M685,273.8h0M686,281h0M686.7,266.9h0M686.1,266.1h0M686.1,273h0M685.5,280h0M685.2,278h0M686.5,284.5h0M686.3,271.2h0M685.7,269.4h0M686.4,277h0M686.2,283.3h0M686.1,283.2h0M686.4,269.5h0M686.2,276.2h0M686.4,275.2h0M686.6,281.7h0M686.3,268.5h0M687.3,267.7h0M686.8,274.3h0M686.9,281h0M687.5,280h0M686.6,264.9h0M686.6,273.4h0M687.5,272.4h0M686.9,279.9h0M686.7,265.6h0M686.8,283.8h0M687.4,274.1h0M686.6,276.2h0M686.5,265.1h0M688.1,269.3h0M686.2,279h0M688,280.4h0M687.2,271.9h0M687.5,273.9h0M687.5,283.2h0M687.7,267.5h0M687.2,276h0M688.1,277.6h0M687.3,268.7h0M688,270.7h0M687.5,279h0M688.1,280.7h0M688.4,272.8h0M688.1,274.5h0M687.7,265.2h0M688.4,266.9h0M688.2,276.4h0M688.7,278h0M688.3,269.6h0M688.8,271.5h0M687.3,280.6h0M688.8,281.9h0M689,273.1h0M689.3,275.6h0M688.2,267.1h0M689.2,268.4h0M688.7,277.4h0M689.5,278.3h0M689.5,268.9h0M689.3,271.3h0M688.5,281.1h0M689.1,263.5h0M689.6,273.7h0M690.6,276.6h0M689,265.5h0M689.5,277.7h0M689.5,279.6h0M689.3,270.2h0M689.6,272.7h0M690.3,263.4h0M689.7,263.8h0M690.3,270.5h0M690.4,277.1h0M689.8,276.7h0M690.1,262.7h0M690.2,269.5h0M689.6,268.2h0M689.6,275.2h0M689.8,261.3h0M690.3,260.1h0M690.6,266.4h0M690,274.6h0M689.3,272.7h0M689.9,279h0M689.9,266.1h0M690.6,265.4h0M688.9,272.1h0M689.9,278.1h0M690.1,278.5h0M690.5,261.4h0M690.3,270h0M690.8,268.7h0M690.9,275.9h0M690.4,261.3h0M690.4,258.5h0M690.3,267.6h0M690.6,274.8h0M690.8,274.6h0M690.6,259.1h0M690.8,266.2h0M690.6,264.6h0M691.5,271.9h0M691.1,258.1h0M691.5,277.8h0M691.1,264.2h0M692.3,270.9h0M691.8,269.9h0M691,277h0M691.4,262.9h0M691.6,259.4h0M691.2,267.9h0M690.8,275.7h0M691.3,276.1h0M692.1,259.1h0M690.3,266.7h0M691.5,265.6h0M691.8,273.4h0M691.8,257.2h0M691.7,264.2h0M691.4,271.9h0M691.4,270.3h0M691.4,256.1h0M692.5,261.9h0M692.6,269.3h0M692.4,277.9h0M692.5,275.5h0M691.3,260.7h0M692.1,268.2h0M692,266.5h0M692.9,275.6h0M692.4,257.7h0M692.4,257.8h0M692.9,265.4h0M692.7,273.4h0M692.7,272.1h0M692.2,255.5h0M692.1,264.2h0M692.8,262.9h0M692.9,270.7h0M692,255h0M692.1,253.6h0M692.9,261.7h0M692.8,269.7h0M693.7,268.4h0M692.1,278.1h0M692.6,260.5h0M693.5,259.3h0M692.8,267.1h0M692.9,275h0M692.5,274.6h0M693,258.3h0M692.5,265.9h0M693.1,264.6h0M692.8,256.6h0M693.1,255.4h0M693.9,263.4h0M693.2,271.3h0M692.6,270h0M693.3,255.1h0M693.5,262.3h0M693.3,261.2h0M694,268.8h0M693.7,277.3h0M694.2,276h0M693.9,259.9h0M694,267.9h0M694.1,266.5h0M693.2,274.9h0M693.9,258h0M694.1,257.4h0M693.9,265.3h0M693.8,273h0M693.3,271.7h0M693.4,256.5h0M694.8,264h0M694.6,262.7h0M694.3,271.9h0M693.7,254.5h0M694.2,253.2h0M693.6,261.5h0M693.6,269.6h0M694.6,268.5h0M694.4,277h0M694,260.5h0M694,259.4h0M694.3,267.6h0M694.3,275.2h0M694.8,274.5h0M694.4,257.9h0M695.3,266h0M694.1,264.8h0M693.2,273.3h0M694.7,257.2h0M693.8,256h0M695.2,263.6h0M694.7,271.5h0M694.9,270.6h0M695.3,253.9h0M695.4,262.3h0M695.4,261h0M695,269.2h0M695.7,252.7h0M695.5,277.1h0M695.4,259.9h0M695.5,267.7h0M696,267h0M695.1,274.6h0M695,257.8h0M695.1,256.7h0M695.1,265.4h0M695.2,274.3h0M695.6,273h0M695.8,256.5h0M695.1,264.3h0M695.4,263.2h0M696.2,271.1h0M695.6,253.3h0M695.5,252.1h0M696.5,261.5h0M696.6,270.5h0M696.2,268.9h0M696.1,251.1h0M695.4,260.4h0M695.6,258.7h0M696,267.7h0M696.2,275.1h0M696.5,274.1h0M695.9,257.1h0M696.5,266.2h0M695.9,264.8h0M695.6,257.4h0M696.2,255.9h0M696.9,263.7h0M696.5,272.2h0M696.3,270.1h0M696.5,255.1h0M696.6,262.3h0M696.7,261.3h0M696.8,269.6h0M696.5,251.7h0M696.9,250.9h0M697,260h0M697,267.8h0M697,266.6h0M696.7,276.5h0M696.4,259h0M697.1,257.8h0M698,265.4h0M697.5,273.1h0M697.3,271.8h0M697.4,256.7h0M696.4,264.3h0M697.3,263.2h0M697.9,271.2h0M697,255.7h0M697.9,254.3h0M697.4,261.8h0M697.1,269.1h0M697.6,269.1h0M697.9,253.2h0M697.4,260.4h0M698,259.4h0M697.3,267h0M697.3,251.7h0M697.9,274.5h0M697.4,257.8h0M696.9,265.5h0M697.5,264.6h0M697.8,272.6h0M698.4,256.8h0M698.7,255.5h0M697.6,263.3h0M698.6,270.3h0M698.4,254.4h0M698.3,261.7h0M698.1,260.3h0M698.7,267.9h0M698.3,252.3h0M698.5,265.9h0M699.1,251.3h0M698.4,258.3h0M699.5,255.7h0M699.2,264.2h0M698.3,272h0M698.3,270.9h0M699.1,263.1h0M698.6,261.9h0M698.6,269.7h0M699.9,253.7h0M699,251.8h0M698.7,260.3h0M699.6,268.1h0M699.1,266.7h0M699.4,251.8h0M700.2,259.1h0M698.8,258h0M698.8,265.4h0M699.4,250.8h0M699.4,271.6h0M699.4,255.8h0M699.3,263.7h0M699.4,262.5h0M699.5,270.7h0M699.2,254.5h0M698.7,252.6h0M699.7,261.7h0M700.3,269.2h0M700.2,268.9h0M700.4,260.2h0M699.6,258.6h0M699.4,267.1h0M700.6,251.1h0M700.2,249.1h0M699.8,257.5h0M700.1,265.6h0M700.4,264.6h0M700.2,247.2h0M699.5,256.2h0M700.7,252.9h0M700.1,262.2h0M700.3,270.9h0M700.3,269.8h0M700.7,252.3h0M700.6,261h0M700.6,259.7h0M700.5,268.2h0M700.1,251.3h0M700.1,249.8h0M700.7,257.6h0M700.6,265.9h0M700.5,264.1h0M700.7,248.5h0M701.2,256.2h0M701.5,255.2h0M700.5,263.4h0M700.6,246.7h0M701.5,242.4h0M700.1,251.8h0M701,261h0M700.6,259.5h0M701.2,268.2h0M701.3,250.4h0M701.5,258.1h0M701.7,266.5h0M701.5,247.5h0M701,256.9h0M701,254.4h0M701.3,263.3h0M702.3,245.5h0M701.8,244h0M701.4,253.1h0M701.4,262h0M702,260.3h0M701.4,242h0M701.6,251.9h0M701.5,248.6h0M702.2,256.3h0M701.5,262.7h0M701.6,241.5h0M702,266.7h0M702.7,252.1h0M701.5,259.6h0M702.5,255.6h0M701.6,262.3h0M702.1,241.3h0M701.6,248.6h0M701.4,244.8h0M702,251.6h0M702.5,259h0M701.6,266.6h0M702.4,260.8h0M702.1,241.8h0M702.2,251.9h0M701.8,250.6h0M702.4,259.9h0M702.7,241.3h0M702.2,240.6h0M702.6,249.3h0M702.2,258.2h0M703.1,256.8h0M702,238.5h0M703.2,247.9h0M702.2,246.7h0M703.5,264.2h0M703.1,263.8h0M702.3,245.2h0M702.6,254.6h0M701.9,252.1h0M703.2,260.7h0M703.2,243.6h0M703.1,242.4h0M703.1,250.9h0M702.6,259.8h0M702.9,259.4h0M703.2,241.7h0M703.2,249.7h0M703.7,249h0M702.8,257.9h0M703.1,238.9h0M702.9,242.7h0M704.5,250.1h0M703.2,257.2h0M704.5,256.1h0M703.4,263.6h0M703.5,247h0M703.8,255.1h0M703.8,261.8h0M703.1,260.3h0M703.8,246.5h0M704,253.4h0M703.9,252.3h0M704.2,259.8h0M704.7,244.5h0M704.3,245.1h0M704.7,251.4h0M704.1,259h0M703.9,258.7h0M704.5,249h0M704.9,255h0M703.6,260.8h0M704,266.5h0M704.1,257.7h0M704.5,262.2h0M704.4,268.4h0M704.7,256h0M704.7,254.4h0M704.4,261.3h0M704.2,269.1h0M704.8,267h0M704.7,254.1h0M704.7,260.4h0M704.5,259.4h0M705.1,252.6h0M704.5,256.4h0M705.8,263.9h0M704.5,267.1h0M705,263.3h0M705,270.8h0M705.4,277.1h0M705.1,280.6h0M705.5,262.3h0M705.4,271.3h0M705.2,270.2h0M705.2,277.7h0M705.7,261.3h0M705.7,259.7h0M705.6,269.1h0M705.1,277.9h0M705.6,277.1h0M706,261.6h0M706.5,268.9h0M705.6,271.4h0M706.6,280.5h0M706.2,282.8h0M706,273.8h0M706,288.1h0M705.3,272h0M706.1,271.1h0M706.8,279.6h0M706.5,286.7h0M706.4,269.6h0M706.6,278.2h0M706.1,277h0M706.8,285.4h0M706.5,268.3h0M706.7,270.2h0M707.3,277.3h0M706.4,285.6h0M706.9,283.4h0M706.6,275.8h0M706.8,275.1h0M706.8,290.5h0M707.3,292.3h0M707,274.8h0M707.2,283.8h0M706.9,282.3h0M707.1,291.8h0M706.5,272.3h0M707.4,272.6h0M706.9,280.9h0M707.6,291h0M707.4,288.5h0M707.8,270.3h0M708.2,279.8h0M707.9,279.3h0M707.1,288.1h0M706.9,270.9h0M707.6,269.5h0M707.8,277.7h0M706.8,286h0M707.3,285.4h0M707.6,292.9h0M707.5,276.4h0M708.3,276.1h0M707.4,285.5h0M707.9,294h0M707.5,292.6h0M706.9,273.8h0M708.4,283.8h0M707.2,282.5h0M706.5,291.2h0M708.1,273.4h0M709,274.4h0M709.1,282.4h0M708.5,290.5h0M708.6,289.4h0M708.5,273.1h0M707.9,281.5h0M708.8,280.1h0M707.8,288.9h0M708.1,272.7h0M708.3,297.2h0M708.4,279.7h0M708,288.3h0M708.7,287.1h0M708.9,297h0M708.2,278.1h0M708.3,277.2h0M708.6,285.8h0M708.8,294.2h0M708.6,293.4h0M708.7,276.3h0M708.6,284.5h0M709.8,293.5h0M709.7,275.4h0M709.2,276h0M708.8,283.5h0M709.1,291.4h0M709.2,290.1h0M709.4,275h0M708.8,282.4h0M710,282h0M709.3,290.3h0M709.7,299.1h0M709.2,297.8h0M709,280.7h0M710.1,289.1h0M709.5,287.8h0M709.1,296.4h0M709.5,279.2h0M710.2,278.5h0M709.7,287.1h0M709.5,295.6h0M710.2,294.5h0M709.2,277.7h0M709.8,286.6h0M710.1,285.3h0M709.8,293.1h0M710.3,300.8h0M710,284.8h0M710,292.7h0M710.8,300.8h0M710.3,284h0M710.1,282.5h0M710.7,291.5h0M710.3,299.9h0M710.1,298.6h0M710.7,280.1h0M711,290.3h0M710.3,298.1h0M709.5,282.6h0M710.4,281.2h0M710.8,296.6h0M710.6,296.4h0M711.1,280.7h0M710.2,287.7h0M711.5,287.9h0M711.3,296.7h0M710.8,305.2h0M710,305.1h0M710.6,286.1h0M710.7,295.6h0M711.1,294.2h0M711.5,303h0M710.9,285.6h0M711.9,284.5h0M711.8,292.9h0M711.3,301.9h0M711.1,301.2h0M711,285.1h0M711.3,293.1h0M711.7,291.7h0M711.6,299.6h0M711.2,284.3h0M711.7,281.2h0M711.3,290.9h0M711.6,298.8h0M711.4,308.7h0M712.4,290.2h0M712.2,288.6h0M712.2,298.3h0M711.8,307.3h0M712,305.9h0M712.6,288h0M711.8,297h0M712.9,296.8h0M711.7,305.3h0M712.7,287.8h0M711.8,295.8h0M711.1,305.1h0M713.3,302.7h0M712.6,286.3h0M712.1,294.7h0M713,304h0M712.9,285h0M713.4,311.1h0M713.1,293.2h0M712.5,302.5h0M712.7,301h0M712.6,310.2h0M712.1,292h0M713.1,290.3h0M712.4,299.7h0M712.9,309.2h0M713,308.1h0M713.2,291.7h0M713,299.8h0M712.8,298.5h0M713,306.5h0M712.3,290.7h0M712.3,288.6h0M713.7,297h0M713.8,306.3h0M713.4,305.7h0M713,295.4h0M713.2,304.7h0M713.4,313.4h0M713.4,312.1h0M713.5,293.5h0M713.6,303.5h0M713.1,302.1h0M713.5,292.5h0M713.2,292.7h0M713.6,301.9h0M713.3,310.3h0M714.2,308.9h0M713.9,292.3h0M713,300.8h0M713.9,299.7h0M713.9,307.8h0M713.6,291.6h0M714.1,290.3h0M714,299h0M714.3,308.3h0M714.6,307h0M714.3,317.2h0M714.6,297.8h0M714.6,296.8h0M714.5,305.2h0M714.2,314h0M714.7,313.2h0M714.7,297.6h0M715.6,304.1h0M714.3,312h0M714.6,296.3h0M714.9,294.9h0M715.6,303h0M714.5,310.8h0M714.7,310.8h0M715.1,292.6h0M715,302.2h0M715.1,301h0M714.8,309.6h0M714.3,293.2h0M715.5,316.4h0M715.1,299.2h0M714.8,308.5h0M715.1,307.3h0M715.2,315.2h0M717.2,298.7h0M715.7,299.6h0M715.9,307.4h0M715.5,315.1h0M715.6,314.8h0M715.7,298.4h0M716,306.2h0M716.1,305.1h0M716,313.8h0M715.2,297.8h0M715.5,296.8h0M715.8,304.6h0M715.5,313h0M715.8,311.8h0M716.8,319.2h0M716.1,303.5h0M715.6,302.3h0M715.7,310.9h0M716.4,318.3h0M716.4,317.2h0M716.1,302.6h0M715.4,310h0M716.8,309.2h0M716.1,316.8h0M715.9,301.6h0M716.3,300.4h0M716.2,308.1h0M716.8,315.4h0M716.3,315.6h0M716.9,299.4h0M716.2,307.6h0M716.8,306.8h0M716.5,314.7h0M715.9,298.1h0M717.6,321.6h0M716.3,305.6h0M717,313.6h0M716.4,312.4h0M717.2,320.1h0M717.2,304.5h0M716.9,303.5h0M716.5,312.1h0M717.2,319.4h0M717.6,303.8h0M717,311h0M717.4,309.8h0M717.5,318.2h0M716.5,303h0M716.8,301.6h0M717.6,309.8h0M718.4,318.3h0M717.5,316.8h0M717.6,300.1h0M717.2,308.6h0M717.8,307.3h0M718,315.2h0M717.5,322.8h0M718.2,321.8h0M717.3,306.4h0M717.7,314.5h0M718.1,314h0M718.1,322.5h0M718.3,306.9h0M718.3,304.4h0M717.5,312.9h0M717.9,319.8h0M717.9,321.1h0M717.9,304.9h0M718.6,313.1h0M718.4,323h0M717.8,304h0M718.7,301h0M717.9,311.7h0M717.4,320.8h0M718.5,319.6h0M719,328.8h0M718.8,310.3h0M719.1,311.2h0M719.5,319.5h0M719.4,327.1h0M718.7,326.5h0M719,310.2h0M718.7,318.5h0M718.8,317.1h0M719.9,325.2h0M718,308.9h0M718.9,308.4h0M719,316.5h0M719.1,324.5h0M718.8,332.3h0M718.9,328.4h0M719.6,337.4h0M718.6,312.7h0M720.2,320.3h0M719.5,316h0M718.1,324.1h0M719.1,332.2h0M719.5,308.4h0M719,335.9h0M719,312h0M719.1,319.9h0M719.1,328h0M718.5,325.6h0M719.1,335.5h0M718.5,316.1h0M720.1,314.7h0M719.6,324.1h0M719.3,333.3h0M718.9,335.3h0M719.5,311.6h0M718.7,319.3h0M719,327.3h0M719.7,326h0M720.4,333.4h0M718.8,340.7h0M719.7,310.7h0M720,318.3h0M719.8,318.3h0M720,326.6h0M719.2,334.2h0M720.1,342.9h0M720.2,334.6h0M720.4,342.4h0M719.8,312.6h0M719.9,319.6h0M720.2,327.3h0M720.5,321.5h0M720.1,330.5h0M719.6,339.2h0M720.3,312.3h0M721,344.7h0M720.2,322.4h0M720.2,329.5h0M721.1,336.9h0M719.5,340.3h0M720.6,316.7h0M720.6,325.9h0M721,322.6h0M720.5,330.7h0M720.2,339h0M720,348.4h0M720.1,344.2h0M721.1,318.2h0M720.6,326.9h0M721.3,335.7h0M720.8,331h0M720.6,339.9h0M721,348.5h0M721.4,321h0M720.1,317.6h0M720.3,326.4h0M720.8,335.1h0M720.8,344.6h0M721.5,340.4h0M721.2,348.6h0M720.6,322.7h0M720,331.6h0M721,327.2h0M720.9,335.5h0M720.7,343.9h0M721.4,352.3h0M720.5,347.7h0M721.6,322.2h0M721.8,331.1h0M722.2,339.3h0M721.5,335h0M722.9,343.3h0M720.9,352.2h0M721.5,326.5h0M721.3,322.2h0M721.7,330h0M721.2,338.9h0M720.8,347h0M721.4,342.8h0M722.1,351.6h0M721.3,334.4h0M721,338.4h0M721.7,347.9h0M720.6,321.3h0M721.5,351h0M721,327.1h0M721,343.4h0M722.4,338.6h0M721.3,346.3h0M722.4,322.8h0M721.9,330.2h0M723,326.5h0M722.3,342.3h0M721.7,350.4h0M722.3,342.1h0M722.2,323.8h0M721.9,332.9h0M722.2,331.6h0M722,340.9h0M721.9,322.6h0M722.6,319.8h0M722.4,330.4h0M722.3,339.4h0M723,338.6h0M722,348.6h0M722.9,329.4h0M722.6,328.2h0M722.9,337.4h0M722.6,345.6h0M723,327h0M722.6,335.6h0M722.3,334.4h0M722.7,342.9h0M723.1,325.7h0M723.3,323.3h0M723.1,333h0M723.3,334.4h0M722.9,325.7h0M721.7,327.5h0M723.7,336.7h0M723.6,338h0M723.6,329.7h0M723.1,332.2h0M723.7,323.1h0M723.9,324.8h0M722.9,333.8h0M724.1,334h0M724.1,326.7h0M723.9,327.5h0M723.5,334.3h0M723.4,322.7h0M724.6,329h0M725,330.5h0M723.8,322.7h0M725.6,324.8h0M724,332.9h0M723.6,335.1h0M724.2,326.4h0M724.6,328.2h0M725.1,320.6h0M725.1,321.2h0M724.3,328.4h0M724.6,330.9h0M725.2,323.6h0M725.1,325.2h0M724.9,331.2h0M725,317.5h0M725.7,328h0M724.7,321.3h0M725.9,322.7h0M724.8,329.6h0M725.7,331.7h0M725.4,324.3h0M726,325.5h0M725.5,320.5h0M726,327.3h0M725.8,328.6h0M725.5,321.2h0M726.2,331h0M726.1,333.1h0M726.3,324.9h0M725.3,326.5h0M726.5,319.8h0M726.1,321.2h0M726.4,327.6h0M726.7,328.8h0M726.2,322.9h0M726.1,324.1h0M725.3,330.7h0M726.4,319.3h0M727.3,327.4h0M726.7,321.6h0M725.9,328.8h0M726,329.8h0M727.4,323.7h0M726.3,318.4h0M727,320.3h0M727.3,326.4h0M727.1,327.8h0M727.3,321.7h0M727.5,322.6h0M727.5,329h0M727.4,331.2h0M727.7,324.5h0M727.6,326h0M727.4,318.7h0M728.3,321.6h0M727.6,327.9h0M727.9,329h0M728.4,324.3h0M728.1,330.4h0M728.2,319.3h0M728.3,325.8h0M727.9,327.5h0M728.1,321.7h0M728.1,322.7h0M729.5,329.8h0M728.9,331.6h0M729.1,343.6h0M728.3,349.5h0M729,350.9h0M727.3,345.3h0M728.7,346.6h0M728.3,352.2h0M729.4,353.6h0M729.2,347.5h0M728.5,350.2h0M729.6,346.7h0M729.5,354.3h0M729.6,347.7h0M729.5,350.6h0M729.3,359.1h0M729.2,359.7h0M729.7,352.1h0M729.7,354h0M729.7,349h0M729.6,355.8h0M729.4,358h0M730,350.8h0M730,352.7h0M729.8,359.7h0M730.2,348.2h0M731,355.9h0M730.7,358.4h0M730.1,350.4h0M730.4,351.6h0M730.3,360.1h0M729.6,363.1h0M731.2,353.8h0M730.6,356.8h0M730.8,348h0M730.9,350h0M730.3,358.6h0M731.2,352.7h0M732.3,355.5h0M730.8,363.7h0M730.8,366.3h0M731.3,357.4h0M731.2,359.6h0M731.1,350.8h0M731.2,352h0M730.9,361.7h0M731.1,363.9h0M731.7,356.2h0M731.6,357.8h0M731.4,365.4h0M732.5,351.2h0M732,362.9h0M732.6,353.2h0M731.3,356.4h0M731.8,365.5h0M731.9,368.3h0M731.4,358.2h0M732.5,361h0M732,353h0M732.5,354.9h0M732.2,363h0M732.1,364.9h0M732.1,356.8h0M732.5,359.4h0M732.3,367.7h0M731.5,351.3h0M732.5,361.6h0M732.2,363.8h0M733.4,354.7h0M732.6,356.2h0M732.9,365.8h0M733.1,368.5h0M733.7,359.9h0M733.7,361.9h0M732.9,370h0M733.7,356.1h0M733.4,363.9h0M733.6,367.1h0M733,357.4h0M733.4,360.2h0M733.2,368.8h0M734.1,372.2h0M733.5,362.3h0M733.9,364.4h0M734,355.8h0M734.9,358.7h0M733.9,367h0M734.1,368.5h0M733.8,360.4h0M733.9,362.6h0M734.2,370.6h0M734.2,356.4h0M733.8,365.4h0M733.4,367.5h0M733.9,359h0M734.6,369.6h0M735.1,372.6h0M734.4,363.8h0M734.6,365.7h0M734.4,357.4h0M734.6,359.5h0M734.6,367.7h0M734.6,370.7h0M735.3,361.1h0M734.7,364.1h0M733.5,372.6h0M734.9,375.3h0M735.2,366h0M735.1,368.2h0M735.1,359.6h0M735.3,362.6h0M734.6,370.5h0M735.8,372.3h0M735.6,364.6h0M735.6,366.4h0M736.3,374.3h0M736.5,360.3h0M736.6,369.2h0M736.5,371.6h0M736,361.8h0M735,374.6h0M735.4,375.8h0M735.9,367h0M735.8,369.3h0M736.9,361h0M736.7,362.1h0M736.3,371.1h0M738,374h0M736.4,364.8h0M736.9,376.7h0M737,359.2h0M736.5,369.2h0M735.8,371.5h0M738.1,362.2h0M737,365.1h0M737.3,374.4h0M736.9,375.7h0M737.5,366.8h0M737.8,369.1h0M737.5,378.9h0M738.2,363.3h0M738.2,371.4h0M737.4,364.8h0M737.4,367h0M737.3,375.9h0M737.5,378.6h0M737.4,369h0M737.2,371.6h0M737.6,362.7h0M737.3,365.2h0M736.2,373.3h0M738.6,376.1h0M738.2,366.9h0M738.3,368.7h0M738.3,377.1h0M738.3,362.3h0M738.2,370.9h0M738.5,372.8h0M739,364.4h0M738.1,366.1h0M738.7,375.6h0M738.3,378.2h0M739.1,370.6h0M738.2,362.8h0M738.8,364.4h0M738.9,372.4h0M739.1,373.9h0M739.4,366.1h0M738.4,367.9h0M738.5,376.2h0M739.7,362h0M738.4,369.9h0M738.7,372.1h0M739.7,364.6h0M739.8,366.2h0M739.8,374h0M740,375.4h0M739.3,367.4h0M739.7,369.5h0M740.2,376.7h0M739.7,364h0M740,371.5h0M740.6,373.1h0M740.5,365.6h0M740,375h0M740.4,376.3h0M740.5,369.3h0M740.3,371h0M740.1,363.8h0M740.6,365.6h0M740.3,373.4h0M740.5,371.9h0M742.9,367.8h0M740.4,375.1h0M740.8,363.4h0M741.4,370.8h0M741.2,366.7h0M741,372h0M741.8,373.4h0M741,367.9h0M740.8,368.9h0M743,363.2h0M741.7,369.4h0M741.9,366.5h0M741.3,371.3h0M742.6,368.7h0M741.1,366.2h0M744.1,346.7h0M744.1,348.8h0M744.2,347.4h0M744.2,350h0M744.6,347.2h0M744.8,345.2h0M744.8,349.2h0M744.7,346h0M745.1,351.7h0M745.2,347.7h0M744.6,342.8h0M745.1,348.6h0M745.4,345.7h0M745.5,341.1h0M744.9,347.9h0M746,344.5h0M746,349.3h0M745.5,341.6h0M746,347.5h0M746.1,344.1h0M746.5,348.4h0M747.4,345.8h0M746.7,341.9h0M747.2,348.8h0M746.4,343.6h0M747.3,339.8h0M747.2,345.3h0M747.3,341.3h0M746.5,348h0M747.4,343.6h0M747,337.9h0M748.4,339.5h0M747.9,344.7h0M748.2,346h0M748.1,340.7h0M747.8,341.6h0M747.6,348.2h0M747.8,337.5h0M748.8,343.9h0M748.3,340.1h0M748.5,344.8h0M748.7,345.9h0M748.5,341.5h0M748.6,346.9h0M748.4,336.9h0M748.6,343h0M748.5,344.3h0M749,338h0M748.9,339.5h0M749,345.2h0M749.1,346h0M749.1,340.7h0M748.8,335.1h0M748.7,336.6h0M750.1,342.9h0M749.1,344.4h0M749.9,338.2h0M749.8,345.5h0M748.8,333.5h0M749.6,340.7h0M750.8,342.2h0M750,336.1h0M750.1,337.8h0M750.1,343.5h0M750,344.9h0M750.6,339.6h0M750.2,330.9h0M749.6,334.1h0M750.3,341.4h0M751.7,343.4h0M750.8,336h0M750.4,337.4h0M750.5,344.4h0M750.7,344.5h0M751,338.8h0M750,340h0M750.9,333.9h0M750.4,334.3h0M750.8,341h0M751.7,343.6h0M751.2,335.8h0M750.3,337.6h0M751.4,331h0M751.5,340.3h0M751.8,333.1h0M751.5,341.9h0M749.6,342.6h0M752.3,335.8h0M751.3,337.6h0M751.9,330.7h0M752.2,332h0M750.7,339.4h0M751.7,340.8h0M752.6,333.9h0M752.2,335h0M752.2,341.8h0M752.1,328.7h0M752.4,336.5h0M752.3,338h0M752.3,332.6h0M752.7,340.1h0M752.3,341.9h0M753.3,333.9h0M753.6,335.7h0M753.4,343.7h0M752.6,330.1h0M752.1,337.2h0M753.1,338.7h0M753.3,331.5h0M752.2,332.9h0M753.4,339.4h0M753.4,341.2h0M753.9,334.4h0M753.6,335.9h0M752.7,328.7h0M753.2,331.1h0M753.3,337.2h0M754,338.8h0M754.6,332.1h0M753.9,333h0M753.3,340.2h0M753.1,329.2h0M753.4,334.3h0M753.4,335.8h0M754.5,330.2h0M753.9,356.1h0M753,363.3h0M753.6,357.4h0M753.6,359.4h0M753.6,365.8h0M753.8,369.3h0M754.6,361.9h0M753.9,364.4h0M753.8,373.1h0M753.5,358.5h0M754.2,367.6h0M753.9,371.4h0M754.1,357.4h0M754.4,363.9h0M754.6,364.3h0M755,372h0M754.1,379.5h0M755.2,381.7h0M754.6,363.9h0M754,372.5h0M754.8,373.2h0M752.9,381.3h0M754.5,364.6h0M754.6,373.7h0M754.2,382.5h0M755.6,383.2h0M754.9,364.8h0M754.6,373.9h0M755.3,383.7h0M755.1,365.1h0M755.6,363.5h0M754.7,374.3h0M755.2,383.9h0M754.9,383.2h0M755,392.4h0M755.1,374.6h0M754.9,374.8h0M755.7,383.5h0M755.3,393.2h0M755.7,392.1h0M755.8,375.7h0M755.7,384.2h0M755,376.3h0M756.3,376.9h0M755.2,384.6h0M756.1,392.7h0M755.7,377.9h0M755.1,385.1h0M757.2,385.3h0M755.6,393.4h0M755.7,378.8h0M755.7,400.7h0M755.9,386.7h0M756.8,393.6h0M755.8,394.2h0M757,384.6h0M756.5,389.2h0M756.2,398.3h0M756.2,401.5h0M756.4,393.3h0M756.4,396.5h0M756.5,405.5h0M757.2,391.2h0M756.3,399.6h0M756.8,402.8h0M756.6,394h0M756.7,397.5h0M756.9,405.9h0M757.2,409.7h0M756.7,400.6h0M757.7,404h0M756.5,395.7h0M757.9,399h0M757.3,407.6h0M757.2,410.6h0M756.8,401.8h0M757.1,404.9h0M757.4,414.8h0M758.1,400.3h0M757.6,408.3h0M757.3,411.6h0M757.4,401.9h0M758.2,406.1h0M757.7,414.6h0M757.7,418.7h0M758.9,409.9h0M758.2,413.3h0M757.9,422.2h0M758.1,408h0M758.6,417h0M758,420.2h0M758.4,410.5h0M757.7,414.2h0M757.8,423h0M758.5,425h0M757.7,416.7h0M758,419.1h0M758.9,410.9h0M756.8,413.6h0M758.6,421.1h0M758.8,423.7h0M758.7,416.9h0M759.3,419h0M758.4,424.9h0M759.5,416.4h0M758.6,422.6h0M758.2,419.4h0M759.4,424.8h0M759.1,421.2h0M760,417.1h0M759.3,422.6h0M760.1,417.4h0M760.1,418.1h0M760.2,424.1h0M760,423.6h0M760.1,418.4h0M760,418.9h0M758.6,412.1h0M759.8,413.1h0M760.7,419.6h0M760.6,420.2h0M760.6,414h0M760.6,414.9h0M760.8,421.3h0M760.1,408.8h0M760.6,415.6h0M761.2,416.5h0M760.9,409.7h0M761.1,410.3h0M760.4,417.3h0M761,417.9h0M761,411.1h0M761.1,411.6h0M760.5,404h0M761.6,405.4h0M761.3,412.4h0M761.4,413.7h0M762.3,406.6h0M761.5,407.3h0M761.9,413.7h0M761.8,401.3h0M761.7,407.9h0M761.7,408.6h0M762,401.9h0M761.9,403.4h0M762.6,409.3h0M762,409.4h0M761.6,404h0M761.7,404.3h0M762.7,411.1h0M763,399.2h0M762,404.9h0M762.5,405.6h0M762.7,399.8h0M761.9,400.3h0M762.3,406.6h0M763.1,401.3h0M762.1,397.2h0M763.1,398h0M763.8,394.2h0M763.8,398.8h0M763.6,394.9h0M763.7,399.9h0M763.7,395.7h0M763.4,390.8h0M763.7,396.3h0M764.2,392.5h0M764,387h0M763.9,393.4h0M764.9,389.7h0M764.9,394.8h0M764.7,390.5h0M764.5,387.4h0M765.1,392.1h0M764.7,387.9h0M764.8,392.1h0M764.5,388.7h0M765.5,386.1h0M765.6,389.5h0M765.7,387.1h0M765.5,384.9h0M765.9,387.6h0M766.3,389.3h0M766.2,387.6h0M766.2,384.1h0M766.6,390.7h0M765.5,387.5h0M766.1,395.5h0M766.3,391h0M766.7,386.1h0M767.6,387.9h0M767.2,393.8h0M767,395.2h0M767.2,389.7h0M766.9,391.9h0M767,397.5h0M767,387.7h0M768,394.2h0M767.2,396.3h0M767.3,389.8h0M766.6,392.1h0M767.6,398.5h0M767.7,401.1h0M766.9,394.2h0M767.7,396.6h0M768.1,389.7h0M767.5,392.7h0M768.3,399h0M768,395.1h0M768.7,403.5h0M768.5,392.4h0M767.7,399.9h0M768.6,402.1h0M768.5,395h0M768.6,397.8h0M769.1,404.6h0M768.7,407.8h0M768.8,400.4h0M768.3,402.8h0M768.6,408.3h0M768.4,399.5h0M768.6,405.2h0M769.1,407.6h0M768.9,401.2h0M769.3,403.7h0M769.2,410h0M769,411.2h0M769.2,405.6h0M769.4,407.6h0M769.6,403.5h0M768.9,410h0M770.5,407.2h0M769.9,403.9h0M769.8,408.9h0M769.9,405.1h0M770.8,410.7h0M769.8,406.3h0M770.1,401h0M770.3,401h0M770.9,407.4h0M770.6,408.2h0M770.8,402.4h0M770.8,409.9h0M771.3,411.4h0M770.7,403.6h0M771.1,404.6h0M770.6,396h0M771,397h0M771,405.2h0M771.3,406.6h0M772,398.1h0M771.6,398.9h0M770.6,406.1h0M772.1,391.5h0M771.6,399.5h0M772,400.4h0M771.6,391.9h0M771.4,392.8h0M771.2,400.9h0M771.3,401.9h0M771.9,394h0M772,394.8h0M771.5,387.4h0M772,388.1h0M771.7,395.6h0M772.9,396.1h0M770.7,388.5h0M772.5,389.4h0M772.5,397.1h0M772.5,383h0M771.9,390.2h0M773.1,391.4h0M773.3,383.7h0M772.3,384.6h0M772.9,391.9h0M773.2,391.9h0M772.3,385.4h0M773.5,385.9h0M772,378.6h0M772.6,379.8h0M773.3,386.5h0M773.6,387.1h0M773.2,379.9h0M773,380.9h0M773.9,387.6h0M773.6,389h0M773,381.7h0M773,382.6h0M774.3,375.9h0M771.8,376.4h0M773.5,383h0M773.9,383.1h0M773.8,376.4h0M774,377.5h0M774.6,372.3h0M774.8,378.1h0M774.2,378.6h0M773.6,372.5h0M773.4,373.2h0M773.7,379.9h0M774.4,379.7h0M775.2,373.7h0M774.6,374.1h0M774.3,367.9h0M774.7,367.3h0M774.3,374.6h0M774.6,375h0M776.1,368.6h0M775,369h0M775.1,376.8h0M775.3,362.8h0M775.1,369.5h0M775.6,370.6h0M775,361.9h0M776.1,363.9h0M775.1,371.2h0M775.5,373.4h0M775.6,364.3h0M775.9,365.1h0M775.4,372.6h0M775.9,357.7h0M774.8,365.8h0M775.8,366.9h0M775,358.8h0M775.9,359h0M775.8,367.9h0M775.7,368.7h0M776.1,360.5h0M775.2,361.2h0M776.1,352.6h0M776.6,353.4h0M776.2,361.8h0M775.9,362.3h0M776.4,354.2h0M776.5,354.8h0M776.5,363h0M776.6,347.3h0M775.6,355.8h0M776.6,356.8h0M776.2,347.8h0M776.9,348.8h0M776.3,357.6h0M776.5,358.7h0M776.8,350.4h0M777,351.6h0M776.7,344.6h0M776.2,346.1h0M777.1,352.4h0M776.9,353.1h0M777.3,346.9h0M777.2,348.2h0M777,353.4h0M777.3,353.9h0M778.1,349.3h0M777.5,345.6h0M778.2,351.4h0M777.8,347.9h0M778,344.4h0M779.1,351.1h0M777.8,345.4h0M778.4,347.6h0M778.1,353.1h0M778.7,355.8h0M778.6,349.7h0M778.8,352h0M778.5,346.6h0M778.7,347.8h0M778.8,354.3h0M779.2,356.5h0M778.5,350.3h0M779.6,352.7h0M778.9,359h0M779,348.8h0M778.6,354.9h0M779.4,357.2h0M779.2,350.6h0M779,359.9h0M779.9,362.5h0M779,355.3h0M779.6,358h0M779.5,365.3h0M780.5,352.3h0M780.2,360.6h0M780,363.5h0M780.1,356.2h0M779.4,358.9h0M780.2,365.4h0M779.7,367h0M779.8,361h0M780.2,363.1h0M780.5,357.2h0M779.9,359.8h0M780.1,365.2h0M780.1,366.8h0M780.6,361.6h0M779.5,363.7h0M779.7,369.1h0M781.1,360.3h0M779.8,365.7h0M780.6,367.3h0M781.2,364.5h0M780.8,369.4h0M781.3,367.2h0M781.5,362.6h0M780.6,368.2h0M781.7,362.7h0M782,370.4h0M781.7,354.3h0M781.1,363.1h0M782,364.6h0M782,355.8h0M781.9,356.7h0M781.5,366.1h0M781.7,367.9h0M781.4,358.6h0M782.5,360.5h0M782.2,352.5h0M782.8,359.1h0M782.5,366h0M782.2,364.7h0M783.1,351.1h0M780.7,357.7h0M782.7,355.4h0M782.4,362.3h0M782.2,368.9h0M783.3,367h0M782.4,356.6h0M782.2,357.4h0M782.9,348.5h0M782.6,349.9h0M783.2,357.8h0M782.4,357.9h0M782.3,350.3h0M782.6,351.4h0M782.8,358h0M782.3,346.1h0M783.3,351.6h0M783.7,345.5h0M782.9,346.9h0M784.4,351.9h0M783.9,347.8h0M784.1,343.3h0M783.7,349.2h0M783.2,344.1h0M783.8,348.9h0M784.2,345.2h0M784.7,341.2h0M784.3,346.3h0M784.6,342.1h0M785.2,337.7h0M784.8,343.4h0M784.8,338.7h0M785.3,343.5h0M785.5,339.6h0M785.5,335.5h0M785,340.8h0M785.5,335.9h0M785.9,330.7h0M785.7,337.4h0M785.5,331.7h0M785.7,339.2h0M786.5,333.3h0M786.2,333.8h0M786.1,340.9h0M786.7,328.8h0M785.6,334.4h0M786.3,335.6h0M785.9,329.7h0M786.1,330.3h0M786.7,335.7h0M786.2,336.2h0M786.2,330.6h0M786.3,331.2h0M786.6,326h0M784.6,326h0M786.7,332.4h0M786.3,332.2h0M787.4,327.2h0M786.9,327.5h0M787.2,323.5h0M787.7,328.7h0M787.5,323.7h0M787.7,329.4h0M788.4,325.3h0M787.4,321.2h0M787.9,326.3h0M788.1,322.7h0M787.4,326.9h0M788.6,323.7h0M788.4,320.3h0M788.6,324.1h0M788.6,320.9h0M788.6,318.9h0M788.9,321.8h0M789,318.8h0M789.2,321.8h0M789.4,319.9h0M789.6,318.8h0M789.5,320.9h0M789.7,318.3h0M790,322.3h0M790.1,320.3h0M790.1,326.4h0M790.4,323.7h0M790.3,315.8h0M791,319.6h0M790.2,326.2h0M790.7,328.9h0M790.8,322.3h0M790.4,324.3h0M790.9,331.5h0M791.1,334.6h0M791,326.8h0M791,329.2h0M791,321.1h0M791.1,324h0M791.1,332.6h0M791.6,335.3h0M791.5,326.2h0M791.8,328.4h0M791,336.6h0M791.4,323.4h0M791.5,331.3h0M791.2,334.1h0M792,326.3h0M791.3,329.5h0M791.1,338.1h0M792.1,339.1h0M792.5,332.5h0M792.4,335h0M792.2,331.3h0M791.7,337.2h0M792.8,334h0M791.8,336.2h0M792.6,333.4h0M791.2,339.7h0M792.9,337.4h0M793.2,343.3h0M793,340.3h0M793.3,338.3h0M793,341.2h0M793.5,345.1h0M793.7,343.6h0M793.6,341.5h0M793.6,346.5h0M793.6,344.1h0M793.2,341.6h0M794.6,347.3h0M794.8,344.4h0M793.8,349.5h0M794.5,347.5h0M795.1,343.1h0M794.4,350.4h0M794.1,347.2h0M795.2,353.7h0M795.6,350.8h0M794.8,348.1h0M795.2,354.2h0M795.6,351.3h0M796,347.2h0M795.4,354.9h0M795.6,352.1h0M795.9,359.5h0M795.6,355.2h0M796,351.4h0M796.5,358.6h0M796.8,355.6h0M796.4,353.2h0M796.1,358.7h0M797.1,356.4h0M796.2,361.5h0M796.8,359.3h0M796.7,356.8h0M797.5,362.4h0M797.1,359.6h0M797.4,364.6h0M797.2,361.9h0M797.4,360.1h0M797.7,363.5h0M798,361.9h0M798.2,361.1h0M798.1,363.2h0M798.2,362.1h0M798.2,363.8h0M798.4,362.3h0M798.6,359.8h0M798.9,363.8h0M798.8,360h0M798.9,363.9h0M798.5,360.9h0M799.8,357.5h0M799.6,361.9h0M799.2,358.3h0M800.6,353.8h0M799.7,359.5h0M799.3,354.3h0M799.9,355.2h0M799,360.6h0M799.7,360.9h0M799.4,355.7h0M800.3,356.3h0M799.4,351.6h0M800.7,350.9h0M800.4,357.2h0M799.5,357.2h0M800.9,351.7h0M800.8,352.8h0M801.3,358.2h0M800.7,348.2h0M800.9,353.3h0M800.7,349.4h0M801.4,354.8h0M801.9,350.3h0M801.1,346h0M801.1,351h0M801.5,346.4h0M800.4,351.8h0M801.7,347.7h0M801.5,342.5h0M801.7,348.2h0M801.9,344.6h0M801.9,340.8h0M801.3,345.3h0M802.9,341.5h0M802.5,347h0M802.1,342.3h0M802.6,338.1h0M802.6,343.5h0M803,339.2h0M802.5,335.4h0M802.7,340.7h0M803,335.1h0M803.8,342.3h0M803.4,337.3h0M803.1,333.6h0M803.3,337.9h0M804.3,334.6h0M803.8,340.6h0M803.9,335.5h0M804.4,331.7h0M804.5,336h0M804.6,333.2h0M804.7,331.1h0M804.8,334.4h0M804.8,331.5h0M805.2,334.4h0M805.3,332.2h0M805.5,329.3h0M805.5,332.8h0M805.6,330.9h0M805.6,335.9h0M806,332.9h0M805.9,331.2h0M807,336.3h0M806.7,334.3h0M805.9,330.7h0M806.2,336.2h0M806.6,338.6h0M806.7,332h0M806.6,333.1h0M807,340.3h0M804.2,342.2h0M806.7,335.8h0M807.3,337.8h0M807,331.6h0M806.7,333.6h0M806.5,340h0M806.9,342.3h0M807.2,335.7h0M806.8,337.8h0M807,345.6h0M807.6,332.4h0M807.3,340.1h0M807.7,342.4h0M808.2,338.8h0M807.8,344.9h0M807.3,346.9h0M807.5,341.3h0M807.7,343.7h0M807.6,349.7h0M808,340.4h0M807.8,346.1h0M807.8,348.2h0M807.9,343h0M807.6,344.5h0M808.3,350h0M807.6,353.1h0M808.3,346.7h0M808.5,348.7h0M808.6,343.3h0M808.6,345.4h0M807.9,350.7h0M808.8,352.4h0M808.2,347h0M808.6,349.3h0M808.1,355.8h0M809.4,345.2h0M808.3,351.4h0M808.4,353.4h0M809.3,348.2h0M810.1,349.8h0M809,355.2h0M809,356.6h0M809.1,351.9h0M809.6,353.8h0M809.6,348.2h0M810,350.4h0M809.5,355.8h0M809.7,357.8h0M809.4,352.3h0M808.5,354.4h0M809.9,360h0M809.8,351.7h0M809.6,356.5h0M808.9,358.3h0M810.1,353.6h0M810.4,355.1h0M809.3,361h0M810.2,362.1h0M810.4,357.2h0M810.3,359.1h0M810.6,364.8h0M810.5,356.2h0M810.7,361.1h0M810.3,363h0M810.6,357.8h0M810.1,359.7h0M810.2,365.3h0M811.4,367.4h0M810.8,361.8h0M811.8,363.7h0M810.6,358.5h0M811,359.3h0M810.2,365.7h0M810.8,361.5h0M810.9,364.1h0M811.4,370.8h0M811.5,361h0M811,366h0M811.2,367.8h0M812,364.5h0M811.6,371.1h0M812,365.5h0M812.3,370.9h0M812.3,368.6h0M812.5,373.8h0M812.9,371.5h0M812.7,369.7h0M812.7,373.9h0M813,372.1h0M813,370.1h0M813.1,374.2h0M813.1,372.2h0M813.2,377.4h0M813.5,374.3h0M813.6,372.7h0M813.6,376.4h0M813.7,374.7h0M814,373.1h0M814,376.4h0M814.2,375h0M814.3,377.6h0M814.4,376.6h0M814.4,375.6h0M814.5,378.2h0M814.9,378.9h0M814.8,378.1h0M815,377h0M815.3,379.8h0M815.2,378h0M815.3,376.7h0M815.5,379.9h0M815.6,378.5h0M815.7,382.4h0M815.9,379.9h0M816.1,378.6h0M816.3,381.1h0M816.4,382.3h0M816.7,381.6h0M816.4,380.2h0M816.7,384.2h0M816.7,380.5h0M816.9,383.7h0M817.2,381.6h0M817.1,386h0M817.4,383.4h0M817.4,381.7h0M817.7,385h0M817.8,383.5h0M817.9,382.1h0M818.2,385.2h0M818.1,382.7h0M818.4,388.1h0M818.3,385.4h0M818.5,383.6h0M818.8,385.2h0M818.9,389.7h0M819,388h0M819.2,386.1h0M818.7,390.4h0M820.3,388.5h0M819.6,386.4h0M819.7,392h0M819.4,388.8h0M819.9,395.1h0M819.6,392.3h0M818.9,388.2h0M819.8,394.1h0M820.4,396.5h0M820.5,390.5h0M820,392.7h0M820.8,398.2h0M820.6,388.8h0M820.5,395h0M820.8,397.1h0M820.4,390.9h0M821.2,393.2h0M820.3,400.1h0M821.2,401.9h0M820.8,395.1h0M820.7,397.9h0M820.6,404.8h0M820.8,392.8h0M821.4,400.2h0M820.6,402.7h0M820.4,396.1h0M821.4,398.5h0M821.5,405.2h0M822.2,407.7h0M821.3,401h0M821.3,403.6h0M820.7,395.5h0M821.9,399.1h0M821.7,406.1h0M821.5,409.4h0M821.6,402h0M822,404.4h0M822.1,410.5h0M821.6,400.3h0M821.4,406.8h0M821.9,409.1h0M822.6,403.1h0M822.3,404.6h0M822.2,411.2h0M822,413.4h0M822.3,407.5h0M823.1,409.8h0M823.1,402.6h0M820.6,405.3h0M822.1,411.8h0M823.2,413.8h0M823,408.5h0M824,410.3h0M823.4,415.9h0M822.8,413.2h0M823.5,411h0M823.2,415.6h0M823.7,413.5h0M823.6,411.4h0M823.7,414.7h0M823.8,412.4h0M824.2,415.6h0M824.4,412.8h0M824.3,409.1h0M824.7,414.2h0M824.6,409.9h0M824.3,403.8h0M824.9,411h0M824.8,406.1h0M825.1,405.7h0M825,411.5h0M824.9,413.2h0M824.9,407.2h0M824.5,407.7h0M825.2,413.3h0M825.8,401.6h0M825.3,408.5h0M824.9,409.3h0M825.5,403.2h0M825.5,403.9h0M824.8,409.8h0M825.8,411.8h0M825.9,404.5h0M825.6,405h0M826.1,398.4h0M825.5,400.8h0M825.7,405.8h0M826,406h0M826,402.1h0M826.6,398.9h0M826,403h0M826.4,399.9h0M826.6,403.7h0M826.6,400.6h0M826.8,398.2h0M826.9,400.5h0M827.1,399h0M827.3,396h0M827.5,398.8h0M827.4,397.1h0M827.5,399.4h0M827.7,398.4h0M827.6,397.8h0M828,399.4h0M828,397.9h0M828.1,400.9h0M828.3,399.7h0M828.4,398.1h0M828.5,401.1h0M828.6,397.4h0M828.7,401.6h0M828.9,399.7h0M828.9,404.2h0M829.3,401.7h0M829.3,399.8h0M829.5,403.9h0M829.5,402.1h0M829.7,406.5h0M829.7,404.3h0M829.7,402.2h0M830,406.8h0M831,404.5h0M830.4,406.6h0M830.5,403.9h0M830.8,409.1h0M830.6,406.7h0M830.9,404.8h0M831.2,408.8h0M831.1,407.1h0M831.4,404.7h0M831.3,409.3h0M831.7,407.6h0M831.8,410.6h0M831.6,409.4h0M831.8,408.4h0M832.1,410.6h0M832,409.4h0M832.3,411.7h0M832.2,410.4h0M832.3,409.1h0M832.6,410.9h0M832.8,409.4h0M832.9,406.4h0M832.8,410h0M833,408.2h0M833.4,410.9h0M833.3,409h0M833.2,407.1h0M833.5,409.8h0M833.8,407.7h0M833.9,408h0M834,406.4h0M834.2,408.3h0M834.5,406.8h0M834.6,403.9h0M834.6,407.4h0M834.6,405.7h0M834.9,406h0M835,405h0M835.2,407.5h0M835.3,405.6h0M835.4,403.2h0M835.4,406.9h0M835.6,405.6h0M835.7,408h0M835.7,406.9h0M836,405h0M836,408.4h0M836.1,406.4h0M836.5,410.5h0M836.5,408.8h0M836.5,406.9h0M836.7,410.4h0M836.8,408.8h0M837.1,407.1h0M836.8,410.8h0M837.3,409.4h0M837.3,414h0M837.4,411.1h0M837.4,409.8h0M837.8,413h0M837.9,408.3h0M838.1,412.9h0M838.2,411.6h0M838.1,414.7h0M838.1,412.6h0M838.6,409.5h0M838.8,413.9h0M838.6,410.6h0M839,415h0M839.1,412.1h0M839.2,408.5h0M839.1,413h0M838.7,409.9h0M839.2,405.3h0M839,410.6h0M840.2,407.7h0M839.6,411.6h0M839.5,408.2h0M839.9,404.9h0M839.7,408.8h0M839.8,405.7h0M840.1,409.7h0M840.1,406.4h0M841,403h0M840.7,407.3h0M841.4,403.9h0M840.4,400.7h0M841.4,404.9h0M841.7,401.3h0M841.2,405.7h0M841.5,402.3h0M841.3,399.2h0M841.9,403h0M842.4,399.8h0M841.5,394.9h0M842.4,400.4h0M841.6,397h0M842.5,401h0M843.1,398.1h0M842.8,395.2h0M842.9,398.8h0M843,395.6h0M843.2,399.6h0M843.1,396.8h0M843.2,392.5h0M843.6,394.2h0M843.6,391.2h0M843.8,394.9h0M844.1,392.2h0M844,396.9h0M844.1,393h0M844.3,390.9h0M844.4,393.7h0M844.5,391.7h0M844.6,394.1h0M844.5,392.2h0M845,390.5h0M845,392.2h0M845,390.9h0M845.2,389.3h0M845.1,390.2h0M845.3,392h0M845.6,391h0M845.8,390.3h0M846,392.7h0M846.1,391h0M846.3,389.9h0M846.3,390.8h0M846.4,394.2h0M846.5,392.4h0M846.8,390.2h0M846.9,394.4h0M847.1,392.1h0M847.1,398.5h0M847.4,394.9h0M847.4,393h0M847.6,398.4h0M847.7,395.1h0M848,392h0M847.6,397.5h0M847.7,395.5h0M848,400.3h0M848.7,398h0M848.2,396.1h0M848.4,400.2h0M848.6,398.3h0M848.8,396.3h0M848.8,398.7h0M848.8,403.1h0M849.1,400.5h0M849.5,399.1h0M849.3,402.5h0M849.6,400.9h0M849.6,405.5h0M849.7,402.8h0M849.9,400.6h0M849.8,404.5h0M850,402.5h0M850.4,403.1h0M850.6,401.5h0M850.7,404h0M850.8,402h0M850.7,399.9h0M850.9,403.8h0M850.9,400.5h0M851.2,404.5h0M851.3,401.6h0M851.7,398.2h0M851.2,402.6h0M851,399.1h0M851.9,396.1h0M851.8,399.8h0M852.1,397h0M852.1,400.5h0M852.3,397.7h0M852.5,394.8h0M852.5,398.3h0M852.9,395h0M852.9,392.4h0M853.1,396h0M852.9,393.2h0M853.1,397.1h0M853.2,394.7h0M853.5,393.1h0M853.2,395.4h0M853.9,393.8h0M854,394.9h0M854,394.1h0M854.1,392h0M854.2,393.5h0M854.1,392.7h0M854.1,391.5h0M854.5,393.2h0M854.7,393.1h0M854.8,393.9h0M854.9,393.5h0M855,392.5h0M855,394.2h0M855.2,393.4h0M855.2,392.9h0M855.2,394.5h0M855.6,392.4h0M855.7,394.7h0M855.7,394h0M856.1,391.9h0M856.1,394.5h0M856.1,393.9h0M856.1,395h0M856.2,394.9h0M856.4,394.1h0M856.5,395.3h0M856.5,394.2h0M857,393h0M856.8,394.7h0M857.1,393.5h0M857.3,395.9h0M857.1,394.5h0M857.5,392.4h0M857.7,395h0M857.7,394.3h0M857.9,395.4h0M858.1,394.9h0M858,394.3h0M858.4,395.7h0M858.3,395h0M858.5,393.4h0M858.6,395.9h0M858.6,396.9h0M859,396h0M858.8,394.8h0M859.3,397.3h0M859.3,396.2h0M859.4,394.4h0M859.6,397.7h0M859.9,395.7h0M859.7,399.3h0M860.1,397.8h0M860.1,396.8h0M860.3,399.4h0M860.2,398h0M860.4,400.2h0M860.4,397.8h0M860.8,400.2h0M860.7,398.9h0M861,397.2h0M861.1,399.7h0M861.3,399h0M861.4,401.8h0M861.5,399.6h0M861.4,398.6h0M861.6,399.9h0M861.7,398.7h0M862.2,400.6h0M862.3,399.2h0M862.1,397h0M862.2,399.5h0M862.4,397.8h0M863,388.4h0M862.8,394.6h0M862.5,394.2h0M862.6,385.4h0M863,386h0M862.4,392.9h0M863.3,401.1h0M863.4,382.7h0M862.7,390.9h0M862.6,388.8h0M863.3,398.2h0M862.5,380.4h0M863.2,377.6h0M862.5,386.8h0M863.2,395.2h0M863.7,393.9h0M863,375.8h0M863.3,384.6h0M864,382.4h0M863.6,391.6h0M862.9,372.7h0M863.5,370.2h0M864,377.7h0M863.2,384.8h0M863.5,392.8h0M862.9,387.6h0M863.9,394.7h0M863.8,372.5h0M863.2,379.6h0M863.9,375.3h0M864.8,383.1h0M863.4,390.4h0M863.3,368.2h0M864.4,371.7h0M864.4,378.6h0M864.3,386.4h0M863.7,382.1h0M863.5,389.5h0M863.7,367.9h0M864.2,374h0M864.2,370.4h0M864.2,378.1h0M864.2,386h0M864.5,379.2h0M865.9,371.4h0M865.2,372.3h0M864.3,378.6h0M864.5,377.7h0M864.7,372.6h0M864.5,368.9h0M864.8,373.8h0M865.1,370.5h0M864.3,368h0M865.6,373.6h0M865.4,370.7h0M865.2,377.8h0M865.5,372.5h0M865.5,374.5h0M864.9,368.8h0M866.2,371.1h0M865.7,376.5h0M865.5,378.7h0M866.6,372.5h0M866.6,373.8h0M866.3,379.6h0M866.5,377.1h0M867.3,373.9h0M866,380.4h0M866.7,376.9h0M866.7,374.6h0M866.9,378.3h0M867.7,374.8h0M866.8,380.4h0M868.4,375.9h0M867.5,370.2h0M868.1,371.3h0M867.4,376.9h0M867.1,377.5h0M867.2,371.4h0M867.9,371.9h0M867.8,379.3h0M867.6,364.8h0M867.4,372.6h0M868.3,373.5h0M868.1,366.7h0M868,368.9h0M867.9,374.3h0M868.1,374.9h0M869,369.7h0M867.5,370.6h0M868.1,372.3h0M869.2,368.1h0M868.5,372.1h0M868.6,367h0M868.6,372.5h0M869.5,366.1h0M869.7,371.5h0M869.4,373.3h0M869.5,367.6h0M869,370.1h0M869.2,374.9h0M868.7,377.4h0M868.9,371.9h0M869.7,373.9h0M870.1,368.4h0M870,370.4h0M869.2,377.6h0M870.3,373.5h0M870.3,369.8h0M870.6,374.9h0M870.1,369.8h0M870.5,376.6h0M871.2,377.3h0M870,371.3h0M870.8,372h0M870.2,380h0M871,365.5h0M871.2,373.3h0M871.6,374.5h0M870.9,367.5h0M871.2,368.4h0M870.9,376h0M870.7,378.4h0M871,369.7h0M870.7,371.4h0M870.7,362.2h0M871.9,363.7h0M870.8,371.8h0M871.8,372h0M872,364.8h0M871.6,365.2h0M872.2,373.5h0M871.7,359h0M873.6,365.3h0M872,365.6h0M871.3,358.7h0M871.7,360.2h0M872.1,366.6h0M872.3,366.9h0M872.6,360.9h0M872.1,361.4h0M872,355.9h0M872.2,355.2h0M872.2,361.8h0M872.1,362.2h0M871.6,356.9h0M871.9,357.2h0M873,363.5h0M872.4,363.6h0M872.3,357.7h0M872.3,358h0M873,352.5h0M872.9,359.1h0M872.9,359.4h0M872.6,353.8h0M873.4,354.3h0M873.7,359.7h0M872.3,349.4h0M874,355.2h0M873.6,351.2h0M873.4,358h0M873.5,352.2h0M874,348.3h0M873.8,353.4h0M873.8,349.3h0M874.8,344.2h0M874.2,350.2h0M874.3,347.4h0M874.8,350.2h0M874.7,348.1h0M874.9,345.3h0M875,347.4h0M875.3,352.1h0M875.5,349.7h0M875.7,347h0M875.8,352.3h0M875.6,348.6h0M875.9,346.8h0M876,351h0M876.3,347.6h0M876.1,352.3h0M876,348.3h0M877,344.2h0M876.2,350h0M877.1,344.5h0M878,345.6h0M876.4,351.5h0M877.2,340.3h0M876.8,346.3h0M877.1,346.9h0M876.7,340h0M877.1,340.9h0M877.7,347.5h0M877.9,349.1h0M877.9,341.9h0M877.6,342.9h0M877.3,349h0M877.2,338.7h0M878.2,344.3h0M877.7,340.6h0M877.8,346.2h0M877.8,341.6h0M878.1,339h0M878.2,342.6h0M877.5,340.9h0M878.8,338h0M878.2,344h0M877.8,339.7h0M878.4,345.6h0M878.3,349.6h0M879,342.3h0M878.7,344.2h0M879,337.2h0M879.2,340.6h0M879,346.5h0M878.5,348.7h0M879.3,342.6h0M879.9,344.5h0M879.6,352.2h0M878.7,353.8h0M879.7,347.2h0M879.1,349.5h0M879.9,341.8h0M878.6,345.2h0M879.1,351.7h0M880.1,354.7h0M878.9,347.6h0M880.1,349.6h0M880.3,357.2h0M879.6,344.5h0M880.5,354.2h0M879.9,347.8h0M879.8,350.7h0M880.2,356.5h0M880,358.9h0M880.5,352.6h0M880.2,354.3h0M881.6,351.3h0M880.9,357.1h0M880.8,354.3h0M881,351.9h0M880.1,356h0M881.2,351.9h0M881.5,357.1h0M881.1,353.1h0M881.9,360.1h0M881.5,347.1h0M882.1,353.9h0M882.6,355.7h0M881.9,347.9h0M882,349.1h0M882.1,357.3h0M881.2,359.2h0M882.2,350.3h0M882.2,351.3h0M881.8,343.7h0M881.8,344.6h0M882.1,352.3h0M882.1,345.5h0M881.5,346.4h0M881.6,352.6h0M882.7,341h0M882.6,347h0M882.5,347.8h0M882.1,341.5h0M882.1,342.4h0M883,347.9h0M882.5,348.6h0M882.8,343h0M882.5,343.4h0M882.9,337.9h0M883.1,338.2h0M883.8,344h0M883.5,344.6h0M882.3,339.1h0M883.3,340.1h0M883,336.9h0M883.5,341.1h0M883.7,338.2h0M884,341.3h0M884.1,338.8h0M884.1,336.8h0M884.1,339.4h0M884.3,338h0M884.3,341.6h0M884.5,339.9h0M884.7,337.4h0M884.9,342.4h0M884.9,340h0M886.5,337.8h0M884.7,342.7h0M884.8,340.4h0M885.5,344.5h0M885.4,342.2h0M885.7,340.2h0M885.7,343.9h0M885.9,342.1h0M886.1,347.2h0M886.2,343.5h0M886.3,340.6h0M886.5,345.1h0M886.7,341.3h0M886.9,336.4h0M886.8,342.8h0M887,338.8h0M886.9,343.8h0M887.2,339.8h0M887.1,334.5h0M887.6,340.5h0M887.3,337.2h0M887.9,332.1h0M887.6,338h0M887.7,334.7h0M888.1,340.2h0M888.1,335.3h0M888.3,332h0M887.6,335.8h0M888.1,337.8h0M889,332.1h0M888.6,326.4h0M888.8,334.4h0M888.9,327.7h0M889.1,328.8h0M888.6,323.3h0M889.3,330.7h0M890,327.1h0M888.8,332.5h0M889.8,329.7h0M889.8,326h0M890,331.8h0M890.6,328h0M889.9,333h0M889.7,334.2h0M890,327.6h0M890.9,328.7h0M891,320.1h0M890.1,323.3h0M889.9,330.7h0M890.9,333h0M889.9,324.6h0M890.3,326.5h0M890.3,334.3h0M890.4,321.2h0M890.4,328.3h0M890.9,330.7h0M891.2,322.3h0M891.1,324h0M890.4,332.4h0M891.6,336.4h0M890.7,326.5h0M891,328.6h0M891.6,320.3h0M890.8,330.5h0M891.9,332.2h0M891.6,324.1h0M891.1,330.4h0M891.7,317.2h0M892.2,316.4h0M891.2,322.9h0M891.7,329.3h0M891.7,328.3h0M892.5,334.9h0M892.2,321.6h0M891.7,320.7h0M892.1,327.6h0M892.1,336.1h0M892.1,332.9h0M892.5,320.1h0M891.9,326.7h0M892.6,325.6h0M892.8,332.1h0M892.4,318.5h0M892.5,324.6h0M892.3,331.1h0M892.6,330.2h0M892,316.8h0M893.3,323.6h0M892.7,322.6h0M892.9,329.2h0M892.5,315.5h0M892.7,336h0M893.6,321.8h0M893.1,328.7h0M893.1,327.5h0M892.5,333.9h0M892.2,320.7h0M892.7,316.6h0M893.2,325.3h0M892.6,332.5h0M893.4,332h0M892.8,324.2h0M893.3,323h0M893.3,330.5h0M893.2,315.6h0M893.4,314.6h0M892.1,321.9h0M894,329.7h0M893.3,328.6h0M893.1,313.7h0M893.2,321h0M893.3,319.8h0M893.6,327.2h0M894.2,334.6h0M893.7,334.6h0M894.4,318.9h0M893.3,326.1h0M894.4,325.1h0M893.5,332.3h0M893.8,316.7h0M894.3,316.5h0M894,323.5h0M894.9,330.5h0M893.6,315.2h0M893.6,322.2h0M894.4,321.3h0M894.1,328.5h0M895,311.7h0M893.9,319.9h0M894.8,328h0M894.5,326.2h0M894.4,334.9h0M894.7,316.7h0M895.5,325.1h0M894.9,332.2h0M894,331.3h0M894.4,316.7h0M894.9,323.9h0M894.4,322.9h0M894.1,330.1h0M894.1,315.5h0M894.7,312.6h0M894.7,321.7h0M895.1,330.4h0M894.8,328.9h0M894.7,313.3h0M895.4,320.9h0M895.4,319.7h0M895.2,328.1h0M895.5,334h0M895.3,318.8h0M897.2,326.6h0M895.4,325.6h0M895,333h0M895.1,317.3h0M895.1,316.1h0M895.5,324.3h0M895.8,331.9h0M896.2,330.7h0M896.9,315.1h0M896.3,323.1h0M895.7,321.9h0M895.2,312.5h0M896.5,313.9h0M895.4,320.8h0M896.1,329.8h0M896.1,327.7h0M896,335.4h0M896.1,319.9h0M895.7,319.2h0M896.3,327h0M896.2,334h0M896.5,333.1h0M896.2,318.2h0M896.2,325.7h0M896,324.9h0M897.1,332.9h0M896.3,316.7h0M896.4,315.8h0M897.5,323.7h0M896.2,332.5h0M896.7,330.6h0M897,314.4h0M896.7,322.5h0M896.8,321.4h0M897.1,329.2h0M896.8,313.2h0M896.5,336h0M896.7,320.1h0M896.9,328.1h0M896.8,327.5h0M897.3,335.6h0M896.6,319.2h0M897,317.1h0M897,325.9h0M897.1,333.5h0M897.5,316.5h0M896.8,324.8h0M897.5,324.1h0M898.4,331.9h0M897.5,316.2h0M896.9,315h0M897.1,323h0M897.4,330.8h0M897.3,329.9h0M896.8,312.4h0M897.4,321.4h0M897.7,320.2h0M897.7,328.3h0M897.5,335.7h0M898,336.1h0M897.9,319.7h0M898.1,327.5h0M897.4,325h0M898.1,331.8h0M897.9,318h0M897.7,315.7h0M898.8,325.3h0M897.9,323.6h0M897.7,317.3h0M898.3,325.3h0M897.5,313.9h0M898.8,319.8h0M897.9,321.1h0M898.1,315.5h0M898.5,317.6h0M898.9,322.8h0M898.2,326.2h0M897.8,319.6h0M899.1,331.1h0M898.8,316.5h0M899.3,325.6h0M899.1,327.8h0M899.2,318.7h0M899.9,320.9h0M899.6,330.1h0M899.1,332.3h0M899.2,322.9h0M899.3,325h0M899.5,314.6h0M899.4,318.3h0M898.9,330.6h0M899.1,320.2h0M900.3,322.6h0M899.9,331.9h0M900,315.5h0M899.9,324.7h0M900.1,326.8h0M900.3,317.8h0M900.3,321.2h0M899.4,328.6h0M899.6,335.1h0M900.8,335.5h0M900.4,320.4h0M900.4,328h0M900.3,326.9h0M900.2,334.5h0M900.6,319.1h0M900.3,318.6h0M900.7,325.8h0M900.5,333.1h0M901.1,332.1h0M900.4,317.5h0M901.4,323.6h0M900.3,331.1h0M900,314.5h0M900.5,315.3h0M900.9,322.6h0M900.3,330.6h0M900.8,329h0M901.1,337.2h0M901.4,321.6h0M900.8,320.6h0M900.1,327.8h0M901,335.4h0M901.5,334.7h0M901.4,319.9h0M901.2,327.1h0M901.3,325.8h0M901.2,334.3h0M901.4,317.3h0M902.1,317.1h0M901.1,324.9h0M901.6,332.4h0M901.6,331h0M903.1,315.2h0M902.5,323.7h0M901.6,322.6h0M901.5,330h0M901.7,337.4h0M901.8,334.6h0M901.7,321h0M902,327.8h0M902.3,325.7h0M901.5,314.8h0M902.4,318.5h0M902.4,327.7h0M902.1,329.9h0M902.6,320.9h0M902.3,323h0M902.1,332.5h0M902.1,316.1h0M902.8,325.2h0M903.3,327.8h0M902,318.7h0M902.5,321h0M902.4,330.7h0M902.8,336.8h0M903.3,320.6h0M902.7,328.8h0M902.9,337.1h0M902.6,319.2h0M902.5,318.8h0M903.2,336.4h0M905.2,336h0M903.9,317.6h0M903.1,326.5h0M903.9,325.3h0M903.4,334.2h0M903.1,316.5h0M903.7,342.6h0M903.9,324.1h0M903.5,332.5h0M902.7,331.2h0M903.3,340h0M904,322.8h0M903.1,321.2h0M903.3,330h0M903.6,338.2h0M904.1,341.7h0M904,316.7h0M903.7,325.9h0M904.1,333.5h0M904.3,329.6h0M903.4,336.8h0M903.7,343.8h0M903.9,322.4h0M904,318.9h0M903.6,325.2h0M903.9,333.1h0M903.5,340h0M904.5,336.3h0M904.5,344.7h0M904.2,321.8h0M904.7,329.1h0M905.2,325.5h0M904.5,332.6h0M905.1,343.6h0M904.3,321.3h0M904.3,328.8h0M904.2,336.2h0M904.1,332.2h0M904.7,340.5h0M904.4,317.4h0M904.3,325h0M905.2,320.9h0M903.8,328.4h0M904.7,335.6h0M904.7,343.4h0M904.2,338.9h0M904.9,316.3h0M905.2,324.5h0M905,331.9h0M904.2,327.9h0M905.1,335.2h0M904.5,342.2h0M904.7,320.8h0M904.8,317.6h0M905.4,325h0M905.2,331.8h0M905.4,338.7h0M904.7,345h0M904.8,326.1h0M904.8,323.6h0M905.4,330.9h0M905.4,338h0M905.6,316h0M905.4,341.6h0M904.9,319.2h0M905.2,327.1h0M905.1,334.8h0M905.6,327.4h0M905.7,334.9h0M904.9,319.5h0M905.2,318.4h0M905.9,324.6h0M905.2,331.1h0M906.3,330.2h0M905.6,316.7h0M905.7,323.6h0M905.6,322.8h0M905.3,329.2h0M905.7,315.7h0M905.8,321.8h0M905.6,328.3h0M908.2,271.4h0M908.4,275.8h0M908.4,274h0M908.7,276.3h0M908.5,269.2h0M909,276.8h0M909.4,262.4h0M908.4,270.1h0M908.7,271.4h0M908.6,262.3h0M909.2,264.1h0M909.2,273.5h0M909.6,274.4h0M908.8,265.3h0M909.1,267.2h0M909.8,273.5h0M909.1,259.9h0M909.6,259.4h0M909.5,265.9h0M909.2,272.7h0M909.1,270.8h0M909.6,256.2h0M910.7,264.1h0M909.8,262.6h0M909.6,270.8h0M910,256.1h0M909.2,254.1h0M909.3,261.2h0M909.8,268.1h0M910.6,266.8h0M910.3,275.7h0M910.1,259.9h0M910.3,257.9h0M910.2,265.3h0M910.5,274.6h0M910.7,271.9h0M910.2,256.3h0M910,264h0M909.8,270.6h0M911.3,253.6h0M910.3,253.2h0M910.7,260.8h0M910.4,268.5h0M910.2,268h0M910.5,251.2h0M910.6,258.8h0M911.6,257.5h0M911,266.8h0M910.7,249.5h0M910.6,273.4h0M911.2,255.7h0M910.5,264.2h0M911.2,262.9h0M911.1,272h0M911.1,254h0M910.3,251.7h0M910.7,261h0M911.3,270.1h0M911.8,268.4h0M911.1,248.9h0M911.1,259.2h0M911.2,257.1h0M911.3,264.3h0M910.7,271.3h0M911.9,249.8h0M911.6,244.8h0M911.7,252.5h0M913.3,259.8h0M911.9,267.6h0M911.6,263.7h0M912,272.8h0M912.2,247.4h0M912.3,254.9h0M911.6,249.1h0M911.8,258h0M911.7,266.1h0M912.8,241h0M911.2,269.6h0M912.1,245h0M911.9,253.2h0M911.3,262.5h0M912.7,257.4h0M911.5,266.2h0M911.7,240.5h0M912.6,249.1h0M911.9,245h0M912,253h0M911.3,261.1h0M913.5,269.7h0M912.4,265.4h0M912.2,239.8h0M911.8,248.4h0M912.2,256.9h0M912.6,252.5h0M911.6,260.5h0M912.7,269.3h0M912.5,244.2h0M912.2,239.7h0M912.8,256.3h0M913,265.3h0M912.6,260.2h0M912.6,269.7h0M912.9,244h0M912.1,251.6h0M913.1,247.5h0M913,255.8h0M913.2,264.8h0M911.9,272.5h0M912.4,269.5h0M911.8,242.8h0M913.4,251.2h0M912.1,259.4h0M913,255.3h0M913.7,263.2h0M912.6,271.3h0M913,246.8h0M912.2,241.1h0M912.8,250.3h0M913,259.5h0M913.5,267.3h0M913.4,263.7h0M913.2,271h0M913.8,254.9h0M913.1,250.4h0M912.9,258.7h0M913.4,266.8h0M913.7,240.7h0M913.2,272.8h0M913.6,246.6h0M913.4,254.9h0M912.8,263.3h0M913.4,259.4h0M913.6,266.8h0M914.5,242.8h0M914.2,251.7h0M913.8,248.5h0M913.9,256h0M912.7,263.6h0M913.6,270.7h0M913.7,267.5h0M914,245.9h0M913.9,252.7h0M913.8,260.2h0M913.8,256.5h0M913.9,263.5h0M913.6,271.2h0M913.2,249.4h0M913.6,244.7h0M913.9,252h0M914.3,259.4h0M913.9,266.6h0M914.8,263h0M914.1,270h0M913.6,247.5h0M914.2,250.3h0M914.3,258h0M914.5,265.8h0M914.3,241.8h0M915,270.9h0M914.2,244.7h0M914.5,261.3h0M913.9,256.4h0M914.8,264.7h0M913.9,238.9h0M915,242h0M915.1,250.7h0M914.8,260.1h0M914.1,268.4h0M914.5,263.5h0M915,235.3h0M914,245.6h0M915.1,254.8h0M914.6,250.1h0M915.9,259.5h0M914.4,267.9h0M914.6,240.7h0M915.2,271.9h0M914.7,245.1h0M915.4,254.3h0M915.1,263.6h0M914.9,259h0M915.4,269.2h0M915.3,239.3h0M915.1,249.7h0M915.3,243.8h0M915.4,253.8h0M915.1,262.5h0M915.3,272.4h0M915.1,240.7h0M906.2,311.5h0M906.5,307.5h0M906.4,304h0M906.9,300.5h0M906.8,297.5h0M907.3,294.5h0M907.5,288.5h0M907.4,285h0M907.9,281.5h0M907.8,278.5h0M916,233.5h0M916.8,231h0M917.3,228.5h0M917.2,226h0M918.2,223.5h0M917.8,221h0M918.6,218h0M918.2,215.5h0M918.9,212.5h0M918.4,210h0M919.2,207h0M918.7,204h0M919.3,201h0M918.8,198.5h0M919.4,195.5h0M919.1,192.5h0M919.5,189h0M920.5,183h0M920.5,178h0M921.5,173.5h0M921.8,169h0M922,164.5h0M922.5,160h0M922.5,152.5h0M922.5,145h0M922.5,129h0M922.5,123h0M923.5,118h0M923,116h0M923.5,109h0M923.5,107h0M923.5,101h0M923.5,100h0M923.5,95h0M924.5,89h0M925,84.5h0M924.5,87h0M925.5,82h0M926,77h0M925,80h0M929.5,78.5h0M930,76h0M928,75h0M925,71h0M926,73h0M927,68h0M927,65h0M925.5,62h0M928,63h0M927,57.5h0M925.5,58h0M928.5,59h0M928,54h0M926,54h0M927,51.5h0M925.5,50h0M929,50h0M929,48h0M927,47h0M928,44h0M928.5,41h0M925,52h0M925,56h0M924.5,60h0M925,66h0M924.5,69h0M925,75h0M929.5,54h0M929.5,58h0M930,64h0M929.5,68h0M927.5,46h0M896.5,352.5h0M930.7,287.2h0M930.2,296.5h0M931.4,298.7h0M931.3,288.5h0M930.7,290.7h0M930.7,301.3h0M930,303.3h0M930.8,293.7h0M931.7,296.2h0M930.5,306h0M931.3,287.9h0M931.6,297.6h0M931.4,305.6h0M931.2,304.3h0M930.5,294.7h0M932,303.3h0M931.5,311.3h0M931.2,309.6h0M932,295.1h0M931.7,302.7h0M931.6,301.6h0M930.7,310.1h0M931.6,294.1h0M931.9,292h0M930.7,301.7h0M931.5,310.2h0M931.5,309h0M931.4,290.8h0M931.6,300.5h0M932.4,299h0M931.7,307.6h0M932.4,290.5h0M932.9,291.2h0M931.8,306.8h0M932.4,307h0M932.8,315.8h0M932.8,298.3h0M933,298.9h0M932.2,314.5h0M932.1,290.8h0M932.5,319.9h0M932.3,294.5h0M932.1,302.1h0M932,310.5h0M933.1,306.3h0M932.3,315.1h0M932.5,290.7h0M933.2,298.5h0M932.2,295.3h0M932.8,303h0M933,310.5h0M932.8,317.8h0M932.4,314h0M932.1,321.2h0M933.6,302.8h0M932.7,310.9h0M933.1,318.7h0M933,294.5h0M933.1,322.1h0M933.3,298.9h0M933.9,306.6h0M932.8,314.4h0M933.5,310.6h0M932.9,317.9h0M933.6,293.6h0M933.2,302.3h0M933.6,314.6h0M934.4,322h0M933.2,317.6h0M933.5,294.2h0M933.6,302.2h0M933.6,310.2h0M933.7,306.1h0M933.4,313.7h0M933.1,321.5h0M934.3,298.2h0M934.5,292.7h0M934.2,302.2h0M934.2,310.6h0M934,309.5h0M934.7,292.9h0M933.2,301h0M933.9,300.1h0M933.9,308.4h0M934,318.8h0M933.6,315.1h0M934.2,298.6h0M933.7,307.1h0M935.1,305.9h0M933.8,313.9h0M934.9,296.5h0M934.4,295.2h0M933.7,303.7h0M933.4,311.5h0M934.4,310.1h0M934.9,294.2h0M934.5,302.3h0M935,301h0M935,308.9h0M934.5,293.5h0M934.4,291.8h0M935.4,300h0M934.9,307.8h0M934.6,306.8h0M935.1,314.2h0M934.4,298.7h0M935.4,297.5h0M935.2,304.9h0M934.5,312.1h0M935.1,311.3h0M935.2,302.5h0M934.8,310.1h0M935.6,292.9h0M935.2,291.6h0M934.6,299.9h0M936.8,308.4h0M935.8,307.4h0M935.2,290.4h0M935.9,298.7h0M935.7,297.1h0M934.6,305.8h0M935.7,288.4h0M936.6,312.6h0M935.1,289.4h0M935.9,297.8h0M935.8,305.4h0M936.1,301.6h0M935.7,310.1h0M935.8,286.4h0M936,294h0M936.2,290.2h0M937,297.5h0M936.2,304.7h0M935.8,313.6h0M935.3,308.1h0M935.7,284.5h0M936,293.6h0M935.8,301h0M936,296.7h0M935.6,303.7h0M936.2,311.1h0M936.1,289.5h0M936.4,280.9h0M936.6,288.3h0M936.4,297.5h0M936.6,305.9h0M938,301.4h0M936.2,310.1h0M936.2,283.3h0M935.3,293h0M936.2,287.7h0M936.7,297.2h0M935.9,305.8h0M936.5,280.1h0M936.9,310h0M936.3,283.6h0M936.8,292.4h0M936.1,301h0M936.6,295.6h0M936.3,303.6h0M937,278.9h0M937.3,287.2h0M936.1,283.6h0M937.2,291h0M936.4,299.4h0M937.1,307.5h0M937.4,304.6h0M936.9,286.8h0M937.3,295.9h0M937,295.1h0M937.2,303.4h0M938.1,286.5h0M937.2,312.3h0M937.2,294.2h0M937,302.5h0M937.3,300.3h0M937.5,307.8h0M937.4,292.5h0M937,291.5h0M937.8,299.2h0M937.1,306.6h0M937.5,306.7h0M938.2,293.9h0M937.6,300.1h0M937.7,299h0M937.2,305.6h0M937.6,290.2h0M938.5,301.5h0M938.2,302.5h0M937.9,292.5h0M937.7,295.1h0M938.2,304.5h0M938.2,307.1h0M938.8,294.6h0" stroke="#000" stroke-width="5.4" stroke-linecap="round" fill="none"/>
<path d="M120.5,384.2 121,385.5 121.5,386.7 122,387.8 122.5,389.2 123,390.3 123.5,391.7 124,393.2 124.5,394.2 125,395.4 125.5,396.1 126,396.6 126.5,397 127,397.4 127.5,398 128,398.6 128.5,398.8 129,399.4 129.5,399.7 130,400.3 130.5,400.7 131,401.5 131.5,401.8 132,402.5 132.5,403 133,403.5 133.5,403.6 134,404.4 134.5,405 135,405.5 135.5,405.8 136,406.4 136.5,406.9 137,407.4 137.5,408.2 138,408.4 138.5,409 139,409.6 139.5,409.9 140,410.5 140.5,414.3 141,418 141.5,420.3 142,423 142.5,425.7 143,427.8 143.5,428.8 144,429.4 144.5,430 145,431.1 145.5,431.6 146,432 146.5,432.9 147,433.7 147.5,434.3 148,435.1 148.5,435.9 149,437 149.5,438 150,438.6 150.5,439.7 151,440.6 151.5,441.6 152,442.3 152.5,443.2 153,444 153.5,444.9 154,445.7 154.5,446.1 155,446.9 155.5,447.8 156,448.2 156.5,449.2 157,450 157.5,450.9 158,451.6 158.5,451.8 159,452.2 159.5,452.6 160,453.2 160.5,453.3 161,453.7 161.5,454.2 162,454.5 162.5,454.8 163,455 163.5,455.6 164,455.9 164.5,456.5 165,456.8 165.5,456.9 166,457.2 166.5,457.3 167,457.7 167.5,457.8 168,458.1 168.5,458.7 169,459.8 169.5,460.4 170,461.2 170.5,462.3 171,463.1 171.5,464.1 172,465.3 172.5,467.9 173,470.9 173.5,474 174,477.1 174.5,476.7 175,476.5 175.5,476.4 176,476.1 176.5,475.6 177,475.5 177.5,475.3 178,474.8 178.5,474.8 179,474.4 179.5,474.4 180,474 180.5,474.2 181,474.2 181.5,474.5 182,474.4 182.5,474.7 183,475.1 183.5,474.9 184,475.5 184.5,475.3 185,475.8 185.5,475.7 186,476.1 186.5,476.2 187,476.1 187.5,476.7 188,476.9 188.5,476.4 189,476.1 189.5,475.8 190,475.4 190.5,475.4 191,474.8 191.5,474.6 192,474.2 192.5,473.9 193,473.5 193.5,473.6 194,473.1 194.5,472.9 195,472.5 195.5,471.8 196,471.4 196.5,470.8 197,470.3 197.5,469.7 198,469.2 198.5,468.2 199,467.7 199.5,467.8 200,466.9 200.5,466.9 201,467.2 201.5,467.5 202,467.1 202.5,467.4 203,467.4 203.5,469.1 204,471.4 204.5,473.2 205,475.1 205.5,476.9 206,476.6 206.5,476 207,475.6 207.5,475 208,474.5 208.5,474.4 209,473.7 209.5,473.4 210,472.8 210.5,472.3 211,471.8 211.5,471.6 212,471 212.5,470.9 213,470.9 213.5,471 214,470.9 214.5,470.7 215,470.5 215.5,470.4 216,470.6 216.5,470.6 217,470.4 217.5,470.4 218,470.4 218.5,470.3 219,470.3 219.5,470 220,470.2 220.5,469.3 221,469.2 221.5,468.6 222,468.2 222.5,467.9 223,467.3 223.5,466.5 224,465.9 224.5,465.8 225,465 225.5,464.7 226,464.4 226.5,463.5 227,462.9 227.5,462.8 228,462.3 228.5,461.8 229,461.3 229.5,460.7 230,459.5 230.5,458.7 231,457.8 231.5,457.1 232,457.3 232.5,457 233,457 233.5,456.6 234,456.4 234.5,456.3 235,460.2 235.5,462.3 236,464 236.5,466.1 237,468.1 237.5,468 238,467.1 238.5,467.1 239,466.6 239.5,466.3 240,465.7 240.5,465.5 241,465.4 241.5,464.9 242,464.6 242.5,464.2 243,464 243.5,463.5 244,462.9 244.5,462.7 245,462.2 245.5,461.9 246,462.1 246.5,462.2 247,461.9 247.5,461.5 248,461.4 248.5,461.6 249,461.3 249.5,461.1 250,460.9 250.5,460.8 251,460.7 251.5,460.6 252,460.3 252.5,460 253,460.1 253.5,459.3 254,459 254.5,458.1 255,457.7 255.5,457.1 256,456.4 256.5,456.3 257,455.6 257.5,454.8 258,454.4 258.5,453.8 259,452.8 259.5,452.6 260,452 260.5,451.5 261,450.9 261.5,449.9 262,449 262.5,448.4 263,447.6 263.5,447.4 264,447.5 264.5,447 265,446.9 265.5,446.4 266,446.9 266.5,450.8 267,452.8 267.5,454.8 268,456.7 268.5,458.7 269,458.2 269.5,457.8 270,457.4 270.5,457.1 271,456.6 271.5,456 272,455.5 272.5,455 273,454.9 273.5,454.3 274,453.8 274.5,453.3 275,452.7 275.5,452.4 276,452.1 276.5,451.9 277,452 277.5,452 278,452 278.5,451.8 279,452 279.5,451.9 280,452.1 280.5,451.9 281,452.1 281.5,452.2 282,452 282.5,451.9 283,452 283.5,451.5 284,450.8 284.5,450.5 285,450.2 285.5,449.4 286,448.8 286.5,448.2 287,447.9 287.5,447.1 288,446.6 288.5,446.5 289,445.6 289.5,445.4 290,444.9 290.5,444.2 291,443.7 291.5,443.4 292,442.6 292.5,442 293,441 293.5,440.5 294,440.1 294.5,439.6 295,439.1 295.5,438.9 296,438.4 296.5,438.7 297,438.6 297.5,438.5 298,439 298.5,441.4 299,443.8 299.5,446.3 300,448.7 300.5,448.3 301,448.1 301.5,447.5 302,447 302.5,446.3 303,446.2 303.5,445.4 304,445 304.5,444.9 305,444.5 305.5,443.9 306,443.2 306.5,443.1 307,442.8 307.5,442.7 308,442.6 308.5,442 309,441.5 309.5,441.1 310,441 310.5,441.4 311,441.7 311.5,442.3 312,442.5 312.5,443.3 313,443.7 313.5,443.4 314,442.8 314.5,442.7 315,442.3 315.5,441.9 316,441.6 316.5,441.2 317,440.9 317.5,440.9 318,440.5 318.5,439.9 319,439.4 319.5,438.4 320,438 320.5,437.5 321,436.9 321.5,436.2 322,435.8 322.5,435.1 323,434.2 323.5,433.7 324,433.3 324.5,432.1 325,430.6 325.5,430.2 326,429.4 326.5,429.4 327,429 327.5,428.8 328,428.6 328.5,429 329,428.5 329.5,431.1 330,433.2 330.5,435.7 331,437.8 331.5,440.4 332,440.5 332.5,440 333,440.3 333.5,440 334,439.7 334.5,439.6 335,439.5 335.5,439.4 336,439.2 336.5,439 337,439 337.5,439 338,439.1 338.5,439.4 339,439.7 339.5,439.5 340,439.9 340.5,440 341,440.1 341.5,440.5 342,440.4 342.5,441.1 343,441.1 343.5,441.7 344,442 344.5,442.3 345,442.8 345.5,443.1 346,443.6 346.5,443.2 347,442.8 347.5,442.6 348,442.3 348.5,442.2 349,441.6 349.5,441.5 350,440.9 350.5,441 351,440.4 351.5,440 352,440 352.5,439.8 353,439.1 353.5,438.8 354,438.6 354.5,438.2 355,438.1 355.5,437.6 356,436.9 356.5,436.5 357,435.9 357.5,436 358,435.9 358.5,436 359,436 359.5,436.7 360,436.5 360.5,436.7 361,439.1 361.5,441.5 362,443.9 362.5,446.6 363,448.5 363.5,448.3 364,448.2 364.5,448 365,448.2 365.5,448 366,447.6 366.5,447.4 367,447.4 367.5,447.5 368,446.7 368.5,447.1 369,446.7 369.5,446.8 370,446.3 370.5,446.7 371,446.8 371.5,447.2 372,447.8 372.5,448 373,448.1 373.5,448.3 374,448.5 374.5,449 375,449.3 375.5,449.6 376,449.9 376.5,450 377,450.4 377.5,450.7 378,451.2 378.5,451 379,450.4 379.5,450 380,449.8 380.5,449.5 381,449.2 381.5,449 382,448.6 382.5,448.5 383,448.1 383.5,447.9 384,447.5 384.5,447.2 385,446.9 385.5,446.6 386,446.2 386.5,445.9 387,445.5 387.5,444.7 388,444.4 388.5,444 389,443.9 389.5,444.1 390,444 390.5,444.5 391,444.7 391.5,444.8 392,444.9 392.5,447.3 393,449.7 393.5,452.2 394,454.5 394.5,457 395,456.7 395.5,456.7 396,456.6 396.5,456.4 397,456.2 397.5,456.2 398,455.7 398.5,455.8 399,455.7 399.5,455.5 400,455.4 400.5,455.1 401,455 401.5,454.9 402,454.8 402.5,455 403,455.1 403.5,455.7 404,456.1 404.5,456.4 405,456.6 405.5,456.7 406,457.4 406.5,457.5 407,457.5 407.5,458.2 408,458.3 408.5,458.1 409,458 409.5,458 410,457.6 410.5,457.5 411,457.5 411.5,457.2 412,456.8 412.5,456.5 413,456.2 413.5,456 414,456 414.5,455.8 415,455.5 415.5,455.2 416,454.4 416.5,454.1 417,453.7 417.5,453.2 418,452.8 418.5,452.2 419,451.6 419.5,451.8 420,451.6 420.5,451.6 421,452 421.5,452.1 422,452.2 422.5,452 423,452.3 423.5,452.4 424,456.1 424.5,457.8 425,459.9 425.5,462 426,463.8 426.5,463.5 427,463.4 427.5,463.4 428,462.7 428.5,463 429,462.9 429.5,462.8 430,462.8 430.5,462.6 431,462.3 431.5,462.2 432,462.1 432.5,462.2 433,462.5 433.5,462.9 434,463.3 434.5,463.2 435,463.5 435.5,463.8 436,464.2 436.5,464.2 437,464.7 437.5,464.6 438,465 438.5,465 439,465.1 439.5,465.2 440,464.8 440.5,464.9 441,465.1 441.5,464.5 442,464.1 442.5,464.1 443,463.6 443.5,463.3 444,462.8 444.5,462.6 445,462.1 445.5,461.9 446,461.3 446.5,460.9 447,460.7 447.5,460.1 448,459.9 448.5,459.4 449,458.7 449.5,458.4 450,457.9 450.5,457.4 451,456.7 451.5,456.6 452,456.8 452.5,457 453,457 453.5,456.8 454,456.9 454.5,457.2 455,457 455.5,459.1 456,461.4 456.5,463.7 457,465.7 457.5,467.8 458,467.5 458.5,467.6 459,467.1 459.5,466.9 460,466.7 460.5,466.5 461,466 461.5,465.9 462,465.4 462.5,465.2 463,464.8 463.5,465.2 464,465.1 464.5,465.1 465,465.2 465.5,465.3 466,465.5 466.5,465.3 467,465.4 467.5,465.6 468,466.1 468.5,465.9 469,465.8 469.5,466 470,466.3 470.5,465.7 471,465.4 471.5,465.3 472,464.9 472.5,464.7 473,464.2 473.5,464.3 474,464 474.5,463.5 475,463.2 475.5,462.6 476,462.7 476.5,462.3 477,462.1 477.5,461.7 478,461.1 478.5,460.5 479,460.4 479.5,459.8 480,459.5 480.5,459 481,458.6 481.5,457.9 482,457.8 482.5,456.9 483,456.6 483.5,456.5 484,456.1 484.5,455.8 485,455.9 485.5,455.9 486,455.9 486.5,456 487,457.5 487.5,459.6 488,461.1 488.5,463.2 489,464.9 489.5,466.7 490,466.4 490.5,466.1 491,465.8 491.5,465.4 492,465.3 492.5,465.3 493,465.1 493.5,464.7 494,464.4 494.5,463.9 495,463.9 495.5,463.7 496,463.7 496.5,463.7 497,463.7 497.5,463.6 498,463.7 498.5,463.5 499,463.6 499.5,464 500,463.7 500.5,463.7 501,463.8 501.5,463.8 502,463.5 502.5,463.3 503,463.1 503.5,462.6 504,462.2 504.5,462 505,461.2 505.5,461 506,460.5 506.5,460.4 507,459.5 507.5,459.3 508,458.9 508.5,458.6 509,458 509.5,457.6 510,456.6 510.5,456.4 511,455.7 511.5,455.1 512,454.7 512.5,454 513,453.3 513.5,452.5 514,451.2 514.5,450.3 515,449.7 515.5,449.4 516,449.5 516.5,449.1 517,448.8 517.5,448.7 518,448.6 518.5,448.4 519,452.7 519.5,454.5 520,456.2 520.5,458.6 521,458 521.5,457.6 522,457.1 522.5,456.7 523,456.2 523.5,455.9 524,455.3 524.5,454.9 525,454.4 525.5,453.7 526,453.4 526.5,452.9 527,452.5 527.5,452 528,452.1 528.5,451.6 529,451.1 529.5,450.7 530,450.6 530.5,450.3 531,449.9 531.5,449.7 532,449.2 532.5,449.1 533,448.6 533.5,448.6 534,448.7 534.5,448.8 535,448.2 535.5,448.2 536,448 536.5,448.2 537,447.8 537.5,447.2 538,446.5 538.5,445.6 539,444.9 539.5,444.2 540,443.2 540.5,442.5 541,441.9 541.5,441 542,439.9 542.5,438.6 543,437.7 543.5,436.9 544,435.8 544.5,434.6 545,433 545.5,431.6 546,430.2 546.5,429.2 547,428.8 547.5,428.7 548,428.2 548.5,428 549,427.4 549.5,427.2 550,426.7 550.5,428.8 551,431 551.5,432.5 552,434.1 552.5,436 553,435.4 553.5,434.8 554,433.9 554.5,433 555,432.5 555.5,431.9 556,431.2 556.5,430.7 557,429.9 557.5,429.3 558,428.3 558.5,427.9 559,427.4 559.5,426.6 560,425.8 560.5,425.1 561,424.6 561.5,423.5 562,423 562.5,422.8 563,422.5 563.5,422.1 564,421.9 564.5,421.5 565,421.3 565.5,420.9 566,420.5 566.5,420.4 567,420.2 567.5,419.6 568,419.5 568.5,418.5 569,417.1 569.5,416.2 570,414.8 570.5,414 571,413.1 571.5,411.9 572,410.5 572.5,409.6 573,408.5 573.5,407.5 574,406.7 574.5,405.3 575,404.7 575.5,403.5 576,402.7 576.5,401.3 577,399.9 577.5,399.1 578,398.4 578.5,397.7 579,397.3 579.5,396.6 580,395.9 580.5,395.8 581,395.1 581.5,394.7 582,398.6 582.5,400.6 583,402.1 583.5,403.9 584,403.2 584.5,402.6 585,401.4 585.5,400.9 586,399.9 586.5,399 587,398.5 587.5,397.5 588,396.5 588.5,395.9 589,395.3 589.5,394.5 590,393.4 590.5,393.1 591,392.6 591.5,391.9 592,391.6 592.5,391 593,390.4 593.5,389.9 594,389.5 594.5,389 595,388.4 595.5,387.9 596,387.7 596.5,387.2 597,386.9 597.5,386.6 598,386.1 598.5,386 599,385.1 599.5,385 600,384.5 600.5,383.6 601,382.4 601.5,380.6 602,379.6 602.5,378.6 603,377.4 603.5,376.2 604,374.9 604.5,373.8 605,372.6 605.5,371.6 606,370.8 606.5,369.3 607,368.8 607.5,367.7 608,366.9 608.5,365.8 609,364.9 609.5,364.5 610,363.7 610.5,363.1 611,362.5 611.5,362.1 612,361.6 612.5,361.2 613,360.6 613.5,364 614,365.3 614.5,366.7 615,368.2 615.5,369.7 616,368.6 616.5,367.8 617,367 617.5,366.2 618,365.2 618.5,364.7 619,363.6 619.5,362.9 620,361.9 620.5,361.5 621,360.9 621.5,360.1 622,359.9 622.5,359.1 623,358.7 623.5,357.9 624,357.1 624.5,356.5 625,356.1 625.5,355.6 626,355.2 626.5,354.8 627,354.1 627.5,354 628,353.3 628.5,353.3 629,352.7 629.5,352.3 630,352 630.5,351.1 631,349.9 631.5,348.9 632,348 632.5,346.9 633,346.2 633.5,345.6 634,344.2 634.5,343.5 635,342.3 635.5,341.6 636,340.6 636.5,339.6 637,338.8 637.5,338 638,336.8 638.5,335.9 639,334.8 639.5,333.9 640,332.6 640.5,332 641,331.1 641.5,330.7 642,329.6 642.5,329.3 643,328.9 643.5,328.1 644,327.4 644.5,327.1 645,330.3 645.5,332 646,333.9 646.5,335.2 647,334.2 647.5,333.5 648,332.9 648.5,332.4 649,331.5 649.5,330.8 650,330.4 650.5,329.7 651,328.8 651.5,328 652,327.3 652.5,326.8 653,326 653.5,325.8 654,325 654.5,324.6 655,324.2 655.5,323.5 656,322.5 656.5,322.2 657,321.7 657.5,321 658,320.7 658.5,320.4 659,319.9 659.5,320 660,319 660.5,318.9 661,318.7 661.5,318.3 662,318 662.5,317.2 663,316.3 663.5,315.7 664,314.3 664.5,313.8 665,312.9 665.5,312 666,311 666.5,309.9 667,308.9 667.5,308.1 668,307.1 668.5,305.9 669,305.3 669.5,304.3 670,302.8 670.5,302.1 671,301.1 671.5,299 672,297.3 672.5,295.8 673,294.9 673.5,294.4 674,293.8 674.5,293.4 675,292.7 675.5,292.2 676,291.5 676.5,292.4 677,291.9 677.5,294.8 678,297.8 678.5,300.6 679,299.9 679.5,299.2 680,298.5 680.5,297.8 681,297.1 681.5,296.6 682,295.7 682.5,295.4 683,294.5 683.5,293.6 684,292.9 684.5,292.1 685,291.5 685.5,290.6 686,290.2 686.5,289.1 687,288.2 687.5,287.6 688,286.7 688.5,286.8 689,286.8 689.5,286.6 690,286.1 690.5,286.1 691,286.3 691.5,285.5 692,284.9 692.5,284.5 693,284.2 693.5,283.5 694,282.8 694.5,282.3 695,281.8 695.5,282.1 696,282.6 696.5,283.3 697,283.7 697.5,284.4 698,284.9 698.5,285.8 699,285.9 699.5,286.2 700,286.5 700.5,286.8 701,287.2 701.5,287.2 702,287.4 702.5,287.5 703,287.9 703.5,288.8 704,289.5 704.5,290.1 705,290.9 705.5,291.8 706,292.6 706.5,293.2 707,293.9 707.5,293.8 708,297.8 708.5,300.2 709,302.2 709.5,304.9 710,307.5 710.5,308.4 711,309.2 711.5,310.2 712,311.2 712.5,312.1 713,312.7 713.5,313.6 714,314.1 714.5,314.8 715,315.5 715.5,316.2 716,316.9 716.5,317.3 717,318.1 717.5,318.8 718,319.5 718.5,320.2 719,320.6 719.5,321.3 720,322.1 720.5,323.3 721,325 721.5,326.4 722,327.9 722.5,328.4 723,329.2 723.5,330 724,330.8 724.5,331.5 725,332 725.5,332.5 726,332.9 726.5,333.6 727,334 727.5,334.6 728,335.3 728.5,335.5 729,335.8 729.5,336.4 730,336.8 730.5,337.3 731,338.2 731.5,338.2 732,338.1 732.5,338.7 733,338.9 733.5,338.9 734,338.8 734.5,338.4 735,338.4 735.5,338.6 736,339.2 736.5,339.9 737,340.6 737.5,341.4 738,342 738.5,342.4 739,343.3 739.5,346.4 740,347.4 740.5,349.5 741,351.1 741.5,352.9 742,355.2 742.5,357.1 743,359 743.5,359.8 744,360.5 744.5,361 745,361.2 745.5,362.1 746,362.8 746.5,363.4 747,364.2 747.5,365 748,365.4 748.5,366.1 749,367.3 749.5,367.7 750,368.3 750.5,369.3 751,370.1 751.5,370.6 752,371.6 752.5,372.5 753,373.5 753.5,374.7 754,375.9 754.5,376.7 755,377.9 755.5,378.9 756,380.4 756.5,380.6 757,381.6 757.5,382.1 758,382.7 758.5,383.5 759,384.3 759.5,385 760,385.5 760.5,386 761,386.5 761.5,387.3 762,387.8 762.5,388.5 763,388.9 763.5,389.6 764,390.2 764.5,390.1 765,390 765.5,389.9 766,389.1 766.5,389.2 767,389 767.5,389.9 768,390.8 768.5,391.9 769,392.7 769.5,393.5 770,394.4 770.5,395.4 771,399.3 771.5,401.3 772,403.5 772.5,406.7 773,409.2 773.5,412.5 774,411.7 774.5,411.2 775,410.6 775.5,409.8 776,409.3 776.5,408.3 777,408 777.5,407.1 778,406.6 778.5,406 779,405 779.5,404.7 780,404.3 780.5,403.9 781,403.2 781.5,402.6 782,401.8 782.5,402.1 783,402 783.5,401.6 784,401.5 784.5,401.1 785,401.4 785.5,401.5 786,401.1 786.5,400.9 787,400.6 787.5,400.1 788,400.2 788.5,399.6 789,399.5 789.5,399.3 790,399.1 790.5,398.3 791,397.6 791.5,396.6 792,395.8 792.5,395.3 793,394.4 793.5,393.6 794,392.8 794.5,392.2 795,391.2 795.5,390.3 796,389.3 796.5,388.5 797,387.3 797.5,385.3 798,382.8 798.5,381.3 799,380.5 799.5,379.9 800,379.5 800.5,379.3 801,378.6 801.5,378.1 802,377.6 802.5,378.6 803,379 803.5,379.3 804,381.5 804.5,383.9 805,386.1 805.5,385.3 806,384.8 806.5,384.1 807,383.1 807.5,382.7 808,382.2 808.5,381.4 809,380.5 809.5,380.1 810,379.6 810.5,379.1 811,378 811.5,378.1 812,376.9 812.5,376.6 813,376.1 813.5,375.4 814,374.7 814.5,373.9 815,373.6 815.5,373.1 816,372.5 816.5,373 817,372.4 817.5,372.3 818,371.6 818.5,371.6 819,371.3 819.5,371 820,370.5 820.5,369.5 821,368.8 821.5,367.6 822,366.8 822.5,366.3 823,365.3 823.5,364.5 824,363.7 824.5,363.1 825,362.2 825.5,361 826,360.2 826.5,358.9 827,357.9 827.5,357.1 828,355.8 828.5,354.9 829,353.6 829.5,353.1 830,352.7 830.5,351.7 831,351.4 831.5,350.8 832,350.3 832.5,349.9 833,349.8 833.5,349.5 834,351 834.5,352.5 835,354.3 835.5,355.8 836,357.6 836.5,356.8 837,356 837.5,355.3 838,354.4 838.5,353.7 839,352.7 839.5,352.2 840,351.3 840.5,350.8 841,350.1 841.5,349.6 842,349 842.5,348 843,347.5 843.5,346.8 844,346.4 844.5,345.9 845,345.1 845.5,344.8 846,344.9 846.5,344.3 847,344.5 847.5,344.1 848,343.6 848.5,344.2 849,343.9 849.5,343.3 850,343.3 850.5,342.7 851,342.1 851.5,341.3 852,340.8 852.5,340.4 853,339.7 853.5,339.3 854,338.5 854.5,338.3 855,337.2 855.5,336.3 856,334.9 856.5,334 857,333.3 857.5,331.9 858,331.1 858.5,330.1 859,329.1 859.5,328.3 860,327.4 860.5,326.1 861,325.2 861.5,324.4 862,323.6 862.5,323.1 863,322.8 863.5,322.2 864,321.9 864.5,321.7 865,321 865.5,321.5 866,322 866.5,322.4 867,324.2 867.5,326 868,327.9 868.5,327.2 869,326.6 869.5,325.7 870,325 870.5,324.1 871,323.7 871.5,322.8 872,322.3 872.5,321.5 873,321 873.5,320.1 874,319.6 874.5,319.3 875,318.1 875.5,317.8 876,317.3 876.5,317 877,317 877.5,317 878,316.6 878.5,316.8 879,316.5 879.5,316.5 880,316.4 880.5,316.1 881,315.8 881.5,315.4 882,314.8 882.5,314.9 883,314.4 883.5,314 884,313.4 884.5,312.6 885,311.8 885.5,310.9 886,309.7 886.5,309.2 887,308.7 887.5,307.1 888,306.7 888.5,305.6 889,304.6 889.5,303.9 890,302.6 890.5,301.8 891,301.1 891.5,299.8 892,298 892.5,296.6 893,295.3 893.5,294.6 894,293.8 894.5,293.7 895,293 895.5,292.8 896,292.3 896.5,291.5 897,292 897.5,293.7 898,295.7 898.5,297.9 899,299.4 899.5,301.3 900,300.9 900.5,299.9 901,299.4 901.5,298.4 902,297.4 902.5,296.8 903,296.2 903.5,295.5 904,294.6 904.5,293.9 905,293.2 905.5,292.5 906,292.2 906.5,291.2 907,290.3 907.5,290.2 908,290.2 908.5,290 909,289.7 909.5,289.5 910,289.4 910.5,288.9 911,288.8 911.5,288.7 912,288.1 912.5,287.8 913,287.5 913.5,287 914,286.5 914.5,285.9 915,284.7 915.5,283.6 916,282.9 916.5,281.9 917,280.7 917.5,279.9 918,279 918.5,277.8 919,277.2 919.5,276.3 920,275.4 920.5,274.4 921,273.7 921.5,272.9 922,272 922.5,271.1 923,270.6 923.5,269.2 924,268.4 924.5,267.9 925,267 925.5,266.5 926,266.2 926.5,265.6 927,265.2 927.5,264.9 928,264.6 928.5,266 929,268 929.5,269.7 930,271.5 930.5,273.4 931,272.7 931.5,272.2 932,271.4 932.5,270.9 933,270.2 933.5,269.4 934,268.9 934.5,268.4 935,267.5 935.5,266.5 936,265.6 936.5,264.6 937,263.8 937.5,263 938,261.8 938.5,261" stroke="#0072B2" stroke-width="2.6" stroke-linejoin="round" stroke-linecap="butt" fill="none"/>
<path d="M938.5,262.1 938.7,250.8 938.9,262 939.1,250.7 939.3,261.8 939.5,250.5 939.7,261.7 939.9,250.4 940.1,261.5 940.3,250.3 940.5,261.4 940.7,250.1 940.9,261.2 941.1,250 941.3,261.1 941.5,249.8 941.7,261 941.9,249.7 942.1,260.8 942.3,249.6 942.5,260.7 942.7,249.4 942.9,260.5 943.1,249.3 943.3,260.4 943.5,249.1 943.7,260.3 943.9,249 944.1,260.1 944.3,248.8 944.5,260 944.7,248.7" stroke="#0072B2" stroke-width="2.08" stroke-linejoin="round" fill="none"/>
<path d="M939.8,303.7h0M940,307.2h0M941.2,314.5h0M941.2,318h0" stroke="#f00" stroke-width="6.3" stroke-linecap="round" fill="none"/>
<circle cx="942.3" cy="309.6" r="1.6" fill="#f00" fill-opacity="0.55"/>
</g>
<path d="M152.5,542.5v4.86M278.5,542.5v4.86M404.5,542.5v4.86M530.5,542.5v4.86M657.5,542.5v4.86M783.5,542.5v4.86M909.5,542.5v4.86M79.5,485.5h-4.86M79.5,425.5h-4.86M79.5,365.5h-4.86M79.5,305.5h-4.86M79.5,245.5h-4.86M79.5,185.5h-4.86M79.5,125.5h-4.86M79.5,65.5h-4.86" stroke="#000" stroke-width="1.11" fill="none"/>
<rect x="79.5" y="15.5" width="906.0" height="527.0" fill="none" stroke="#000" stroke-width="1.11"/>
<text x="151.8" y="562.3" text-anchor="middle">2001</text>
<text x="277.8" y="562.3" text-anchor="middle">2005</text>
<text x="403.8" y="562.3" text-anchor="middle">2009</text>
<text x="529.8" y="562.3" text-anchor="middle">2013</text>
<text x="656.8" y="562.3" text-anchor="middle">2017</text>
<text x="782.8" y="562.3" text-anchor="middle">2021</text>
<text x="908.8" y="562.3" text-anchor="middle">2025</text>
<text x="71.8" y="489.7" text-anchor="end">0</text>
<text x="69.6" y="429.7" text-anchor="end">1000</text>
<text x="69.6" y="369.7" text-anchor="end">2000</text>
<text x="69.6" y="309.7" text-anchor="end">3000</text>
<text x="69.6" y="249.7" text-anchor="end">4000</text>
<text x="69.6" y="189.7" text-anchor="end">5000</text>
<text x="69.6" y="129.7" text-anchor="end">6000</text>
<text x="69.6" y="69.7" text-anchor="end">7000</text>
<text x="532.5" y="581.5" text-anchor="middle">ds</text>
<text transform="translate(24.6,278.7) rotate(-90)" text-anchor="middle">y</text>
</svg></body></html>
